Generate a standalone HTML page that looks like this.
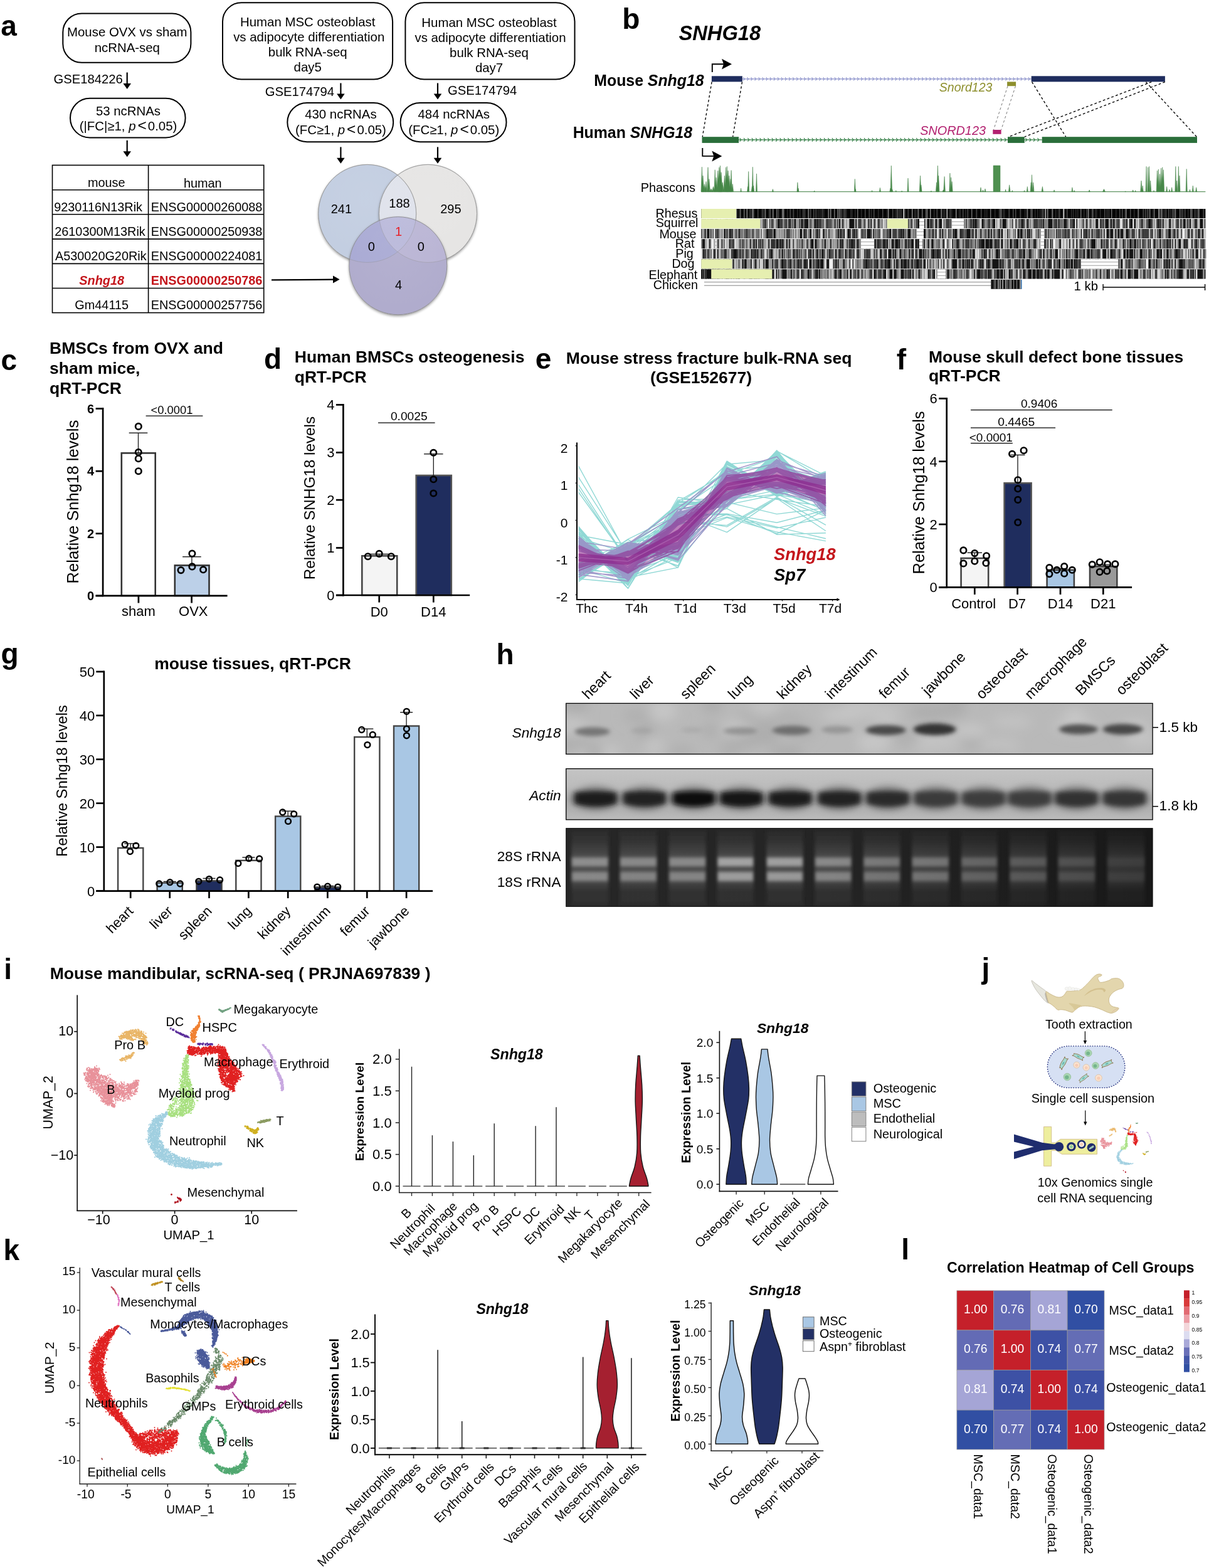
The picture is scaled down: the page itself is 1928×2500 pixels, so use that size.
<!DOCTYPE html>
<html lang="en"><head><meta charset="utf-8"><title>Figure</title>
<style>
html,body{margin:0;padding:0;background:#fff;}
body{width:1928px;height:2500px;overflow:hidden;}
svg{display:block;font-family:"Liberation Sans",sans-serif;fill:#000;}
svg text{white-space:pre;}
</style></head><body>
<svg width="1928" height="2500" viewBox="0 0 1928 2500">
<rect width="1928" height="2500" fill="#fff"/>
<g id="pa" font-size="19.7">
<text x="1.2" y="57.4" font-size="46" font-weight="bold">a</text>
<rect x="100.3" y="21.4" width="204.1" height="78.4" fill="#fff" stroke="#000" stroke-width="2.0" rx="30"/>
<text x="202.8" y="58.4" font-size="20.4" text-anchor="middle">Mouse OVX vs sham</text>
<text x="202.8" y="82.6" font-size="20.4" text-anchor="middle">ncRNA-seq</text>
<text x="85.5" y="133.4" font-size="20.25">GSE184226</text>
<line x1="202.7" y1="115.5" x2="202.7" y2="134" stroke="#000" stroke-width="2.2"/>
<path d="M196.4 133L209 133L202.7 142Z" fill="#000"/>
<rect x="112" y="156.8" width="183.6" height="62.7" fill="#fff" stroke="#000" stroke-width="2.0" rx="31.3"/>
<text x="204.5" y="183.9" font-size="20.4" text-anchor="middle">53 ncRNAs</text>
<text x="204.5" y="207.5" text-anchor="middle" font-size="20.4">(|FC|≥1, <tspan font-style="italic">p</tspan><tspan dx="3" font-size="24.5">&lt;</tspan><tspan dx="2">0.05)</tspan></text>
<line x1="202.7" y1="223.8" x2="202.7" y2="242.3" stroke="#000" stroke-width="2.2"/>
<path d="M196.4 241.3L209 241.3L202.7 250.3Z" fill="#000"/>
<rect x="83.5" y="263.4" width="337.2" height="235.2" fill="#fff" stroke="#000" stroke-width="1.6"/>
<line x1="236.6" y1="263.4" x2="236.6" y2="498.6" stroke="#000" stroke-width="1.6"/>
<line x1="83.5" y1="302.7" x2="420.7" y2="302.7" stroke="#000" stroke-width="1.6"/>
<line x1="83.5" y1="341.8" x2="420.7" y2="341.8" stroke="#000" stroke-width="1.6"/>
<line x1="83.5" y1="381.1" x2="420.7" y2="381.1" stroke="#000" stroke-width="1.6"/>
<line x1="83.5" y1="420.4" x2="420.7" y2="420.4" stroke="#000" stroke-width="1.6"/>
<line x1="83.5" y1="459.5" x2="420.7" y2="459.5" stroke="#000" stroke-width="1.6"/>
<text x="169.8" y="297.8" font-size="19.85" text-anchor="middle">mouse</text>
<text x="323.3" y="298.6" font-size="19.85" text-anchor="middle">human</text>
<text x="156.6" y="336.8" font-size="19.85" text-anchor="middle">9230116N13Rik</text>
<text x="329.6" y="336.8" font-size="19.85" text-anchor="middle">ENSG00000260088</text>
<text x="159.5" y="375.9" font-size="19.85" text-anchor="middle">2610300M13Rik</text>
<text x="329.6" y="375.9" font-size="19.85" text-anchor="middle">ENSG00000250938</text>
<text x="160.8" y="415" font-size="19.85" text-anchor="middle">A530020G20Rik</text>
<text x="329.6" y="415" font-size="19.85" text-anchor="middle">ENSG00000224081</text>
<text x="162.2" y="453.7" font-size="19.85" text-anchor="middle" font-weight="bold" font-style="italic" fill="#c4161c">Snhg18</text>
<text x="329.6" y="453.7" font-size="19.85" text-anchor="middle" font-weight="bold" fill="#c4161c">ENSG00000250786</text>
<text x="162.2" y="492.5" font-size="19.85" text-anchor="middle">Gm44115</text>
<text x="329.6" y="492.5" font-size="19.85" text-anchor="middle">ENSG00000257756</text>
<rect x="355" y="4.3" width="271.1" height="122.2" fill="#fff" stroke="#000" stroke-width="2.0" rx="30"/>
<rect x="646.4" y="4.3" width="270.1" height="122.2" fill="#fff" stroke="#000" stroke-width="2.0" rx="30"/>
<text x="490.7" y="42" font-size="20.4" text-anchor="middle">Human MSC osteoblast</text>
<text x="492.7" y="65.9" font-size="20.4" text-anchor="middle">vs adipocyte differentiation</text>
<text x="490.7" y="90.1" font-size="20.4" text-anchor="middle">bulk RNA-seq</text>
<text x="490.7" y="114" font-size="20.4" text-anchor="middle">day5</text>
<text x="780" y="43.3" font-size="20.4" text-anchor="middle">Human MSC osteoblast</text>
<text x="782" y="67.2" font-size="20.4" text-anchor="middle">vs adipocyte differentiation</text>
<text x="780" y="91.4" font-size="20.4" text-anchor="middle">bulk RNA-seq</text>
<text x="780" y="115.3" font-size="20.4" text-anchor="middle">day7</text>
<text x="422.7" y="153.2" font-size="20.25">GSE174794</text>
<text x="714" y="151.4" font-size="20.25">GSE174794</text>
<line x1="543.4" y1="132.5" x2="543.4" y2="150.5" stroke="#000" stroke-width="2.2"/>
<path d="M537.1 149.5L549.7 149.5L543.4 158.5Z" fill="#000"/>
<line x1="698" y1="132.5" x2="698" y2="150.5" stroke="#000" stroke-width="2.2"/>
<path d="M691.7 149.5L704.3 149.5L698 158.5Z" fill="#000"/>
<rect x="458.3" y="163.9" width="168.9" height="62.3" fill="#fff" stroke="#000" stroke-width="2.0" rx="31.2"/>
<rect x="638.6" y="163.9" width="168.9" height="62.3" fill="#fff" stroke="#000" stroke-width="2.0" rx="31.2"/>
<text x="543.4" y="188.8" font-size="20.4" text-anchor="middle">430 ncRNAs</text>
<text x="543.4" y="213.8" text-anchor="middle" font-size="20.4">(FC≥1, <tspan font-style="italic">p</tspan><tspan dx="3" font-size="24.5">&lt;</tspan><tspan dx="2">0.05)</tspan></text>
<text x="723.7" y="188.8" font-size="20.4" text-anchor="middle">484 ncRNAs</text>
<text x="723.7" y="213.8" text-anchor="middle" font-size="20.4">(FC≥1, <tspan font-style="italic">p</tspan><tspan dx="3" font-size="24.5">&lt;</tspan><tspan dx="2">0.05)</tspan></text>
<line x1="543.4" y1="234.4" x2="543.4" y2="252.8" stroke="#000" stroke-width="2.2"/>
<path d="M537.1 251.8L549.7 251.8L543.4 260.8Z" fill="#000"/>
<line x1="698" y1="234.4" x2="698" y2="252.8" stroke="#000" stroke-width="2.2"/>
<path d="M691.7 251.8L704.3 251.8L698 260.8Z" fill="#000"/>
<defs><filter id="vsh" x="-20%" y="-20%" width="140%" height="140%"><feGaussianBlur in="SourceAlpha" stdDeviation="2.2"/><feOffset dx="0" dy="1.5"/><feComponentTransfer><feFuncA type="linear" slope="0.45"/></feComponentTransfer><feMerge><feMergeNode/><feMergeNode in="SourceGraphic"/></feMerge></filter></defs>
<defs><clipPath id="vA"><circle cx="585.7" cy="340.4" r="78"/></clipPath><clipPath id="vB"><circle cx="682.5" cy="340.4" r="78"/></clipPath><radialGradient id="vg" cx="0.5" cy="0.35" r="0.75"><stop offset="0" stop-color="#fff" stop-opacity="0.06"/><stop offset="0.8" stop-color="#fff" stop-opacity="0"/><stop offset="1" stop-color="#000" stop-opacity="0.05"/></radialGradient></defs>
<g filter="url(#vsh)"><circle cx="585.7" cy="340.4" r="78" fill="#c3cee1"/>
</g><g filter="url(#vsh)"><circle cx="682.5" cy="340.4" r="78" fill="#e6e5e4"/>
</g><g clip-path="url(#vA)"><circle cx="682.5" cy="340.4" r="78" fill="#dfe2eb"/>
</g><circle cx="585.7" cy="340.4" r="78" fill="none" stroke="#8f8f8f" stroke-width="1" stroke-opacity="0.8"/>
<circle cx="682.5" cy="340.4" r="78" fill="none" stroke="#8f8f8f" stroke-width="1" stroke-opacity="0.8"/>
<g filter="url(#vsh)"><circle cx="634.8" cy="423.7" r="78" fill="#b0accd"/>
</g><g clip-path="url(#vA)"><circle cx="634.8" cy="423.7" r="78" fill="#a9aad4"/>
</g><g clip-path="url(#vB)"><circle cx="634.8" cy="423.7" r="78" fill="#b9b4d4"/>
</g><g clip-path="url(#vA)"><g clip-path="url(#vB)"><circle cx="634.8" cy="423.7" r="78" fill="#b9b8da"/>
</g></g><circle cx="585.7" cy="340.4" r="78" fill="url(#vg)"/>
<circle cx="682.5" cy="340.4" r="78" fill="url(#vg)"/>
<circle cx="634.8" cy="423.7" r="78" fill="url(#vg)"/>
<circle cx="585.7" cy="340.4" r="78" fill="none" stroke="#8f8f8f" stroke-width="0.9" stroke-opacity="0.45"/>
<circle cx="682.5" cy="340.4" r="78" fill="none" stroke="#8f8f8f" stroke-width="0.9" stroke-opacity="0.45"/>
<circle cx="634.8" cy="423.7" r="78" fill="none" stroke="#8a8a8a" stroke-width="1" stroke-opacity="0.85"/>

<text x="544.4" y="339.7" font-size="20" text-anchor="middle">241</text>
<text x="637" y="330.5" font-size="20" text-anchor="middle">188</text>
<text x="718.9" y="339.7" font-size="20" text-anchor="middle">295</text>
<text x="635.5" y="376.2" font-size="20" text-anchor="middle" fill="#e8222a">1</text>
<text x="592.3" y="399.6" font-size="20" text-anchor="middle">0</text>
<text x="671.3" y="399.6" font-size="20" text-anchor="middle">0</text>
<text x="635.5" y="461.4" font-size="20" text-anchor="middle">4</text>
<line x1="433" y1="446.4" x2="532" y2="445.6" stroke="#000" stroke-width="2.2"/>
<path d="M531 439.6L541.6 445.6L531 451.6Z" fill="#000"/>
</g>
<g id="pb">
<text x="992.2" y="46" font-size="46" font-weight="bold">b</text>
<text x="1082.5" y="64.4" font-size="32.66" font-weight="bold" font-style="italic">SNHG18</text>
<line x1="1183.8" y1="125.9" x2="1644.7" y2="125.9" stroke="#8f95cc" stroke-width="1.25"/>
<path d="M1185.3 123.4l2.1 2.5l-2.1 2.5M1191.4 123.4l2.1 2.5l-2.1 2.5M1197.5 123.4l2.1 2.5l-2.1 2.5M1203.5 123.4l2.1 2.5l-2.1 2.5M1209.6 123.4l2.1 2.5l-2.1 2.5M1215.6 123.4l2.1 2.5l-2.1 2.5M1221.7 123.4l2.1 2.5l-2.1 2.5M1227.8 123.4l2.1 2.5l-2.1 2.5M1233.8 123.4l2.1 2.5l-2.1 2.5M1239.9 123.4l2.1 2.5l-2.1 2.5M1245.9 123.4l2.1 2.5l-2.1 2.5M1252 123.4l2.1 2.5l-2.1 2.5M1258.1 123.4l2.1 2.5l-2.1 2.5M1264.1 123.4l2.1 2.5l-2.1 2.5M1270.2 123.4l2.1 2.5l-2.1 2.5M1276.2 123.4l2.1 2.5l-2.1 2.5M1282.3 123.4l2.1 2.5l-2.1 2.5M1288.4 123.4l2.1 2.5l-2.1 2.5M1294.4 123.4l2.1 2.5l-2.1 2.5M1300.5 123.4l2.1 2.5l-2.1 2.5M1306.5 123.4l2.1 2.5l-2.1 2.5M1312.6 123.4l2.1 2.5l-2.1 2.5M1318.7 123.4l2.1 2.5l-2.1 2.5M1324.7 123.4l2.1 2.5l-2.1 2.5M1330.8 123.4l2.1 2.5l-2.1 2.5M1336.8 123.4l2.1 2.5l-2.1 2.5M1342.9 123.4l2.1 2.5l-2.1 2.5M1349 123.4l2.1 2.5l-2.1 2.5M1355 123.4l2.1 2.5l-2.1 2.5M1361.1 123.4l2.1 2.5l-2.1 2.5M1367.1 123.4l2.1 2.5l-2.1 2.5M1373.2 123.4l2.1 2.5l-2.1 2.5M1379.3 123.4l2.1 2.5l-2.1 2.5M1385.3 123.4l2.1 2.5l-2.1 2.5M1391.4 123.4l2.1 2.5l-2.1 2.5M1397.4 123.4l2.1 2.5l-2.1 2.5M1403.5 123.4l2.1 2.5l-2.1 2.5M1409.6 123.4l2.1 2.5l-2.1 2.5M1415.6 123.4l2.1 2.5l-2.1 2.5M1421.7 123.4l2.1 2.5l-2.1 2.5M1427.7 123.4l2.1 2.5l-2.1 2.5M1433.8 123.4l2.1 2.5l-2.1 2.5M1439.9 123.4l2.1 2.5l-2.1 2.5M1445.9 123.4l2.1 2.5l-2.1 2.5M1452 123.4l2.1 2.5l-2.1 2.5M1458 123.4l2.1 2.5l-2.1 2.5M1464.1 123.4l2.1 2.5l-2.1 2.5M1470.2 123.4l2.1 2.5l-2.1 2.5M1476.2 123.4l2.1 2.5l-2.1 2.5M1482.3 123.4l2.1 2.5l-2.1 2.5M1488.3 123.4l2.1 2.5l-2.1 2.5M1494.4 123.4l2.1 2.5l-2.1 2.5M1500.5 123.4l2.1 2.5l-2.1 2.5M1506.5 123.4l2.1 2.5l-2.1 2.5M1512.6 123.4l2.1 2.5l-2.1 2.5M1518.6 123.4l2.1 2.5l-2.1 2.5M1524.7 123.4l2.1 2.5l-2.1 2.5M1530.8 123.4l2.1 2.5l-2.1 2.5M1536.8 123.4l2.1 2.5l-2.1 2.5M1542.9 123.4l2.1 2.5l-2.1 2.5M1548.9 123.4l2.1 2.5l-2.1 2.5M1555 123.4l2.1 2.5l-2.1 2.5M1561.1 123.4l2.1 2.5l-2.1 2.5M1567.1 123.4l2.1 2.5l-2.1 2.5M1573.2 123.4l2.1 2.5l-2.1 2.5M1579.2 123.4l2.1 2.5l-2.1 2.5M1585.3 123.4l2.1 2.5l-2.1 2.5M1591.4 123.4l2.1 2.5l-2.1 2.5M1597.4 123.4l2.1 2.5l-2.1 2.5M1603.5 123.4l2.1 2.5l-2.1 2.5M1609.5 123.4l2.1 2.5l-2.1 2.5M1615.6 123.4l2.1 2.5l-2.1 2.5M1621.7 123.4l2.1 2.5l-2.1 2.5M1627.7 123.4l2.1 2.5l-2.1 2.5M1633.8 123.4l2.1 2.5l-2.1 2.5M1639.8 123.4l2.1 2.5l-2.1 2.5" fill="none" stroke="#8f95cc" stroke-width="1.125"/>
<rect x="1134.9" y="121.3" width="48.9" height="9.1" fill="#1f2d5e"/>
<rect x="1644.7" y="121.3" width="213.2" height="9.1" fill="#1f2d5e"/>
<path d="M1135.8 115L1135.8 102.2L1155 102.2" fill="none" stroke="#000" stroke-width="1.9"/>
<path d="M1151 93.8L1167 102.2L1151 110.6L1154 102.2Z" fill="#000"/>
<text x="1122.6" y="137.2" text-anchor="end" font-size="24.85" font-weight="bold">Mouse <tspan font-style="italic">Snhg18</tspan></text>
<text x="1104.2" y="219.7" text-anchor="end" font-size="24.85" font-weight="bold">Human <tspan font-style="italic">SNHG18</tspan></text>
<line x1="1178.1" y1="222.9" x2="1607" y2="222.9" stroke="#2d7a40" stroke-width="1.2"/>
<path d="M1179.6 220.1l2.3 2.8l-2.3 2.8M1186 220.1l2.3 2.8l-2.3 2.8M1192.4 220.1l2.3 2.8l-2.3 2.8M1198.8 220.1l2.3 2.8l-2.3 2.8M1205.2 220.1l2.3 2.8l-2.3 2.8M1211.6 220.1l2.3 2.8l-2.3 2.8M1218 220.1l2.3 2.8l-2.3 2.8M1224.4 220.1l2.3 2.8l-2.3 2.8M1230.8 220.1l2.3 2.8l-2.3 2.8M1237.2 220.1l2.3 2.8l-2.3 2.8M1243.6 220.1l2.3 2.8l-2.3 2.8M1250 220.1l2.3 2.8l-2.3 2.8M1256.4 220.1l2.3 2.8l-2.3 2.8M1262.8 220.1l2.3 2.8l-2.3 2.8M1269.2 220.1l2.3 2.8l-2.3 2.8M1275.6 220.1l2.3 2.8l-2.3 2.8M1282 220.1l2.3 2.8l-2.3 2.8M1288.4 220.1l2.3 2.8l-2.3 2.8M1294.8 220.1l2.3 2.8l-2.3 2.8M1301.2 220.1l2.3 2.8l-2.3 2.8M1307.6 220.1l2.3 2.8l-2.3 2.8M1314 220.1l2.3 2.8l-2.3 2.8M1320.4 220.1l2.3 2.8l-2.3 2.8M1326.8 220.1l2.3 2.8l-2.3 2.8M1333.2 220.1l2.3 2.8l-2.3 2.8M1339.6 220.1l2.3 2.8l-2.3 2.8M1346 220.1l2.3 2.8l-2.3 2.8M1352.4 220.1l2.3 2.8l-2.3 2.8M1358.8 220.1l2.3 2.8l-2.3 2.8M1365.2 220.1l2.3 2.8l-2.3 2.8M1371.6 220.1l2.3 2.8l-2.3 2.8M1378 220.1l2.3 2.8l-2.3 2.8M1384.4 220.1l2.3 2.8l-2.3 2.8M1390.8 220.1l2.3 2.8l-2.3 2.8M1397.2 220.1l2.3 2.8l-2.3 2.8M1403.6 220.1l2.3 2.8l-2.3 2.8M1410 220.1l2.3 2.8l-2.3 2.8M1416.4 220.1l2.3 2.8l-2.3 2.8M1422.8 220.1l2.3 2.8l-2.3 2.8M1429.2 220.1l2.3 2.8l-2.3 2.8M1435.6 220.1l2.3 2.8l-2.3 2.8M1442 220.1l2.3 2.8l-2.3 2.8M1448.4 220.1l2.3 2.8l-2.3 2.8M1454.8 220.1l2.3 2.8l-2.3 2.8M1461.2 220.1l2.3 2.8l-2.3 2.8M1467.6 220.1l2.3 2.8l-2.3 2.8M1474 220.1l2.3 2.8l-2.3 2.8M1480.4 220.1l2.3 2.8l-2.3 2.8M1486.8 220.1l2.3 2.8l-2.3 2.8M1493.2 220.1l2.3 2.8l-2.3 2.8M1499.6 220.1l2.3 2.8l-2.3 2.8M1506 220.1l2.3 2.8l-2.3 2.8M1512.4 220.1l2.3 2.8l-2.3 2.8M1518.8 220.1l2.3 2.8l-2.3 2.8M1525.2 220.1l2.3 2.8l-2.3 2.8M1531.6 220.1l2.3 2.8l-2.3 2.8M1538 220.1l2.3 2.8l-2.3 2.8M1544.4 220.1l2.3 2.8l-2.3 2.8M1550.8 220.1l2.3 2.8l-2.3 2.8M1557.2 220.1l2.3 2.8l-2.3 2.8M1563.6 220.1l2.3 2.8l-2.3 2.8M1570 220.1l2.3 2.8l-2.3 2.8M1576.4 220.1l2.3 2.8l-2.3 2.8M1582.8 220.1l2.3 2.8l-2.3 2.8M1589.2 220.1l2.3 2.8l-2.3 2.8M1595.6 220.1l2.3 2.8l-2.3 2.8M1602 220.1l2.3 2.8l-2.3 2.8" fill="none" stroke="#2d7a40" stroke-width="1.08"/>
<line x1="1633.8" y1="222.9" x2="1661.7" y2="222.9" stroke="#2d7a40" stroke-width="1.2"/>
<path d="M1635.3 220.1l2.3 2.8l-2.3 2.8M1641.7 220.1l2.3 2.8l-2.3 2.8M1648.1 220.1l2.3 2.8l-2.3 2.8M1654.5 220.1l2.3 2.8l-2.3 2.8" fill="none" stroke="#2d7a40" stroke-width="1.08"/>
<rect x="1119.5" y="218.2" width="58.6" height="9.7" fill="#2a6e3a"/>
<rect x="1607" y="218.2" width="26.8" height="9.7" fill="#2a6e3a"/>
<rect x="1661.7" y="218.2" width="247.3" height="9.7" fill="#2a6e3a"/>
<path d="M1120.3 236L1120.3 248.9L1139 248.9" fill="none" stroke="#000" stroke-width="1.9"/>
<path d="M1135.3 240.4L1151.3 248.9L1135.3 257.4L1138.3 248.9Z" fill="#000"/>
<rect x="1606.1" y="130.4" width="14" height="6.8" fill="#8d8f2d"/>
<text x="1497.8" y="146.4" font-size="19.51" font-style="italic" fill="#8d8f2d">Snord123</text>
<rect x="1583.3" y="207" width="13.3" height="6.8" fill="#b2206f"/>
<text x="1467.2" y="215.3" font-size="19.85" font-style="italic" fill="#b2206f">SNORD123</text>
<line x1="1135.1" y1="130.6" x2="1120.2" y2="218.2" stroke="#000" stroke-width="1.35" stroke-dasharray="3.8 3.4"/>
<line x1="1183.5" y1="130.6" x2="1168.6" y2="218.2" stroke="#000" stroke-width="1.35" stroke-dasharray="3.8 3.4"/>
<line x1="1607" y1="137.2" x2="1584.5" y2="207" stroke="#777" stroke-width="1" stroke-dasharray="3.8 3.4"/>
<line x1="1619.5" y1="137.2" x2="1596.6" y2="207" stroke="#777" stroke-width="1" stroke-dasharray="3.8 3.4"/>
<line x1="1645.6" y1="130.6" x2="1699.7" y2="218.2" stroke="#000" stroke-width="1.35" stroke-dasharray="3.8 3.4"/>
<line x1="1836.3" y1="130.6" x2="1608.2" y2="218.2" stroke="#000" stroke-width="1.35" stroke-dasharray="3.8 3.4"/>
<line x1="1857.9" y1="130.6" x2="1633.8" y2="218.2" stroke="#000" stroke-width="1.35" stroke-dasharray="3.8 3.4"/>
<line x1="1827.4" y1="130.6" x2="1908.4" y2="218.2" stroke="#000" stroke-width="1.35" stroke-dasharray="3.8 3.4"/>
<path d="M1118 305.7L1119.4 266.2L1120.7 305.7ZM1119.4 305.7L1121 280.1L1122.6 305.7ZM1121.2 305.7L1123.4 293.4L1125.5 305.7ZM1124.4 305.7L1126 289.4L1127.6 305.7ZM1127.6 305.7L1129 266.7L1130.3 305.7ZM1129.3 305.7L1130.9 285.4L1132.5 305.7ZM1131.9 305.7L1134.1 300.9L1136.2 305.7ZM1135.4 305.7L1137.5 297.5L1139.7 305.7ZM1138.9 305.7L1140.2 270.7L1141.5 305.7ZM1140.5 305.7L1142.1 282.8L1143.7 305.7ZM1142.9 305.7L1144.8 272.1L1146.6 305.7ZM1144.8 305.7L1146.9 266.7L1149 305.7ZM1146.6 305.7L1148.5 264.1L1150.4 305.7ZM1148 305.7L1150.1 274.7L1152.2 305.7ZM1150.1 305.7L1152.2 290.8L1154.4 305.7ZM1153.8 305.7L1155.4 280.1L1157 305.7ZM1156 305.7L1157.6 266.7L1159.2 305.7ZM1157.8 305.7L1159.4 265.4L1161.1 305.7ZM1159.2 305.7L1161.1 272.1L1162.9 305.7ZM1161.3 305.7L1162.9 280.1L1164.5 305.7ZM1163.7 305.7L1165.1 285.4L1166.4 305.7ZM1164.8 305.7L1166.1 271.5L1167.5 305.7ZM1166.9 305.7L1168.3 293.4L1169.6 305.7ZM1180.8 305.7L1181.6 300.1L1182.4 305.7ZM1192.6 305.7L1193.7 273.4L1194.7 305.7ZM1191.5 305.7L1192.6 297.5L1193.7 305.7ZM1199.3 305.7L1200.3 266.2L1201.4 305.7ZM1198.2 305.7L1199.3 297.5L1200.3 305.7ZM1200.6 305.7L1201.7 296.1L1202.7 305.7ZM1205.4 305.7L1206.5 276.9L1207.5 305.7ZM1231.3 305.7L1232.4 301.5L1233.5 305.7ZM1270.9 305.7L1271.9 290.8L1273 305.7ZM1271.9 305.7L1273 300.1L1274.1 305.7ZM1297.6 305.7L1298.7 304.1L1299.7 305.7ZM1362.3 305.7L1363.3 285.4L1364.4 305.7ZM1363.6 305.7L1364.4 301.5L1365.2 305.7ZM1389.8 305.7L1390.6 303.6L1391.4 305.7ZM1402.4 305.7L1403.4 299.3L1404.5 305.7ZM1420 305.7L1421.3 264.1L1422.7 305.7ZM1418.7 305.7L1420 300.1L1421.3 305.7ZM1421.3 305.7L1422.7 301.5L1424 305.7ZM1428 305.7L1428.8 303.6L1429.6 305.7ZM1437.4 305.7L1438.2 304.1L1439 305.7ZM1447 305.7L1448 284.1L1449.1 305.7ZM1466.2 305.7L1467.6 280.1L1468.9 305.7ZM1467.6 305.7L1468.9 294.8L1470.2 305.7ZM1484.1 305.7L1484.9 304.1L1485.7 305.7ZM1492.4 305.7L1493.5 290.8L1494.6 305.7ZM1494 305.7L1495.4 264.1L1496.7 305.7ZM1495.4 305.7L1496.7 280.1L1498 305.7ZM1504.7 305.7L1506.1 281.4L1507.4 305.7ZM1502.9 305.7L1504.2 302.8L1505.5 305.7ZM1513.8 305.7L1514.9 276.1L1515.9 305.7ZM1515.7 305.7L1516.7 282.8L1517.8 305.7ZM1517 305.7L1518.1 289.4L1519.2 305.7ZM1563 305.7L1564 298.8L1565.1 305.7ZM1566.5 305.7L1567.5 302.8L1568.6 305.7ZM1569.9 305.7L1571 300.9L1572.1 305.7ZM1602.8 305.7L1603.6 302L1604.4 305.7ZM1608.4 305.7L1609.7 294.8L1611.1 305.7ZM1613.5 305.7L1614.3 303.6L1615.1 305.7ZM1632.7 305.7L1633.5 303.6L1634.3 305.7ZM1637.3 305.7L1638.3 297.5L1639.4 305.7ZM1643.1 305.7L1644.2 290.8L1645.3 305.7ZM1644.5 305.7L1645.5 278.7L1646.6 305.7ZM1646.4 305.7L1647.7 290.8L1649 305.7ZM1661 305.7L1662.4 297.5L1663.7 305.7ZM1680 305.7L1681.1 302.8L1682.2 305.7ZM1708.9 305.7L1709.9 298.8L1711 305.7ZM1712.1 305.7L1713.2 303.6L1714.2 305.7ZM1735.9 305.7L1737.2 302.8L1738.5 305.7ZM1758.3 305.7L1760.5 301.5L1762.6 305.7ZM1793.9 305.7L1794.7 304.7L1795.5 305.7ZM1805.6 305.7L1806.7 302.8L1807.8 305.7ZM1809.9 305.7L1810.7 303.6L1811.5 305.7ZM1818.7 305.7L1820 288.1L1821.4 305.7ZM1821.1 305.7L1822.2 296.1L1823.3 305.7ZM1827 305.7L1828.1 265.4L1829.1 305.7ZM1829.9 305.7L1830.7 266.7L1831.5 305.7ZM1831.5 305.7L1832.6 265.4L1833.7 305.7ZM1833.7 305.7L1834.7 288.1L1835.8 305.7ZM1839.3 305.7L1840.1 303.6L1840.9 305.7ZM1844.1 305.7L1845.4 272.1L1846.8 305.7ZM1846 305.7L1847.3 269.9L1848.6 305.7ZM1848.1 305.7L1849.4 277.4L1850.8 305.7ZM1850.2 305.7L1851.6 268.1L1852.9 305.7ZM1852.1 305.7L1853.7 266.7L1855.3 305.7ZM1854 305.7L1855.3 270.7L1856.7 305.7ZM1859.6 305.7L1860.7 297.5L1861.7 305.7ZM1863.9 305.7L1864.9 302L1866 305.7ZM1867.6 305.7L1868.7 298.8L1869.7 305.7ZM1873.8 305.7L1874.8 265.4L1875.9 305.7ZM1875.6 305.7L1876.7 288.1L1877.8 305.7ZM1878.3 305.7L1879.4 265.4L1880.4 305.7ZM1879.9 305.7L1881 280.1L1882 305.7ZM1891.1 305.7L1892.2 269.4L1893.3 305.7ZM1896.7 305.7L1897.5 302L1898.3 305.7ZM1901.3 305.7L1902.3 296.1L1903.4 305.7ZM1906.6 305.7L1907.7 298.8L1908.8 305.7ZM1584.1 305.7V264H1595V305.7Z" fill="#4f9050" stroke="#3a7d3e" stroke-width="0.5"/>
<line x1="1118.3" y1="305.7" x2="1922.4" y2="305.7" stroke="#3a7d3e" stroke-width="1"/>
<text x="1109" y="306.3" font-size="19.9" text-anchor="end">Phascons</text>
<rect x="1118.3" y="333" width="804.1" height="15" fill="#060606"/>
<rect x="1118.3" y="349.1" width="804.1" height="15" fill="#6c6c6c"/>
<rect x="1118.3" y="365.1" width="804.1" height="15" fill="#6c6c6c"/>
<rect x="1118.3" y="381.2" width="804.1" height="15" fill="#6c6c6c"/>
<rect x="1118.3" y="397.2" width="804.1" height="15" fill="#6c6c6c"/>
<rect x="1118.3" y="413.3" width="804.1" height="15" fill="#6c6c6c"/>
<rect x="1118.3" y="429.4" width="804.1" height="15" fill="#6c6c6c"/>
<path d="M1120.3 349.1h2v15h-2zM1123.3 349.1h2v15h-2zM1128.3 349.1h1v15h-1zM1133.3 349.1h2v15h-2zM1135.3 349.1h2v15h-2zM1141.3 349.1h2v15h-2zM1149.3 349.1h1v15h-1zM1157.3 349.1h1v15h-1zM1158.3 349.1h2v15h-2zM1160.3 349.1h1v15h-1zM1162.3 349.1h1v15h-1zM1167.3 349.1h1v15h-1zM1168.3 349.1h1v15h-1zM1180.3 349.1h1v15h-1zM1181.3 349.1h2v15h-2zM1185.3 349.1h2v15h-2zM1188.3 349.1h2v15h-2zM1191.3 349.1h1v15h-1zM1192.3 349.1h1v15h-1zM1196.3 349.1h1v15h-1zM1201.3 349.1h1v15h-1zM1207.3 349.1h2v15h-2zM1211.3 349.1h1v15h-1zM1216.3 349.1h1v15h-1zM1219.3 349.1h1v15h-1zM1221.3 349.1h1v15h-1zM1223.3 349.1h1v15h-1zM1227.3 349.1h1v15h-1zM1230.3 349.1h1v15h-1zM1231.3 349.1h1v15h-1zM1233.3 349.1h1v15h-1zM1237.3 349.1h1v15h-1zM1240.3 349.1h2v15h-2zM1242.3 349.1h1v15h-1zM1257.3 349.1h2v15h-2zM1266.3 349.1h1v15h-1zM1267.3 349.1h2v15h-2zM1277.3 349.1h1v15h-1zM1278.3 349.1h2v15h-2zM1283.3 349.1h2v15h-2zM1285.3 349.1h1v15h-1zM1286.3 349.1h1v15h-1zM1287.3 349.1h2v15h-2zM1290.3 349.1h1v15h-1zM1292.3 349.1h1v15h-1zM1298.3 349.1h1v15h-1zM1299.3 349.1h1v15h-1zM1300.3 349.1h1v15h-1zM1302.3 349.1h1v15h-1zM1303.3 349.1h1v15h-1zM1309.3 349.1h1v15h-1zM1318.3 349.1h1v15h-1zM1335.3 349.1h1v15h-1zM1338.3 349.1h2v15h-2zM1343.3 349.1h1v15h-1zM1354.3 349.1h2v15h-2zM1356.3 349.1h1v15h-1zM1357.3 349.1h1v15h-1zM1358.3 349.1h1v15h-1zM1359.3 349.1h1v15h-1zM1360.3 349.1h2v15h-2zM1364.3 349.1h2v15h-2zM1376.3 349.1h1v15h-1zM1378.3 349.1h2v15h-2zM1384.3 349.1h2v15h-2zM1388.3 349.1h2v15h-2zM1402.3 349.1h1v15h-1zM1420.3 349.1h2v15h-2zM1424.3 349.1h1v15h-1zM1425.3 349.1h1v15h-1zM1426.3 349.1h1v15h-1zM1428.3 349.1h1v15h-1zM1429.3 349.1h2v15h-2zM1431.3 349.1h1v15h-1zM1432.3 349.1h1v15h-1zM1439.3 349.1h1v15h-1zM1448.3 349.1h1v15h-1zM1453.3 349.1h1v15h-1zM1454.3 349.1h1v15h-1zM1457.3 349.1h1v15h-1zM1463.3 349.1h1v15h-1zM1464.3 349.1h2v15h-2zM1473.3 349.1h2v15h-2zM1478.3 349.1h1v15h-1zM1479.3 349.1h1v15h-1zM1480.3 349.1h1v15h-1zM1481.3 349.1h1v15h-1zM1483.3 349.1h2v15h-2zM1491.3 349.1h2v15h-2zM1493.3 349.1h1v15h-1zM1497.3 349.1h1v15h-1zM1498.3 349.1h2v15h-2zM1500.3 349.1h1v15h-1zM1501.3 349.1h1v15h-1zM1512.3 349.1h1v15h-1zM1515.3 349.1h1v15h-1zM1522.3 349.1h1v15h-1zM1528.3 349.1h2v15h-2zM1532.3 349.1h1v15h-1zM1545.3 349.1h1v15h-1zM1547.3 349.1h2v15h-2zM1551.3 349.1h2v15h-2zM1554.3 349.1h1v15h-1zM1555.3 349.1h2v15h-2zM1560.3 349.1h1v15h-1zM1565.3 349.1h1v15h-1zM1566.3 349.1h2v15h-2zM1576.3 349.1h1v15h-1zM1583.3 349.1h2v15h-2zM1585.3 349.1h2v15h-2zM1589.3 349.1h1v15h-1zM1598.3 349.1h1v15h-1zM1599.3 349.1h2v15h-2zM1601.3 349.1h2v15h-2zM1603.3 349.1h1v15h-1zM1610.3 349.1h1v15h-1zM1614.3 349.1h1v15h-1zM1619.3 349.1h2v15h-2zM1628.3 349.1h2v15h-2zM1630.3 349.1h1v15h-1zM1638.3 349.1h2v15h-2zM1648.3 349.1h1v15h-1zM1650.3 349.1h1v15h-1zM1654.3 349.1h1v15h-1zM1656.3 349.1h1v15h-1zM1663.3 349.1h2v15h-2zM1666.3 349.1h1v15h-1zM1671.3 349.1h2v15h-2zM1673.3 349.1h1v15h-1zM1674.3 349.1h1v15h-1zM1675.3 349.1h2v15h-2zM1677.3 349.1h1v15h-1zM1685.3 349.1h1v15h-1zM1687.3 349.1h2v15h-2zM1696.3 349.1h1v15h-1zM1697.3 349.1h1v15h-1zM1698.3 349.1h2v15h-2zM1701.3 349.1h1v15h-1zM1711.3 349.1h1v15h-1zM1712.3 349.1h1v15h-1zM1713.3 349.1h1v15h-1zM1716.3 349.1h1v15h-1zM1717.3 349.1h1v15h-1zM1725.3 349.1h1v15h-1zM1731.3 349.1h2v15h-2zM1734.3 349.1h1v15h-1zM1747.3 349.1h2v15h-2zM1749.3 349.1h1v15h-1zM1750.3 349.1h1v15h-1zM1754.3 349.1h2v15h-2zM1762.3 349.1h1v15h-1zM1763.3 349.1h1v15h-1zM1764.3 349.1h1v15h-1zM1765.3 349.1h1v15h-1zM1766.3 349.1h2v15h-2zM1771.3 349.1h2v15h-2zM1775.3 349.1h2v15h-2zM1783.3 349.1h1v15h-1zM1791.3 349.1h1v15h-1zM1796.3 349.1h2v15h-2zM1802.3 349.1h2v15h-2zM1804.3 349.1h2v15h-2zM1808.3 349.1h2v15h-2zM1810.3 349.1h1v15h-1zM1822.3 349.1h1v15h-1zM1824.3 349.1h1v15h-1zM1831.3 349.1h1v15h-1zM1832.3 349.1h1v15h-1zM1833.3 349.1h1v15h-1zM1834.3 349.1h1v15h-1zM1844.3 349.1h1v15h-1zM1846.3 349.1h1v15h-1zM1847.3 349.1h1v15h-1zM1855.3 349.1h1v15h-1zM1864.3 349.1h2v15h-2zM1866.3 349.1h1v15h-1zM1882.3 349.1h2v15h-2zM1887.3 349.1h2v15h-2zM1889.3 349.1h1v15h-1zM1897.3 349.1h2v15h-2zM1906.3 349.1h2v15h-2zM1913.3 349.1h1v15h-1zM1914.3 349.1h2v15h-2zM1916.3 349.1h1v15h-1zM1917.3 349.1h1v15h-1zM1118.3 365.1h1v15h-1zM1123.3 365.1h1v15h-1zM1125.3 365.1h1v15h-1zM1127.3 365.1h2v15h-2zM1129.3 365.1h2v15h-2zM1137.3 365.1h1v15h-1zM1141.3 365.1h1v15h-1zM1144.3 365.1h1v15h-1zM1145.3 365.1h1v15h-1zM1147.3 365.1h1v15h-1zM1154.3 365.1h2v15h-2zM1156.3 365.1h1v15h-1zM1158.3 365.1h2v15h-2zM1163.3 365.1h2v15h-2zM1173.3 365.1h1v15h-1zM1179.3 365.1h1v15h-1zM1183.3 365.1h1v15h-1zM1209.3 365.1h1v15h-1zM1222.3 365.1h2v15h-2zM1224.3 365.1h1v15h-1zM1226.3 365.1h1v15h-1zM1229.3 365.1h1v15h-1zM1231.3 365.1h1v15h-1zM1233.3 365.1h2v15h-2zM1235.3 365.1h2v15h-2zM1238.3 365.1h1v15h-1zM1242.3 365.1h1v15h-1zM1248.3 365.1h1v15h-1zM1255.3 365.1h1v15h-1zM1262.3 365.1h1v15h-1zM1272.3 365.1h1v15h-1zM1275.3 365.1h1v15h-1zM1276.3 365.1h1v15h-1zM1277.3 365.1h1v15h-1zM1278.3 365.1h1v15h-1zM1281.3 365.1h2v15h-2zM1289.3 365.1h1v15h-1zM1291.3 365.1h1v15h-1zM1292.3 365.1h2v15h-2zM1296.3 365.1h1v15h-1zM1302.3 365.1h2v15h-2zM1312.3 365.1h2v15h-2zM1314.3 365.1h1v15h-1zM1336.3 365.1h1v15h-1zM1337.3 365.1h1v15h-1zM1339.3 365.1h1v15h-1zM1340.3 365.1h1v15h-1zM1345.3 365.1h1v15h-1zM1346.3 365.1h1v15h-1zM1351.3 365.1h1v15h-1zM1352.3 365.1h1v15h-1zM1353.3 365.1h1v15h-1zM1354.3 365.1h1v15h-1zM1356.3 365.1h1v15h-1zM1359.3 365.1h2v15h-2zM1362.3 365.1h2v15h-2zM1365.3 365.1h2v15h-2zM1376.3 365.1h1v15h-1zM1382.3 365.1h2v15h-2zM1384.3 365.1h2v15h-2zM1386.3 365.1h2v15h-2zM1389.3 365.1h1v15h-1zM1392.3 365.1h2v15h-2zM1396.3 365.1h1v15h-1zM1415.3 365.1h1v15h-1zM1418.3 365.1h1v15h-1zM1419.3 365.1h1v15h-1zM1420.3 365.1h1v15h-1zM1423.3 365.1h1v15h-1zM1436.3 365.1h2v15h-2zM1440.3 365.1h2v15h-2zM1447.3 365.1h1v15h-1zM1448.3 365.1h2v15h-2zM1450.3 365.1h2v15h-2zM1459.3 365.1h1v15h-1zM1470.3 365.1h1v15h-1zM1471.3 365.1h2v15h-2zM1473.3 365.1h1v15h-1zM1474.3 365.1h2v15h-2zM1487.3 365.1h1v15h-1zM1488.3 365.1h1v15h-1zM1492.3 365.1h1v15h-1zM1498.3 365.1h2v15h-2zM1502.3 365.1h2v15h-2zM1512.3 365.1h2v15h-2zM1519.3 365.1h2v15h-2zM1522.3 365.1h2v15h-2zM1524.3 365.1h1v15h-1zM1525.3 365.1h1v15h-1zM1531.3 365.1h2v15h-2zM1538.3 365.1h1v15h-1zM1541.3 365.1h2v15h-2zM1543.3 365.1h2v15h-2zM1545.3 365.1h1v15h-1zM1546.3 365.1h1v15h-1zM1552.3 365.1h1v15h-1zM1555.3 365.1h2v15h-2zM1563.3 365.1h2v15h-2zM1572.3 365.1h1v15h-1zM1575.3 365.1h1v15h-1zM1576.3 365.1h1v15h-1zM1580.3 365.1h2v15h-2zM1584.3 365.1h2v15h-2zM1590.3 365.1h1v15h-1zM1593.3 365.1h2v15h-2zM1596.3 365.1h2v15h-2zM1598.3 365.1h1v15h-1zM1606.3 365.1h2v15h-2zM1610.3 365.1h1v15h-1zM1616.3 365.1h1v15h-1zM1622.3 365.1h1v15h-1zM1623.3 365.1h2v15h-2zM1627.3 365.1h2v15h-2zM1629.3 365.1h1v15h-1zM1634.3 365.1h1v15h-1zM1638.3 365.1h2v15h-2zM1641.3 365.1h2v15h-2zM1659.3 365.1h1v15h-1zM1684.3 365.1h2v15h-2zM1687.3 365.1h1v15h-1zM1694.3 365.1h1v15h-1zM1699.3 365.1h1v15h-1zM1723.3 365.1h2v15h-2zM1729.3 365.1h1v15h-1zM1731.3 365.1h2v15h-2zM1737.3 365.1h1v15h-1zM1740.3 365.1h1v15h-1zM1745.3 365.1h1v15h-1zM1747.3 365.1h1v15h-1zM1751.3 365.1h1v15h-1zM1753.3 365.1h1v15h-1zM1755.3 365.1h1v15h-1zM1764.3 365.1h2v15h-2zM1766.3 365.1h2v15h-2zM1770.3 365.1h1v15h-1zM1771.3 365.1h1v15h-1zM1772.3 365.1h1v15h-1zM1773.3 365.1h2v15h-2zM1778.3 365.1h2v15h-2zM1782.3 365.1h2v15h-2zM1784.3 365.1h1v15h-1zM1787.3 365.1h1v15h-1zM1788.3 365.1h2v15h-2zM1790.3 365.1h1v15h-1zM1795.3 365.1h1v15h-1zM1796.3 365.1h2v15h-2zM1798.3 365.1h1v15h-1zM1800.3 365.1h1v15h-1zM1807.3 365.1h1v15h-1zM1812.3 365.1h1v15h-1zM1815.3 365.1h1v15h-1zM1817.3 365.1h1v15h-1zM1823.3 365.1h1v15h-1zM1834.3 365.1h1v15h-1zM1841.3 365.1h1v15h-1zM1845.3 365.1h1v15h-1zM1848.3 365.1h2v15h-2zM1850.3 365.1h1v15h-1zM1853.3 365.1h1v15h-1zM1863.3 365.1h1v15h-1zM1864.3 365.1h2v15h-2zM1866.3 365.1h1v15h-1zM1871.3 365.1h1v15h-1zM1872.3 365.1h1v15h-1zM1877.3 365.1h2v15h-2zM1895.3 365.1h2v15h-2zM1901.3 365.1h1v15h-1zM1910.3 365.1h1v15h-1zM1911.3 365.1h1v15h-1zM1913.3 365.1h1v15h-1zM1917.3 365.1h1v15h-1zM1918.3 365.1h1v15h-1zM1120.3 381.2h2v15h-2zM1122.3 381.2h2v15h-2zM1130.3 381.2h1v15h-1zM1145.3 381.2h1v15h-1zM1163.3 381.2h2v15h-2zM1166.3 381.2h1v15h-1zM1179.3 381.2h1v15h-1zM1183.3 381.2h1v15h-1zM1190.3 381.2h1v15h-1zM1203.3 381.2h1v15h-1zM1205.3 381.2h2v15h-2zM1209.3 381.2h2v15h-2zM1212.3 381.2h2v15h-2zM1215.3 381.2h2v15h-2zM1225.3 381.2h2v15h-2zM1230.3 381.2h2v15h-2zM1233.3 381.2h2v15h-2zM1238.3 381.2h1v15h-1zM1239.3 381.2h2v15h-2zM1243.3 381.2h2v15h-2zM1247.3 381.2h2v15h-2zM1254.3 381.2h2v15h-2zM1259.3 381.2h1v15h-1zM1278.3 381.2h1v15h-1zM1293.3 381.2h2v15h-2zM1295.3 381.2h2v15h-2zM1299.3 381.2h1v15h-1zM1300.3 381.2h2v15h-2zM1304.3 381.2h1v15h-1zM1311.3 381.2h1v15h-1zM1315.3 381.2h1v15h-1zM1316.3 381.2h1v15h-1zM1325.3 381.2h1v15h-1zM1334.3 381.2h1v15h-1zM1339.3 381.2h2v15h-2zM1343.3 381.2h2v15h-2zM1351.3 381.2h1v15h-1zM1354.3 381.2h1v15h-1zM1357.3 381.2h1v15h-1zM1358.3 381.2h2v15h-2zM1361.3 381.2h2v15h-2zM1366.3 381.2h1v15h-1zM1367.3 381.2h1v15h-1zM1372.3 381.2h2v15h-2zM1374.3 381.2h1v15h-1zM1381.3 381.2h1v15h-1zM1382.3 381.2h1v15h-1zM1385.3 381.2h2v15h-2zM1387.3 381.2h1v15h-1zM1392.3 381.2h2v15h-2zM1395.3 381.2h2v15h-2zM1399.3 381.2h1v15h-1zM1400.3 381.2h1v15h-1zM1403.3 381.2h1v15h-1zM1408.3 381.2h2v15h-2zM1410.3 381.2h1v15h-1zM1412.3 381.2h1v15h-1zM1414.3 381.2h2v15h-2zM1422.3 381.2h1v15h-1zM1423.3 381.2h2v15h-2zM1427.3 381.2h1v15h-1zM1428.3 381.2h2v15h-2zM1430.3 381.2h1v15h-1zM1431.3 381.2h1v15h-1zM1433.3 381.2h1v15h-1zM1434.3 381.2h1v15h-1zM1439.3 381.2h1v15h-1zM1444.3 381.2h2v15h-2zM1449.3 381.2h1v15h-1zM1453.3 381.2h1v15h-1zM1454.3 381.2h1v15h-1zM1455.3 381.2h1v15h-1zM1456.3 381.2h1v15h-1zM1459.3 381.2h2v15h-2zM1461.3 381.2h1v15h-1zM1463.3 381.2h1v15h-1zM1464.3 381.2h1v15h-1zM1473.3 381.2h1v15h-1zM1474.3 381.2h1v15h-1zM1480.3 381.2h2v15h-2zM1485.3 381.2h2v15h-2zM1487.3 381.2h1v15h-1zM1504.3 381.2h2v15h-2zM1518.3 381.2h2v15h-2zM1526.3 381.2h2v15h-2zM1528.3 381.2h1v15h-1zM1540.3 381.2h1v15h-1zM1542.3 381.2h1v15h-1zM1545.3 381.2h1v15h-1zM1559.3 381.2h1v15h-1zM1561.3 381.2h2v15h-2zM1564.3 381.2h2v15h-2zM1566.3 381.2h1v15h-1zM1567.3 381.2h1v15h-1zM1568.3 381.2h2v15h-2zM1571.3 381.2h1v15h-1zM1572.3 381.2h2v15h-2zM1574.3 381.2h2v15h-2zM1576.3 381.2h1v15h-1zM1578.3 381.2h2v15h-2zM1580.3 381.2h2v15h-2zM1587.3 381.2h2v15h-2zM1591.3 381.2h1v15h-1zM1593.3 381.2h1v15h-1zM1596.3 381.2h1v15h-1zM1597.3 381.2h1v15h-1zM1598.3 381.2h1v15h-1zM1602.3 381.2h1v15h-1zM1610.3 381.2h1v15h-1zM1611.3 381.2h2v15h-2zM1620.3 381.2h1v15h-1zM1621.3 381.2h1v15h-1zM1622.3 381.2h2v15h-2zM1627.3 381.2h1v15h-1zM1631.3 381.2h1v15h-1zM1644.3 381.2h1v15h-1zM1649.3 381.2h1v15h-1zM1650.3 381.2h2v15h-2zM1653.3 381.2h1v15h-1zM1667.3 381.2h1v15h-1zM1674.3 381.2h2v15h-2zM1690.3 381.2h1v15h-1zM1691.3 381.2h1v15h-1zM1701.3 381.2h1v15h-1zM1716.3 381.2h2v15h-2zM1735.3 381.2h1v15h-1zM1740.3 381.2h1v15h-1zM1741.3 381.2h2v15h-2zM1743.3 381.2h1v15h-1zM1744.3 381.2h1v15h-1zM1745.3 381.2h2v15h-2zM1748.3 381.2h1v15h-1zM1755.3 381.2h1v15h-1zM1756.3 381.2h1v15h-1zM1761.3 381.2h1v15h-1zM1773.3 381.2h1v15h-1zM1778.3 381.2h2v15h-2zM1790.3 381.2h2v15h-2zM1801.3 381.2h2v15h-2zM1803.3 381.2h1v15h-1zM1808.3 381.2h1v15h-1zM1809.3 381.2h2v15h-2zM1814.3 381.2h1v15h-1zM1823.3 381.2h1v15h-1zM1825.3 381.2h1v15h-1zM1830.3 381.2h2v15h-2zM1833.3 381.2h2v15h-2zM1839.3 381.2h2v15h-2zM1849.3 381.2h2v15h-2zM1857.3 381.2h1v15h-1zM1861.3 381.2h2v15h-2zM1865.3 381.2h2v15h-2zM1873.3 381.2h1v15h-1zM1874.3 381.2h1v15h-1zM1879.3 381.2h2v15h-2zM1881.3 381.2h2v15h-2zM1888.3 381.2h2v15h-2zM1892.3 381.2h2v15h-2zM1901.3 381.2h1v15h-1zM1907.3 381.2h2v15h-2zM1914.3 381.2h1v15h-1zM1120.3 397.2h1v15h-1zM1121.3 397.2h1v15h-1zM1123.3 397.2h1v15h-1zM1125.3 397.2h1v15h-1zM1127.3 397.2h1v15h-1zM1130.3 397.2h1v15h-1zM1139.3 397.2h2v15h-2zM1143.3 397.2h1v15h-1zM1145.3 397.2h1v15h-1zM1155.3 397.2h1v15h-1zM1156.3 397.2h1v15h-1zM1169.3 397.2h1v15h-1zM1170.3 397.2h1v15h-1zM1171.3 397.2h2v15h-2zM1173.3 397.2h2v15h-2zM1176.3 397.2h1v15h-1zM1185.3 397.2h1v15h-1zM1189.3 397.2h1v15h-1zM1197.3 397.2h2v15h-2zM1203.3 397.2h1v15h-1zM1204.3 397.2h1v15h-1zM1207.3 397.2h1v15h-1zM1208.3 397.2h1v15h-1zM1210.3 397.2h1v15h-1zM1214.3 397.2h1v15h-1zM1217.3 397.2h1v15h-1zM1223.3 397.2h1v15h-1zM1227.3 397.2h1v15h-1zM1229.3 397.2h1v15h-1zM1230.3 397.2h2v15h-2zM1243.3 397.2h1v15h-1zM1247.3 397.2h2v15h-2zM1264.3 397.2h2v15h-2zM1275.3 397.2h1v15h-1zM1282.3 397.2h1v15h-1zM1284.3 397.2h1v15h-1zM1289.3 397.2h1v15h-1zM1291.3 397.2h2v15h-2zM1296.3 397.2h2v15h-2zM1303.3 397.2h1v15h-1zM1304.3 397.2h1v15h-1zM1310.3 397.2h1v15h-1zM1311.3 397.2h2v15h-2zM1321.3 397.2h2v15h-2zM1328.3 397.2h1v15h-1zM1332.3 397.2h2v15h-2zM1337.3 397.2h2v15h-2zM1347.3 397.2h2v15h-2zM1354.3 397.2h2v15h-2zM1367.3 397.2h2v15h-2zM1378.3 397.2h2v15h-2zM1381.3 397.2h2v15h-2zM1385.3 397.2h1v15h-1zM1403.3 397.2h2v15h-2zM1405.3 397.2h1v15h-1zM1412.3 397.2h2v15h-2zM1416.3 397.2h1v15h-1zM1417.3 397.2h1v15h-1zM1418.3 397.2h2v15h-2zM1420.3 397.2h1v15h-1zM1423.3 397.2h2v15h-2zM1427.3 397.2h2v15h-2zM1434.3 397.2h2v15h-2zM1436.3 397.2h1v15h-1zM1438.3 397.2h1v15h-1zM1442.3 397.2h1v15h-1zM1449.3 397.2h2v15h-2zM1455.3 397.2h2v15h-2zM1459.3 397.2h1v15h-1zM1465.3 397.2h2v15h-2zM1467.3 397.2h2v15h-2zM1469.3 397.2h1v15h-1zM1472.3 397.2h2v15h-2zM1486.3 397.2h1v15h-1zM1487.3 397.2h2v15h-2zM1489.3 397.2h1v15h-1zM1492.3 397.2h1v15h-1zM1494.3 397.2h1v15h-1zM1495.3 397.2h2v15h-2zM1498.3 397.2h2v15h-2zM1507.3 397.2h1v15h-1zM1509.3 397.2h1v15h-1zM1512.3 397.2h2v15h-2zM1521.3 397.2h2v15h-2zM1525.3 397.2h1v15h-1zM1527.3 397.2h2v15h-2zM1529.3 397.2h1v15h-1zM1530.3 397.2h2v15h-2zM1535.3 397.2h1v15h-1zM1547.3 397.2h1v15h-1zM1551.3 397.2h1v15h-1zM1552.3 397.2h2v15h-2zM1565.3 397.2h1v15h-1zM1569.3 397.2h2v15h-2zM1582.3 397.2h1v15h-1zM1588.3 397.2h2v15h-2zM1590.3 397.2h2v15h-2zM1593.3 397.2h1v15h-1zM1597.3 397.2h1v15h-1zM1599.3 397.2h1v15h-1zM1602.3 397.2h1v15h-1zM1608.3 397.2h1v15h-1zM1625.3 397.2h2v15h-2zM1629.3 397.2h1v15h-1zM1631.3 397.2h2v15h-2zM1633.3 397.2h1v15h-1zM1637.3 397.2h1v15h-1zM1641.3 397.2h2v15h-2zM1644.3 397.2h1v15h-1zM1647.3 397.2h1v15h-1zM1659.3 397.2h2v15h-2zM1663.3 397.2h2v15h-2zM1675.3 397.2h2v15h-2zM1682.3 397.2h1v15h-1zM1683.3 397.2h2v15h-2zM1685.3 397.2h2v15h-2zM1700.3 397.2h2v15h-2zM1710.3 397.2h1v15h-1zM1715.3 397.2h2v15h-2zM1717.3 397.2h2v15h-2zM1727.3 397.2h2v15h-2zM1729.3 397.2h1v15h-1zM1733.3 397.2h1v15h-1zM1734.3 397.2h1v15h-1zM1735.3 397.2h1v15h-1zM1736.3 397.2h2v15h-2zM1739.3 397.2h1v15h-1zM1740.3 397.2h1v15h-1zM1744.3 397.2h1v15h-1zM1752.3 397.2h1v15h-1zM1758.3 397.2h1v15h-1zM1759.3 397.2h2v15h-2zM1761.3 397.2h1v15h-1zM1762.3 397.2h2v15h-2zM1770.3 397.2h2v15h-2zM1772.3 397.2h2v15h-2zM1781.3 397.2h1v15h-1zM1784.3 397.2h1v15h-1zM1791.3 397.2h1v15h-1zM1792.3 397.2h1v15h-1zM1793.3 397.2h1v15h-1zM1794.3 397.2h1v15h-1zM1796.3 397.2h1v15h-1zM1797.3 397.2h2v15h-2zM1801.3 397.2h2v15h-2zM1803.3 397.2h2v15h-2zM1805.3 397.2h1v15h-1zM1806.3 397.2h1v15h-1zM1808.3 397.2h1v15h-1zM1809.3 397.2h1v15h-1zM1817.3 397.2h2v15h-2zM1819.3 397.2h2v15h-2zM1821.3 397.2h1v15h-1zM1831.3 397.2h1v15h-1zM1839.3 397.2h1v15h-1zM1844.3 397.2h2v15h-2zM1846.3 397.2h2v15h-2zM1850.3 397.2h2v15h-2zM1852.3 397.2h1v15h-1zM1860.3 397.2h2v15h-2zM1862.3 397.2h1v15h-1zM1865.3 397.2h1v15h-1zM1874.3 397.2h1v15h-1zM1875.3 397.2h1v15h-1zM1876.3 397.2h2v15h-2zM1880.3 397.2h1v15h-1zM1891.3 397.2h1v15h-1zM1898.3 397.2h1v15h-1zM1907.3 397.2h2v15h-2zM1909.3 397.2h1v15h-1zM1914.3 397.2h1v15h-1zM1920.3 397.2h1v15h-1zM1119.3 413.3h2v15h-2zM1123.3 413.3h1v15h-1zM1124.3 413.3h2v15h-2zM1130.3 413.3h1v15h-1zM1131.3 413.3h2v15h-2zM1135.3 413.3h2v15h-2zM1137.3 413.3h1v15h-1zM1138.3 413.3h1v15h-1zM1140.3 413.3h2v15h-2zM1144.3 413.3h1v15h-1zM1145.3 413.3h1v15h-1zM1146.3 413.3h1v15h-1zM1147.3 413.3h1v15h-1zM1153.3 413.3h2v15h-2zM1159.3 413.3h1v15h-1zM1163.3 413.3h2v15h-2zM1183.3 413.3h2v15h-2zM1187.3 413.3h2v15h-2zM1189.3 413.3h1v15h-1zM1198.3 413.3h1v15h-1zM1204.3 413.3h2v15h-2zM1217.3 413.3h2v15h-2zM1220.3 413.3h2v15h-2zM1222.3 413.3h2v15h-2zM1224.3 413.3h1v15h-1zM1231.3 413.3h2v15h-2zM1246.3 413.3h2v15h-2zM1248.3 413.3h1v15h-1zM1252.3 413.3h1v15h-1zM1256.3 413.3h1v15h-1zM1260.3 413.3h2v15h-2zM1270.3 413.3h1v15h-1zM1272.3 413.3h1v15h-1zM1273.3 413.3h1v15h-1zM1282.3 413.3h2v15h-2zM1284.3 413.3h1v15h-1zM1286.3 413.3h2v15h-2zM1290.3 413.3h1v15h-1zM1291.3 413.3h2v15h-2zM1293.3 413.3h1v15h-1zM1303.3 413.3h1v15h-1zM1304.3 413.3h2v15h-2zM1308.3 413.3h2v15h-2zM1310.3 413.3h2v15h-2zM1312.3 413.3h1v15h-1zM1318.3 413.3h2v15h-2zM1320.3 413.3h2v15h-2zM1332.3 413.3h2v15h-2zM1344.3 413.3h1v15h-1zM1345.3 413.3h1v15h-1zM1360.3 413.3h1v15h-1zM1380.3 413.3h1v15h-1zM1381.3 413.3h2v15h-2zM1385.3 413.3h1v15h-1zM1398.3 413.3h2v15h-2zM1404.3 413.3h1v15h-1zM1406.3 413.3h1v15h-1zM1411.3 413.3h2v15h-2zM1415.3 413.3h2v15h-2zM1417.3 413.3h2v15h-2zM1419.3 413.3h1v15h-1zM1425.3 413.3h1v15h-1zM1426.3 413.3h1v15h-1zM1429.3 413.3h1v15h-1zM1430.3 413.3h1v15h-1zM1436.3 413.3h1v15h-1zM1437.3 413.3h2v15h-2zM1441.3 413.3h1v15h-1zM1442.3 413.3h2v15h-2zM1444.3 413.3h1v15h-1zM1448.3 413.3h2v15h-2zM1454.3 413.3h2v15h-2zM1457.3 413.3h1v15h-1zM1461.3 413.3h2v15h-2zM1463.3 413.3h2v15h-2zM1468.3 413.3h2v15h-2zM1473.3 413.3h1v15h-1zM1474.3 413.3h2v15h-2zM1492.3 413.3h1v15h-1zM1500.3 413.3h1v15h-1zM1504.3 413.3h2v15h-2zM1510.3 413.3h1v15h-1zM1518.3 413.3h2v15h-2zM1520.3 413.3h2v15h-2zM1522.3 413.3h1v15h-1zM1523.3 413.3h1v15h-1zM1524.3 413.3h2v15h-2zM1530.3 413.3h1v15h-1zM1534.3 413.3h1v15h-1zM1535.3 413.3h2v15h-2zM1542.3 413.3h2v15h-2zM1545.3 413.3h2v15h-2zM1548.3 413.3h1v15h-1zM1549.3 413.3h1v15h-1zM1550.3 413.3h1v15h-1zM1556.3 413.3h1v15h-1zM1562.3 413.3h2v15h-2zM1565.3 413.3h2v15h-2zM1572.3 413.3h1v15h-1zM1575.3 413.3h1v15h-1zM1576.3 413.3h2v15h-2zM1582.3 413.3h2v15h-2zM1584.3 413.3h2v15h-2zM1586.3 413.3h1v15h-1zM1587.3 413.3h1v15h-1zM1588.3 413.3h2v15h-2zM1590.3 413.3h2v15h-2zM1594.3 413.3h2v15h-2zM1611.3 413.3h1v15h-1zM1621.3 413.3h1v15h-1zM1625.3 413.3h1v15h-1zM1626.3 413.3h1v15h-1zM1629.3 413.3h1v15h-1zM1631.3 413.3h2v15h-2zM1637.3 413.3h1v15h-1zM1638.3 413.3h1v15h-1zM1639.3 413.3h2v15h-2zM1641.3 413.3h1v15h-1zM1645.3 413.3h1v15h-1zM1648.3 413.3h1v15h-1zM1652.3 413.3h2v15h-2zM1654.3 413.3h1v15h-1zM1657.3 413.3h2v15h-2zM1664.3 413.3h1v15h-1zM1668.3 413.3h1v15h-1zM1672.3 413.3h1v15h-1zM1673.3 413.3h1v15h-1zM1675.3 413.3h2v15h-2zM1680.3 413.3h1v15h-1zM1685.3 413.3h1v15h-1zM1688.3 413.3h1v15h-1zM1689.3 413.3h1v15h-1zM1690.3 413.3h1v15h-1zM1693.3 413.3h1v15h-1zM1696.3 413.3h1v15h-1zM1697.3 413.3h1v15h-1zM1699.3 413.3h1v15h-1zM1700.3 413.3h1v15h-1zM1701.3 413.3h2v15h-2zM1704.3 413.3h2v15h-2zM1707.3 413.3h2v15h-2zM1709.3 413.3h1v15h-1zM1710.3 413.3h1v15h-1zM1712.3 413.3h2v15h-2zM1714.3 413.3h1v15h-1zM1716.3 413.3h2v15h-2zM1720.3 413.3h1v15h-1zM1724.3 413.3h2v15h-2zM1728.3 413.3h1v15h-1zM1731.3 413.3h1v15h-1zM1732.3 413.3h2v15h-2zM1736.3 413.3h1v15h-1zM1737.3 413.3h1v15h-1zM1738.3 413.3h1v15h-1zM1742.3 413.3h1v15h-1zM1746.3 413.3h1v15h-1zM1747.3 413.3h1v15h-1zM1748.3 413.3h2v15h-2zM1750.3 413.3h2v15h-2zM1752.3 413.3h1v15h-1zM1754.3 413.3h2v15h-2zM1761.3 413.3h1v15h-1zM1762.3 413.3h2v15h-2zM1767.3 413.3h1v15h-1zM1768.3 413.3h2v15h-2zM1777.3 413.3h1v15h-1zM1781.3 413.3h1v15h-1zM1782.3 413.3h1v15h-1zM1787.3 413.3h1v15h-1zM1788.3 413.3h2v15h-2zM1795.3 413.3h1v15h-1zM1831.3 413.3h2v15h-2zM1833.3 413.3h2v15h-2zM1839.3 413.3h2v15h-2zM1843.3 413.3h2v15h-2zM1855.3 413.3h2v15h-2zM1860.3 413.3h2v15h-2zM1864.3 413.3h2v15h-2zM1869.3 413.3h1v15h-1zM1873.3 413.3h2v15h-2zM1880.3 413.3h2v15h-2zM1882.3 413.3h2v15h-2zM1884.3 413.3h2v15h-2zM1887.3 413.3h1v15h-1zM1896.3 413.3h1v15h-1zM1898.3 413.3h1v15h-1zM1902.3 413.3h1v15h-1zM1908.3 413.3h1v15h-1zM1911.3 413.3h1v15h-1zM1914.3 413.3h2v15h-2zM1917.3 413.3h2v15h-2zM1118.3 429.4h2v15h-2zM1124.3 429.4h2v15h-2zM1126.3 429.4h1v15h-1zM1129.3 429.4h2v15h-2zM1143.3 429.4h2v15h-2zM1151.3 429.4h1v15h-1zM1157.3 429.4h1v15h-1zM1158.3 429.4h2v15h-2zM1165.3 429.4h1v15h-1zM1173.3 429.4h2v15h-2zM1176.3 429.4h2v15h-2zM1178.3 429.4h2v15h-2zM1186.3 429.4h1v15h-1zM1197.3 429.4h2v15h-2zM1205.3 429.4h1v15h-1zM1207.3 429.4h1v15h-1zM1209.3 429.4h1v15h-1zM1220.3 429.4h2v15h-2zM1222.3 429.4h2v15h-2zM1224.3 429.4h2v15h-2zM1227.3 429.4h2v15h-2zM1231.3 429.4h2v15h-2zM1233.3 429.4h1v15h-1zM1237.3 429.4h1v15h-1zM1238.3 429.4h1v15h-1zM1241.3 429.4h1v15h-1zM1247.3 429.4h2v15h-2zM1249.3 429.4h1v15h-1zM1250.3 429.4h2v15h-2zM1252.3 429.4h2v15h-2zM1261.3 429.4h2v15h-2zM1265.3 429.4h1v15h-1zM1269.3 429.4h1v15h-1zM1271.3 429.4h2v15h-2zM1277.3 429.4h2v15h-2zM1283.3 429.4h1v15h-1zM1288.3 429.4h2v15h-2zM1290.3 429.4h1v15h-1zM1292.3 429.4h2v15h-2zM1296.3 429.4h1v15h-1zM1299.3 429.4h1v15h-1zM1301.3 429.4h2v15h-2zM1303.3 429.4h1v15h-1zM1306.3 429.4h2v15h-2zM1310.3 429.4h1v15h-1zM1320.3 429.4h1v15h-1zM1331.3 429.4h2v15h-2zM1339.3 429.4h1v15h-1zM1340.3 429.4h1v15h-1zM1341.3 429.4h1v15h-1zM1344.3 429.4h1v15h-1zM1350.3 429.4h2v15h-2zM1355.3 429.4h2v15h-2zM1357.3 429.4h1v15h-1zM1361.3 429.4h1v15h-1zM1364.3 429.4h1v15h-1zM1367.3 429.4h2v15h-2zM1393.3 429.4h1v15h-1zM1394.3 429.4h2v15h-2zM1400.3 429.4h1v15h-1zM1405.3 429.4h1v15h-1zM1409.3 429.4h2v15h-2zM1411.3 429.4h2v15h-2zM1418.3 429.4h2v15h-2zM1420.3 429.4h1v15h-1zM1421.3 429.4h2v15h-2zM1425.3 429.4h2v15h-2zM1427.3 429.4h1v15h-1zM1428.3 429.4h1v15h-1zM1436.3 429.4h1v15h-1zM1437.3 429.4h2v15h-2zM1439.3 429.4h1v15h-1zM1440.3 429.4h1v15h-1zM1444.3 429.4h1v15h-1zM1451.3 429.4h1v15h-1zM1452.3 429.4h1v15h-1zM1455.3 429.4h2v15h-2zM1461.3 429.4h1v15h-1zM1465.3 429.4h2v15h-2zM1473.3 429.4h1v15h-1zM1479.3 429.4h2v15h-2zM1483.3 429.4h1v15h-1zM1488.3 429.4h2v15h-2zM1490.3 429.4h1v15h-1zM1495.3 429.4h1v15h-1zM1496.3 429.4h1v15h-1zM1498.3 429.4h2v15h-2zM1500.3 429.4h2v15h-2zM1503.3 429.4h1v15h-1zM1504.3 429.4h1v15h-1zM1506.3 429.4h1v15h-1zM1507.3 429.4h1v15h-1zM1510.3 429.4h2v15h-2zM1512.3 429.4h1v15h-1zM1516.3 429.4h1v15h-1zM1520.3 429.4h2v15h-2zM1524.3 429.4h1v15h-1zM1538.3 429.4h1v15h-1zM1541.3 429.4h1v15h-1zM1553.3 429.4h2v15h-2zM1558.3 429.4h1v15h-1zM1559.3 429.4h2v15h-2zM1561.3 429.4h2v15h-2zM1575.3 429.4h1v15h-1zM1576.3 429.4h1v15h-1zM1577.3 429.4h1v15h-1zM1579.3 429.4h2v15h-2zM1586.3 429.4h1v15h-1zM1589.3 429.4h1v15h-1zM1590.3 429.4h2v15h-2zM1592.3 429.4h1v15h-1zM1595.3 429.4h2v15h-2zM1597.3 429.4h2v15h-2zM1601.3 429.4h2v15h-2zM1605.3 429.4h1v15h-1zM1608.3 429.4h2v15h-2zM1610.3 429.4h1v15h-1zM1613.3 429.4h1v15h-1zM1620.3 429.4h1v15h-1zM1627.3 429.4h1v15h-1zM1631.3 429.4h1v15h-1zM1632.3 429.4h2v15h-2zM1639.3 429.4h2v15h-2zM1641.3 429.4h2v15h-2zM1643.3 429.4h2v15h-2zM1646.3 429.4h2v15h-2zM1648.3 429.4h1v15h-1zM1649.3 429.4h2v15h-2zM1653.3 429.4h2v15h-2zM1655.3 429.4h2v15h-2zM1659.3 429.4h2v15h-2zM1666.3 429.4h1v15h-1zM1667.3 429.4h1v15h-1zM1670.3 429.4h1v15h-1zM1671.3 429.4h2v15h-2zM1677.3 429.4h1v15h-1zM1678.3 429.4h1v15h-1zM1681.3 429.4h2v15h-2zM1683.3 429.4h1v15h-1zM1684.3 429.4h1v15h-1zM1685.3 429.4h2v15h-2zM1687.3 429.4h2v15h-2zM1689.3 429.4h1v15h-1zM1693.3 429.4h1v15h-1zM1694.3 429.4h1v15h-1zM1700.3 429.4h1v15h-1zM1706.3 429.4h1v15h-1zM1754.3 429.4h2v15h-2zM1760.3 429.4h1v15h-1zM1765.3 429.4h2v15h-2zM1769.3 429.4h1v15h-1zM1778.3 429.4h2v15h-2zM1782.3 429.4h2v15h-2zM1787.3 429.4h1v15h-1zM1788.3 429.4h2v15h-2zM1795.3 429.4h1v15h-1zM1798.3 429.4h2v15h-2zM1800.3 429.4h2v15h-2zM1802.3 429.4h1v15h-1zM1805.3 429.4h1v15h-1zM1808.3 429.4h2v15h-2zM1810.3 429.4h2v15h-2zM1812.3 429.4h2v15h-2zM1814.3 429.4h1v15h-1zM1833.3 429.4h2v15h-2zM1844.3 429.4h1v15h-1zM1853.3 429.4h1v15h-1zM1857.3 429.4h2v15h-2zM1861.3 429.4h2v15h-2zM1868.3 429.4h1v15h-1zM1873.3 429.4h1v15h-1zM1876.3 429.4h1v15h-1zM1879.3 429.4h2v15h-2zM1881.3 429.4h1v15h-1zM1882.3 429.4h2v15h-2zM1884.3 429.4h1v15h-1zM1893.3 429.4h2v15h-2zM1895.3 429.4h1v15h-1zM1899.3 429.4h1v15h-1zM1902.3 429.4h2v15h-2zM1909.3 429.4h2v15h-2zM1911.3 429.4h1v15h-1zM1912.3 429.4h1v15h-1zM1913.3 429.4h2v15h-2zM1915.3 429.4h2v15h-2zM1920.3 429.4h2v15h-2z" fill="#141414"/>
<path d="M1133.3 333h1v15h-1zM1137.3 333h2v15h-2zM1147.3 333h1v15h-1zM1152.3 333h1v15h-1zM1165.3 333h1v15h-1zM1178.3 333h1v15h-1zM1195.3 333h2v15h-2zM1214.3 333h1v15h-1zM1240.3 333h2v15h-2zM1255.3 333h1v15h-1zM1259.3 333h2v15h-2zM1264.3 333h2v15h-2zM1271.3 333h1v15h-1zM1275.3 333h1v15h-1zM1282.3 333h2v15h-2zM1300.3 333h2v15h-2zM1304.3 333h1v15h-1zM1307.3 333h1v15h-1zM1310.3 333h2v15h-2zM1313.3 333h1v15h-1zM1341.3 333h2v15h-2zM1349.3 333h1v15h-1zM1356.3 333h1v15h-1zM1358.3 333h1v15h-1zM1363.3 333h1v15h-1zM1373.3 333h1v15h-1zM1385.3 333h2v15h-2zM1389.3 333h1v15h-1zM1400.3 333h1v15h-1zM1414.3 333h1v15h-1zM1427.3 333h1v15h-1zM1443.3 333h1v15h-1zM1447.3 333h2v15h-2zM1458.3 333h1v15h-1zM1460.3 333h1v15h-1zM1489.3 333h1v15h-1zM1493.3 333h2v15h-2zM1504.3 333h1v15h-1zM1506.3 333h1v15h-1zM1514.3 333h2v15h-2zM1517.3 333h1v15h-1zM1529.3 333h1v15h-1zM1531.3 333h1v15h-1zM1539.3 333h1v15h-1zM1542.3 333h2v15h-2zM1556.3 333h2v15h-2zM1570.3 333h1v15h-1zM1573.3 333h1v15h-1zM1586.3 333h1v15h-1zM1599.3 333h1v15h-1zM1601.3 333h1v15h-1zM1608.3 333h2v15h-2zM1626.3 333h2v15h-2zM1634.3 333h1v15h-1zM1650.3 333h1v15h-1zM1654.3 333h1v15h-1zM1658.3 333h1v15h-1zM1683.3 333h1v15h-1zM1687.3 333h1v15h-1zM1708.3 333h1v15h-1zM1711.3 333h1v15h-1zM1715.3 333h1v15h-1zM1718.3 333h1v15h-1zM1728.3 333h1v15h-1zM1732.3 333h2v15h-2zM1740.3 333h1v15h-1zM1746.3 333h1v15h-1zM1748.3 333h1v15h-1zM1754.3 333h1v15h-1zM1764.3 333h1v15h-1zM1766.3 333h1v15h-1zM1768.3 333h1v15h-1zM1779.3 333h1v15h-1zM1793.3 333h1v15h-1zM1808.3 333h1v15h-1zM1822.3 333h2v15h-2zM1831.3 333h1v15h-1zM1838.3 333h1v15h-1zM1856.3 333h1v15h-1zM1858.3 333h2v15h-2zM1866.3 333h1v15h-1zM1886.3 333h1v15h-1zM1894.3 333h1v15h-1zM1908.3 333h2v15h-2zM1918.3 333h2v15h-2zM1148.3 349.1h1v15h-1zM1155.3 349.1h1v15h-1zM1174.3 349.1h1v15h-1zM1178.3 349.1h2v15h-2zM1183.3 349.1h2v15h-2zM1187.3 349.1h1v15h-1zM1190.3 349.1h1v15h-1zM1198.3 349.1h1v15h-1zM1202.3 349.1h1v15h-1zM1204.3 349.1h1v15h-1zM1205.3 349.1h2v15h-2zM1209.3 349.1h2v15h-2zM1220.3 349.1h1v15h-1zM1243.3 349.1h2v15h-2zM1245.3 349.1h1v15h-1zM1246.3 349.1h2v15h-2zM1250.3 349.1h1v15h-1zM1252.3 349.1h1v15h-1zM1253.3 349.1h1v15h-1zM1254.3 349.1h1v15h-1zM1259.3 349.1h2v15h-2zM1261.3 349.1h1v15h-1zM1263.3 349.1h2v15h-2zM1274.3 349.1h1v15h-1zM1275.3 349.1h1v15h-1zM1282.3 349.1h1v15h-1zM1304.3 349.1h2v15h-2zM1306.3 349.1h1v15h-1zM1307.3 349.1h2v15h-2zM1311.3 349.1h1v15h-1zM1317.3 349.1h1v15h-1zM1319.3 349.1h2v15h-2zM1322.3 349.1h1v15h-1zM1324.3 349.1h1v15h-1zM1330.3 349.1h1v15h-1zM1331.3 349.1h2v15h-2zM1334.3 349.1h1v15h-1zM1337.3 349.1h1v15h-1zM1368.3 349.1h2v15h-2zM1370.3 349.1h2v15h-2zM1372.3 349.1h1v15h-1zM1393.3 349.1h1v15h-1zM1394.3 349.1h2v15h-2zM1399.3 349.1h1v15h-1zM1400.3 349.1h2v15h-2zM1404.3 349.1h1v15h-1zM1413.3 349.1h1v15h-1zM1422.3 349.1h2v15h-2zM1427.3 349.1h1v15h-1zM1440.3 349.1h1v15h-1zM1451.3 349.1h1v15h-1zM1460.3 349.1h2v15h-2zM1466.3 349.1h1v15h-1zM1471.3 349.1h2v15h-2zM1485.3 349.1h2v15h-2zM1508.3 349.1h2v15h-2zM1510.3 349.1h2v15h-2zM1530.3 349.1h1v15h-1zM1533.3 349.1h1v15h-1zM1534.3 349.1h2v15h-2zM1536.3 349.1h2v15h-2zM1540.3 349.1h2v15h-2zM1553.3 349.1h1v15h-1zM1557.3 349.1h2v15h-2zM1568.3 349.1h1v15h-1zM1577.3 349.1h2v15h-2zM1581.3 349.1h1v15h-1zM1595.3 349.1h2v15h-2zM1604.3 349.1h1v15h-1zM1623.3 349.1h1v15h-1zM1625.3 349.1h1v15h-1zM1626.3 349.1h1v15h-1zM1631.3 349.1h2v15h-2zM1633.3 349.1h1v15h-1zM1649.3 349.1h1v15h-1zM1651.3 349.1h1v15h-1zM1652.3 349.1h2v15h-2zM1659.3 349.1h2v15h-2zM1668.3 349.1h1v15h-1zM1681.3 349.1h2v15h-2zM1683.3 349.1h2v15h-2zM1700.3 349.1h1v15h-1zM1706.3 349.1h2v15h-2zM1709.3 349.1h2v15h-2zM1727.3 349.1h2v15h-2zM1737.3 349.1h1v15h-1zM1758.3 349.1h2v15h-2zM1774.3 349.1h1v15h-1zM1780.3 349.1h2v15h-2zM1792.3 349.1h1v15h-1zM1800.3 349.1h2v15h-2zM1816.3 349.1h1v15h-1zM1819.3 349.1h2v15h-2zM1821.3 349.1h1v15h-1zM1829.3 349.1h1v15h-1zM1835.3 349.1h2v15h-2zM1837.3 349.1h1v15h-1zM1840.3 349.1h1v15h-1zM1845.3 349.1h1v15h-1zM1848.3 349.1h2v15h-2zM1850.3 349.1h2v15h-2zM1853.3 349.1h2v15h-2zM1869.3 349.1h1v15h-1zM1871.3 349.1h1v15h-1zM1876.3 349.1h2v15h-2zM1878.3 349.1h2v15h-2zM1893.3 349.1h2v15h-2zM1904.3 349.1h2v15h-2zM1908.3 349.1h1v15h-1zM1920.3 349.1h2v15h-2zM1124.3 365.1h1v15h-1zM1132.3 365.1h1v15h-1zM1165.3 365.1h2v15h-2zM1167.3 365.1h2v15h-2zM1177.3 365.1h2v15h-2zM1180.3 365.1h1v15h-1zM1189.3 365.1h2v15h-2zM1191.3 365.1h1v15h-1zM1200.3 365.1h2v15h-2zM1206.3 365.1h2v15h-2zM1214.3 365.1h1v15h-1zM1225.3 365.1h1v15h-1zM1227.3 365.1h2v15h-2zM1245.3 365.1h1v15h-1zM1250.3 365.1h1v15h-1zM1251.3 365.1h1v15h-1zM1253.3 365.1h1v15h-1zM1256.3 365.1h2v15h-2zM1258.3 365.1h1v15h-1zM1269.3 365.1h1v15h-1zM1283.3 365.1h1v15h-1zM1284.3 365.1h2v15h-2zM1300.3 365.1h1v15h-1zM1306.3 365.1h2v15h-2zM1316.3 365.1h2v15h-2zM1322.3 365.1h1v15h-1zM1341.3 365.1h2v15h-2zM1373.3 365.1h1v15h-1zM1374.3 365.1h1v15h-1zM1378.3 365.1h2v15h-2zM1399.3 365.1h1v15h-1zM1402.3 365.1h1v15h-1zM1408.3 365.1h1v15h-1zM1424.3 365.1h2v15h-2zM1426.3 365.1h2v15h-2zM1428.3 365.1h2v15h-2zM1432.3 365.1h2v15h-2zM1434.3 365.1h2v15h-2zM1438.3 365.1h2v15h-2zM1444.3 365.1h1v15h-1zM1456.3 365.1h1v15h-1zM1461.3 365.1h1v15h-1zM1468.3 365.1h2v15h-2zM1480.3 365.1h1v15h-1zM1482.3 365.1h1v15h-1zM1507.3 365.1h1v15h-1zM1515.3 365.1h2v15h-2zM1530.3 365.1h1v15h-1zM1533.3 365.1h2v15h-2zM1535.3 365.1h2v15h-2zM1549.3 365.1h2v15h-2zM1551.3 365.1h1v15h-1zM1588.3 365.1h1v15h-1zM1591.3 365.1h2v15h-2zM1619.3 365.1h1v15h-1zM1635.3 365.1h1v15h-1zM1637.3 365.1h1v15h-1zM1644.3 365.1h2v15h-2zM1651.3 365.1h1v15h-1zM1655.3 365.1h2v15h-2zM1666.3 365.1h1v15h-1zM1667.3 365.1h2v15h-2zM1671.3 365.1h2v15h-2zM1688.3 365.1h1v15h-1zM1691.3 365.1h1v15h-1zM1697.3 365.1h2v15h-2zM1702.3 365.1h1v15h-1zM1703.3 365.1h2v15h-2zM1705.3 365.1h1v15h-1zM1709.3 365.1h1v15h-1zM1710.3 365.1h1v15h-1zM1711.3 365.1h1v15h-1zM1713.3 365.1h1v15h-1zM1716.3 365.1h2v15h-2zM1720.3 365.1h1v15h-1zM1727.3 365.1h2v15h-2zM1741.3 365.1h2v15h-2zM1749.3 365.1h2v15h-2zM1752.3 365.1h1v15h-1zM1756.3 365.1h1v15h-1zM1760.3 365.1h2v15h-2zM1786.3 365.1h1v15h-1zM1804.3 365.1h2v15h-2zM1806.3 365.1h1v15h-1zM1809.3 365.1h1v15h-1zM1816.3 365.1h1v15h-1zM1821.3 365.1h2v15h-2zM1824.3 365.1h2v15h-2zM1826.3 365.1h2v15h-2zM1828.3 365.1h2v15h-2zM1830.3 365.1h2v15h-2zM1836.3 365.1h2v15h-2zM1859.3 365.1h1v15h-1zM1869.3 365.1h1v15h-1zM1883.3 365.1h2v15h-2zM1893.3 365.1h1v15h-1zM1899.3 365.1h2v15h-2zM1906.3 365.1h2v15h-2zM1912.3 365.1h1v15h-1zM1131.3 381.2h2v15h-2zM1140.3 381.2h2v15h-2zM1150.3 381.2h1v15h-1zM1168.3 381.2h2v15h-2zM1170.3 381.2h1v15h-1zM1180.3 381.2h1v15h-1zM1186.3 381.2h1v15h-1zM1195.3 381.2h2v15h-2zM1197.3 381.2h1v15h-1zM1200.3 381.2h2v15h-2zM1202.3 381.2h1v15h-1zM1229.3 381.2h1v15h-1zM1237.3 381.2h1v15h-1zM1245.3 381.2h2v15h-2zM1253.3 381.2h1v15h-1zM1257.3 381.2h2v15h-2zM1264.3 381.2h2v15h-2zM1271.3 381.2h1v15h-1zM1279.3 381.2h1v15h-1zM1287.3 381.2h2v15h-2zM1314.3 381.2h1v15h-1zM1323.3 381.2h2v15h-2zM1328.3 381.2h1v15h-1zM1331.3 381.2h1v15h-1zM1341.3 381.2h2v15h-2zM1353.3 381.2h1v15h-1zM1355.3 381.2h2v15h-2zM1360.3 381.2h1v15h-1zM1368.3 381.2h2v15h-2zM1375.3 381.2h2v15h-2zM1388.3 381.2h2v15h-2zM1390.3 381.2h1v15h-1zM1391.3 381.2h1v15h-1zM1394.3 381.2h1v15h-1zM1398.3 381.2h1v15h-1zM1401.3 381.2h2v15h-2zM1411.3 381.2h1v15h-1zM1418.3 381.2h1v15h-1zM1421.3 381.2h1v15h-1zM1437.3 381.2h1v15h-1zM1442.3 381.2h2v15h-2zM1447.3 381.2h2v15h-2zM1452.3 381.2h1v15h-1zM1462.3 381.2h1v15h-1zM1465.3 381.2h2v15h-2zM1496.3 381.2h1v15h-1zM1510.3 381.2h1v15h-1zM1524.3 381.2h2v15h-2zM1530.3 381.2h1v15h-1zM1535.3 381.2h1v15h-1zM1536.3 381.2h1v15h-1zM1539.3 381.2h1v15h-1zM1541.3 381.2h1v15h-1zM1543.3 381.2h2v15h-2zM1547.3 381.2h1v15h-1zM1548.3 381.2h1v15h-1zM1551.3 381.2h1v15h-1zM1554.3 381.2h2v15h-2zM1563.3 381.2h1v15h-1zM1585.3 381.2h2v15h-2zM1590.3 381.2h1v15h-1zM1592.3 381.2h1v15h-1zM1606.3 381.2h2v15h-2zM1616.3 381.2h2v15h-2zM1618.3 381.2h2v15h-2zM1625.3 381.2h1v15h-1zM1632.3 381.2h2v15h-2zM1640.3 381.2h2v15h-2zM1648.3 381.2h1v15h-1zM1663.3 381.2h1v15h-1zM1664.3 381.2h1v15h-1zM1665.3 381.2h2v15h-2zM1670.3 381.2h2v15h-2zM1677.3 381.2h1v15h-1zM1678.3 381.2h1v15h-1zM1688.3 381.2h1v15h-1zM1689.3 381.2h1v15h-1zM1705.3 381.2h2v15h-2zM1711.3 381.2h2v15h-2zM1721.3 381.2h2v15h-2zM1723.3 381.2h2v15h-2zM1725.3 381.2h1v15h-1zM1730.3 381.2h1v15h-1zM1734.3 381.2h1v15h-1zM1763.3 381.2h1v15h-1zM1764.3 381.2h1v15h-1zM1765.3 381.2h1v15h-1zM1766.3 381.2h2v15h-2zM1770.3 381.2h1v15h-1zM1794.3 381.2h1v15h-1zM1797.3 381.2h1v15h-1zM1806.3 381.2h1v15h-1zM1811.3 381.2h1v15h-1zM1817.3 381.2h2v15h-2zM1821.3 381.2h2v15h-2zM1826.3 381.2h1v15h-1zM1828.3 381.2h1v15h-1zM1841.3 381.2h2v15h-2zM1854.3 381.2h1v15h-1zM1859.3 381.2h2v15h-2zM1869.3 381.2h2v15h-2zM1890.3 381.2h2v15h-2zM1899.3 381.2h1v15h-1zM1905.3 381.2h2v15h-2zM1916.3 381.2h2v15h-2zM1918.3 381.2h2v15h-2zM1122.3 397.2h1v15h-1zM1129.3 397.2h1v15h-1zM1137.3 397.2h2v15h-2zM1149.3 397.2h1v15h-1zM1157.3 397.2h2v15h-2zM1162.3 397.2h1v15h-1zM1166.3 397.2h2v15h-2zM1168.3 397.2h1v15h-1zM1178.3 397.2h1v15h-1zM1179.3 397.2h2v15h-2zM1181.3 397.2h1v15h-1zM1183.3 397.2h2v15h-2zM1190.3 397.2h2v15h-2zM1199.3 397.2h2v15h-2zM1201.3 397.2h2v15h-2zM1205.3 397.2h1v15h-1zM1212.3 397.2h2v15h-2zM1215.3 397.2h1v15h-1zM1226.3 397.2h1v15h-1zM1228.3 397.2h1v15h-1zM1246.3 397.2h1v15h-1zM1250.3 397.2h2v15h-2zM1256.3 397.2h2v15h-2zM1266.3 397.2h2v15h-2zM1269.3 397.2h2v15h-2zM1271.3 397.2h2v15h-2zM1274.3 397.2h1v15h-1zM1277.3 397.2h2v15h-2zM1280.3 397.2h1v15h-1zM1285.3 397.2h1v15h-1zM1288.3 397.2h1v15h-1zM1301.3 397.2h2v15h-2zM1306.3 397.2h1v15h-1zM1307.3 397.2h1v15h-1zM1315.3 397.2h1v15h-1zM1318.3 397.2h2v15h-2zM1323.3 397.2h1v15h-1zM1324.3 397.2h2v15h-2zM1339.3 397.2h2v15h-2zM1341.3 397.2h1v15h-1zM1343.3 397.2h2v15h-2zM1349.3 397.2h1v15h-1zM1356.3 397.2h2v15h-2zM1360.3 397.2h2v15h-2zM1383.3 397.2h1v15h-1zM1384.3 397.2h1v15h-1zM1386.3 397.2h2v15h-2zM1393.3 397.2h2v15h-2zM1397.3 397.2h2v15h-2zM1409.3 397.2h2v15h-2zM1444.3 397.2h1v15h-1zM1453.3 397.2h2v15h-2zM1460.3 397.2h1v15h-1zM1461.3 397.2h1v15h-1zM1462.3 397.2h1v15h-1zM1475.3 397.2h2v15h-2zM1479.3 397.2h1v15h-1zM1484.3 397.2h1v15h-1zM1485.3 397.2h1v15h-1zM1491.3 397.2h1v15h-1zM1503.3 397.2h2v15h-2zM1508.3 397.2h1v15h-1zM1540.3 397.2h2v15h-2zM1546.3 397.2h1v15h-1zM1554.3 397.2h1v15h-1zM1571.3 397.2h1v15h-1zM1572.3 397.2h2v15h-2zM1577.3 397.2h2v15h-2zM1605.3 397.2h2v15h-2zM1607.3 397.2h1v15h-1zM1613.3 397.2h2v15h-2zM1615.3 397.2h2v15h-2zM1623.3 397.2h1v15h-1zM1627.3 397.2h1v15h-1zM1634.3 397.2h1v15h-1zM1643.3 397.2h1v15h-1zM1657.3 397.2h1v15h-1zM1665.3 397.2h1v15h-1zM1669.3 397.2h2v15h-2zM1694.3 397.2h1v15h-1zM1697.3 397.2h1v15h-1zM1705.3 397.2h1v15h-1zM1713.3 397.2h2v15h-2zM1721.3 397.2h2v15h-2zM1725.3 397.2h1v15h-1zM1741.3 397.2h2v15h-2zM1746.3 397.2h1v15h-1zM1749.3 397.2h1v15h-1zM1750.3 397.2h2v15h-2zM1766.3 397.2h2v15h-2zM1774.3 397.2h2v15h-2zM1776.3 397.2h2v15h-2zM1778.3 397.2h1v15h-1zM1783.3 397.2h1v15h-1zM1785.3 397.2h1v15h-1zM1823.3 397.2h2v15h-2zM1832.3 397.2h2v15h-2zM1848.3 397.2h1v15h-1zM1849.3 397.2h1v15h-1zM1856.3 397.2h1v15h-1zM1863.3 397.2h1v15h-1zM1868.3 397.2h1v15h-1zM1873.3 397.2h1v15h-1zM1878.3 397.2h2v15h-2zM1884.3 397.2h1v15h-1zM1901.3 397.2h1v15h-1zM1902.3 397.2h2v15h-2zM1906.3 397.2h1v15h-1zM1918.3 397.2h1v15h-1zM1922.3 397.2h1v15h-1zM1128.3 413.3h2v15h-2zM1161.3 413.3h1v15h-1zM1162.3 413.3h1v15h-1zM1168.3 413.3h1v15h-1zM1169.3 413.3h2v15h-2zM1173.3 413.3h1v15h-1zM1196.3 413.3h1v15h-1zM1197.3 413.3h1v15h-1zM1203.3 413.3h1v15h-1zM1225.3 413.3h1v15h-1zM1236.3 413.3h2v15h-2zM1238.3 413.3h1v15h-1zM1239.3 413.3h2v15h-2zM1249.3 413.3h2v15h-2zM1251.3 413.3h1v15h-1zM1258.3 413.3h2v15h-2zM1266.3 413.3h2v15h-2zM1275.3 413.3h2v15h-2zM1277.3 413.3h2v15h-2zM1285.3 413.3h1v15h-1zM1296.3 413.3h1v15h-1zM1297.3 413.3h2v15h-2zM1300.3 413.3h1v15h-1zM1301.3 413.3h2v15h-2zM1306.3 413.3h1v15h-1zM1328.3 413.3h2v15h-2zM1336.3 413.3h2v15h-2zM1346.3 413.3h1v15h-1zM1355.3 413.3h1v15h-1zM1359.3 413.3h1v15h-1zM1372.3 413.3h1v15h-1zM1376.3 413.3h2v15h-2zM1378.3 413.3h2v15h-2zM1383.3 413.3h2v15h-2zM1387.3 413.3h1v15h-1zM1389.3 413.3h2v15h-2zM1393.3 413.3h1v15h-1zM1394.3 413.3h2v15h-2zM1396.3 413.3h1v15h-1zM1397.3 413.3h1v15h-1zM1405.3 413.3h1v15h-1zM1413.3 413.3h2v15h-2zM1421.3 413.3h1v15h-1zM1431.3 413.3h1v15h-1zM1432.3 413.3h1v15h-1zM1439.3 413.3h2v15h-2zM1445.3 413.3h2v15h-2zM1452.3 413.3h2v15h-2zM1459.3 413.3h2v15h-2zM1465.3 413.3h2v15h-2zM1478.3 413.3h2v15h-2zM1482.3 413.3h2v15h-2zM1495.3 413.3h2v15h-2zM1539.3 413.3h2v15h-2zM1567.3 413.3h2v15h-2zM1573.3 413.3h2v15h-2zM1597.3 413.3h2v15h-2zM1599.3 413.3h2v15h-2zM1607.3 413.3h1v15h-1zM1608.3 413.3h1v15h-1zM1609.3 413.3h2v15h-2zM1617.3 413.3h1v15h-1zM1618.3 413.3h2v15h-2zM1620.3 413.3h1v15h-1zM1622.3 413.3h1v15h-1zM1623.3 413.3h1v15h-1zM1630.3 413.3h1v15h-1zM1670.3 413.3h1v15h-1zM1671.3 413.3h1v15h-1zM1674.3 413.3h1v15h-1zM1681.3 413.3h2v15h-2zM1715.3 413.3h1v15h-1zM1721.3 413.3h2v15h-2zM1723.3 413.3h1v15h-1zM1726.3 413.3h1v15h-1zM1743.3 413.3h1v15h-1zM1745.3 413.3h1v15h-1zM1779.3 413.3h2v15h-2zM1783.3 413.3h1v15h-1zM1784.3 413.3h1v15h-1zM1799.3 413.3h2v15h-2zM1801.3 413.3h1v15h-1zM1802.3 413.3h1v15h-1zM1804.3 413.3h2v15h-2zM1813.3 413.3h1v15h-1zM1815.3 413.3h2v15h-2zM1817.3 413.3h2v15h-2zM1826.3 413.3h1v15h-1zM1837.3 413.3h1v15h-1zM1858.3 413.3h2v15h-2zM1863.3 413.3h1v15h-1zM1879.3 413.3h1v15h-1zM1886.3 413.3h1v15h-1zM1888.3 413.3h2v15h-2zM1895.3 413.3h1v15h-1zM1912.3 413.3h2v15h-2zM1919.3 413.3h1v15h-1zM1920.3 413.3h1v15h-1zM1122.3 429.4h1v15h-1zM1132.3 429.4h2v15h-2zM1134.3 429.4h2v15h-2zM1136.3 429.4h2v15h-2zM1139.3 429.4h2v15h-2zM1145.3 429.4h2v15h-2zM1155.3 429.4h1v15h-1zM1160.3 429.4h1v15h-1zM1161.3 429.4h2v15h-2zM1166.3 429.4h1v15h-1zM1169.3 429.4h2v15h-2zM1194.3 429.4h2v15h-2zM1196.3 429.4h1v15h-1zM1202.3 429.4h1v15h-1zM1203.3 429.4h1v15h-1zM1210.3 429.4h1v15h-1zM1229.3 429.4h2v15h-2zM1279.3 429.4h1v15h-1zM1280.3 429.4h2v15h-2zM1300.3 429.4h1v15h-1zM1316.3 429.4h1v15h-1zM1333.3 429.4h2v15h-2zM1336.3 429.4h1v15h-1zM1337.3 429.4h2v15h-2zM1346.3 429.4h2v15h-2zM1373.3 429.4h2v15h-2zM1386.3 429.4h1v15h-1zM1387.3 429.4h1v15h-1zM1388.3 429.4h1v15h-1zM1389.3 429.4h2v15h-2zM1396.3 429.4h2v15h-2zM1401.3 429.4h1v15h-1zM1402.3 429.4h1v15h-1zM1403.3 429.4h2v15h-2zM1407.3 429.4h2v15h-2zM1443.3 429.4h1v15h-1zM1447.3 429.4h2v15h-2zM1449.3 429.4h2v15h-2zM1468.3 429.4h1v15h-1zM1481.3 429.4h2v15h-2zM1486.3 429.4h2v15h-2zM1502.3 429.4h1v15h-1zM1522.3 429.4h2v15h-2zM1532.3 429.4h1v15h-1zM1540.3 429.4h1v15h-1zM1542.3 429.4h2v15h-2zM1557.3 429.4h1v15h-1zM1564.3 429.4h1v15h-1zM1565.3 429.4h2v15h-2zM1570.3 429.4h2v15h-2zM1572.3 429.4h2v15h-2zM1578.3 429.4h1v15h-1zM1585.3 429.4h1v15h-1zM1593.3 429.4h1v15h-1zM1611.3 429.4h2v15h-2zM1614.3 429.4h1v15h-1zM1621.3 429.4h1v15h-1zM1622.3 429.4h1v15h-1zM1625.3 429.4h1v15h-1zM1634.3 429.4h2v15h-2zM1637.3 429.4h1v15h-1zM1657.3 429.4h2v15h-2zM1661.3 429.4h1v15h-1zM1662.3 429.4h1v15h-1zM1704.3 429.4h1v15h-1zM1707.3 429.4h2v15h-2zM1710.3 429.4h2v15h-2zM1714.3 429.4h1v15h-1zM1719.3 429.4h2v15h-2zM1721.3 429.4h1v15h-1zM1722.3 429.4h2v15h-2zM1725.3 429.4h2v15h-2zM1731.3 429.4h1v15h-1zM1737.3 429.4h1v15h-1zM1748.3 429.4h1v15h-1zM1749.3 429.4h1v15h-1zM1764.3 429.4h1v15h-1zM1767.3 429.4h2v15h-2zM1794.3 429.4h1v15h-1zM1822.3 429.4h2v15h-2zM1824.3 429.4h2v15h-2zM1826.3 429.4h1v15h-1zM1842.3 429.4h2v15h-2zM1851.3 429.4h1v15h-1zM1877.3 429.4h2v15h-2zM1885.3 429.4h2v15h-2zM1892.3 429.4h1v15h-1zM1897.3 429.4h1v15h-1zM1898.3 429.4h1v15h-1zM1900.3 429.4h2v15h-2zM1905.3 429.4h2v15h-2zM1917.3 429.4h2v15h-2z" fill="#3e3e3e"/>
<path d="M1120.3 333h1v15h-1zM1122.3 333h1v15h-1zM1135.3 333h1v15h-1zM1145.3 333h1v15h-1zM1154.3 333h1v15h-1zM1158.3 333h1v15h-1zM1190.3 333h2v15h-2zM1208.3 333h1v15h-1zM1216.3 333h1v15h-1zM1219.3 333h2v15h-2zM1226.3 333h1v15h-1zM1228.3 333h1v15h-1zM1280.3 333h1v15h-1zM1288.3 333h2v15h-2zM1292.3 333h1v15h-1zM1297.3 333h1v15h-1zM1320.3 333h2v15h-2zM1335.3 333h2v15h-2zM1338.3 333h2v15h-2zM1345.3 333h1v15h-1zM1347.3 333h1v15h-1zM1379.3 333h1v15h-1zM1393.3 333h1v15h-1zM1407.3 333h1v15h-1zM1423.3 333h1v15h-1zM1433.3 333h1v15h-1zM1436.3 333h1v15h-1zM1463.3 333h2v15h-2zM1500.3 333h2v15h-2zM1535.3 333h1v15h-1zM1564.3 333h1v15h-1zM1593.3 333h1v15h-1zM1595.3 333h2v15h-2zM1615.3 333h1v15h-1zM1619.3 333h1v15h-1zM1637.3 333h2v15h-2zM1643.3 333h1v15h-1zM1661.3 333h1v15h-1zM1663.3 333h1v15h-1zM1677.3 333h2v15h-2zM1689.3 333h1v15h-1zM1701.3 333h1v15h-1zM1761.3 333h1v15h-1zM1785.3 333h1v15h-1zM1789.3 333h1v15h-1zM1802.3 333h1v15h-1zM1814.3 333h2v15h-2zM1826.3 333h1v15h-1zM1829.3 333h1v15h-1zM1853.3 333h1v15h-1zM1863.3 333h1v15h-1zM1869.3 333h1v15h-1zM1871.3 333h1v15h-1zM1873.3 333h2v15h-2zM1884.3 333h1v15h-1zM1889.3 333h1v15h-1zM1905.3 333h1v15h-1z" fill="#6c6c6c"/>
<path d="M1126.3 333h1v15h-1zM1172.3 333h1v15h-1zM1174.3 333h1v15h-1zM1180.3 333h1v15h-1zM1186.3 333h1v15h-1zM1201.3 333h1v15h-1zM1238.3 333h1v15h-1zM1330.3 333h1v15h-1zM1367.3 333h1v15h-1zM1430.3 333h1v15h-1zM1470.3 333h1v15h-1zM1476.3 333h1v15h-1zM1478.3 333h1v15h-1zM1509.3 333h2v15h-2zM1549.3 333h1v15h-1zM1579.3 333h1v15h-1zM1645.3 333h1v15h-1zM1666.3 333h2v15h-2zM1723.3 333h1v15h-1zM1742.3 333h1v15h-1zM1772.3 333h1v15h-1zM1833.3 333h1v15h-1zM1840.3 333h1v15h-1zM1847.3 333h2v15h-2zM1881.3 333h1v15h-1zM1898.3 333h1v15h-1zM1900.3 333h1v15h-1zM1137.3 349.1h1v15h-1zM1153.3 349.1h1v15h-1zM1164.3 349.1h1v15h-1zM1165.3 349.1h2v15h-2zM1172.3 349.1h2v15h-2zM1193.3 349.1h1v15h-1zM1194.3 349.1h1v15h-1zM1195.3 349.1h1v15h-1zM1199.3 349.1h2v15h-2zM1213.3 349.1h1v15h-1zM1226.3 349.1h1v15h-1zM1228.3 349.1h1v15h-1zM1229.3 349.1h1v15h-1zM1232.3 349.1h1v15h-1zM1238.3 349.1h1v15h-1zM1248.3 349.1h2v15h-2zM1255.3 349.1h1v15h-1zM1256.3 349.1h1v15h-1zM1269.3 349.1h2v15h-2zM1271.3 349.1h1v15h-1zM1272.3 349.1h2v15h-2zM1276.3 349.1h1v15h-1zM1291.3 349.1h1v15h-1zM1294.3 349.1h2v15h-2zM1296.3 349.1h2v15h-2zM1310.3 349.1h1v15h-1zM1316.3 349.1h1v15h-1zM1327.3 349.1h2v15h-2zM1329.3 349.1h1v15h-1zM1362.3 349.1h2v15h-2zM1386.3 349.1h2v15h-2zM1405.3 349.1h2v15h-2zM1410.3 349.1h1v15h-1zM1415.3 349.1h1v15h-1zM1433.3 349.1h1v15h-1zM1437.3 349.1h2v15h-2zM1444.3 349.1h2v15h-2zM1449.3 349.1h2v15h-2zM1452.3 349.1h1v15h-1zM1458.3 349.1h2v15h-2zM1475.3 349.1h1v15h-1zM1482.3 349.1h1v15h-1zM1494.3 349.1h2v15h-2zM1496.3 349.1h1v15h-1zM1506.3 349.1h2v15h-2zM1516.3 349.1h1v15h-1zM1523.3 349.1h2v15h-2zM1526.3 349.1h2v15h-2zM1531.3 349.1h1v15h-1zM1538.3 349.1h2v15h-2zM1543.3 349.1h1v15h-1zM1544.3 349.1h1v15h-1zM1546.3 349.1h1v15h-1zM1559.3 349.1h1v15h-1zM1562.3 349.1h1v15h-1zM1571.3 349.1h2v15h-2zM1579.3 349.1h2v15h-2zM1594.3 349.1h1v15h-1zM1605.3 349.1h2v15h-2zM1624.3 349.1h1v15h-1zM1627.3 349.1h1v15h-1zM1640.3 349.1h2v15h-2zM1642.3 349.1h1v15h-1zM1646.3 349.1h2v15h-2zM1655.3 349.1h1v15h-1zM1669.3 349.1h1v15h-1zM1670.3 349.1h1v15h-1zM1678.3 349.1h1v15h-1zM1695.3 349.1h1v15h-1zM1702.3 349.1h1v15h-1zM1720.3 349.1h1v15h-1zM1723.3 349.1h1v15h-1zM1726.3 349.1h1v15h-1zM1733.3 349.1h1v15h-1zM1740.3 349.1h1v15h-1zM1743.3 349.1h1v15h-1zM1744.3 349.1h1v15h-1zM1746.3 349.1h1v15h-1zM1773.3 349.1h1v15h-1zM1778.3 349.1h2v15h-2zM1789.3 349.1h2v15h-2zM1817.3 349.1h1v15h-1zM1858.3 349.1h2v15h-2zM1863.3 349.1h1v15h-1zM1884.3 349.1h2v15h-2zM1895.3 349.1h1v15h-1zM1909.3 349.1h1v15h-1zM1918.3 349.1h1v15h-1zM1119.3 365.1h2v15h-2zM1121.3 365.1h2v15h-2zM1135.3 365.1h2v15h-2zM1151.3 365.1h2v15h-2zM1160.3 365.1h2v15h-2zM1172.3 365.1h1v15h-1zM1175.3 365.1h2v15h-2zM1203.3 365.1h2v15h-2zM1212.3 365.1h2v15h-2zM1218.3 365.1h2v15h-2zM1267.3 365.1h2v15h-2zM1290.3 365.1h1v15h-1zM1297.3 365.1h2v15h-2zM1299.3 365.1h1v15h-1zM1323.3 365.1h1v15h-1zM1324.3 365.1h2v15h-2zM1326.3 365.1h2v15h-2zM1338.3 365.1h1v15h-1zM1358.3 365.1h1v15h-1zM1364.3 365.1h1v15h-1zM1367.3 365.1h1v15h-1zM1372.3 365.1h1v15h-1zM1377.3 365.1h1v15h-1zM1394.3 365.1h2v15h-2zM1397.3 365.1h2v15h-2zM1411.3 365.1h1v15h-1zM1430.3 365.1h2v15h-2zM1442.3 365.1h1v15h-1zM1446.3 365.1h1v15h-1zM1452.3 365.1h2v15h-2zM1454.3 365.1h2v15h-2zM1457.3 365.1h2v15h-2zM1460.3 365.1h1v15h-1zM1465.3 365.1h2v15h-2zM1476.3 365.1h2v15h-2zM1478.3 365.1h2v15h-2zM1484.3 365.1h1v15h-1zM1497.3 365.1h1v15h-1zM1500.3 365.1h2v15h-2zM1504.3 365.1h1v15h-1zM1505.3 365.1h2v15h-2zM1508.3 365.1h1v15h-1zM1526.3 365.1h1v15h-1zM1537.3 365.1h1v15h-1zM1548.3 365.1h1v15h-1zM1554.3 365.1h1v15h-1zM1560.3 365.1h1v15h-1zM1561.3 365.1h2v15h-2zM1565.3 365.1h2v15h-2zM1567.3 365.1h2v15h-2zM1574.3 365.1h1v15h-1zM1579.3 365.1h1v15h-1zM1586.3 365.1h2v15h-2zM1609.3 365.1h1v15h-1zM1631.3 365.1h1v15h-1zM1652.3 365.1h1v15h-1zM1654.3 365.1h1v15h-1zM1657.3 365.1h2v15h-2zM1664.3 365.1h2v15h-2zM1669.3 365.1h2v15h-2zM1673.3 365.1h2v15h-2zM1679.3 365.1h2v15h-2zM1692.3 365.1h1v15h-1zM1693.3 365.1h1v15h-1zM1712.3 365.1h1v15h-1zM1714.3 365.1h2v15h-2zM1743.3 365.1h2v15h-2zM1757.3 365.1h1v15h-1zM1759.3 365.1h1v15h-1zM1769.3 365.1h1v15h-1zM1777.3 365.1h1v15h-1zM1780.3 365.1h2v15h-2zM1785.3 365.1h1v15h-1zM1791.3 365.1h2v15h-2zM1801.3 365.1h1v15h-1zM1818.3 365.1h1v15h-1zM1819.3 365.1h1v15h-1zM1842.3 365.1h1v15h-1zM1854.3 365.1h1v15h-1zM1858.3 365.1h1v15h-1zM1867.3 365.1h1v15h-1zM1870.3 365.1h1v15h-1zM1875.3 365.1h2v15h-2zM1889.3 365.1h2v15h-2zM1908.3 365.1h2v15h-2zM1915.3 365.1h1v15h-1zM1125.3 381.2h1v15h-1zM1133.3 381.2h1v15h-1zM1138.3 381.2h1v15h-1zM1146.3 381.2h1v15h-1zM1149.3 381.2h1v15h-1zM1158.3 381.2h1v15h-1zM1165.3 381.2h1v15h-1zM1177.3 381.2h1v15h-1zM1181.3 381.2h2v15h-2zM1188.3 381.2h1v15h-1zM1189.3 381.2h1v15h-1zM1191.3 381.2h2v15h-2zM1204.3 381.2h1v15h-1zM1211.3 381.2h1v15h-1zM1217.3 381.2h2v15h-2zM1219.3 381.2h2v15h-2zM1224.3 381.2h1v15h-1zM1250.3 381.2h2v15h-2zM1269.3 381.2h2v15h-2zM1272.3 381.2h2v15h-2zM1276.3 381.2h2v15h-2zM1297.3 381.2h1v15h-1zM1303.3 381.2h1v15h-1zM1309.3 381.2h2v15h-2zM1312.3 381.2h2v15h-2zM1318.3 381.2h1v15h-1zM1319.3 381.2h2v15h-2zM1337.3 381.2h2v15h-2zM1347.3 381.2h1v15h-1zM1363.3 381.2h2v15h-2zM1365.3 381.2h1v15h-1zM1370.3 381.2h2v15h-2zM1379.3 381.2h2v15h-2zM1383.3 381.2h2v15h-2zM1397.3 381.2h1v15h-1zM1426.3 381.2h1v15h-1zM1435.3 381.2h1v15h-1zM1436.3 381.2h1v15h-1zM1446.3 381.2h1v15h-1zM1472.3 381.2h1v15h-1zM1477.3 381.2h1v15h-1zM1483.3 381.2h2v15h-2zM1489.3 381.2h2v15h-2zM1491.3 381.2h2v15h-2zM1495.3 381.2h1v15h-1zM1514.3 381.2h1v15h-1zM1523.3 381.2h1v15h-1zM1529.3 381.2h1v15h-1zM1533.3 381.2h2v15h-2zM1537.3 381.2h2v15h-2zM1550.3 381.2h1v15h-1zM1552.3 381.2h1v15h-1zM1556.3 381.2h1v15h-1zM1557.3 381.2h2v15h-2zM1560.3 381.2h1v15h-1zM1583.3 381.2h2v15h-2zM1599.3 381.2h1v15h-1zM1604.3 381.2h2v15h-2zM1626.3 381.2h1v15h-1zM1630.3 381.2h1v15h-1zM1656.3 381.2h1v15h-1zM1658.3 381.2h1v15h-1zM1668.3 381.2h2v15h-2zM1676.3 381.2h1v15h-1zM1683.3 381.2h2v15h-2zM1696.3 381.2h1v15h-1zM1709.3 381.2h2v15h-2zM1728.3 381.2h2v15h-2zM1736.3 381.2h2v15h-2zM1751.3 381.2h1v15h-1zM1752.3 381.2h1v15h-1zM1775.3 381.2h1v15h-1zM1776.3 381.2h1v15h-1zM1784.3 381.2h1v15h-1zM1785.3 381.2h1v15h-1zM1786.3 381.2h2v15h-2zM1800.3 381.2h1v15h-1zM1807.3 381.2h1v15h-1zM1812.3 381.2h1v15h-1zM1815.3 381.2h2v15h-2zM1824.3 381.2h1v15h-1zM1846.3 381.2h2v15h-2zM1851.3 381.2h2v15h-2zM1853.3 381.2h1v15h-1zM1858.3 381.2h1v15h-1zM1868.3 381.2h1v15h-1zM1877.3 381.2h2v15h-2zM1909.3 381.2h1v15h-1zM1921.3 381.2h1v15h-1zM1131.3 397.2h2v15h-2zM1147.3 397.2h1v15h-1zM1159.3 397.2h1v15h-1zM1160.3 397.2h1v15h-1zM1161.3 397.2h1v15h-1zM1177.3 397.2h1v15h-1zM1182.3 397.2h1v15h-1zM1187.3 397.2h2v15h-2zM1209.3 397.2h1v15h-1zM1216.3 397.2h1v15h-1zM1218.3 397.2h1v15h-1zM1224.3 397.2h1v15h-1zM1232.3 397.2h2v15h-2zM1237.3 397.2h2v15h-2zM1244.3 397.2h1v15h-1zM1245.3 397.2h1v15h-1zM1255.3 397.2h1v15h-1zM1261.3 397.2h1v15h-1zM1263.3 397.2h1v15h-1zM1268.3 397.2h1v15h-1zM1273.3 397.2h1v15h-1zM1283.3 397.2h1v15h-1zM1295.3 397.2h1v15h-1zM1309.3 397.2h1v15h-1zM1334.3 397.2h1v15h-1zM1335.3 397.2h2v15h-2zM1342.3 397.2h1v15h-1zM1352.3 397.2h1v15h-1zM1371.3 397.2h1v15h-1zM1372.3 397.2h1v15h-1zM1380.3 397.2h1v15h-1zM1395.3 397.2h2v15h-2zM1402.3 397.2h1v15h-1zM1429.3 397.2h2v15h-2zM1431.3 397.2h1v15h-1zM1437.3 397.2h1v15h-1zM1443.3 397.2h1v15h-1zM1445.3 397.2h2v15h-2zM1447.3 397.2h2v15h-2zM1451.3 397.2h2v15h-2zM1474.3 397.2h1v15h-1zM1477.3 397.2h2v15h-2zM1515.3 397.2h1v15h-1zM1523.3 397.2h2v15h-2zM1526.3 397.2h1v15h-1zM1533.3 397.2h1v15h-1zM1544.3 397.2h2v15h-2zM1561.3 397.2h2v15h-2zM1564.3 397.2h1v15h-1zM1579.3 397.2h1v15h-1zM1585.3 397.2h2v15h-2zM1600.3 397.2h2v15h-2zM1611.3 397.2h2v15h-2zM1617.3 397.2h1v15h-1zM1621.3 397.2h2v15h-2zM1624.3 397.2h1v15h-1zM1630.3 397.2h1v15h-1zM1645.3 397.2h2v15h-2zM1649.3 397.2h2v15h-2zM1651.3 397.2h1v15h-1zM1654.3 397.2h2v15h-2zM1671.3 397.2h1v15h-1zM1672.3 397.2h2v15h-2zM1677.3 397.2h2v15h-2zM1695.3 397.2h2v15h-2zM1699.3 397.2h1v15h-1zM1706.3 397.2h2v15h-2zM1712.3 397.2h1v15h-1zM1719.3 397.2h2v15h-2zM1726.3 397.2h1v15h-1zM1731.3 397.2h2v15h-2zM1743.3 397.2h1v15h-1zM1745.3 397.2h1v15h-1zM1757.3 397.2h1v15h-1zM1779.3 397.2h1v15h-1zM1810.3 397.2h1v15h-1zM1814.3 397.2h2v15h-2zM1825.3 397.2h1v15h-1zM1840.3 397.2h1v15h-1zM1841.3 397.2h1v15h-1zM1857.3 397.2h1v15h-1zM1858.3 397.2h2v15h-2zM1867.3 397.2h1v15h-1zM1871.3 397.2h1v15h-1zM1883.3 397.2h1v15h-1zM1886.3 397.2h1v15h-1zM1889.3 397.2h1v15h-1zM1899.3 397.2h2v15h-2zM1915.3 397.2h1v15h-1zM1921.3 397.2h1v15h-1zM1118.3 413.3h1v15h-1zM1121.3 413.3h2v15h-2zM1142.3 413.3h1v15h-1zM1143.3 413.3h1v15h-1zM1148.3 413.3h2v15h-2zM1152.3 413.3h1v15h-1zM1167.3 413.3h1v15h-1zM1176.3 413.3h1v15h-1zM1191.3 413.3h2v15h-2zM1193.3 413.3h1v15h-1zM1202.3 413.3h1v15h-1zM1206.3 413.3h1v15h-1zM1207.3 413.3h1v15h-1zM1227.3 413.3h2v15h-2zM1229.3 413.3h2v15h-2zM1243.3 413.3h1v15h-1zM1262.3 413.3h2v15h-2zM1268.3 413.3h2v15h-2zM1294.3 413.3h2v15h-2zM1299.3 413.3h1v15h-1zM1313.3 413.3h2v15h-2zM1317.3 413.3h1v15h-1zM1342.3 413.3h2v15h-2zM1348.3 413.3h2v15h-2zM1363.3 413.3h2v15h-2zM1365.3 413.3h1v15h-1zM1369.3 413.3h1v15h-1zM1374.3 413.3h1v15h-1zM1391.3 413.3h2v15h-2zM1402.3 413.3h2v15h-2zM1420.3 413.3h1v15h-1zM1433.3 413.3h1v15h-1zM1450.3 413.3h2v15h-2zM1484.3 413.3h2v15h-2zM1486.3 413.3h2v15h-2zM1501.3 413.3h1v15h-1zM1512.3 413.3h2v15h-2zM1516.3 413.3h1v15h-1zM1517.3 413.3h1v15h-1zM1555.3 413.3h1v15h-1zM1580.3 413.3h2v15h-2zM1601.3 413.3h2v15h-2zM1606.3 413.3h1v15h-1zM1613.3 413.3h2v15h-2zM1627.3 413.3h1v15h-1zM1633.3 413.3h2v15h-2zM1635.3 413.3h1v15h-1zM1644.3 413.3h1v15h-1zM1646.3 413.3h1v15h-1zM1649.3 413.3h1v15h-1zM1655.3 413.3h1v15h-1zM1669.3 413.3h1v15h-1zM1683.3 413.3h2v15h-2zM1694.3 413.3h2v15h-2zM1706.3 413.3h1v15h-1zM1727.3 413.3h1v15h-1zM1739.3 413.3h1v15h-1zM1760.3 413.3h1v15h-1zM1764.3 413.3h1v15h-1zM1773.3 413.3h2v15h-2zM1778.3 413.3h1v15h-1zM1785.3 413.3h2v15h-2zM1793.3 413.3h2v15h-2zM1806.3 413.3h1v15h-1zM1809.3 413.3h2v15h-2zM1811.3 413.3h2v15h-2zM1814.3 413.3h1v15h-1zM1824.3 413.3h1v15h-1zM1835.3 413.3h2v15h-2zM1841.3 413.3h2v15h-2zM1847.3 413.3h1v15h-1zM1849.3 413.3h2v15h-2zM1877.3 413.3h2v15h-2zM1890.3 413.3h2v15h-2zM1893.3 413.3h2v15h-2zM1897.3 413.3h1v15h-1zM1903.3 413.3h1v15h-1zM1904.3 413.3h2v15h-2zM1922.3 413.3h1v15h-1zM1127.3 429.4h1v15h-1zM1138.3 429.4h1v15h-1zM1141.3 429.4h2v15h-2zM1147.3 429.4h2v15h-2zM1187.3 429.4h2v15h-2zM1199.3 429.4h2v15h-2zM1204.3 429.4h1v15h-1zM1217.3 429.4h1v15h-1zM1218.3 429.4h2v15h-2zM1234.3 429.4h1v15h-1zM1239.3 429.4h2v15h-2zM1258.3 429.4h1v15h-1zM1263.3 429.4h2v15h-2zM1270.3 429.4h1v15h-1zM1285.3 429.4h1v15h-1zM1291.3 429.4h1v15h-1zM1308.3 429.4h2v15h-2zM1311.3 429.4h1v15h-1zM1317.3 429.4h1v15h-1zM1318.3 429.4h1v15h-1zM1323.3 429.4h1v15h-1zM1324.3 429.4h2v15h-2zM1348.3 429.4h2v15h-2zM1352.3 429.4h1v15h-1zM1359.3 429.4h2v15h-2zM1365.3 429.4h2v15h-2zM1380.3 429.4h2v15h-2zM1384.3 429.4h2v15h-2zM1398.3 429.4h1v15h-1zM1399.3 429.4h1v15h-1zM1416.3 429.4h2v15h-2zM1431.3 429.4h2v15h-2zM1433.3 429.4h1v15h-1zM1459.3 429.4h2v15h-2zM1467.3 429.4h1v15h-1zM1469.3 429.4h2v15h-2zM1476.3 429.4h1v15h-1zM1484.3 429.4h2v15h-2zM1508.3 429.4h2v15h-2zM1517.3 429.4h1v15h-1zM1518.3 429.4h2v15h-2zM1527.3 429.4h1v15h-1zM1531.3 429.4h1v15h-1zM1534.3 429.4h2v15h-2zM1536.3 429.4h2v15h-2zM1550.3 429.4h1v15h-1zM1551.3 429.4h2v15h-2zM1556.3 429.4h1v15h-1zM1574.3 429.4h1v15h-1zM1581.3 429.4h1v15h-1zM1582.3 429.4h1v15h-1zM1617.3 429.4h1v15h-1zM1618.3 429.4h1v15h-1zM1619.3 429.4h1v15h-1zM1626.3 429.4h1v15h-1zM1638.3 429.4h1v15h-1zM1674.3 429.4h1v15h-1zM1705.3 429.4h1v15h-1zM1709.3 429.4h1v15h-1zM1716.3 429.4h1v15h-1zM1724.3 429.4h1v15h-1zM1729.3 429.4h2v15h-2zM1732.3 429.4h1v15h-1zM1735.3 429.4h1v15h-1zM1736.3 429.4h1v15h-1zM1742.3 429.4h1v15h-1zM1751.3 429.4h2v15h-2zM1753.3 429.4h1v15h-1zM1758.3 429.4h2v15h-2zM1761.3 429.4h1v15h-1zM1762.3 429.4h2v15h-2zM1774.3 429.4h2v15h-2zM1784.3 429.4h1v15h-1zM1790.3 429.4h2v15h-2zM1793.3 429.4h1v15h-1zM1806.3 429.4h2v15h-2zM1820.3 429.4h1v15h-1zM1832.3 429.4h1v15h-1zM1838.3 429.4h1v15h-1zM1849.3 429.4h1v15h-1zM1854.3 429.4h2v15h-2zM1869.3 429.4h2v15h-2zM1874.3 429.4h2v15h-2zM1888.3 429.4h1v15h-1z" fill="#9c9c9c"/>
<path d="M1199.3 333h1v15h-1zM1232.3 333h1v15h-1zM1247.3 333h1v15h-1zM1249.3 333h1v15h-1zM1324.3 333h1v15h-1zM1416.3 333h1v15h-1zM1440.3 333h2v15h-2zM1454.3 333h1v15h-1zM1483.3 333h1v15h-1zM1524.3 333h1v15h-1zM1670.3 333h1v15h-1zM1695.3 333h2v15h-2zM1735.3 333h1v15h-1zM1795.3 333h1v15h-1zM1851.3 333h1v15h-1zM1911.3 333h1v15h-1zM1122.3 349.1h1v15h-1zM1125.3 349.1h2v15h-2zM1127.3 349.1h1v15h-1zM1144.3 349.1h1v15h-1zM1147.3 349.1h1v15h-1zM1154.3 349.1h1v15h-1zM1161.3 349.1h1v15h-1zM1169.3 349.1h2v15h-2zM1177.3 349.1h1v15h-1zM1203.3 349.1h1v15h-1zM1212.3 349.1h1v15h-1zM1214.3 349.1h2v15h-2zM1222.3 349.1h1v15h-1zM1234.3 349.1h2v15h-2zM1262.3 349.1h1v15h-1zM1265.3 349.1h1v15h-1zM1314.3 349.1h2v15h-2zM1336.3 349.1h1v15h-1zM1340.3 349.1h2v15h-2zM1346.3 349.1h2v15h-2zM1350.3 349.1h2v15h-2zM1352.3 349.1h2v15h-2zM1366.3 349.1h2v15h-2zM1374.3 349.1h1v15h-1zM1375.3 349.1h1v15h-1zM1377.3 349.1h1v15h-1zM1390.3 349.1h1v15h-1zM1391.3 349.1h2v15h-2zM1396.3 349.1h2v15h-2zM1411.3 349.1h2v15h-2zM1414.3 349.1h1v15h-1zM1441.3 349.1h1v15h-1zM1467.3 349.1h2v15h-2zM1476.3 349.1h2v15h-2zM1489.3 349.1h2v15h-2zM1520.3 349.1h2v15h-2zM1542.3 349.1h1v15h-1zM1561.3 349.1h1v15h-1zM1592.3 349.1h2v15h-2zM1607.3 349.1h1v15h-1zM1611.3 349.1h2v15h-2zM1615.3 349.1h2v15h-2zM1621.3 349.1h2v15h-2zM1634.3 349.1h2v15h-2zM1644.3 349.1h2v15h-2zM1665.3 349.1h1v15h-1zM1667.3 349.1h1v15h-1zM1686.3 349.1h1v15h-1zM1704.3 349.1h2v15h-2zM1721.3 349.1h2v15h-2zM1741.3 349.1h2v15h-2zM1751.3 349.1h2v15h-2zM1753.3 349.1h1v15h-1zM1761.3 349.1h1v15h-1zM1811.3 349.1h2v15h-2zM1825.3 349.1h1v15h-1zM1826.3 349.1h1v15h-1zM1838.3 349.1h2v15h-2zM1842.3 349.1h1v15h-1zM1843.3 349.1h1v15h-1zM1852.3 349.1h1v15h-1zM1856.3 349.1h2v15h-2zM1860.3 349.1h1v15h-1zM1861.3 349.1h2v15h-2zM1867.3 349.1h2v15h-2zM1880.3 349.1h1v15h-1zM1881.3 349.1h1v15h-1zM1891.3 349.1h1v15h-1zM1899.3 349.1h1v15h-1zM1900.3 349.1h2v15h-2zM1903.3 349.1h1v15h-1zM1910.3 349.1h2v15h-2zM1912.3 349.1h1v15h-1zM1922.3 349.1h1v15h-1zM1131.3 365.1h1v15h-1zM1148.3 365.1h2v15h-2zM1157.3 365.1h1v15h-1zM1169.3 365.1h2v15h-2zM1181.3 365.1h1v15h-1zM1197.3 365.1h1v15h-1zM1202.3 365.1h1v15h-1zM1205.3 365.1h1v15h-1zM1208.3 365.1h1v15h-1zM1232.3 365.1h1v15h-1zM1243.3 365.1h2v15h-2zM1246.3 365.1h2v15h-2zM1261.3 365.1h1v15h-1zM1273.3 365.1h2v15h-2zM1279.3 365.1h2v15h-2zM1287.3 365.1h2v15h-2zM1310.3 365.1h1v15h-1zM1311.3 365.1h1v15h-1zM1318.3 365.1h2v15h-2zM1328.3 365.1h1v15h-1zM1329.3 365.1h2v15h-2zM1331.3 365.1h1v15h-1zM1349.3 365.1h2v15h-2zM1368.3 365.1h1v15h-1zM1390.3 365.1h2v15h-2zM1406.3 365.1h2v15h-2zM1421.3 365.1h2v15h-2zM1445.3 365.1h1v15h-1zM1467.3 365.1h1v15h-1zM1489.3 365.1h1v15h-1zM1496.3 365.1h1v15h-1zM1509.3 365.1h2v15h-2zM1511.3 365.1h1v15h-1zM1514.3 365.1h1v15h-1zM1517.3 365.1h2v15h-2zM1527.3 365.1h1v15h-1zM1528.3 365.1h2v15h-2zM1558.3 365.1h2v15h-2zM1573.3 365.1h1v15h-1zM1582.3 365.1h2v15h-2zM1599.3 365.1h1v15h-1zM1604.3 365.1h2v15h-2zM1615.3 365.1h1v15h-1zM1617.3 365.1h1v15h-1zM1633.3 365.1h1v15h-1zM1643.3 365.1h1v15h-1zM1648.3 365.1h1v15h-1zM1663.3 365.1h1v15h-1zM1677.3 365.1h1v15h-1zM1682.3 365.1h2v15h-2zM1686.3 365.1h1v15h-1zM1706.3 365.1h2v15h-2zM1718.3 365.1h2v15h-2zM1738.3 365.1h2v15h-2zM1746.3 365.1h1v15h-1zM1754.3 365.1h1v15h-1zM1758.3 365.1h1v15h-1zM1775.3 365.1h2v15h-2zM1793.3 365.1h2v15h-2zM1803.3 365.1h1v15h-1zM1810.3 365.1h2v15h-2zM1832.3 365.1h2v15h-2zM1843.3 365.1h2v15h-2zM1852.3 365.1h1v15h-1zM1855.3 365.1h2v15h-2zM1868.3 365.1h1v15h-1zM1879.3 365.1h2v15h-2zM1881.3 365.1h2v15h-2zM1891.3 365.1h1v15h-1zM1892.3 365.1h1v15h-1zM1897.3 365.1h2v15h-2zM1902.3 365.1h2v15h-2zM1904.3 365.1h2v15h-2zM1914.3 365.1h1v15h-1zM1919.3 365.1h1v15h-1zM1920.3 365.1h2v15h-2zM1922.3 365.1h1v15h-1zM1124.3 381.2h1v15h-1zM1126.3 381.2h2v15h-2zM1139.3 381.2h1v15h-1zM1153.3 381.2h1v15h-1zM1159.3 381.2h2v15h-2zM1161.3 381.2h1v15h-1zM1173.3 381.2h2v15h-2zM1175.3 381.2h2v15h-2zM1178.3 381.2h1v15h-1zM1187.3 381.2h1v15h-1zM1193.3 381.2h2v15h-2zM1198.3 381.2h2v15h-2zM1207.3 381.2h2v15h-2zM1214.3 381.2h1v15h-1zM1221.3 381.2h2v15h-2zM1223.3 381.2h1v15h-1zM1227.3 381.2h2v15h-2zM1260.3 381.2h2v15h-2zM1262.3 381.2h2v15h-2zM1266.3 381.2h2v15h-2zM1281.3 381.2h1v15h-1zM1283.3 381.2h1v15h-1zM1289.3 381.2h2v15h-2zM1305.3 381.2h1v15h-1zM1307.3 381.2h2v15h-2zM1317.3 381.2h1v15h-1zM1321.3 381.2h2v15h-2zM1326.3 381.2h2v15h-2zM1329.3 381.2h1v15h-1zM1330.3 381.2h1v15h-1zM1332.3 381.2h2v15h-2zM1345.3 381.2h2v15h-2zM1352.3 381.2h1v15h-1zM1377.3 381.2h2v15h-2zM1416.3 381.2h2v15h-2zM1419.3 381.2h2v15h-2zM1438.3 381.2h1v15h-1zM1440.3 381.2h2v15h-2zM1467.3 381.2h1v15h-1zM1475.3 381.2h1v15h-1zM1476.3 381.2h1v15h-1zM1499.3 381.2h2v15h-2zM1501.3 381.2h1v15h-1zM1509.3 381.2h1v15h-1zM1520.3 381.2h1v15h-1zM1531.3 381.2h2v15h-2zM1546.3 381.2h1v15h-1zM1553.3 381.2h1v15h-1zM1570.3 381.2h1v15h-1zM1594.3 381.2h2v15h-2zM1603.3 381.2h1v15h-1zM1608.3 381.2h2v15h-2zM1615.3 381.2h1v15h-1zM1636.3 381.2h1v15h-1zM1637.3 381.2h1v15h-1zM1638.3 381.2h1v15h-1zM1652.3 381.2h1v15h-1zM1657.3 381.2h1v15h-1zM1660.3 381.2h2v15h-2zM1694.3 381.2h2v15h-2zM1699.3 381.2h2v15h-2zM1715.3 381.2h1v15h-1zM1718.3 381.2h2v15h-2zM1731.3 381.2h2v15h-2zM1733.3 381.2h1v15h-1zM1749.3 381.2h1v15h-1zM1753.3 381.2h2v15h-2zM1762.3 381.2h1v15h-1zM1788.3 381.2h2v15h-2zM1795.3 381.2h1v15h-1zM1796.3 381.2h1v15h-1zM1819.3 381.2h2v15h-2zM1832.3 381.2h1v15h-1zM1837.3 381.2h2v15h-2zM1843.3 381.2h1v15h-1zM1848.3 381.2h1v15h-1zM1867.3 381.2h1v15h-1zM1875.3 381.2h2v15h-2zM1883.3 381.2h2v15h-2zM1894.3 381.2h2v15h-2zM1902.3 381.2h2v15h-2zM1913.3 381.2h1v15h-1zM1186.3 397.2h1v15h-1zM1195.3 397.2h2v15h-2zM1221.3 397.2h2v15h-2zM1225.3 397.2h1v15h-1zM1234.3 397.2h1v15h-1zM1236.3 397.2h1v15h-1zM1239.3 397.2h2v15h-2zM1249.3 397.2h1v15h-1zM1276.3 397.2h1v15h-1zM1281.3 397.2h1v15h-1zM1298.3 397.2h2v15h-2zM1320.3 397.2h1v15h-1zM1329.3 397.2h2v15h-2zM1345.3 397.2h1v15h-1zM1375.3 397.2h2v15h-2zM1377.3 397.2h1v15h-1zM1388.3 397.2h2v15h-2zM1391.3 397.2h2v15h-2zM1399.3 397.2h2v15h-2zM1406.3 397.2h1v15h-1zM1408.3 397.2h1v15h-1zM1422.3 397.2h1v15h-1zM1432.3 397.2h2v15h-2zM1439.3 397.2h1v15h-1zM1463.3 397.2h2v15h-2zM1482.3 397.2h2v15h-2zM1500.3 397.2h2v15h-2zM1502.3 397.2h1v15h-1zM1505.3 397.2h2v15h-2zM1510.3 397.2h1v15h-1zM1514.3 397.2h1v15h-1zM1517.3 397.2h1v15h-1zM1557.3 397.2h1v15h-1zM1558.3 397.2h1v15h-1zM1563.3 397.2h1v15h-1zM1580.3 397.2h2v15h-2zM1583.3 397.2h2v15h-2zM1598.3 397.2h1v15h-1zM1620.3 397.2h1v15h-1zM1635.3 397.2h2v15h-2zM1638.3 397.2h1v15h-1zM1661.3 397.2h2v15h-2zM1668.3 397.2h1v15h-1zM1681.3 397.2h1v15h-1zM1691.3 397.2h2v15h-2zM1693.3 397.2h1v15h-1zM1698.3 397.2h1v15h-1zM1702.3 397.2h1v15h-1zM1708.3 397.2h2v15h-2zM1711.3 397.2h1v15h-1zM1730.3 397.2h1v15h-1zM1738.3 397.2h1v15h-1zM1764.3 397.2h2v15h-2zM1768.3 397.2h2v15h-2zM1782.3 397.2h1v15h-1zM1787.3 397.2h2v15h-2zM1795.3 397.2h1v15h-1zM1807.3 397.2h1v15h-1zM1811.3 397.2h1v15h-1zM1822.3 397.2h1v15h-1zM1829.3 397.2h2v15h-2zM1842.3 397.2h2v15h-2zM1869.3 397.2h2v15h-2zM1896.3 397.2h2v15h-2zM1904.3 397.2h2v15h-2zM1913.3 397.2h1v15h-1zM1126.3 413.3h2v15h-2zM1139.3 413.3h1v15h-1zM1174.3 413.3h2v15h-2zM1180.3 413.3h1v15h-1zM1181.3 413.3h2v15h-2zM1195.3 413.3h1v15h-1zM1209.3 413.3h1v15h-1zM1214.3 413.3h2v15h-2zM1216.3 413.3h1v15h-1zM1226.3 413.3h1v15h-1zM1233.3 413.3h1v15h-1zM1241.3 413.3h2v15h-2zM1255.3 413.3h1v15h-1zM1338.3 413.3h2v15h-2zM1341.3 413.3h1v15h-1zM1371.3 413.3h1v15h-1zM1375.3 413.3h1v15h-1zM1401.3 413.3h1v15h-1zM1422.3 413.3h2v15h-2zM1424.3 413.3h1v15h-1zM1427.3 413.3h1v15h-1zM1435.3 413.3h1v15h-1zM1456.3 413.3h1v15h-1zM1480.3 413.3h2v15h-2zM1493.3 413.3h1v15h-1zM1494.3 413.3h1v15h-1zM1497.3 413.3h1v15h-1zM1502.3 413.3h2v15h-2zM1508.3 413.3h1v15h-1zM1526.3 413.3h2v15h-2zM1533.3 413.3h1v15h-1zM1547.3 413.3h1v15h-1zM1553.3 413.3h2v15h-2zM1569.3 413.3h1v15h-1zM1604.3 413.3h2v15h-2zM1615.3 413.3h2v15h-2zM1628.3 413.3h1v15h-1zM1643.3 413.3h1v15h-1zM1647.3 413.3h1v15h-1zM1659.3 413.3h2v15h-2zM1666.3 413.3h1v15h-1zM1679.3 413.3h1v15h-1zM1691.3 413.3h2v15h-2zM1698.3 413.3h1v15h-1zM1711.3 413.3h1v15h-1zM1741.3 413.3h1v15h-1zM1753.3 413.3h1v15h-1zM1756.3 413.3h2v15h-2zM1758.3 413.3h2v15h-2zM1765.3 413.3h2v15h-2zM1770.3 413.3h1v15h-1zM1771.3 413.3h2v15h-2zM1775.3 413.3h2v15h-2zM1790.3 413.3h1v15h-1zM1803.3 413.3h1v15h-1zM1807.3 413.3h2v15h-2zM1838.3 413.3h1v15h-1zM1851.3 413.3h1v15h-1zM1866.3 413.3h1v15h-1zM1870.3 413.3h2v15h-2zM1872.3 413.3h1v15h-1zM1875.3 413.3h2v15h-2zM1909.3 413.3h1v15h-1zM1916.3 413.3h1v15h-1zM1921.3 413.3h1v15h-1zM1120.3 429.4h2v15h-2zM1152.3 429.4h2v15h-2zM1171.3 429.4h2v15h-2zM1192.3 429.4h2v15h-2zM1201.3 429.4h1v15h-1zM1211.3 429.4h2v15h-2zM1213.3 429.4h1v15h-1zM1215.3 429.4h2v15h-2zM1255.3 429.4h1v15h-1zM1282.3 429.4h1v15h-1zM1284.3 429.4h1v15h-1zM1297.3 429.4h1v15h-1zM1312.3 429.4h1v15h-1zM1315.3 429.4h1v15h-1zM1321.3 429.4h2v15h-2zM1326.3 429.4h1v15h-1zM1327.3 429.4h2v15h-2zM1335.3 429.4h1v15h-1zM1342.3 429.4h2v15h-2zM1345.3 429.4h1v15h-1zM1353.3 429.4h2v15h-2zM1371.3 429.4h2v15h-2zM1406.3 429.4h1v15h-1zM1423.3 429.4h2v15h-2zM1434.3 429.4h2v15h-2zM1453.3 429.4h1v15h-1zM1457.3 429.4h1v15h-1zM1497.3 429.4h1v15h-1zM1515.3 429.4h1v15h-1zM1528.3 429.4h1v15h-1zM1548.3 429.4h2v15h-2zM1583.3 429.4h2v15h-2zM1600.3 429.4h1v15h-1zM1615.3 429.4h2v15h-2zM1629.3 429.4h2v15h-2zM1636.3 429.4h1v15h-1zM1645.3 429.4h1v15h-1zM1663.3 429.4h2v15h-2zM1675.3 429.4h2v15h-2zM1690.3 429.4h1v15h-1zM1691.3 429.4h2v15h-2zM1699.3 429.4h1v15h-1zM1701.3 429.4h2v15h-2zM1703.3 429.4h1v15h-1zM1712.3 429.4h2v15h-2zM1715.3 429.4h1v15h-1zM1727.3 429.4h2v15h-2zM1741.3 429.4h1v15h-1zM1745.3 429.4h1v15h-1zM1756.3 429.4h2v15h-2zM1776.3 429.4h2v15h-2zM1816.3 429.4h2v15h-2zM1836.3 429.4h2v15h-2zM1845.3 429.4h2v15h-2zM1852.3 429.4h1v15h-1zM1865.3 429.4h2v15h-2zM1890.3 429.4h2v15h-2zM1904.3 429.4h1v15h-1z" fill="#c6c6c6"/>
<path d="M1118.3 349.1h1v15h-1zM1145.3 349.1h2v15h-2zM1150.3 349.1h2v15h-2zM1224.3 349.1h2v15h-2zM1236.3 349.1h1v15h-1zM1289.3 349.1h1v15h-1zM1333.3 349.1h1v15h-1zM1348.3 349.1h1v15h-1zM1380.3 349.1h2v15h-2zM1383.3 349.1h1v15h-1zM1398.3 349.1h1v15h-1zM1403.3 349.1h1v15h-1zM1408.3 349.1h2v15h-2zM1417.3 349.1h1v15h-1zM1418.3 349.1h2v15h-2zM1434.3 349.1h1v15h-1zM1442.3 349.1h1v15h-1zM1455.3 349.1h2v15h-2zM1469.3 349.1h2v15h-2zM1502.3 349.1h2v15h-2zM1518.3 349.1h2v15h-2zM1525.3 349.1h1v15h-1zM1563.3 349.1h2v15h-2zM1587.3 349.1h2v15h-2zM1590.3 349.1h2v15h-2zM1597.3 349.1h1v15h-1zM1608.3 349.1h2v15h-2zM1617.3 349.1h2v15h-2zM1714.3 349.1h2v15h-2zM1718.3 349.1h2v15h-2zM1724.3 349.1h1v15h-1zM1729.3 349.1h2v15h-2zM1735.3 349.1h2v15h-2zM1745.3 349.1h1v15h-1zM1768.3 349.1h1v15h-1zM1786.3 349.1h2v15h-2zM1788.3 349.1h1v15h-1zM1798.3 349.1h2v15h-2zM1806.3 349.1h2v15h-2zM1814.3 349.1h2v15h-2zM1823.3 349.1h1v15h-1zM1841.3 349.1h1v15h-1zM1870.3 349.1h1v15h-1zM1872.3 349.1h2v15h-2zM1919.3 349.1h1v15h-1zM1126.3 365.1h1v15h-1zM1138.3 365.1h2v15h-2zM1146.3 365.1h1v15h-1zM1153.3 365.1h1v15h-1zM1184.3 365.1h1v15h-1zM1211.3 365.1h1v15h-1zM1215.3 365.1h2v15h-2zM1237.3 365.1h1v15h-1zM1239.3 365.1h1v15h-1zM1241.3 365.1h1v15h-1zM1249.3 365.1h1v15h-1zM1252.3 365.1h1v15h-1zM1263.3 365.1h1v15h-1zM1266.3 365.1h1v15h-1zM1270.3 365.1h2v15h-2zM1294.3 365.1h2v15h-2zM1308.3 365.1h2v15h-2zM1315.3 365.1h1v15h-1zM1347.3 365.1h2v15h-2zM1357.3 365.1h1v15h-1zM1369.3 365.1h1v15h-1zM1370.3 365.1h2v15h-2zM1381.3 365.1h1v15h-1zM1404.3 365.1h2v15h-2zM1494.3 365.1h2v15h-2zM1553.3 365.1h1v15h-1zM1589.3 365.1h1v15h-1zM1595.3 365.1h1v15h-1zM1600.3 365.1h2v15h-2zM1603.3 365.1h1v15h-1zM1608.3 365.1h1v15h-1zM1611.3 365.1h2v15h-2zM1614.3 365.1h1v15h-1zM1620.3 365.1h2v15h-2zM1636.3 365.1h1v15h-1zM1646.3 365.1h2v15h-2zM1649.3 365.1h2v15h-2zM1662.3 365.1h1v15h-1zM1708.3 365.1h1v15h-1zM1721.3 365.1h2v15h-2zM1725.3 365.1h2v15h-2zM1762.3 365.1h2v15h-2zM1813.3 365.1h2v15h-2zM1839.3 365.1h2v15h-2zM1857.3 365.1h1v15h-1zM1885.3 365.1h2v15h-2zM1887.3 365.1h2v15h-2zM1128.3 381.2h2v15h-2zM1134.3 381.2h2v15h-2zM1136.3 381.2h2v15h-2zM1142.3 381.2h1v15h-1zM1147.3 381.2h2v15h-2zM1156.3 381.2h2v15h-2zM1171.3 381.2h1v15h-1zM1172.3 381.2h1v15h-1zM1252.3 381.2h1v15h-1zM1256.3 381.2h1v15h-1zM1268.3 381.2h1v15h-1zM1284.3 381.2h1v15h-1zM1298.3 381.2h1v15h-1zM1348.3 381.2h1v15h-1zM1457.3 381.2h2v15h-2zM1468.3 381.2h1v15h-1zM1482.3 381.2h1v15h-1zM1506.3 381.2h2v15h-2zM1508.3 381.2h1v15h-1zM1513.3 381.2h1v15h-1zM1515.3 381.2h1v15h-1zM1516.3 381.2h1v15h-1zM1517.3 381.2h1v15h-1zM1600.3 381.2h1v15h-1zM1601.3 381.2h1v15h-1zM1624.3 381.2h1v15h-1zM1628.3 381.2h1v15h-1zM1629.3 381.2h1v15h-1zM1643.3 381.2h1v15h-1zM1645.3 381.2h1v15h-1zM1654.3 381.2h2v15h-2zM1659.3 381.2h1v15h-1zM1662.3 381.2h1v15h-1zM1672.3 381.2h2v15h-2zM1679.3 381.2h2v15h-2zM1681.3 381.2h1v15h-1zM1682.3 381.2h1v15h-1zM1685.3 381.2h1v15h-1zM1687.3 381.2h1v15h-1zM1692.3 381.2h2v15h-2zM1697.3 381.2h2v15h-2zM1702.3 381.2h2v15h-2zM1707.3 381.2h2v15h-2zM1713.3 381.2h2v15h-2zM1720.3 381.2h1v15h-1zM1747.3 381.2h1v15h-1zM1750.3 381.2h1v15h-1zM1768.3 381.2h2v15h-2zM1774.3 381.2h1v15h-1zM1782.3 381.2h2v15h-2zM1827.3 381.2h1v15h-1zM1829.3 381.2h1v15h-1zM1835.3 381.2h2v15h-2zM1871.3 381.2h2v15h-2zM1885.3 381.2h1v15h-1zM1896.3 381.2h1v15h-1zM1897.3 381.2h2v15h-2zM1912.3 381.2h1v15h-1zM1118.3 397.2h2v15h-2zM1126.3 397.2h1v15h-1zM1135.3 397.2h2v15h-2zM1141.3 397.2h2v15h-2zM1146.3 397.2h1v15h-1zM1148.3 397.2h1v15h-1zM1163.3 397.2h2v15h-2zM1211.3 397.2h1v15h-1zM1219.3 397.2h2v15h-2zM1235.3 397.2h1v15h-1zM1252.3 397.2h1v15h-1zM1262.3 397.2h1v15h-1zM1279.3 397.2h1v15h-1zM1286.3 397.2h2v15h-2zM1305.3 397.2h1v15h-1zM1316.3 397.2h2v15h-2zM1346.3 397.2h1v15h-1zM1363.3 397.2h2v15h-2zM1373.3 397.2h2v15h-2zM1390.3 397.2h1v15h-1zM1401.3 397.2h1v15h-1zM1414.3 397.2h2v15h-2zM1457.3 397.2h2v15h-2zM1555.3 397.2h2v15h-2zM1559.3 397.2h2v15h-2zM1574.3 397.2h2v15h-2zM1595.3 397.2h2v15h-2zM1648.3 397.2h1v15h-1zM1652.3 397.2h2v15h-2zM1666.3 397.2h1v15h-1zM1687.3 397.2h2v15h-2zM1755.3 397.2h2v15h-2zM1780.3 397.2h1v15h-1zM1789.3 397.2h2v15h-2zM1816.3 397.2h1v15h-1zM1837.3 397.2h2v15h-2zM1853.3 397.2h2v15h-2zM1864.3 397.2h1v15h-1zM1887.3 397.2h2v15h-2zM1890.3 397.2h1v15h-1zM1892.3 397.2h2v15h-2zM1911.3 397.2h2v15h-2zM1916.3 397.2h2v15h-2zM1160.3 413.3h1v15h-1zM1165.3 413.3h2v15h-2zM1171.3 413.3h2v15h-2zM1199.3 413.3h2v15h-2zM1208.3 413.3h1v15h-1zM1212.3 413.3h2v15h-2zM1219.3 413.3h1v15h-1zM1279.3 413.3h1v15h-1zM1288.3 413.3h2v15h-2zM1315.3 413.3h2v15h-2zM1322.3 413.3h2v15h-2zM1324.3 413.3h2v15h-2zM1326.3 413.3h2v15h-2zM1351.3 413.3h2v15h-2zM1356.3 413.3h1v15h-1zM1357.3 413.3h2v15h-2zM1361.3 413.3h2v15h-2zM1373.3 413.3h1v15h-1zM1470.3 413.3h1v15h-1zM1476.3 413.3h2v15h-2zM1490.3 413.3h1v15h-1zM1491.3 413.3h1v15h-1zM1498.3 413.3h2v15h-2zM1506.3 413.3h2v15h-2zM1509.3 413.3h1v15h-1zM1514.3 413.3h2v15h-2zM1557.3 413.3h2v15h-2zM1570.3 413.3h2v15h-2zM1612.3 413.3h1v15h-1zM1667.3 413.3h1v15h-1zM1677.3 413.3h2v15h-2zM1744.3 413.3h1v15h-1zM1791.3 413.3h2v15h-2zM1827.3 413.3h2v15h-2zM1829.3 413.3h2v15h-2zM1853.3 413.3h2v15h-2zM1906.3 413.3h2v15h-2zM1910.3 413.3h1v15h-1zM1123.3 429.4h1v15h-1zM1128.3 429.4h1v15h-1zM1131.3 429.4h1v15h-1zM1154.3 429.4h1v15h-1zM1180.3 429.4h2v15h-2zM1208.3 429.4h1v15h-1zM1235.3 429.4h2v15h-2zM1243.3 429.4h1v15h-1zM1268.3 429.4h1v15h-1zM1275.3 429.4h2v15h-2zM1294.3 429.4h2v15h-2zM1358.3 429.4h1v15h-1zM1377.3 429.4h1v15h-1zM1382.3 429.4h1v15h-1zM1391.3 429.4h2v15h-2zM1413.3 429.4h2v15h-2zM1458.3 429.4h1v15h-1zM1462.3 429.4h1v15h-1zM1471.3 429.4h1v15h-1zM1472.3 429.4h1v15h-1zM1474.3 429.4h2v15h-2zM1477.3 429.4h2v15h-2zM1491.3 429.4h2v15h-2zM1539.3 429.4h1v15h-1zM1546.3 429.4h2v15h-2zM1555.3 429.4h1v15h-1zM1603.3 429.4h2v15h-2zM1606.3 429.4h1v15h-1zM1607.3 429.4h1v15h-1zM1623.3 429.4h2v15h-2zM1696.3 429.4h2v15h-2zM1698.3 429.4h1v15h-1zM1717.3 429.4h2v15h-2zM1739.3 429.4h2v15h-2zM1750.3 429.4h1v15h-1zM1770.3 429.4h2v15h-2zM1796.3 429.4h2v15h-2zM1815.3 429.4h1v15h-1zM1821.3 429.4h1v15h-1zM1827.3 429.4h1v15h-1zM1835.3 429.4h1v15h-1zM1839.3 429.4h2v15h-2zM1847.3 429.4h2v15h-2zM1850.3 429.4h1v15h-1zM1856.3 429.4h1v15h-1zM1887.3 429.4h1v15h-1zM1889.3 429.4h1v15h-1zM1896.3 429.4h1v15h-1zM1907.3 429.4h2v15h-2zM1919.3 429.4h1v15h-1z" fill="#f0f0f0"/>
<rect x="1118.3" y="333" width="55.8" height="15" fill="#e6efb0"/>
<rect x="1118.3" y="349.1" width="94.1" height="15" fill="#e6efb0"/>
<rect x="1414.9" y="349.1" width="33.1" height="15" fill="#e6efb0"/>
<rect x="1118.3" y="413.3" width="49.2" height="15" fill="#e6efb0"/>
<rect x="1134.1" y="429.4" width="97.2" height="15" fill="#e6efb0"/>
<rect x="1118.3" y="429.4" width="15.8" height="15" fill="#111"/>
<rect x="1120.5" y="429.4" width="1" height="15" fill="#777"/>
<rect x="1123.2" y="429.4" width="1.2" height="15" fill="#999"/>
<rect x="1126" y="429.4" width="0.8" height="15" fill="#555"/>
<rect x="1466" y="349.1" width="8" height="15" fill="#fff"/>
<line x1="1466" y1="353.6" x2="1474" y2="353.6" stroke="#888" stroke-width="0.8"/>
<line x1="1466" y1="359.1" x2="1474" y2="359.1" stroke="#888" stroke-width="0.8"/>
<rect x="1461.7" y="365.1" width="11.3" height="15" fill="#fff"/>
<line x1="1461.7" y1="369.6" x2="1473" y2="369.6" stroke="#888" stroke-width="0.8"/>
<line x1="1461.7" y1="375.1" x2="1473" y2="375.1" stroke="#888" stroke-width="0.8"/>
<rect x="1466" y="381.2" width="5" height="15" fill="#fff"/>
<line x1="1466" y1="385.7" x2="1471" y2="385.7" stroke="#888" stroke-width="0.8"/>
<line x1="1466" y1="391.2" x2="1471" y2="391.2" stroke="#888" stroke-width="0.8"/>
<rect x="1372.7" y="381.2" width="21.3" height="15" fill="#fff"/>
<line x1="1372.7" y1="385.7" x2="1394" y2="385.7" stroke="#888" stroke-width="0.8"/>
<line x1="1372.7" y1="391.2" x2="1394" y2="391.2" stroke="#888" stroke-width="0.8"/>
<rect x="1518" y="349.1" width="19.3" height="15" fill="#fff"/>
<line x1="1518" y1="353.6" x2="1537.3" y2="353.6" stroke="#888" stroke-width="0.8"/>
<line x1="1518" y1="359.1" x2="1537.3" y2="359.1" stroke="#888" stroke-width="0.8"/>
<rect x="1659.7" y="365.1" width="5.3" height="15" fill="#fff"/>
<line x1="1659.7" y1="369.6" x2="1665" y2="369.6" stroke="#888" stroke-width="0.8"/>
<line x1="1659.7" y1="375.1" x2="1665" y2="375.1" stroke="#888" stroke-width="0.8"/>
<rect x="1659.7" y="381.2" width="5.3" height="15" fill="#fff"/>
<line x1="1659.7" y1="385.7" x2="1665" y2="385.7" stroke="#888" stroke-width="0.8"/>
<line x1="1659.7" y1="391.2" x2="1665" y2="391.2" stroke="#888" stroke-width="0.8"/>
<rect x="1723.8" y="413.3" width="59.6" height="15" fill="#fff"/>
<line x1="1723.8" y1="417.8" x2="1783.4" y2="417.8" stroke="#888" stroke-width="0.8"/>
<line x1="1723.8" y1="423.3" x2="1783.4" y2="423.3" stroke="#888" stroke-width="0.8"/>
<rect x="1494.6" y="429.4" width="13.4" height="15" fill="#fff"/>
<line x1="1494.6" y1="433.9" x2="1508" y2="433.9" stroke="#888" stroke-width="0.8"/>
<line x1="1494.6" y1="439.4" x2="1508" y2="439.4" stroke="#888" stroke-width="0.8"/>
<rect x="1140.5" y="381.2" width="2" height="15" fill="#fff"/>
<line x1="1140.5" y1="385.7" x2="1142.5" y2="385.7" stroke="#888" stroke-width="0.8"/>
<line x1="1140.5" y1="391.2" x2="1142.5" y2="391.2" stroke="#888" stroke-width="0.8"/>
<line x1="1123" y1="449.8" x2="1580.3" y2="449.8" stroke="#777" stroke-width="0.9"/>
<line x1="1123" y1="455.2" x2="1580.3" y2="455.2" stroke="#777" stroke-width="0.9"/>
<rect x="1580.3" y="445.8" width="48.7" height="15" fill="#161616"/>
<path d="M1585 445.8h1v15h-1zM1587 445.8h1v15h-1zM1591 445.8h2v15h-2zM1594 445.8h2v15h-2zM1598 445.8h2v15h-2zM1603 445.8h2v15h-2zM1606 445.8h1v15h-1zM1609 445.8h1v15h-1zM1611 445.8h2v15h-2zM1616 445.8h1v15h-1zM1621 445.8h1v15h-1zM1626 445.8h2v15h-2z" fill="#8c8c8c"/>
<rect x="1628.3" y="445.8" width="1.3" height="15" fill="#4a90d8"/>
<text x="1112.3" y="346.7" font-size="19.7" text-anchor="end">Rhesus</text>
<text x="1113.5" y="361.9" font-size="19.7" text-anchor="end">Squirrel</text>
<text x="1110.5" y="379.8" font-size="19.7" text-anchor="end">Mouse</text>
<text x="1107.5" y="395.3" font-size="19.7" text-anchor="end">Rat</text>
<text x="1105.8" y="410.8" font-size="19.7" text-anchor="end">Pig</text>
<text x="1107.5" y="426.6" font-size="19.7" text-anchor="end">Dog</text>
<text x="1112.3" y="444.7" font-size="19.7" text-anchor="end">Elephant</text>
<text x="1112.9" y="460.8" font-size="19.7" text-anchor="end">Chicken</text>
<text x="1712.6" y="463.3" font-size="20.32">1 kb</text>
<line x1="1759.1" y1="458" x2="1921.6" y2="458" stroke="#000" stroke-width="1.4"/>
<line x1="1759.1" y1="453" x2="1759.1" y2="463" stroke="#000" stroke-width="1.4"/>
<line x1="1921.6" y1="453" x2="1921.6" y2="463" stroke="#000" stroke-width="1.4"/>
</g>
<g id="pc">
<text x="1.5" y="589.8" font-size="46" font-weight="bold">c</text>
<text x="79" y="564.2" font-size="26.5" font-weight="bold">BMSCs from OVX and</text>
<text x="79" y="596.2" font-size="26.5" font-weight="bold">sham mice,</text>
<text x="79" y="628.3" font-size="26.5" font-weight="bold">qRT-PCR</text>
<rect x="193.8" y="722.4" width="53.9" height="227.5" fill="#fff" stroke="#333" stroke-width="2.6"/>
<rect x="278.8" y="901.4" width="54.7" height="48.5" fill="#bcd0e8" stroke="#333" stroke-width="2.6"/>
<line x1="164.1" y1="650.1" x2="164.1" y2="951.2" stroke="#000" stroke-width="2.7"/>
<line x1="152.6" y1="949.9" x2="362.6" y2="949.9" stroke="#000" stroke-width="2.7"/>
<line x1="152.6" y1="651.5" x2="164.1" y2="651.5" stroke="#000" stroke-width="2.7"/>
<text x="150.1" y="658.7" font-size="20" text-anchor="end" font-weight="bold">6</text>
<line x1="152.6" y1="751.2" x2="164.1" y2="751.2" stroke="#000" stroke-width="2.7"/>
<text x="150.1" y="758.4" font-size="20" text-anchor="end" font-weight="bold">4</text>
<line x1="152.6" y1="850.7" x2="164.1" y2="850.7" stroke="#000" stroke-width="2.7"/>
<text x="150.1" y="857.9" font-size="20" text-anchor="end" font-weight="bold">2</text>
<line x1="152.6" y1="949.9" x2="164.1" y2="949.9" stroke="#000" stroke-width="2.7"/>
<text x="150.1" y="957.1" font-size="20" text-anchor="end" font-weight="bold">0</text>
<line x1="220.9" y1="949.9" x2="220.9" y2="961.4" stroke="#000" stroke-width="2.7"/>
<line x1="305.6" y1="949.9" x2="305.6" y2="961.4" stroke="#000" stroke-width="2.7"/>
<line x1="220.5" y1="690.3" x2="220.5" y2="722.4" stroke="#1a1a1a" stroke-width="1.3"/>
<line x1="205.7" y1="690.3" x2="235.3" y2="690.3" stroke="#1a1a1a" stroke-width="1.4000000000000001"/>
<line x1="305.9" y1="887.7" x2="305.9" y2="901.4" stroke="#1a1a1a" stroke-width="1.3"/>
<line x1="291.1" y1="887.7" x2="320.7" y2="887.7" stroke="#1a1a1a" stroke-width="1.4000000000000001"/>
<g fill="none" stroke="#000" stroke-width="2.7"><circle cx="220.8" cy="679.9" r="4.7"/><circle cx="220.8" cy="721" r="4.7"/><circle cx="220.8" cy="731.2" r="4.7"/><circle cx="220.8" cy="751.2" r="4.7"/></g>
<g fill="none" stroke="#000" stroke-width="2.7"><circle cx="306.4" cy="882.6" r="4.7"/><circle cx="306.4" cy="903.4" r="4.7"/><circle cx="288.5" cy="909.1" r="4.7"/><circle cx="324.1" cy="908.3" r="4.7"/></g>
<text x="240.5" y="660" font-size="18.37">&lt;0.0001</text>
<line x1="232.6" y1="663.2" x2="323.4" y2="663.2" stroke="#000" stroke-width="1.3"/>
<text font-size="25.64" text-anchor="middle" transform="translate(125.4 800.1) rotate(-90)">Relative Snhg18 levels</text>
<text x="220.9" y="982.4" font-size="22" text-anchor="middle">sham</text>
<text x="308.3" y="982.4" font-size="22" text-anchor="middle">OVX</text>
<text x="421" y="588.4" font-size="46" font-weight="bold">d</text>
<text x="469.8" y="578.4" font-size="26.5" font-weight="bold">Human BMSCs osteogenesis</text>
<text x="469.8" y="609.8" font-size="26.5" font-weight="bold">qRT-PCR</text>
<rect x="577.3" y="886.3" width="55.9" height="62.7" fill="#f4f4f4" stroke="#444" stroke-width="2.6"/>
<rect x="663.7" y="758" width="56.1" height="191" fill="#1f2d5e" stroke="#555" stroke-width="2.6"/>
<line x1="547.4" y1="644" x2="547.4" y2="950.4" stroke="#000" stroke-width="2.7"/>
<line x1="535.9" y1="949" x2="749.2" y2="949" stroke="#000" stroke-width="2.7"/>
<line x1="535.9" y1="645.4" x2="547.4" y2="645.4" stroke="#000" stroke-width="2.7"/>
<text x="533.4" y="653.3" font-size="22" text-anchor="end">4</text>
<line x1="535.9" y1="721.5" x2="547.4" y2="721.5" stroke="#000" stroke-width="2.7"/>
<text x="533.4" y="729.4" font-size="22" text-anchor="end">3</text>
<line x1="535.9" y1="797.1" x2="547.4" y2="797.1" stroke="#000" stroke-width="2.7"/>
<text x="533.4" y="805" font-size="22" text-anchor="end">2</text>
<line x1="535.9" y1="873.5" x2="547.4" y2="873.5" stroke="#000" stroke-width="2.7"/>
<text x="533.4" y="881.4" font-size="22" text-anchor="end">1</text>
<line x1="535.9" y1="949" x2="547.4" y2="949" stroke="#000" stroke-width="2.7"/>
<text x="533.4" y="956.9" font-size="22" text-anchor="end">0</text>
<line x1="604.7" y1="949" x2="604.7" y2="960.5" stroke="#000" stroke-width="2.7"/>
<line x1="691.3" y1="949" x2="691.3" y2="960.5" stroke="#000" stroke-width="2.7"/>
<line x1="604.7" y1="883.5" x2="604.7" y2="886.3" stroke="#1a1a1a" stroke-width="1.3"/>
<line x1="587.7" y1="883.5" x2="621.7" y2="883.5" stroke="#1a1a1a" stroke-width="1.4000000000000001"/>
<line x1="691.3" y1="723.8" x2="691.3" y2="758" stroke="#1a1a1a" stroke-width="1.3"/>
<line x1="676.1" y1="723.8" x2="706.5" y2="723.8" stroke="#1a1a1a" stroke-width="1.4000000000000001"/>
<g fill="none" stroke="#000" stroke-width="2.7"><circle cx="586.7" cy="887.2" r="4.7"/><circle cx="604.7" cy="882.9" r="4.7"/><circle cx="623.8" cy="887.2" r="4.7"/></g>
<g fill="none" stroke="#000" stroke-width="2.7"><circle cx="691.3" cy="721.8" r="4.7"/><circle cx="691.3" cy="764.3" r="4.7"/><circle cx="691.3" cy="786.5" r="4.7"/></g>
<text x="622.9" y="670.2" font-size="19.19">0.0025</text>
<line x1="603" y1="674.2" x2="693.6" y2="674.2" stroke="#000" stroke-width="1.3"/>
<text font-size="24.27" text-anchor="middle" transform="translate(501.8 794.1) rotate(-90)">Relative SNHG18 levels</text>
<text x="604.7" y="983.2" font-size="22" text-anchor="middle">D0</text>
<text x="691.3" y="983.2" font-size="22" text-anchor="middle">D14</text>
<text x="1429.7" y="589" font-size="46" font-weight="bold">f</text>
<text x="1480.9" y="578" font-size="26.5" font-weight="bold">Mouse skull defect bone tissues</text>
<text x="1480.9" y="608.4" font-size="26.5" font-weight="bold">qRT-PCR</text>
<rect x="1532.6" y="890" width="43.6" height="46.4" fill="#f4f4f4" stroke="#444" stroke-width="2.6"/>
<rect x="1601.6" y="770.2" width="43" height="166.2" fill="#1f2d5e" stroke="#555" stroke-width="2.6"/>
<rect x="1669.6" y="908.8" width="43.3" height="27.6" fill="#a9c7e4" stroke="#444" stroke-width="2.6"/>
<rect x="1738" y="903.1" width="43.3" height="33.3" fill="#999" stroke="#444" stroke-width="2.6"/>
<line x1="1509.7" y1="634" x2="1509.7" y2="937.8" stroke="#000" stroke-width="2.7"/>
<line x1="1497.2" y1="936.4" x2="1805.1" y2="936.4" stroke="#000" stroke-width="2.7"/>
<line x1="1497.2" y1="635.4" x2="1509.7" y2="635.4" stroke="#000" stroke-width="2.7"/>
<text x="1494.7" y="643.3" font-size="22" text-anchor="end">6</text>
<line x1="1497.2" y1="735.7" x2="1509.7" y2="735.7" stroke="#000" stroke-width="2.7"/>
<text x="1494.7" y="743.6" font-size="22" text-anchor="end">4</text>
<line x1="1497.2" y1="836" x2="1509.7" y2="836" stroke="#000" stroke-width="2.7"/>
<text x="1494.7" y="843.9" font-size="22" text-anchor="end">2</text>
<line x1="1497.2" y1="936.4" x2="1509.7" y2="936.4" stroke="#000" stroke-width="2.7"/>
<text x="1494.7" y="944.3" font-size="22" text-anchor="end">0</text>
<line x1="1554.3" y1="936.4" x2="1554.3" y2="947.9" stroke="#000" stroke-width="2.7"/>
<line x1="1622.6" y1="936.4" x2="1622.6" y2="947.9" stroke="#000" stroke-width="2.7"/>
<line x1="1691" y1="936.4" x2="1691" y2="947.9" stroke="#000" stroke-width="2.7"/>
<line x1="1759.3" y1="936.4" x2="1759.3" y2="947.9" stroke="#000" stroke-width="2.7"/>
<line x1="1554.3" y1="881.2" x2="1554.3" y2="890" stroke="#1a1a1a" stroke-width="1.3"/>
<line x1="1542.6" y1="881.2" x2="1566" y2="881.2" stroke="#1a1a1a" stroke-width="1.4000000000000001"/>
<line x1="1623" y1="725.4" x2="1623" y2="770.2" stroke="#1a1a1a" stroke-width="1.3"/>
<line x1="1611.5" y1="725.4" x2="1634.5" y2="725.4" stroke="#1a1a1a" stroke-width="1.4000000000000001"/>
<line x1="1691" y1="906.5" x2="1691" y2="908.8" stroke="#1a1a1a" stroke-width="1.3"/>
<line x1="1679.5" y1="906.5" x2="1702.5" y2="906.5" stroke="#1a1a1a" stroke-width="1.4000000000000001"/>
<line x1="1759.3" y1="900.5" x2="1759.3" y2="903.1" stroke="#1a1a1a" stroke-width="1.3"/>
<line x1="1747.8" y1="900.5" x2="1770.8" y2="900.5" stroke="#1a1a1a" stroke-width="1.4000000000000001"/>
<g fill="none" stroke="#000" stroke-width="2.7"><circle cx="1536.4" cy="877.4" r="4.7"/><circle cx="1554.3" cy="882.1" r="4.7"/><circle cx="1573.1" cy="886.2" r="4.7"/><circle cx="1536.4" cy="898.4" r="4.7"/><circle cx="1554.3" cy="894.7" r="4.7"/><circle cx="1572.4" cy="897.8" r="4.7"/></g>
<g fill="none" stroke="#000" stroke-width="2.7"><circle cx="1614.1" cy="723.8" r="4.7"/><circle cx="1632.6" cy="718.2" r="4.7"/><circle cx="1623.2" cy="765.2" r="4.7"/><circle cx="1623.2" cy="779.3" r="4.7"/><circle cx="1623.2" cy="796.9" r="4.7"/><circle cx="1623.2" cy="832.9" r="4.7"/></g>
<g fill="none" stroke="#000" stroke-width="2.7"><circle cx="1673.4" cy="905" r="4.7"/><circle cx="1685.3" cy="908.8" r="4.7"/><circle cx="1697.2" cy="903.1" r="4.7"/><circle cx="1709.8" cy="908.8" r="4.7"/><circle cx="1673.4" cy="915.1" r="4.7"/><circle cx="1697.2" cy="914.4" r="4.7"/></g>
<g fill="none" stroke="#000" stroke-width="2.7"><circle cx="1741.8" cy="900" r="4.7"/><circle cx="1753.7" cy="896.2" r="4.7"/><circle cx="1766.2" cy="899.4" r="4.7"/><circle cx="1778.4" cy="899.4" r="4.7"/><circle cx="1753.7" cy="911.9" r="4.7"/><circle cx="1765.3" cy="910.4" r="4.7"/></g>
<text x="1627.9" y="650.1" font-size="19.09">0.9406</text>
<line x1="1548" y1="653.6" x2="1773.7" y2="653.6" stroke="#000" stroke-width="1.3"/>
<text x="1591.3" y="679" font-size="19.26">0.4465</text>
<line x1="1548" y1="682.1" x2="1683.1" y2="682.1" stroke="#000" stroke-width="1.3"/>
<text x="1545.8" y="704" font-size="18.94">&lt;0.0001</text>
<line x1="1548" y1="706.6" x2="1614.8" y2="706.6" stroke="#000" stroke-width="1.3"/>
<text font-size="25.59" text-anchor="middle" transform="translate(1473.7 785.5) rotate(-90)">Relative Snhg18 levels</text>
<text x="1552.7" y="969.9" font-size="22" text-anchor="middle">Control</text>
<text x="1622" y="969.9" font-size="22" text-anchor="middle">D7</text>
<text x="1691" y="969.9" font-size="22" text-anchor="middle">D14</text>
<text x="1759.3" y="969.9" font-size="22" text-anchor="middle">D21</text>
</g>
<g id="pe">
<text x="853.8" y="588.2" font-size="46" font-weight="bold">e</text>
<text x="1130.6" y="579.9" font-size="26.5" text-anchor="middle" font-weight="bold">Mouse stress fracture bulk-RNA seq</text>
<text x="1118" y="611.4" font-size="26.5" text-anchor="middle" font-weight="bold">(GSE152677)</text>
<g fill="none" stroke-linejoin="round">
<path d="M922.7 743.4L1001.5 887L1081.2 835.2L1159.2 762.3L1238.8 772.2L1316.9 790.5M922.7 761.2L1001.5 883.8L1081.2 855.2L1159.2 784.4L1238.8 762.4L1316.9 775.3M922.7 773.1L1001.5 895.5L1081.2 848.9L1159.2 806.9L1238.8 751.8L1316.9 780.6M922.7 779.1L1001.5 896.8L1081.2 812.6L1159.2 760.2L1238.8 761L1316.9 784.7M922.7 785L1001.5 894L1081.2 864.3L1159.2 783.5L1238.8 796.3L1316.9 807.5M922.7 917.3L1001.5 871.3L1081.2 880.6L1159.2 756.8L1238.8 728.6L1316.9 810.7M922.7 911.4L1001.5 874.4L1081.2 804.3L1159.2 805.3L1238.8 719.9L1316.9 801.8M922.7 909.3L1001.5 864.1L1081.2 895.5L1159.2 736.9L1238.8 782.9L1316.9 813.7M922.7 907.8L1001.5 914.7L1081.2 823.2L1159.2 791.5L1238.8 737.1L1316.9 799.7M922.7 863.8L1001.5 929L1081.2 823.5L1159.2 791.9L1238.8 729L1316.9 799.9M922.7 903.8L1001.5 880.2L1081.2 870.9L1159.2 793.5L1238.8 737.8L1316.9 802M922.7 858.2L1001.5 931.8L1081.2 816.6L1159.2 805.5L1238.8 724.2L1316.9 818M922.7 844.3L1001.5 920.6L1081.2 904.9L1159.2 737.2L1238.8 790.6L1316.9 761.2M922.7 927.4L1001.5 868.2L1081.2 896.9L1159.2 797.9L1238.8 719.3L1316.9 758.7M922.7 900.9L1001.5 879.9L1081.2 872.6L1159.2 751.6L1238.8 776L1316.9 772.1M922.7 917.5L1001.5 871.2L1081.2 803L1159.2 751.2L1238.8 779.9L1316.9 814.6M922.7 840.4L1001.5 931.4L1081.2 799.2L1159.2 803.2L1238.8 721L1316.9 818.1M922.7 851.5L1001.5 925.4L1081.2 825.8L1159.2 805L1238.8 727.8L1316.9 813.5M922.7 850.4L1001.5 925.6L1081.2 885L1159.2 754.9L1238.8 779.4L1316.9 758.8M922.7 850.6L1001.5 932.8L1081.2 799L1159.2 810.2L1238.8 732L1316.9 809.7M922.7 842.3L1001.5 921.9L1081.2 796.9L1159.2 795.1L1238.8 718.9L1316.9 765.7M922.7 859L1001.5 938.3L1081.2 812.2L1159.2 804.4L1238.8 719.6L1316.9 810M922.7 909.1L1001.5 879.9L1081.2 882L1159.2 751.3L1238.8 773.9L1316.9 768.5M922.7 924.8L1001.5 876.3L1081.2 894.3L1159.2 752.7L1238.8 789.2L1316.9 755.8M922.7 865.7L1001.5 928.3L1081.2 805.1L1159.2 804.3L1238.8 726.4L1316.9 803.7M922.7 839.7L1001.5 929.7L1081.2 793L1159.2 804.4L1238.8 718L1316.9 815M922.7 908.8L1001.5 875.8L1081.2 871.6L1159.2 762.1L1238.8 779.1L1316.9 770.6M922.7 903.3L1001.5 875.7L1081.2 880.7L1159.2 798.4L1238.8 781.6L1316.9 766.9M922.7 918.1L1001.5 874.3L1081.2 882.4L1159.2 748.4L1238.8 783L1316.9 762.7M922.7 916.9L1001.5 876.4L1081.2 892.1L1159.2 754.1L1238.8 786.5L1316.9 761.8M922.7 904.5L1001.5 918.5L1081.2 829.6L1159.2 796L1238.8 741.9L1316.9 768.2M922.7 848.7L1001.5 916.7L1081.2 827.7L1159.2 799.6L1238.8 735.7L1316.9 801.3M922.7 910.8L1001.5 876.4L1081.2 886.3L1159.2 745.2L1238.8 787.9L1316.9 820.9M922.7 919.2L1001.5 865.4L1081.2 879.7L1159.2 735.2L1238.8 785.6L1316.9 757.8M922.7 917.1L1001.5 868.6L1081.2 890L1159.2 741.2L1238.8 778.2L1316.9 766.3M922.7 910.5L1001.5 864.4L1081.2 882.2L1159.2 743.6L1238.8 779.4L1316.9 754.8M922.7 905.6L1001.5 876.9L1081.2 878.4L1159.2 758.9L1238.8 777.8L1316.9 768.6M922.7 904.4L1001.5 880.2L1081.2 869.7L1159.2 753.9L1238.8 777.6L1316.9 794.3M922.7 872.1L1001.5 913.2L1081.2 832.8L1159.2 791.9L1238.8 771.9L1316.9 770M922.7 864.5L1001.5 920.7L1081.2 889.8L1159.2 747.6L1238.8 780.5L1316.9 763.1M922.7 855.4L1001.5 933.8L1081.2 799.9L1159.2 807.9L1238.8 723.3L1316.9 819.1M922.7 868.3L1001.5 913.8L1081.2 884.2L1159.2 749.1L1238.8 742.7L1316.9 799.8M922.7 915L1001.5 873.4L1081.2 891.1L1159.2 740.9L1238.8 775.7L1316.9 757.5M922.7 857.3L1001.5 923.9L1081.2 878.2L1159.2 753L1238.8 778.4L1316.9 759.6M922.7 918.5L1001.5 870.6L1081.2 877L1159.2 753.2L1238.8 777.5L1316.9 759.6M922.7 910.1L1001.5 876.5L1081.2 883.3L1159.2 754.4L1238.8 781.2L1316.9 769.7M922.7 914.7L1001.5 870.1L1081.2 819.5L1159.2 799.2L1238.8 735.5L1316.9 804.4M922.7 857.3L1001.5 882.3L1081.2 885.8L1159.2 747.1L1238.8 779L1316.9 802.1M922.7 901.3L1001.5 882.5L1081.2 880.5L1159.2 758.2L1238.8 775.4L1316.9 766.7M922.7 923.1L1001.5 874.5L1081.2 902L1159.2 743.9L1238.8 789.4L1316.9 755.4M922.7 858.2L1001.5 937.8L1081.2 799.7L1159.2 753.6L1238.8 782.5L1316.9 765.6M922.7 872.3L1001.5 914.7L1081.2 830.1L1159.2 787.7L1238.8 738.9L1316.9 794.9M922.7 915.1L1001.5 871.3L1081.2 888.1L1159.2 756.2L1238.8 783.6L1316.9 766.3M922.7 908.3L1001.5 870.2L1081.2 828.4L1159.2 795.5L1238.8 738.6L1316.9 799.6M922.7 919.8L1001.5 868.1L1081.2 888.7L1159.2 747.9L1238.8 782.9L1316.9 760.4M922.7 844.9L1001.5 931.7L1081.2 807.6L1159.2 795.2L1238.8 723.9L1316.9 804.6M922.7 861.3L1001.5 930.7L1081.2 801.5L1159.2 799.7L1238.8 725.1L1316.9 805.2M922.7 853.3L1001.5 868.2L1081.2 894.5L1159.2 738.5L1238.8 778.3L1316.9 753.3M922.7 905.7L1001.5 878.8L1081.2 818L1159.2 747.3L1238.8 780.4L1316.9 760.7M922.7 852.7L1001.5 937.8L1081.2 810.4L1159.2 804.3L1238.8 719.4L1316.9 819.4M922.7 839.5L1001.5 938.3L1081.2 803.7L1159.2 805.6L1238.8 728.5L1316.9 806.7M922.7 916.6L1001.5 872.4L1081.2 889.3L1159.2 750.5L1238.8 780.3L1316.9 751.7M922.7 922.7L1001.5 930L1081.2 812.3L1159.2 800.3L1238.8 723.2L1316.9 815.7M922.7 867.1L1001.5 919.9L1081.2 824.2L1159.2 791.9L1238.8 734.3L1316.9 800M922.7 906.9L1001.5 930.2L1081.2 820.2L1159.2 796.7L1238.8 725.1L1316.9 803.1M922.7 924.9L1001.5 873L1081.2 902.3L1159.2 735.9L1238.8 791.8L1316.9 763.9M922.7 865.6L1001.5 916.7L1081.2 806.4L1159.2 791.8L1238.8 731.2L1316.9 815M922.7 862L1001.5 914.3L1081.2 870.5L1159.2 754.8L1238.8 774.1L1316.9 799.2M922.7 858.6L1001.5 913L1081.2 873.7L1159.2 752.8L1238.8 777.4L1316.9 800.2M922.7 843L1001.5 926L1081.2 804.7L1159.2 797.1L1238.8 787.6L1316.9 754.6M922.7 911L1001.5 860.4L1081.2 905.2L1159.2 740.2L1238.8 733.1L1316.9 806.6M922.7 843.9L1001.5 927L1081.2 818.5L1159.2 796L1238.8 719.9L1316.9 813.8M922.7 863.5L1001.5 917.5L1081.2 817L1159.2 739.4L1238.8 781.6L1316.9 758.2M922.7 847.4L1001.5 926.2L1081.2 821.8L1159.2 793.1L1238.8 733.4L1316.9 802.3M922.7 862.1L1001.5 925.5L1081.2 804.5L1159.2 793.8L1238.8 722.5L1316.9 807.8M922.7 900.7L1001.5 884.6L1081.2 831.2L1159.2 800.6L1238.8 819.6L1316.9 809.9M922.7 888.8L1001.5 883L1081.2 820.2L1159.2 820.8L1238.8 840.3L1316.9 858.7M922.7 909.8L1001.5 871.7L1081.2 832L1159.2 837.6L1238.8 792.6L1316.9 837.2M922.7 902L1001.5 885.2L1081.2 818.9L1159.2 848.6L1238.8 794.2L1316.9 823.2M922.7 898.6L1001.5 872.2L1081.2 852.6L1159.2 804.9L1238.8 788.5L1316.9 802M922.7 897.1L1001.5 885.2L1081.2 826L1159.2 839.9L1238.8 794.7L1316.9 846.5M922.7 898.1L1001.5 864.2L1081.2 856.3L1159.2 825.3L1238.8 848.3L1316.9 862.6M922.7 912.1L1001.5 859.6L1081.2 820.5L1159.2 819.1L1238.8 833.2L1316.9 813.3M922.7 892.3L1001.5 877.5L1081.2 837L1159.2 810.9L1238.8 852.2L1316.9 849.7M922.7 901.9L1001.5 884.6L1081.2 846.8L1159.2 824.1L1238.8 841.9L1316.9 825M922.7 909.1L1001.5 872L1081.2 849.3L1159.2 820L1238.8 850.8L1316.9 813.3" fill="none" stroke="#84d4d0" stroke-width="1.4" stroke-opacity="0.9"/>
<path d="M922.7 906.5L1001.5 878.9L1081.2 879.9L1159.2 761L1238.8 779.5L1316.9 763.7M922.7 869.9L1001.5 925L1081.2 821L1159.2 793.5L1238.8 741.1L1316.9 808.4M922.7 863L1001.5 916.3L1081.2 871.2L1159.2 757.6L1238.8 772.9L1316.9 765.1M922.7 910.5L1001.5 870.2L1081.2 879.9L1159.2 759.8L1238.8 777.9L1316.9 764.4M922.7 861.3L1001.5 918.5L1081.2 825.5L1159.2 790.5L1238.8 744L1316.9 798.7M922.7 865.3L1001.5 919.3L1081.2 872.1L1159.2 757.7L1238.8 785.7L1316.9 763.4M922.7 907.4L1001.5 884.2L1081.2 875.2L1159.2 766.9L1238.8 775.1L1316.9 769.5M922.7 907.4L1001.5 883.9L1081.2 868.6L1159.2 759.3L1238.8 770.4L1316.9 766.4M922.7 873.7L1001.5 908.1L1081.2 832.7L1159.2 795.6L1238.8 746.1L1316.9 803.4M922.7 905.4L1001.5 868.9L1081.2 873.5L1159.2 762.8L1238.8 777.1L1316.9 765.2M922.7 901.9L1001.5 883.1L1081.2 864.6L1159.2 767.2L1238.8 772.9L1316.9 799.4M922.7 906.4L1001.5 865L1081.2 892.1L1159.2 757.8L1238.8 784.2L1316.9 758.9M922.7 908.1L1001.5 873.2L1081.2 882.8L1159.2 755.4L1238.8 778.1L1316.9 766.9M922.7 859.1L1001.5 917.5L1081.2 820.4L1159.2 793.3L1238.8 735.1L1316.9 815.7M922.7 906.7L1001.5 874.8L1081.2 875.8L1159.2 765.7L1238.8 748.2L1316.9 802.7M922.7 903.3L1001.5 871.5L1081.2 881.5L1159.2 754L1238.8 779.8L1316.9 766.5M922.7 905.1L1001.5 877.6L1081.2 834.8L1159.2 788.8L1238.8 751.2L1316.9 802M922.7 902.6L1001.5 885L1081.2 874.4L1159.2 764.1L1238.8 772.3L1316.9 793.6M922.7 901L1001.5 879.4L1081.2 835.1L1159.2 799L1238.8 748.1L1316.9 802.3M922.7 912L1001.5 866.9L1081.2 873.8L1159.2 750.1L1238.8 777.9L1316.9 806.8M922.7 904L1001.5 883L1081.2 870.3L1159.2 763.2L1238.8 774.7L1316.9 772.4M922.7 875.2L1001.5 918L1081.2 828.5L1159.2 795.8L1238.8 741.6L1316.9 797.6M922.7 907.3L1001.5 877.9L1081.2 874.7L1159.2 789.8L1238.8 750.9L1316.9 797M922.7 906.3L1001.5 881.9L1081.2 867.7L1159.2 762.1L1238.8 776.3L1316.9 768.2M922.7 862.2L1001.5 912.5L1081.2 819L1159.2 798.3L1238.8 743.3L1316.9 805.3M922.7 906.3L1001.5 880.8L1081.2 830.6L1159.2 793.1L1238.8 775.5L1316.9 771.6M922.7 920.1L1001.5 867.5L1081.2 820.7L1159.2 795.4L1238.8 739L1316.9 807.3M922.7 908.6L1001.5 872.5L1081.2 882.8L1159.2 747.5L1238.8 781.2L1316.9 757.1M922.7 872.7L1001.5 914.5L1081.2 877.2L1159.2 799.7L1238.8 740L1316.9 803.4M922.7 900.1L1001.5 883.8L1081.2 872.1L1159.2 765.4L1238.8 774.4L1316.9 799.1M922.7 913.4L1001.5 873.5L1081.2 876L1159.2 750.3L1238.8 784.8L1316.9 802.3M922.7 872.6L1001.5 907.4L1081.2 834.9L1159.2 790.8L1238.8 775.1L1316.9 770.9M922.7 858.5L1001.5 923.6L1081.2 816.8L1159.2 797.8L1238.8 774.4L1316.9 766.4M922.7 858.2L1001.5 911.4L1081.2 824.1L1159.2 797.5L1238.8 736.2L1316.9 803M922.7 908.3L1001.5 875L1081.2 880.1L1159.2 756.5L1238.8 778.5L1316.9 766.3M922.7 906.8L1001.5 884.7L1081.2 870.4L1159.2 763.9L1238.8 771.1L1316.9 771.6M922.7 868L1001.5 912.7L1081.2 817.8L1159.2 806.2L1238.8 742.9L1316.9 812.4M922.7 875.6L1001.5 878.6L1081.2 877.1L1159.2 760.4L1238.8 774.9L1316.9 765.8M922.7 903.6L1001.5 885.8L1081.2 870.8L1159.2 767.3L1238.8 768.5L1316.9 771.6M922.7 875.1L1001.5 909.2L1081.2 832.7L1159.2 787L1238.8 746.6L1316.9 795.3M922.7 911.1L1001.5 871.8L1081.2 873.8L1159.2 755.3L1238.8 776.8L1316.9 768.1M922.7 872.4L1001.5 907.6L1081.2 866.1L1159.2 763.9L1238.8 749.2L1316.9 806.1M922.7 912.9L1001.5 917.8L1081.2 817L1159.2 806.2L1238.8 739.9L1316.9 808M922.7 913.5L1001.5 865.3L1081.2 874L1159.2 758.7L1238.8 738L1316.9 808.5M922.7 878L1001.5 903.1L1081.2 832.9L1159.2 791.7L1238.8 746.4L1316.9 799.3M922.7 913.4L1001.5 871.5L1081.2 885L1159.2 796.7L1238.8 732.7L1316.9 807M922.7 867L1001.5 909.5L1081.2 823.3L1159.2 794.3L1238.8 746.8L1316.9 803.3M922.7 899.6L1001.5 881.6L1081.2 864.9L1159.2 763.6L1238.8 773.5L1316.9 772.4M922.7 908.2L1001.5 872.8L1081.2 878.9L1159.2 762L1238.8 771.9L1316.9 766.9M922.7 857.7L1001.5 911L1081.2 816.8L1159.2 794.6L1238.8 739.6L1316.9 814.6M922.7 867.1L1001.5 918.1L1081.2 828.1L1159.2 795.7L1238.8 745.6L1316.9 805.6M922.7 907.6L1001.5 881.3L1081.2 829.9L1159.2 794.8L1238.8 740.3L1316.9 804.4M922.7 870.3L1001.5 911.2L1081.2 865.3L1159.2 762L1238.8 769.1L1316.9 794.8M922.7 871L1001.5 905.7L1081.2 835.9L1159.2 793.9L1238.8 750.1L1316.9 793.1M922.7 864.1L1001.5 922.2L1081.2 816.5L1159.2 807.7L1238.8 743.7L1316.9 801.8M922.7 921.1L1001.5 873.5L1081.2 884.7L1159.2 806.4L1238.8 736.7L1316.9 759.8M922.7 858.6L1001.5 921.5L1081.2 831L1159.2 799.1L1238.8 740.8L1316.9 814.1M922.7 906.5L1001.5 879.1L1081.2 875.6L1159.2 753.9L1238.8 773.7L1316.9 803.4M922.7 858L1001.5 911.9L1081.2 823.3L1159.2 798.4L1238.8 743.3L1316.9 762.2M922.7 871.2L1001.5 914L1081.2 827.3L1159.2 792.4L1238.8 747L1316.9 801.5M922.7 868.1L1001.5 916.8L1081.2 829.2L1159.2 791.4L1238.8 747.1L1316.9 808.2M922.7 872.6L1001.5 916.7L1081.2 835.7L1159.2 794.5L1238.8 740.4L1316.9 772.2M922.7 855.1L1001.5 923.2L1081.2 828.3L1159.2 804.1L1238.8 733.1L1316.9 765M922.7 912.7L1001.5 866.6L1081.2 893.5L1159.2 803.3L1238.8 733L1316.9 822.2M922.7 912L1001.5 880.9L1081.2 868.2L1159.2 756.6L1238.8 780.9L1316.9 761.7M922.7 870.4L1001.5 910.2L1081.2 813.1L1159.2 793L1238.8 738L1316.9 801.9M922.7 905.2L1001.5 877.7L1081.2 867.2L1159.2 763.3L1238.8 772.3L1316.9 772.6M922.7 904.6L1001.5 879.5L1081.2 882L1159.2 762.1L1238.8 774.2L1316.9 760.4M922.7 900.8L1001.5 873.2L1081.2 877.3L1159.2 759.6L1238.8 748.1L1316.9 809.6M922.7 904L1001.5 876.9L1081.2 872.8L1159.2 763.3L1238.8 776.1L1316.9 763.1M922.7 904.1L1001.5 880.1L1081.2 873L1159.2 761.6L1238.8 775.1L1316.9 807.4M922.7 902.2L1001.5 877.3L1081.2 872.7L1159.2 790.4L1238.8 746.6L1316.9 801.7M922.7 863.5L1001.5 876L1081.2 872.3L1159.2 761.4L1238.8 776.8L1316.9 769.3M922.7 871.2L1001.5 911.9L1081.2 833.3L1159.2 795.6L1238.8 748.6L1316.9 770.2M922.7 906.6L1001.5 882.9L1081.2 872.4L1159.2 762.8L1238.8 745.5L1316.9 770.2M922.7 915.9L1001.5 926.7L1081.2 817.7L1159.2 750.1L1238.8 783.9L1316.9 756.2M922.7 899.4L1001.5 883.7L1081.2 872.5L1159.2 763.3L1238.8 775L1316.9 766.5M922.7 865L1001.5 910.6L1081.2 815.6L1159.2 805.7L1238.8 741.2L1316.9 812.8M922.7 901L1001.5 876.7L1081.2 866.8L1159.2 763.1L1238.8 775.3L1316.9 770.4M922.7 908.8L1001.5 922.3L1081.2 824.9L1159.2 803.8L1238.8 737.3L1316.9 813.6M922.7 913.6L1001.5 873.6L1081.2 871.8L1159.2 758.2L1238.8 772.1L1316.9 768M922.7 908.3L1001.5 871L1081.2 874L1159.2 762.6L1238.8 772.1L1316.9 763.8M922.7 911.9L1001.5 869.3L1081.2 882.4L1159.2 755L1238.8 778.7L1316.9 754.3M922.7 871.1L1001.5 912.3L1081.2 831.9L1159.2 795.8L1238.8 749.3L1316.9 800.9M922.7 875.3L1001.5 912.1L1081.2 837.2L1159.2 788.7L1238.8 769L1316.9 767.5M922.7 907.4L1001.5 865.1L1081.2 882.4L1159.2 753.8L1238.8 786.4L1316.9 765.5M922.7 910.2L1001.5 876.3L1081.2 877.1L1159.2 762.8L1238.8 773.7L1316.9 763.5M922.7 907.4L1001.5 867.1L1081.2 810L1159.2 752.3L1238.8 728.1L1316.9 818.9M922.7 916.6L1001.5 871.2L1081.2 890.7L1159.2 746.1L1238.8 782.3L1316.9 759.1M922.7 906.3L1001.5 879.4L1081.2 874.8L1159.2 763.4L1238.8 777.7L1316.9 765.6" fill="none" stroke="#9a8dc6" stroke-width="1.7" stroke-opacity="0.85"/>
<path d="M922.7 882.4L1001.5 888.9L1081.2 844.3L1159.2 769.7L1238.8 756.3L1316.9 775.3L1316.9 788.8L1238.8 766.2L1159.2 782.5L1081.2 862.1L1001.5 900.7L922.7 895.3Z" fill="#8f3393" fill-opacity="0.8"/>
<path d="M922.7 901.4L1001.5 883.6L1081.2 834.2L1159.2 787.6L1238.8 745.4L1316.9 803.1M922.7 877.6L1001.5 913.9L1081.2 867.5L1159.2 758.2L1238.8 751.8L1316.9 802.6M922.7 888.9L1001.5 894.8L1081.2 853.3L1159.2 776.1L1238.8 761.2L1316.9 782M922.7 881L1001.5 905.3L1081.2 844.7L1159.2 784.5L1238.8 751.5L1316.9 773.5M922.7 878.4L1001.5 901.1L1081.2 844.5L1159.2 787.6L1238.8 755.2L1316.9 790.5M922.7 894L1001.5 889.9L1081.2 859.7L1159.2 785.1L1238.8 755.1L1316.9 789.1M922.7 894.3L1001.5 888.3L1081.2 862.7L1159.2 782.4L1238.8 757.3L1316.9 787.7M922.7 891.5L1001.5 892.7L1081.2 850.7L1159.2 778.4L1238.8 763.1L1316.9 780.1M922.7 881.8L1001.5 899.2L1081.2 843.3L1159.2 782.9L1238.8 765.7L1316.9 777.4M922.7 875.9L1001.5 903.4L1081.2 842L1159.2 791L1238.8 750L1316.9 772.1M922.7 894.7L1001.5 890.6L1081.2 860.7L1159.2 772.7L1238.8 766.6L1316.9 788.8M922.7 881.1L1001.5 887.3L1081.2 867.8L1159.2 784.7L1238.8 752.7L1316.9 776.6M922.7 888.6L1001.5 894.6L1081.2 853.5L1159.2 775.8L1238.8 761.4L1316.9 781.8M922.7 881.3L1001.5 903.5L1081.2 843.4L1159.2 785.1L1238.8 755.1L1316.9 792.8M922.7 902.5L1001.5 881.9L1081.2 870.4L1159.2 761.1L1238.8 747.7L1316.9 766.1M922.7 876.2L1001.5 905.5L1081.2 838.5L1159.2 767.2L1238.8 767.9L1316.9 791.2M922.7 888.1L1001.5 895.6L1081.2 852.5L1159.2 775.3L1238.8 760.6L1316.9 781.5M922.7 886.6L1001.5 897.2L1081.2 849.8L1159.2 778.5L1238.8 758.8L1316.9 780.2M922.7 872.7L1001.5 910.1L1081.2 839.4L1159.2 785.3L1238.8 750.6L1316.9 799M922.7 871.8L1001.5 911L1081.2 878.6L1159.2 764.1L1238.8 745.8L1316.9 806.2M922.7 902.7L1001.5 884.5L1081.2 871.2L1159.2 786.6L1238.8 747.1L1316.9 798.8M922.7 889.1L1001.5 894.5L1081.2 853.8L1159.2 775.7L1238.8 761.5L1316.9 782.5M922.7 895.9L1001.5 890.6L1081.2 860.6L1159.2 770.3L1238.8 765.1L1316.9 777.2M922.7 890.7L1001.5 893.1L1081.2 854.9L1159.2 774.8L1238.8 762.5L1316.9 780.2M922.7 877.5L1001.5 902.6L1081.2 844.3L1159.2 787.5L1238.8 768.1L1316.9 772.9M922.7 879.6L1001.5 888.5L1081.2 837.3L1159.2 783.8L1238.8 751L1316.9 796.8M922.7 874.8L1001.5 906.5L1081.2 841.6L1159.2 792.7L1238.8 753.3L1316.9 772.5M922.7 869.6L1001.5 911L1081.2 831.6L1159.2 794L1238.8 752L1316.9 796.1M922.7 882.7L1001.5 902.1L1081.2 846.6L1159.2 783.9L1238.8 753.9L1316.9 790.6M922.7 884.7L1001.5 899.6L1081.2 847.4L1159.2 780.3L1238.8 756.2L1316.9 787.4M922.7 885.6L1001.5 897L1081.2 848.7L1159.2 772.6L1238.8 764.1L1316.9 778.7M922.7 878.3L1001.5 906.2L1081.2 833.8L1159.2 790.4L1238.8 750L1316.9 794.6M922.7 880.2L1001.5 902.7L1081.2 844.8L1159.2 787.7L1238.8 750.5L1316.9 792.6M922.7 877.1L1001.5 903.3L1081.2 839.6L1159.2 787.4L1238.8 754.1L1316.9 793.9M922.7 901.3L1001.5 882L1081.2 879.6L1159.2 760.9L1238.8 774.7L1316.9 803M922.7 879.4L1001.5 904.6L1081.2 867.8L1159.2 766.1L1238.8 770.8L1316.9 773.2M922.7 889.9L1001.5 893.5L1081.2 854.7L1159.2 775.1L1238.8 762L1316.9 780.8M922.7 903.1L1001.5 882.3L1081.2 864.3L1159.2 763.4L1238.8 752.1L1316.9 773.9M922.7 898.4L1001.5 884.2L1081.2 865.3L1159.2 763.7L1238.8 771.6L1316.9 798.7M922.7 875.4L1001.5 902.6L1081.2 843.6L1159.2 785.2L1238.8 752.7L1316.9 797.3M922.7 897.3L1001.5 886.6L1081.2 865.3L1159.2 771.2L1238.8 768.5L1316.9 773.9M922.7 890L1001.5 892.9L1081.2 855.7L1159.2 777.2L1238.8 762.7L1316.9 783.6M922.7 899.1L1001.5 886L1081.2 866.2L1159.2 767.6L1238.8 769.3L1316.9 793.9M922.7 892.2L1001.5 890.9L1081.2 858.1L1159.2 771.5L1238.8 765.3L1316.9 778.1M922.7 876.5L1001.5 907.1L1081.2 830.9L1159.2 792.8L1238.8 750.9L1316.9 799.6M922.7 897.7L1001.5 883.4L1081.2 867.6L1159.2 765.5L1238.8 769.2L1316.9 770.6M922.7 889.9L1001.5 893.7L1081.2 854.6L1159.2 775L1238.8 762L1316.9 781.3M922.7 904L1001.5 883.5L1081.2 874L1159.2 764L1238.8 747.9L1316.9 768.4M922.7 898L1001.5 884.6L1081.2 867.8L1159.2 769.4L1238.8 771.5L1316.9 774.9M922.7 881.6L1001.5 898.6L1081.2 847.5L1159.2 782.5L1238.8 757.8L1316.9 776.1M922.7 903.2L1001.5 880.2L1081.2 874.8L1159.2 761.4L1238.8 770.8L1316.9 792.4M922.7 901.4L1001.5 880.7L1081.2 872.8L1159.2 762.1L1238.8 747.8L1316.9 795.6M922.7 889.7L1001.5 894L1081.2 854.8L1159.2 775L1238.8 762.1L1316.9 781.1M922.7 896.1L1001.5 889.7L1081.2 845.6L1159.2 783.2L1238.8 753.4L1316.9 790.6M922.7 897.2L1001.5 887.1L1081.2 861.4L1159.2 770.8L1238.8 766L1316.9 791.6M922.7 876.8L1001.5 905.9L1081.2 868.7L1159.2 784.1L1238.8 767.1L1316.9 773.6M922.7 897.9L1001.5 880.9L1081.2 868.8L1159.2 767.8L1238.8 770.6L1316.9 796.2M922.7 891.7L1001.5 892.9L1081.2 856.7L1159.2 773.7L1238.8 758.6L1316.9 779.8M922.7 897.2L1001.5 889.4L1081.2 862.9L1159.2 784.5L1238.8 753.3L1316.9 775.2M922.7 884.8L1001.5 900.1L1081.2 845.7L1159.2 772.2L1238.8 765.8L1316.9 789.4M922.7 875.8L1001.5 912.5L1081.2 834.5L1159.2 795.3L1238.8 747.2L1316.9 795M922.7 882.8L1001.5 903.4L1081.2 842.5L1159.2 786.9L1238.8 755.1L1316.9 794.1M922.7 892.8L1001.5 891.7L1081.2 857.6L1159.2 772.6L1238.8 758.7L1316.9 778.6M922.7 881L1001.5 888.2L1081.2 864.8L1159.2 783.7L1238.8 753.6L1316.9 791.6M922.7 894.9L1001.5 889.6L1081.2 845.6L1159.2 780.3L1238.8 757.7L1316.9 777.7M922.7 896.1L1001.5 887.5L1081.2 863.5L1159.2 770L1238.8 767.5L1316.9 774.2M922.7 877.8L1001.5 909.3L1081.2 873.7L1159.2 765.4L1238.8 770.6L1316.9 764.9M922.7 895.7L1001.5 889.6L1081.2 859.6L1159.2 782.5L1238.8 756L1316.9 789M922.7 889L1001.5 894.6L1081.2 853.5L1159.2 776.2L1238.8 761.1L1316.9 782.3M922.7 887.5L1001.5 895.8L1081.2 851.5L1159.2 777.5L1238.8 760.5L1316.9 780.8M922.7 909.7L1001.5 880L1081.2 837L1159.2 760.5L1238.8 773.4L1316.9 765.7M922.7 903.4L1001.5 884.9L1081.2 874.5L1159.2 792.6L1238.8 748.7L1316.9 794.2M922.7 893.1L1001.5 891.1L1081.2 845.6L1159.2 783.2L1238.8 757.3L1316.9 776.8M922.7 881.7L1001.5 904L1081.2 843.6L1159.2 769L1238.8 756.1L1316.9 794.5M922.7 900.1L1001.5 882.7L1081.2 867.6L1159.2 789.8L1238.8 748.5L1316.9 795.3M922.7 870.2L1001.5 904.4L1081.2 838.6L1159.2 789.8L1238.8 748.6L1316.9 772.9M922.7 906.2L1001.5 878.5L1081.2 874.8L1159.2 760.7L1238.8 778.8L1316.9 766.3M922.7 870.8L1001.5 906.7L1081.2 833.7L1159.2 793.2L1238.8 772L1316.9 772.7M922.7 885L1001.5 901.1L1081.2 847.3L1159.2 772.6L1238.8 766.7L1316.9 787.2M922.7 884.1L1001.5 898.3L1081.2 849.2L1159.2 779.3L1238.8 759L1316.9 787.3M922.7 883.3L1001.5 900.4L1081.2 842.7L1159.2 784.2L1238.8 754.8L1316.9 791.3M922.7 874.2L1001.5 913.8L1081.2 838.2L1159.2 787.8L1238.8 750.8L1316.9 768.6M922.7 893.2L1001.5 891L1081.2 847.3L1159.2 772.8L1238.8 764.3L1316.9 776.5M922.7 887.7L1001.5 893.7L1081.2 854.9L1159.2 774.8L1238.8 762.3L1316.9 780.8M922.7 879.9L1001.5 904L1081.2 841.5L1159.2 791.9L1238.8 748.1L1316.9 798M922.7 893.8L1001.5 888.6L1081.2 862.6L1159.2 769.6L1238.8 768.9L1316.9 775.1M922.7 897.6L1001.5 886.8L1081.2 863L1159.2 768.4L1238.8 767.5L1316.9 776.9M922.7 894.8L1001.5 889L1081.2 864.4L1159.2 769.4L1238.8 767.6L1316.9 775.3M922.7 870.5L1001.5 910.3L1081.2 827.5L1159.2 796.5L1238.8 749.6L1316.9 795.7M922.7 894.2L1001.5 889L1081.2 860.2L1159.2 780.6L1238.8 767.2L1316.9 775.8M922.7 891.9L1001.5 892.7L1081.2 856.1L1159.2 774L1238.8 757.4L1316.9 784.8M922.7 875.8L1001.5 902.1L1081.2 843.3L1159.2 783.6L1238.8 752.8L1316.9 795.2M922.7 890.2L1001.5 893.9L1081.2 855.5L1159.2 774.9L1238.8 759.7L1316.9 783.6M922.7 878L1001.5 902.9L1081.2 867.4L1159.2 766.1L1238.8 769.9L1316.9 798M922.7 877.3L1001.5 904.6L1081.2 867.3L1159.2 784.1L1238.8 752.2L1316.9 789.8M922.7 896.4L1001.5 899.9L1081.2 843.8L1159.2 782.7L1238.8 754.7L1316.9 792.7M922.7 899.8L1001.5 884.4L1081.2 870L1159.2 769.1L1238.8 771.2L1316.9 769.4M922.7 896.4L1001.5 904.7L1081.2 842.8L1159.2 787.8L1238.8 770.2L1316.9 773.6M922.7 884.5L1001.5 899L1081.2 849.9L1159.2 780.4L1238.8 765.2L1316.9 779.7M922.7 885.6L1001.5 898.4L1081.2 847.1L1159.2 772.3L1238.8 763.9L1316.9 778.3M922.7 886.9L1001.5 892.5L1081.2 856L1159.2 774.5L1238.8 763.1L1316.9 779.9M922.7 885.3L1001.5 898.7L1081.2 845.4L1159.2 772.3L1238.8 766.3L1316.9 778.2M922.7 895.2L1001.5 887.9L1081.2 845L1159.2 784.8L1238.8 754.3L1316.9 792.1M922.7 892.1L1001.5 893L1081.2 857.2L1159.2 773.4L1238.8 763.7L1316.9 780.5M922.7 889.4L1001.5 894.2L1081.2 854.4L1159.2 775.4L1238.8 761.9L1316.9 781.3M922.7 900.5L1001.5 884.3L1081.2 865.2L1159.2 762.5L1238.8 769.3L1316.9 767.7M922.7 891.8L1001.5 892.6L1081.2 849.8L1159.2 778.7L1238.8 762.9L1316.9 784M922.7 896.6L1001.5 889.5L1081.2 846.2L1159.2 780.2L1238.8 755L1316.9 790.1M922.7 904.3L1001.5 886.3L1081.2 872.5L1159.2 762.6L1238.8 775.2L1316.9 769.7M922.7 876.6L1001.5 902.6L1081.2 840.5L1159.2 763.1L1238.8 772.5L1316.9 774.4M922.7 884.7L1001.5 901.1L1081.2 846.9L1159.2 782.1L1238.8 755.3L1316.9 790.7M922.7 878.3L1001.5 908.6L1081.2 836.3L1159.2 791.5L1238.8 769.6L1316.9 772.8M922.7 904.1L1001.5 881.8L1081.2 837.2L1159.2 789.4L1238.8 774.7L1316.9 772.7M922.7 884.3L1001.5 899.8L1081.2 846.4L1159.2 781.7L1238.8 754.1L1316.9 791.5M922.7 875.3L1001.5 911.8L1081.2 834.5L1159.2 788.3L1238.8 747.2L1316.9 795.3M922.7 874.6L1001.5 906.1L1081.2 841.4L1159.2 795.1L1238.8 751.4L1316.9 801.3M922.7 895.9L1001.5 889.6L1081.2 860.9L1159.2 770.5L1238.8 757.2L1316.9 791.5M922.7 888L1001.5 893.8L1081.2 854.9L1159.2 775.3L1238.8 761.9L1316.9 783.2M922.7 881.7L1001.5 900.4L1081.2 861.4L1159.2 770.6L1238.8 767L1316.9 777.5M922.7 874.9L1001.5 903.7L1081.2 871.8L1159.2 763.1L1238.8 767.9L1316.9 769.2M922.7 892L1001.5 898.2L1081.2 848.9L1159.2 772.8L1238.8 764.1L1316.9 779.7M922.7 888L1001.5 895.5L1081.2 852.3L1159.2 777.2L1238.8 762L1316.9 781.1M922.7 898.3L1001.5 884.7L1081.2 868L1159.2 789.1L1238.8 754.1L1316.9 768.9M922.7 875.3L1001.5 905.6L1081.2 829.8L1159.2 785.9L1238.8 770L1316.9 768.2M922.7 879.8L1001.5 889.6L1081.2 846.1L1159.2 785.3L1238.8 754.8L1316.9 789.6M922.7 897L1001.5 884.5L1081.2 863.5L1159.2 765.4L1238.8 768.9L1316.9 773.1M922.7 878.4L1001.5 901.9L1081.2 840.5L1159.2 786L1238.8 755.4L1316.9 788.6M922.7 898.3L1001.5 884L1081.2 864.5L1159.2 770.2L1238.8 768.9L1316.9 771.4M922.7 897.8L1001.5 886.6L1081.2 844.5L1159.2 768.1L1238.8 751.1L1316.9 795.9M922.7 906.3L1001.5 879.1L1081.2 870.6L1159.2 788.4L1238.8 774.4L1316.9 793.5M922.7 889.7L1001.5 893.9L1081.2 854L1159.2 776.6L1238.8 760.4L1316.9 781.6M922.7 884.4L1001.5 899.3L1081.2 847.8L1159.2 780.9L1238.8 756.7L1316.9 788.1M922.7 885.9L1001.5 891.8L1081.2 849.2L1159.2 779L1238.8 759.5L1316.9 779.3M922.7 884.7L1001.5 900L1081.2 845.8L1159.2 781.9L1238.8 757L1316.9 786.9M922.7 884.3L1001.5 899.2L1081.2 849.8L1159.2 780L1238.8 757.5L1316.9 787.2M922.7 900.6L1001.5 886.6L1081.2 839.9L1159.2 790.7L1238.8 750.8L1316.9 794.9M922.7 906L1001.5 879L1081.2 866.5L1159.2 765L1238.8 775.1L1316.9 765.2M922.7 882.9L1001.5 902.3L1081.2 845L1159.2 767.2L1238.8 766.7L1316.9 776.4M922.7 882.9L1001.5 901.5L1081.2 863.2L1159.2 770.6L1238.8 766.8L1316.9 778.1M922.7 895L1001.5 891L1081.2 861.9L1159.2 770.4L1238.8 765.2L1316.9 778.1M922.7 898.2L1001.5 889.9L1081.2 861.2L1159.2 785.1L1238.8 767.9L1316.9 790.5M922.7 887L1001.5 893.1L1081.2 855L1159.2 774.8L1238.8 760.1L1316.9 784.2M922.7 902.3L1001.5 888.8L1081.2 865.2L1159.2 789.6L1238.8 753.2L1316.9 794.7M922.7 895.8L1001.5 888.9L1081.2 862.7L1159.2 770L1238.8 767.8L1316.9 773.4M922.7 900.4L1001.5 886.5L1081.2 870.1L1159.2 764L1238.8 770.4L1316.9 769.9M922.7 881.8L1001.5 901.3L1081.2 842.5L1159.2 780.9L1238.8 757.3L1316.9 774.9M922.7 869.6L1001.5 906L1081.2 827.2L1159.2 794.2L1238.8 747.3L1316.9 802.5M922.7 901.4L1001.5 887.6L1081.2 865.2L1159.2 788.7L1238.8 754.3L1316.9 795.9M922.7 886.1L1001.5 897.3L1081.2 848.8L1159.2 773.8L1238.8 763.9L1316.9 779.7M922.7 904.9L1001.5 883.3L1081.2 830.8L1159.2 766L1238.8 746.2L1316.9 769.7" fill="none" stroke="#8d2c90" stroke-width="1.7" stroke-opacity="0.6"/>
<path d="M922.7 888.9L1001.5 894.8L1081.2 853.2L1159.2 776.1L1238.8 761.2L1316.9 782" fill="none" stroke="#a85fae" stroke-width="1.3"/>
</g>
<line x1="920" y1="705.6" x2="920" y2="956.9" stroke="#000" stroke-width="2"/>
<line x1="919" y1="955.9" x2="1336" y2="955.9" stroke="#000" stroke-width="2"/>
<path d="M1334.5 953.4L1339.5 955.9L1334.5 958.4Z" fill="#000"/>
<line x1="917.5" y1="710.8" x2="920" y2="710.8" stroke="#000" stroke-width="1.1"/>
<text x="905.5" y="722" font-size="21" text-anchor="end">2</text>
<line x1="917.5" y1="770.1" x2="920" y2="770.1" stroke="#000" stroke-width="1.1"/>
<text x="905.5" y="781.4" font-size="21" text-anchor="end">1</text>
<line x1="917.5" y1="829.5" x2="920" y2="829.5" stroke="#000" stroke-width="1.1"/>
<text x="905.5" y="840.7" font-size="21" text-anchor="end">0</text>
<line x1="917.5" y1="888.9" x2="920" y2="888.9" stroke="#000" stroke-width="1.1"/>
<text x="905.5" y="900.1" font-size="21" text-anchor="end">-1</text>
<line x1="917.5" y1="948.2" x2="920" y2="948.2" stroke="#000" stroke-width="1.1"/>
<text x="905.5" y="959.4" font-size="21" text-anchor="end">-2</text>
<line x1="932" y1="955.9" x2="932" y2="958.4" stroke="#000" stroke-width="1.1"/>
<text x="918.2" y="977.3" font-size="21">Thc</text>
<line x1="1010.9" y1="955.9" x2="1010.9" y2="958.4" stroke="#000" stroke-width="1.1"/>
<text x="997" y="977.3" font-size="21">T4h</text>
<line x1="1089.7" y1="955.9" x2="1089.7" y2="958.4" stroke="#000" stroke-width="1.1"/>
<text x="1075.1" y="977.3" font-size="21">T1d</text>
<line x1="1168.6" y1="955.9" x2="1168.6" y2="958.4" stroke="#000" stroke-width="1.1"/>
<text x="1153.8" y="977.3" font-size="21">T3d</text>
<line x1="1247.4" y1="955.9" x2="1247.4" y2="958.4" stroke="#000" stroke-width="1.1"/>
<text x="1232.5" y="977.3" font-size="21">T5d</text>
<line x1="1327.6" y1="955.9" x2="1327.6" y2="958.4" stroke="#000" stroke-width="1.1"/>
<text x="1306" y="977.3" font-size="21">T7d</text>
<text x="1234" y="892.5" font-size="27.3" font-weight="bold" font-style="italic" fill="#c4161c">Snhg18</text>
<text x="1234" y="925.7" font-size="27.3" font-weight="bold" font-style="italic">Sp7</text>
</g>
<g id="pg">
<text x="1.5" y="1058.1" font-size="46" font-weight="bold">g</text>
<text x="403" y="1067.2" font-size="26.5" text-anchor="middle" font-weight="bold">mouse tissues, qRT-PCR</text>
<rect x="188.1" y="1352" width="40.2" height="68.6" fill="#fff" stroke="#444" stroke-width="2.4"/>
<rect x="250.6" y="1407.6" width="40.2" height="13" fill="#a9c7e4" stroke="#444" stroke-width="2.4"/>
<rect x="313.4" y="1404.4" width="40.2" height="16.2" fill="#1f2d5e" stroke="#444" stroke-width="2.4"/>
<rect x="376.3" y="1371.9" width="40.2" height="48.7" fill="#fff" stroke="#444" stroke-width="2.4"/>
<rect x="439.1" y="1301.5" width="40.2" height="119.1" fill="#a9c7e4" stroke="#444" stroke-width="2.4"/>
<rect x="502.3" y="1414.5" width="40.2" height="6.1" fill="#1f2d5e" stroke="#444" stroke-width="2.4"/>
<rect x="565.2" y="1175.1" width="40.2" height="245.5" fill="#fff" stroke="#444" stroke-width="2.4"/>
<rect x="628" y="1157.5" width="40.2" height="263.1" fill="#a9c7e4" stroke="#444" stroke-width="2.4"/>
<line x1="165.8" y1="1069.6" x2="165.8" y2="1421.9" stroke="#000" stroke-width="2.7"/>
<line x1="153.3" y1="1420.6" x2="690.1" y2="1420.6" stroke="#000" stroke-width="2.7"/>
<line x1="153.3" y1="1070.9" x2="165.8" y2="1070.9" stroke="#000" stroke-width="2.7"/>
<text x="151.3" y="1078.8" font-size="22" text-anchor="end">50</text>
<line x1="153.3" y1="1140.8" x2="165.8" y2="1140.8" stroke="#000" stroke-width="2.7"/>
<text x="151.3" y="1148.7" font-size="22" text-anchor="end">40</text>
<line x1="153.3" y1="1210.7" x2="165.8" y2="1210.7" stroke="#000" stroke-width="2.7"/>
<text x="151.3" y="1218.6" font-size="22" text-anchor="end">30</text>
<line x1="153.3" y1="1280.7" x2="165.8" y2="1280.7" stroke="#000" stroke-width="2.7"/>
<text x="151.3" y="1288.6" font-size="22" text-anchor="end">20</text>
<line x1="153.3" y1="1350.6" x2="165.8" y2="1350.6" stroke="#000" stroke-width="2.7"/>
<text x="151.3" y="1358.5" font-size="22" text-anchor="end">10</text>
<line x1="153.3" y1="1420.6" x2="165.8" y2="1420.6" stroke="#000" stroke-width="2.7"/>
<text x="151.3" y="1428.5" font-size="22" text-anchor="end">0</text>
<line x1="208.2" y1="1420.6" x2="208.2" y2="1432.1" stroke="#000" stroke-width="2.7"/>
<line x1="270.7" y1="1420.6" x2="270.7" y2="1432.1" stroke="#000" stroke-width="2.7"/>
<line x1="333.5" y1="1420.6" x2="333.5" y2="1432.1" stroke="#000" stroke-width="2.7"/>
<line x1="396.4" y1="1420.6" x2="396.4" y2="1432.1" stroke="#000" stroke-width="2.7"/>
<line x1="459.2" y1="1420.6" x2="459.2" y2="1432.1" stroke="#000" stroke-width="2.7"/>
<line x1="522.4" y1="1420.6" x2="522.4" y2="1432.1" stroke="#000" stroke-width="2.7"/>
<line x1="585.3" y1="1420.6" x2="585.3" y2="1432.1" stroke="#000" stroke-width="2.7"/>
<line x1="648.1" y1="1420.6" x2="648.1" y2="1432.1" stroke="#000" stroke-width="2.7"/>
<line x1="208.2" y1="1345" x2="208.2" y2="1352" stroke="#1a1a1a" stroke-width="1.3"/>
<line x1="198.2" y1="1345" x2="218.2" y2="1345" stroke="#1a1a1a" stroke-width="1.4000000000000001"/>
<line x1="270.7" y1="1405.5" x2="270.7" y2="1407.6" stroke="#1a1a1a" stroke-width="1.3"/>
<line x1="260.7" y1="1405.5" x2="280.7" y2="1405.5" stroke="#1a1a1a" stroke-width="1.4000000000000001"/>
<line x1="333.5" y1="1400.5" x2="333.5" y2="1404.4" stroke="#1a1a1a" stroke-width="1.3"/>
<line x1="323.5" y1="1400.5" x2="343.5" y2="1400.5" stroke="#1a1a1a" stroke-width="1.4000000000000001"/>
<line x1="396.4" y1="1367" x2="396.4" y2="1371.9" stroke="#1a1a1a" stroke-width="1.3"/>
<line x1="386.4" y1="1367" x2="406.4" y2="1367" stroke="#1a1a1a" stroke-width="1.4000000000000001"/>
<line x1="459.2" y1="1293.2" x2="459.2" y2="1301.5" stroke="#1a1a1a" stroke-width="1.3"/>
<line x1="449.2" y1="1293.2" x2="469.2" y2="1293.2" stroke="#1a1a1a" stroke-width="1.4000000000000001"/>
<line x1="522.4" y1="1412.5" x2="522.4" y2="1414.5" stroke="#1a1a1a" stroke-width="1.3"/>
<line x1="512.4" y1="1412.5" x2="532.4" y2="1412.5" stroke="#1a1a1a" stroke-width="1.4000000000000001"/>
<line x1="585.3" y1="1162.1" x2="585.3" y2="1175.1" stroke="#1a1a1a" stroke-width="1.3"/>
<line x1="575.3" y1="1162.1" x2="595.3" y2="1162.1" stroke="#1a1a1a" stroke-width="1.4000000000000001"/>
<line x1="648.1" y1="1135.7" x2="648.1" y2="1157.5" stroke="#1a1a1a" stroke-width="1.3"/>
<line x1="638.1" y1="1135.7" x2="658.1" y2="1135.7" stroke="#1a1a1a" stroke-width="1.4000000000000001"/>
<g fill="none" stroke="#000" stroke-width="2.5"><circle cx="199.2" cy="1346.5" r="4.4"/><circle cx="216.8" cy="1348.3" r="4.4"/><circle cx="207.5" cy="1357.6" r="4.4"/></g>
<g fill="none" stroke="#000" stroke-width="2.5"><circle cx="253.8" cy="1409" r="4.4"/><circle cx="271" cy="1406.7" r="4.4"/><circle cx="287.2" cy="1409" r="4.4"/></g>
<g fill="none" stroke="#000" stroke-width="2.5"><circle cx="316.8" cy="1405.3" r="4.4"/><circle cx="333.5" cy="1401.6" r="4.4"/><circle cx="350.6" cy="1403" r="4.4"/></g>
<g fill="none" stroke="#000" stroke-width="2.5"><circle cx="379.8" cy="1376.6" r="4.4"/><circle cx="396.9" cy="1368.7" r="4.4"/><circle cx="413.6" cy="1369.2" r="4.4"/></g>
<g fill="none" stroke="#000" stroke-width="2.5"><circle cx="450.7" cy="1295" r="4.4"/><circle cx="468.7" cy="1297.8" r="4.4"/><circle cx="459.5" cy="1309.4" r="4.4"/></g>
<g fill="none" stroke="#000" stroke-width="2.5"><circle cx="505.8" cy="1414.1" r="4.4"/><circle cx="522.5" cy="1413.2" r="4.4"/><circle cx="538.7" cy="1414.1" r="4.4"/></g>
<g fill="none" stroke="#000" stroke-width="2.5"><circle cx="576.7" cy="1163.5" r="4.4"/><circle cx="594.3" cy="1171.4" r="4.4"/><circle cx="585.9" cy="1187.6" r="4.4"/></g>
<g fill="none" stroke="#000" stroke-width="2.5"><circle cx="648.4" cy="1134.3" r="4.4"/><circle cx="648.4" cy="1162.1" r="4.4"/><circle cx="648.4" cy="1172.8" r="4.4"/></g>
<text font-size="23.77" text-anchor="middle" transform="translate(106.5 1245) rotate(-90)">Relative Snhg18 levels</text>
<text font-size="22" text-anchor="end" transform="translate(213.9 1453.9) rotate(-45)">heart</text>
<text font-size="22" text-anchor="end" transform="translate(276.4 1453.9) rotate(-45)">liver</text>
<text font-size="22" text-anchor="end" transform="translate(339.2 1453.9) rotate(-45)">spleen</text>
<text font-size="22" text-anchor="end" transform="translate(402.1 1453.9) rotate(-45)">lung</text>
<text font-size="22" text-anchor="end" transform="translate(464.9 1453.9) rotate(-45)">kidney</text>
<text font-size="22" text-anchor="end" transform="translate(528.1 1453.9) rotate(-45)">intestinum</text>
<text font-size="22" text-anchor="end" transform="translate(591 1453.9) rotate(-45)">femur</text>
<text font-size="22" text-anchor="end" transform="translate(653.8 1453.9) rotate(-45)">jawbone</text>
</g>
<g id="ph">
<text x="791.5" y="1058.8" font-size="46" font-weight="bold">h</text>
<text font-size="23.2" transform="translate(938 1116) rotate(-45)">heart</text>
<text font-size="23.2" transform="translate(1014.3 1116) rotate(-45)">liver</text>
<text font-size="23.2" transform="translate(1094 1116) rotate(-45)">spleen</text>
<text font-size="23.2" transform="translate(1170.5 1116) rotate(-45)">lung</text>
<text font-size="23.2" transform="translate(1248.5 1116) rotate(-45)">kidney</text>
<text font-size="23.2" transform="translate(1325.5 1116) rotate(-45)">intestinum</text>
<text font-size="23.2" transform="translate(1410.9 1115) rotate(-45)">femur</text>
<text font-size="23.2" transform="translate(1480 1110) rotate(-45)">jawbone</text>
<text font-size="23.2" transform="translate(1566 1116) rotate(-45)">osteoclast</text>
<text font-size="23.2" transform="translate(1643.5 1116) rotate(-45)">macrophage</text>
<text font-size="23.2" transform="translate(1724.5 1110) rotate(-45)">BMSCs</text>
<text font-size="23.2" transform="translate(1789 1109.5) rotate(-45)">osteoblast</text>
<defs><filter id="b3" x="-30%" y="-100%" width="160%" height="300%"><feGaussianBlur stdDeviation="3.6 3.2"/></filter><filter id="b4" x="-30%" y="-100%" width="160%" height="300%"><feGaussianBlur stdDeviation="6 6"/></filter><filter id="b2" x="-30%" y="-100%" width="160%" height="300%"><feGaussianBlur stdDeviation="2.6 2.8"/></filter><filter id="b5" x="-30%" y="-100%" width="160%" height="300%"><feGaussianBlur stdDeviation="4 3.6"/></filter><filter id="b8" x="-30%" y="-30%" width="160%" height="160%"><feGaussianBlur stdDeviation="9"/></filter><clipPath id="c1"><rect x="902.7" y="1121.4" width="935.4" height="81"/></clipPath><clipPath id="c2"><rect x="902.7" y="1225.6" width="935.4" height="81.3"/></clipPath><clipPath id="c3"><rect x="902.7" y="1320.6" width="935.4" height="124.8"/></clipPath><linearGradient id="g2" x1="0" y1="0" x2="0" y2="1"><stop offset="0" stop-color="#c4c4c4"/><stop offset="0.35" stop-color="#bcbcbc"/><stop offset="0.6" stop-color="#aaa"/><stop offset="0.85" stop-color="#b4b4b4"/><stop offset="1" stop-color="#bcbcbc"/></linearGradient><linearGradient id="g3" x1="0" y1="0" x2="0" y2="1"><stop offset="0" stop-color="#2a2a2a"/><stop offset="0.15" stop-color="#333"/><stop offset="0.36" stop-color="#4c4c4c"/><stop offset="0.7" stop-color="#444"/><stop offset="0.8" stop-color="#333"/><stop offset="1" stop-color="#2e2e2e"/></linearGradient><linearGradient id="gv" x1="0" y1="0" x2="1" y2="0"><stop offset="0" stop-color="#000" stop-opacity="0"/><stop offset="0.45" stop-color="#000" stop-opacity="0.05"/><stop offset="1" stop-color="#000" stop-opacity="0.38"/></linearGradient></defs>
<rect x="902.7" y="1121.4" width="935.4" height="81" fill="#b9b9b9"/>
<g clip-path="url(#c1)"><g filter="url(#b8)"><ellipse cx="1485.4" cy="1181.1" rx="32.5" ry="15.8" fill="#c6c6c6"/><ellipse cx="1135.7" cy="1125.2" rx="16.5" ry="12.7" fill="#adadad"/><ellipse cx="1133.3" cy="1165" rx="14.3" ry="10.2" fill="#adadad"/><ellipse cx="1164.1" cy="1195.2" rx="17.5" ry="16" fill="#b0b0b0"/><ellipse cx="1032.5" cy="1171" rx="16.9" ry="17.7" fill="#adadad"/><ellipse cx="907.7" cy="1183.7" rx="33.2" ry="10.9" fill="#adadad"/><ellipse cx="1802.1" cy="1164.7" rx="18" ry="17.7" fill="#adadad"/><ellipse cx="1086.9" cy="1199.2" rx="20.6" ry="11.6" fill="#b0b0b0"/><ellipse cx="1057.9" cy="1132.8" rx="21.3" ry="16.2" fill="#c6c6c6"/><ellipse cx="1451" cy="1169.3" rx="15.5" ry="11.6" fill="#c2c2c2"/><ellipse cx="1189" cy="1177.4" rx="24.6" ry="15" fill="#adadad"/><ellipse cx="956" cy="1200" rx="34.9" ry="11.6" fill="#c6c6c6"/><ellipse cx="1280.9" cy="1165.5" rx="22.1" ry="13.8" fill="#b0b0b0"/><ellipse cx="911.2" cy="1124.8" rx="27.7" ry="17.5" fill="#adadad"/><ellipse cx="1014" cy="1140.9" rx="21.6" ry="11.5" fill="#b0b0b0"/><ellipse cx="1393.5" cy="1183.8" rx="27" ry="15.8" fill="#c6c6c6"/><ellipse cx="1246.3" cy="1145" rx="34.8" ry="8.9" fill="#b0b0b0"/><ellipse cx="1221.4" cy="1170.5" rx="21.5" ry="17.2" fill="#adadad"/><ellipse cx="1412.6" cy="1146.3" rx="20.7" ry="16" fill="#c2c2c2"/><ellipse cx="1489" cy="1179.4" rx="35.9" ry="9.6" fill="#c2c2c2"/><ellipse cx="948.1" cy="1200.9" rx="14.7" ry="15.4" fill="#b0b0b0"/><ellipse cx="1224.3" cy="1141.3" rx="17.2" ry="17.8" fill="#b0b0b0"/><ellipse cx="1499.8" cy="1185.9" rx="32.4" ry="9.3" fill="#c2c2c2"/><ellipse cx="1587.1" cy="1197.9" rx="16.3" ry="12.3" fill="#b0b0b0"/><ellipse cx="1042.3" cy="1189.4" rx="17.1" ry="17.2" fill="#c2c2c2"/><ellipse cx="1483" cy="1134.7" rx="35.1" ry="14.9" fill="#b0b0b0"/><ellipse cx="1199.9" cy="1143.2" rx="22.9" ry="9.5" fill="#b0b0b0"/><ellipse cx="1255.3" cy="1201.1" rx="27.8" ry="13" fill="#adadad"/><ellipse cx="1219.3" cy="1128.2" rx="25.3" ry="13.5" fill="#c2c2c2"/><ellipse cx="1373" cy="1126.1" rx="29.3" ry="14.6" fill="#c2c2c2"/><ellipse cx="1613.3" cy="1150.4" rx="32.4" ry="10.6" fill="#c2c2c2"/><ellipse cx="1820.3" cy="1179" rx="28.3" ry="13.8" fill="#c2c2c2"/><ellipse cx="913.5" cy="1165.3" rx="21.2" ry="10.7" fill="#c2c2c2"/><ellipse cx="1172.9" cy="1161.5" rx="21.7" ry="14.4" fill="#c2c2c2"/><ellipse cx="1592.9" cy="1188.1" rx="34.3" ry="9.7" fill="#c2c2c2"/><ellipse cx="1713.7" cy="1157.4" rx="35" ry="13.2" fill="#c2c2c2"/><ellipse cx="1397.8" cy="1134.5" rx="34.6" ry="12.8" fill="#c2c2c2"/><ellipse cx="1549.5" cy="1179.3" rx="17.8" ry="15.8" fill="#b0b0b0"/><ellipse cx="1446" cy="1174.9" rx="20.7" ry="13.5" fill="#b0b0b0"/><ellipse cx="1713.8" cy="1142.9" rx="18.3" ry="13.9" fill="#c6c6c6"/><ellipse cx="1486.5" cy="1135.6" rx="27.9" ry="8.4" fill="#adadad"/><ellipse cx="1343.8" cy="1139.3" rx="33.6" ry="9.1" fill="#c6c6c6"/><ellipse cx="1808.1" cy="1160.1" rx="23.1" ry="11.5" fill="#c6c6c6"/><ellipse cx="1522.4" cy="1126.8" rx="19.2" ry="17" fill="#adadad"/><ellipse cx="903.3" cy="1153.8" rx="32.8" ry="16.7" fill="#c2c2c2"/><ellipse cx="1547.1" cy="1165.3" rx="26.1" ry="11" fill="#c6c6c6"/></g><g filter="url(#b3)"><ellipse cx="944.5" cy="1166.5" rx="28" ry="7" fill="#6e6e6e" fill-opacity="0.9"/><ellipse cx="1023" cy="1165" rx="17" ry="5" fill="#999" fill-opacity="0.5"/><ellipse cx="1103" cy="1164" rx="17" ry="5" fill="#9a9a9a" fill-opacity="0.4"/><ellipse cx="1180.7" cy="1165.5" rx="27" ry="6" fill="#858585" fill-opacity="0.75"/><ellipse cx="1262.5" cy="1164.5" rx="31" ry="7.5" fill="#666" fill-opacity="0.9"/><ellipse cx="1335" cy="1163.5" rx="25" ry="6" fill="#888" fill-opacity="0.7"/><ellipse cx="1412.5" cy="1164.2" rx="32" ry="8" fill="#444" fill-opacity="0.95"/><ellipse cx="1490.6" cy="1162.8" rx="34" ry="9.5" fill="#343434" fill-opacity="1"/><ellipse cx="1720" cy="1162.8" rx="31" ry="8" fill="#4e4e4e" fill-opacity="0.95"/><ellipse cx="1790.7" cy="1162.8" rx="32" ry="8.5" fill="#424242" fill-opacity="0.95"/></g></g>
<rect x="902.7" y="1121.4" width="935.4" height="81" fill="none" stroke="#000" stroke-width="1.3"/>
<rect x="902.7" y="1225.6" width="935.4" height="81.3" fill="url(#g2)"/>
<g clip-path="url(#c2)"><g filter="url(#b4)"><ellipse cx="949.7" cy="1273" rx="38" ry="19" fill="#666" fill-opacity="0.75"/><ellipse cx="1027.8" cy="1273" rx="38" ry="19" fill="#666" fill-opacity="0.75"/><ellipse cx="1106.5" cy="1273" rx="38" ry="19" fill="#666" fill-opacity="0.75"/><ellipse cx="1182.2" cy="1273" rx="38" ry="19" fill="#666" fill-opacity="0.75"/><ellipse cx="1260.1" cy="1273" rx="38" ry="19" fill="#666" fill-opacity="0.75"/><ellipse cx="1338.8" cy="1273" rx="38" ry="19" fill="#666" fill-opacity="0.75"/><ellipse cx="1415.8" cy="1273" rx="38" ry="19" fill="#666" fill-opacity="0.75"/><ellipse cx="1492.3" cy="1273" rx="38" ry="19" fill="#666" fill-opacity="0.75"/><ellipse cx="1568.7" cy="1273" rx="38" ry="19" fill="#666" fill-opacity="0.75"/><ellipse cx="1642" cy="1273" rx="38" ry="19" fill="#666" fill-opacity="0.75"/><ellipse cx="1716.8" cy="1273" rx="38" ry="19" fill="#666" fill-opacity="0.75"/><ellipse cx="1793.3" cy="1273" rx="38" ry="19" fill="#666" fill-opacity="0.75"/></g><g filter="url(#b5)"><path d="M916.2 1264q33.5 -5 67 0v17q-33.5 10 -67 0z" fill="#1c1c1c"/><path d="M994.3 1264q33.5 -5 67 0v17q-33.5 10 -67 0z" fill="#222"/><path d="M1073 1264q33.5 -5 67 0v17q-33.5 10 -67 0z" fill="#111"/><path d="M1148.7 1264q33.5 -5 67 0v17q-33.5 10 -67 0z" fill="#141414"/><path d="M1226.6 1264q33.5 -5 67 0v17q-33.5 10 -67 0z" fill="#1e1e1e"/><path d="M1305.3 1264q33.5 -5 67 0v17q-33.5 10 -67 0z" fill="#222"/><path d="M1382.3 1264q33.5 -5 67 0v17q-33.5 10 -67 0z" fill="#2c2c2c"/><path d="M1458.8 1264q33.5 -5 67 0v17q-33.5 10 -67 0z" fill="#3a3a3a"/><path d="M1535.2 1264q33.5 -5 67 0v17q-33.5 10 -67 0z" fill="#3c3c3c"/><path d="M1608.5 1264q33.5 -5 67 0v17q-33.5 10 -67 0z" fill="#3c3c3c"/><path d="M1683.3 1264q33.5 -5 67 0v17q-33.5 10 -67 0z" fill="#303030"/><path d="M1759.8 1264q33.5 -5 67 0v17q-33.5 10 -67 0z" fill="#343434"/></g></g>
<rect x="902.7" y="1225.6" width="935.4" height="81.3" fill="none" stroke="#000" stroke-width="1.3"/>
<rect x="902.7" y="1320.6" width="935.4" height="124.8" fill="#262626"/>
<g clip-path="url(#c3)"><g filter="url(#b2)"><rect x="911.2" y="1322" width="59.1" height="123" fill="url(#g3)"/><rect x="988.4" y="1322" width="59.1" height="123" fill="url(#g3)"/><rect x="1066.6" y="1322" width="59" height="123" fill="url(#g3)"/><rect x="1143.8" y="1322" width="58.1" height="123" fill="url(#g3)"/><rect x="1222.2" y="1322" width="58.5" height="123" fill="url(#g3)"/><rect x="1299.4" y="1322" width="58.5" height="123" fill="url(#g3)"/><rect x="1377" y="1322" width="58.4" height="123" fill="url(#g3)"/><rect x="1454.2" y="1322" width="59.1" height="123" fill="url(#g3)"/><rect x="1532.9" y="1322" width="57.6" height="123" fill="url(#g3)"/><rect x="1610.2" y="1322" width="59" height="123" fill="url(#g3)"/><rect x="1687.4" y="1322" width="59" height="123" fill="url(#g3)"/><rect x="1766.1" y="1322" width="59.1" height="123" fill="url(#g3)"/></g><g filter="url(#b2)"><rect x="912.2" y="1364" width="57.1" height="44" fill="#5a5a5a" fill-opacity="0.3"/><rect x="912.2" y="1367.5" width="57.1" height="13.6" fill="#8e8e8e"/><rect x="912.2" y="1390.3" width="57.1" height="14.2" fill="#8e8e8e" fill-opacity="0.92"/><rect x="989.4" y="1364" width="57.1" height="44" fill="#5a5a5a" fill-opacity="0.3"/><rect x="989.4" y="1367.5" width="57.1" height="13.6" fill="#8a8a8a"/><rect x="989.4" y="1390.3" width="57.1" height="14.2" fill="#8a8a8a" fill-opacity="0.92"/><rect x="1067.6" y="1364" width="57" height="44" fill="#5a5a5a" fill-opacity="0.3"/><rect x="1067.6" y="1367.5" width="57" height="13.6" fill="#8c8c8c"/><rect x="1067.6" y="1390.3" width="57" height="14.2" fill="#8c8c8c" fill-opacity="0.92"/><rect x="1144.8" y="1364" width="56.1" height="44" fill="#5a5a5a" fill-opacity="0.3"/><rect x="1144.8" y="1367.5" width="56.1" height="13.6" fill="#a8a8a8"/><rect x="1144.8" y="1390.3" width="56.1" height="14.2" fill="#a8a8a8" fill-opacity="0.92"/><rect x="1223.2" y="1364" width="56.5" height="44" fill="#5a5a5a" fill-opacity="0.3"/><rect x="1223.2" y="1367.5" width="56.5" height="13.6" fill="#a6a6a6"/><rect x="1223.2" y="1390.3" width="56.5" height="14.2" fill="#a6a6a6" fill-opacity="0.92"/><rect x="1300.4" y="1364" width="56.5" height="44" fill="#5a5a5a" fill-opacity="0.3"/><rect x="1300.4" y="1367.5" width="56.5" height="13.6" fill="#909090"/><rect x="1300.4" y="1390.3" width="56.5" height="14.2" fill="#909090" fill-opacity="0.92"/><rect x="1378" y="1364" width="56.4" height="44" fill="#5a5a5a" fill-opacity="0.3"/><rect x="1378" y="1367.5" width="56.4" height="13.6" fill="#868686"/><rect x="1378" y="1390.3" width="56.4" height="14.2" fill="#868686" fill-opacity="0.92"/><rect x="1455.2" y="1364" width="57.1" height="44" fill="#5a5a5a" fill-opacity="0.3"/><rect x="1455.2" y="1367.5" width="57.1" height="13.6" fill="#8a8a8a"/><rect x="1455.2" y="1390.3" width="57.1" height="14.2" fill="#8a8a8a" fill-opacity="0.92"/><rect x="1533.9" y="1364" width="55.6" height="44" fill="#5a5a5a" fill-opacity="0.3"/><rect x="1533.9" y="1367.5" width="55.6" height="13.6" fill="#7e7e7e"/><rect x="1533.9" y="1390.3" width="55.6" height="14.2" fill="#7e7e7e" fill-opacity="0.92"/><rect x="1611.2" y="1364" width="57" height="44" fill="#5a5a5a" fill-opacity="0.3"/><rect x="1611.2" y="1367.5" width="57" height="13.6" fill="#787878"/><rect x="1611.2" y="1390.3" width="57" height="14.2" fill="#787878" fill-opacity="0.92"/><rect x="1688.4" y="1364" width="57" height="44" fill="#5a5a5a" fill-opacity="0.3"/><rect x="1688.4" y="1367.5" width="57" height="13.6" fill="#727272"/><rect x="1688.4" y="1390.3" width="57" height="14.2" fill="#727272" fill-opacity="0.92"/><rect x="1767.1" y="1364" width="57.1" height="44" fill="#5a5a5a" fill-opacity="0.3"/><rect x="1767.1" y="1367.5" width="57.1" height="13.6" fill="#606060"/><rect x="1767.1" y="1390.3" width="57.1" height="14.2" fill="#606060" fill-opacity="0.92"/></g><rect x="902.7" y="1320.6" width="935.4" height="124.8" fill="url(#gv)"/></g>
<rect x="902.7" y="1320.6" width="935.4" height="124.8" fill="none" stroke="#111" stroke-width="1"/>
<text x="894.5" y="1175.9" font-size="22.6" text-anchor="end" font-style="italic">Snhg18</text>
<text x="894.5" y="1276.1" font-size="22.6" text-anchor="end" font-style="italic">Actin</text>
<text x="894.5" y="1372.9" font-size="22.6" text-anchor="end">28S rRNA</text>
<text x="894.5" y="1413.8" font-size="22.6" text-anchor="end">18S rRNA</text>
<line x1="1838.1" y1="1159.8" x2="1847" y2="1159.8" stroke="#000" stroke-width="1.5"/>
<text x="1848.6" y="1166.9" font-size="22.6">1.5 kb</text>
<line x1="1838.1" y1="1285.7" x2="1847" y2="1285.7" stroke="#000" stroke-width="1.5"/>
<text x="1848.6" y="1292.2" font-size="22.6">1.8 kb</text>
</g>
<g id="pi">
<text x="6.2" y="1560.6" font-size="46" font-weight="bold">i</text>
<text x="79.8" y="1560.6" font-size="26.5" font-weight="bold">Mouse mandibular, scRNA-seq ( PRJNA697839 )</text>
<path d="M138.5 1703.5h0m1-.5h0m2-1h0m1.5 1.5h0m.5 0h0m7 0h0m.5-2h0m0-.5h0m0 1h0m1 1h0m0 .5h0m.5 0h0m.5 0h0m0-.5h0m1-3.5h0m1 4h0m.5 0h0m2.5 0h0m0-.5h0m-20 2.5h0m1-.5h0m0 2h0m2-1h0m0 2h0m1 .5h0m.5-1h0m0-.5h0m0-2h0m.5 4.5h0m0-4h0m.5 .5h0m0 2.5h0m.5 .5h0m0-3h0m0 1.5h0m0-.5h0m1 2h0m.5-4h0m0 1.5h0m0 2h0m.5-4.5h0m0 3h0m.5-.5h0m.5 2.5h0m0-3h0m0 3.5h0m.5-3.5h0m0 2h0m0 1h0m0-.5h0m.5-2h0m0 .5h0m0-2h0m0-.5h0m.5 0h0m0 2h0m.5-1.5h0m.5 1h0m.5-1h0m0 .5h0m0 .5h0m.5 1h0m0 1.5h0m0-3.5h0m0-.5h0m.5 1h0m0 1.5h0m0-.5h0m.5 .5h0m0 1.5h0m0-.5h0m0-4h0m.5 4h0m.5-4h0m0 4.5h0m0-3h0m0 1.5h0m.5 .5h0m0-2.5h0m0 1h0m.5-1.5h0m0 3h0m0-.5h0m0 1h0m.5-4h0m0 5.5h0m0-3.5h0m0 2.5h0m.5-4h0m.5 1.5h0m0-.5h0m0 1.5h0m0 2.5h0m.5-5h0m0 2h0m1 3h0m0-3h0m0 1h0m.5 1h0m0-2.5h0m.5 1.5h0m.5-3.5h0m1 1h0m-25.5 6h0m.5 2.5h0m1 1h0m0-3.5h0m0 1.5h0m1 1.5h0m.5-4h0m0 1h0m0-.5h0m2 5h0m0-2.5h0m.5-2.5h0m0 1h0m.5 1h0m0-.5h0m0 1h0m.5-3h0m.5 1.5h0m0 1.5h0m0 1.5h0m0 .5h0m1-2.5h0m0 2.5h0m.5-1h0m0-3h0m0-.5h0m0 1h0m.5-1h0m0 4.5h0m.5 .5h0m0-5h0m0 1h0m1-.5h0m.5 2.5h0m0 1h0m0 .5h0m.5-2.5h0m0 2h0m0-4h0m.5 3.5h0m0-3h0m0 3.5h0m.5 .5h0m0-5h0m0 1h0m0 4.5h0m0-3.5h0m0 .5h0m0 1h0m.5-3h0m0 2.5h0m.5 1h0m0 1h0m.5-3.5h0m0 1.5h0m0 1.5h0m0-3.5h0m.5 4.5h0m0-3h0m0-.5h0m0-2h0m.5 1h0m0 4.5h0m0-5h0m0 1h0m0 1h0m0 1h0m0-.5h0m0 1.5h0m.5-3h0m0 4h0m0-5.5h0m0 1h0m.5 3.5h0m0 1h0m.5-3.5h0m0 2h0m.5-2h0m0 2h0m0 1.5h0m.5-4h0m0 2h0m0-3h0m.5 3h0m0-.5h0m0-2h0m0 .5h0m.5 2h0m0 .5h0m1-1.5h0m0-1.5h0m.5-1h0m0 1h0m0 2h0m.5-.5h0m.5 1.5h0m0-3.5h0m0 3h0m.5 2h0m0-1h0m.5-2.5h0m.5 3.5h0m0-4h0m0 1h0m.5 1h0m0 .5h0m.5 1.5h0m.5-3h0m0 3h0m0-.5h0m.5-2h0m1.5 2h0m1.5-.5h0m0 1h0m.5-2h0m1 1.5h0m2.5 .5h0m.5 0h0m.5 0h0m1.5 0h0m4.5-1h0m3.5-1.5h0m-40 8h0m.5-2h0m.5 0h0m0 .5h0m.5-3h0m0 1h0m0 2h0m.5-.5h0m.5 1.5h0m0 .5h0m0-4.5h0m0 1h0m.5 3.5h0m0-2h0m.5 1.5h0m.5-1h0m.5 2h0m0-3.5h0m0 1.5h0m.5-3h0m0 .5h0m.5 3.5h0m0-4.5h0m.5 .5h0m0 4h0m.5-2.5h0m0-2h0m.5 1h0m0-.5h0m0 2.5h0m0-3h0m.5 2.5h0m0 3h0m0-3.5h0m.5 0h0m.5 3.5h0m0-3.5h0m.5 .5h0m0 2h0m0-.5h0m0-4h0m0 1h0m0-.5h0m.5-.5h0m0 .5h0m.5 3.5h0m.5 1.5h0m0-4h0m.5 .5h0m0-.5h0m0 1h0m0 2h0m.5-.5h0m0-4h0m0 2.5h0m0 1h0m.5-3h0m0 3.5h0m.5-2h0m0 1h0m0-3h0m.5 1h0m0 .5h0m.5-.5h0m0 1.5h0m0 1h0m0-.5h0m0 1h0m0 1.5h0m.5-5.5h0m0 1.5h0m1 0h0m0 4h0m0-.5h0m0-4h0m0 1h0m.5 .5h0m0 1.5h0m0 1.5h0m0-5h0m.5 2h0m0 2h0m0-4.5h0m0 1.5h0m.5 1.5h0m0 .5h0m0 1h0m.5-1.5h0m0 1h0m0-4h0m0 5.5h0m0-3.5h0m.5 1.5h0m.5-1.5h0m0-.5h0m.5 4h0m0-4h0m.5 4h0m.5-.5h0m.5-.5h0m1-2.5h0m0 2.5h0m.5-2h0m0 1.5h0m.5-3h0m0 1h0m0-2h0m.5 5h0m0-2h0m0-.5h0m1 0h0m0 1h0m.5 1.5h0m0-5h0m0 1.5h0m.5 1.5h0m0-2.5h0m.5 1.5h0m2 3.5h0m.5-5h0m0 2h0m.5-1h0m.5-1.5h0m.5 1.5h0m.5 1.5h0m0 .5h0m.5 0h0m1.5-3h0m.5 1.5h0m.5 2.5h0m0 .5h0m0-4h0m1 2h0m0 1h0m0 1h0m0-4.5h0m0 1.5h0m.5 3.5h0m.5-5h0m0 1.5h0m.5 2h0m.5-.5h0m1 .5h0m1-2h0m.5-.5h0m1.5 2.5h0m.5 0h0m1-.5h0m.5 1.5h0m-40.5 2h0m1.5 0h0m.5 4.5h0m0-5.5h0m0 2h0m.5 0h0m.5 .5h0m.5-1h0m.5 0h0m0 1h0m0 .5h0m0-3h0m.5 0h0m0 2.5h0m1 2.5h0m0 .5h0m.5-4.5h0m0 .5h0m.5-.5h0m.5 1h0m0-.5h0m0 3h0m.5-.5h0m0-3.5h0m.5 1h0m0 1h0m0 3h0m0-.5h0m0-3h0m.5 0h0m0 3.5h0m0-5.5h0m.5 3.5h0m0-1h0m.5-2.5h0m0 .5h0m0 2.5h0m.5 2h0m0-1.5h0m.5-2.5h0m0 2h0m.5-2.5h0m0 2.5h0m.5-2h0m0 1h0m0-.5h0m0 3h0m.5-4.5h0m0 .5h0m.5-.5h0m0 1.5h0m0 2h0m.5 2h0m0-4.5h0m0-.5h0m.5 4h0m0-3.5h0m0-.5h0m.5 2.5h0m.5-2.5h0m0-.5h0m0 1h0m0 3.5h0m.5-3.5h0m0-.5h0m1 4.5h0m.5-3.5h0m0 3h0m0-4h0m1 1.5h0m0 1h0m.5 1h0m0-4h0m0 1h0m0 1h0m0 1h0m.5 0h0m.5 .5h0m0-3h0m0 1.5h0m.5-1.5h0m0 2h0m.5-.5h0m.5 2h0m0-4h0m.5 2.5h0m0 1h0m0 1h0m.5-1.5h0m.5-1.5h0m.5-1h0m0 3h0m.5-2h0m0 3.5h0m0-5h0m0 1h0m0 1h0m.5 2.5h0m.5-3h0m0 1.5h0m0-.5h0m0 2.5h0m1-1h0m.5 .5h0m0-4.5h0m.5 5.5h0m0-2.5h0m.5-3h0m0 2h0m.5-1h0m.5 3h0m0-.5h0m0 1h0m0-3.5h0m.5-1h0m0 1h0m0 3h0m.5 1h0m0-5h0m.5 4.5h0m.5-4.5h0m0 2.5h0m.5 2.5h0m.5-3h0m0 1h0m0-.5h0m0 2h0m0 .5h0m.5-1h0m0-.5h0m1-.5h0m0-.5h0m1 1.5h0m.5-3h0m1 4.5h0m1-1.5h0m.5-3h0m0 4.5h0m.5-4h0m.5 2h0m.5-2h0m0 1.5h0m.5 .5h0m.5 .5h0m0-3.5h0m0-.5h0m0 1h0m1 3.5h0m0-3.5h0m.5 2.5h0m.5-3.5h0m1 3.5h0m0 1.5h0m0-.5h0m0-4h0m.5 4h0m0-4h0m0-.5h0m.5 3.5h0m0 2h0m0-5.5h0m0 3h0m.5 2.5h0m1-1.5h0m0 1.5h0m0-4.5h0m1.5 .5h0m.5 2h0m1 .5h0m1-1h0m0-.5h0m0 3h0m5.5 0h0m3-2.5h0m1 1.5h0m0 1h0m4-2h0m13.5 1.5h0m.5 0h0m0-.5h0m.5 0h0m.5 0h0m0 .5h0m.5-1h0m0 .5h0m0 1h0m0-4h0m.5 2h0m0 1.5h0m.5 .5h0m.5-1h0m1-4h0m0 2.5h0m0 1h0m.5 0h0m0 1.5h0m0-4h0m.5 4h0m.5-3.5h0m0 3h0m0-.5h0m0-4h0m.5 2h0m0 1.5h0m0 1h0m0-4.5h0m.5 3h0m0 1.5h0m0 .5h0m.5-1h0m.5-4h0m.5 3h0m0 1.5h0m0-4.5h0m1 0h0m.5 1h0m-81.5 8.5h0m1 1h0m0-3h0m.5-1.5h0m.5 3.5h0m1 .5h0m.5-4.5h0m.5 2.5h0m.5 0h0m.5 0h0m.5 2h0m0-3.5h0m0-.5h0m.5-.5h0m0 3h0m.5 1.5h0m0-4h0m0 4.5h0m.5-2.5h0m0-1.5h0m.5 4.5h0m1.5-4h0m1 1.5h0m.5-2h0m0 3.5h0m0-.5h0m.5 1.5h0m1-4.5h0m.5 2h0m0-2h0m0 1h0m.5 3h0m0-5h0m1 .5h0m0 1h0m.5 4h0m.5-5h0m.5 3h0m0 1h0m0-4h0m0-.5h0m.5 .5h0m0 1.5h0m0 2.5h0m.5 .5h0m0-1.5h0m.5-2h0m0 1.5h0m.5 2h0m1-4h0m0 4h0m0-5h0m.5 4.5h0m.5-1h0m1 .5h0m0 .5h0m.5 1h0m0-5.5h0m0 1h0m0-.5h0m.5 4.5h0m.5-2.5h0m.5 1.5h0m0-4h0m.5 5.5h0m0-.5h0m.5-3.5h0m0-.5h0m0 1h0m.5 1h0m0 2h0m.5-4h0m0 2.5h0m.5 1.5h0m0-1h0m.5 .5h0m.5 .5h0m.5-1.5h0m0 .5h0m0 1h0m.5-2h0m0-.5h0m.5 3h0m0-5h0m0-.5h0m0 2h0m.5 1.5h0m0 1h0m0-4.5h0m1 1h0m.5 2h0m0-.5h0m0 3h0m0-5h0m.5 3h0m0 1h0m0-4h0m0-.5h0m0 1h0m0 1h0m0-.5h0m.5 3.5h0m.5-.5h0m0 1h0m0-.5h0m.5-3h0m.5 1h0m0-2.5h0m0-.5h0m0 1h0m1 0h0m0 1h0m0 1.5h0m.5 0h0m0-3.5h0m0 2.5h0m.5-2h0m0 4.5h0m0-.5h0m.5-1.5h0m.5-2.5h0m0-.5h0m.5 5.5h0m.5-3.5h0m0 2.5h0m0 .5h0m.5-3h0m0 1h0m0 .5h0m.5 1h0m.5-2h0m1 0h0m0 1.5h0m0-2.5h0m.5 2h0m0 1.5h0m0-.5h0m0-4h0m0 1h0m0 .5h0m.5-2h0m.5 3h0m.5 1h0m0 .5h0m0-4.5h0m.5 4.5h0m0-2h0m.5 2.5h0m0 .5h0m0-4.5h0m.5 4h0m1.5-2h0m.5-1h0m0 2.5h0m.5-3.5h0m0 3.5h0m.5-2h0m.5-.5h0m0 1h0m.5 2.5h0m.5-2.5h0m0 2h0m.5-4.5h0m0 .5h0m2.5 3.5h0m0-1.5h0m.5 2h0m0-3.5h0m0 .5h0m.5 2.5h0m0-2.5h0m.5 1.5h0m.5-.5h0m0 .5h0m0 1h0m0 1h0m.5-2.5h0m.5-1h0m0 1h0m0 2.5h0m.5-2h0m0 2h0m.5-4h0m0 2.5h0m.5-.5h0m0 1.5h0m.5-5h0m.5 5h0m.5-1h0m0 1h0m0-5h0m.5 .5h0m0 2h0m.5-2h0m0 4.5h0m.5-4h0m.5 4h0m.5 0h0m0 .5h0m.5-1.5h0m0 .5h0m0-4h0m.5 2.5h0m2 1.5h0m.5-2h0m0 1h0m.5-.5h0m.5 0h0m.5-3h0m.5 1.5h0m.5 1.5h0m0-2.5h0m.5 1h0m0 1h0m0 1h0m0 1.5h0m.5-2h0m0 1h0m0-3.5h0m0 .5h0m.5 2.5h0m0-.5h0m0 2.5h0m1-.5h0m.5-2h0m0 1h0m0 1.5h0m.5-5h0m0 1h0m.5 0h0m0 2h0m.5 .5h0m0-.5h0m0 2h0m.5-5h0m.5 2h0m0 2.5h0m0-5h0m1 4h0m.5-.5h0m0-2h0m0-.5h0m0 1.5h0m.5 1h0m0-1h0m1-2.5h0m0 4.5h0m0 1h0m.5-5.5h0m.5 2h0m0 1h0m0-1.5h0m.5 4h0m.5-2h0m.5-3.5h0m0 1h0m0 1.5h0m0 3h0m.5-4.5h0m0 1h0m0 1.5h0m0 .5h0m.5 1.5h0m0-3.5h0m.5 3h0m.5-3h0m0 2.5h0m.5-2.5h0m0 1h0m0-2.5h0m.5 0h0m.5 1h0m0 1h0m0 .5h0m0 1h0m1-2.5h0m.5-1.5h0m0 1h0m.5 1h0m-76.5 8.5h0m0-3.5h0m1.5 .5h0m.5-1.5h0m1 .5h0m1-.5h0m0 1.5h0m.5 2.5h0m0-2.5h0m1.5 0h0m0 1.5h0m.5-2h0m0 2h0m0 .5h0m.5-.5h0m0-.5h0m.5-2h0m0-.5h0m.5 0h0m0 2h0m.5 .5h0m0 1h0m.5-3h0m.5 1.5h0m0-.5h0m1 3.5h0m.5-1h0m0 .5h0m0-3h0m0 .5h0m0 1h0m.5-1h0m.5-1.5h0m.5 5h0m0-.5h0m0-3h0m0-.5h0m0 2.5h0m.5-4h0m0 2.5h0m.5 1.5h0m.5-3.5h0m0-.5h0m0 2h0m.5-.5h0m0 2h0m0 1h0m.5-4h0m.5 3.5h0m0-.5h0m0 1h0m0 1h0m.5-2.5h0m0 .5h0m0 1h0m.5-3.5h0m0 2.5h0m1-2.5h0m.5 1.5h0m0 2.5h0m.5-2.5h0m0-2h0m.5 5h0m0-4h0m.5 2.5h0m0-2.5h0m0 .5h0m1-.5h0m0 1.5h0m0 1h0m.5 .5h0m0 1h0m0-4h0m0 1.5h0m.5 1.5h0m0-3.5h0m.5 3.5h0m0 1h0m0-4.5h0m.5 1h0m0 .5h0m0 1.5h0m0 1h0m.5-3h0m0 2.5h0m.5 .5h0m0-1h0m.5-2h0m0 .5h0m0 1.5h0m0-.5h0m0 2h0m.5-3h0m.5 2h0m.5-3.5h0m0 1h0m0 1.5h0m1-.5h0m0 2.5h0m0-.5h0m0-5h0m.5 2.5h0m0 1.5h0m0-.5h0m0 1h0m.5 0h0m0-.5h0m.5-1h0m0 1h0m0 1.5h0m.5 0h0m0-.5h0m0-2h0m0-.5h0m.5-2h0m0 .5h0m0 2h0m0-.5h0m.5 2.5h0m1-4.5h0m.5 2h0m0 3h0m1-3h0m0-2h0m.5 5h0m.5-5.5h0m0 2.5h0m.5-1h0m.5 0h0m0 3h0m.5-4.5h0m.5 5.5h0m0-4h0m1.5 .5h0m0-.5h0m.5 3.5h0m0 .5h0m.5-5.5h0m0 1.5h0m0 1.5h0m.5 2.5h0m0-2.5h0m.5-1.5h0m0 1h0m1-2.5h0m0 3.5h0m.5 2h0m0-2.5h0m.5-1.5h0m0 2.5h0m0 .5h0m.5-4h0m0-.5h0m0 4.5h0m.5-4h0m.5 2.5h0m.5-.5h0m0 1h0m.5-.5h0m0 .5h0m0 1.5h0m0-4h0m0 1h0m1-1.5h0m0-.5h0m0 2h0m.5 2h0m0 1h0m.5-3.5h0m.5 3h0m0-3h0m0 .5h0m.5 0h0m0 1h0m.5 2h0m0-.5h0m0-2.5h0m0 2h0m.5 1h0m0-.5h0m0 1h0m1-1h0m.5-1h0m.5-2.5h0m0 3h0m.5-3.5h0m.5 4h0m0-3h0m0-.5h0m.5 1.5h0m0-1h0m.5 3h0m.5 .5h0m0-5h0m.5 1h0m0 4h0m.5-4.5h0m.5 4.5h0m0-5h0m.5 1.5h0m.5 3.5h0m0-5h0m0 3h0m.5-1h0m.5 3h0m.5-3h0m.5-.5h0m0 3.5h0m.5-4h0m.5 0h0m.5 .5h0m0 3h0m.5-1.5h0m0-1.5h0m.5 2h0m.5-3h0m0 1h0m0 1h0m0 1h0m0 1.5h0m0-4h0m.5-1h0m.5 2h0m0 3.5h0m0-4.5h0m.5 3.5h0m0-4h0m.5 3h0m0-.5h0m0 2.5h0m.5-5h0m.5 3.5h0m0-.5h0m0-3h0m.5 4h0m0-2.5h0m.5-2h0m1 1.5h0m0 1h0m0 .5h0m0 1h0m0 1h0m.5 .5h0m0-2h0m0 1.5h0m.5-3.5h0m0-.5h0m0 1h0m.5-1.5h0m0 1.5h0m.5 .5h0m.5-2.5h0m0 2.5h0m.5-2h0m.5-.5h0m0 5.5h0m1-5.5h0m0 .5h0m0 1h0m1-1.5h0m0 1.5h0m1.5-1.5h0m0 4.5h0m.5 1h0m0-4h0m.5 2h0m1 1h0m0-1.5h0m.5 0h0m.5 2.5h0m0-2.5h0m.5-1h0m1-1.5h0m-70.5 7h0m.5-1h0m3-.5h0m.5 1.5h0m0-.5h0m.5 2.5h0m1 1h0m.5-.5h0m.5-2h0m0 .5h0m.5-2.5h0m1.5 2h0m.5 3h0m0-4.5h0m.5 0h0m.5 5h0m0-2.5h0m0 1h0m.5 1h0m.5-5h0m0 3.5h0m.5-2h0m0 .5h0m0 1h0m.5-1h0m0 2h0m.5-3.5h0m0 4.5h0m.5-2h0m1 2.5h0m0-.5h0m0-3h0m0-.5h0m.5 1.5h0m0 1h0m0 .5h0m0 1h0m.5-4.5h0m0 1.5h0m0 2.5h0m.5 0h0m1-2.5h0m.5 1.5h0m0-.5h0m0 1.5h0m0 .5h0m0-5.5h0m0 1h0m0 1h0m.5 .5h0m.5-2.5h0m.5 4.5h0m0 1h0m0-4.5h0m0 1.5h0m1-2.5h0m.5 2h0m0 1h0m0-2.5h0m0 .5h0m.5 1h0m0 1h0m0 1.5h0m.5 1h0m.5-2.5h0m0 1h0m0 .5h0m0-3.5h0m.5 3.5h0m0-4.5h0m.5 .5h0m0 4.5h0m.5-1h0m0 1h0m0 .5h0m0-5.5h0m.5 4.5h0m0-3h0m0 1.5h0m.5 .5h0m0 1.5h0m0-.5h0m0 1h0m0-4.5h0m.5 2h0m0 2h0m0 .5h0m0-5.5h0m.5 3.5h0m0-2.5h0m.5 3h0m0 .5h0m.5-2.5h0m0 1.5h0m0 1h0m.5-3.5h0m0 2h0m0-.5h0m0 1.5h0m0-.5h0m0 1.5h0m0-.5h0m.5-4.5h0m0 3.5h0m0-3h0m.5 .5h0m.5 3.5h0m0-4.5h0m0 1h0m0 1.5h0m.5 1.5h0m0-4h0m.5 2h0m0 2.5h0m.5-1.5h0m0 1h0m0 .5h0m0-3h0m.5 2h0m0-3.5h0m.5 3h0m0-.5h0m1.5 2.5h0m.5-3h0m1-1.5h0m0 2h0m0 .5h0m.5 0h0m0 2h0m.5-5h0m.5 .5h0m0 1h0m0 2.5h0m.5-3h0m.5 3h0m.5 0h0m0-4h0m0 1.5h0m.5 4h0m0-5h0m.5 5h0m0-1.5h0m.5 0h0m0 1.5h0m.5-2h0m.5-3h0m0 .5h0m.5 0h0m0 1h0m0 2.5h0m0-3h0m.5 3.5h0m0-2h0m.5 1h0m0-4h0m0 2h0m.5 3h0m0 .5h0m.5-4h0m.5 3.5h0m0-5h0m0 3.5h0m.5-1h0m0 .5h0m.5 2.5h0m0-5.5h0m0 4h0m0 1h0m1-3.5h0m0 1h0m.5-2h0m0 2.5h0m.5-1h0m.5 2.5h0m.5-2.5h0m0 2h0m0-4h0m.5 3.5h0m0 2h0m0-5h0m.5 1h0m0 .5h0m0 2h0m0 1.5h0m.5-5.5h0m0 1.5h0m0-.5h0m.5 2h0m0-3h0m.5 4h0m0-3h0m.5 3.5h0m0-3h0m.5 2.5h0m0-.5h0m.5 1h0m0-1h0m1 2h0m0-1.5h0m.5-1.5h0m0-.5h0m0 2h0m.5-2h0m.5 3.5h0m.5-2.5h0m.5-1h0m.5-1h0m0 4.5h0m0-3.5h0m0 1.5h0m0-.5h0m.5-1h0m.5-1h0m0 1.5h0m0-.5h0m0-2h0m.5 1h0m1 2h0m0-2h0m0-.5h0m.5 2h0m1 3h0m0-2h0m.5-2.5h0m0-.5h0m0 1h0m0 .5h0m.5-1.5h0m0 3.5h0m1 .5h0m0-2h0m.5-1h0m.5 1h0m1 .5h0m.5-3h0m1 2.5h0m.5 1h0m.5-1h0m0 2h0m0 .5h0m.5-1.5h0m.5 1.5h0m0-5h0m1 1.5h0m1 3h0m0-4h0m.5 0h0m2 0h0m-61.5 7h0m.5-1h0m.5-.5h0m1 .5h0m1 2h0m0 1.5h0m.5 .5h0m.5-1h0m1 .5h0m0-3.5h0m.5 0h0m.5-.5h0m.5 5h0m.5-2.5h0m0-2h0m.5 2.5h0m0-.5h0m.5 1h0m0-1h0m.5-1.5h0m0 1.5h0m0-.5h0m.5 3h0m0-2.5h0m.5 2h0m0-3h0m0 2h0m0 1.5h0m.5-.5h0m0-4h0m0 .5h0m.5 1.5h0m.5 .5h0m0 1h0m0-.5h0m0 1.5h0m.5-.5h0m0 1h0m0-5h0m.5 .5h0m0-1h0m.5 5h0m0-.5h0m0-4.5h0m.5 2.5h0m0 .5h0m.5 1h0m.5-.5h0m0 1h0m0-2.5h0m.5-1h0m0 1h0m0 1h0m0 2h0m0 .5h0m.5 0h0m0-5h0m0 1h0m0-.5h0m0 2h0m.5 2h0m0-3.5h0m0-.5h0m.5 1h0m0 3.5h0m0-5h0m0-.5h0m.5 4h0m0 1.5h0m0-2.5h0m.5 1h0m0 1.5h0m.5-5.5h0m0 2.5h0m0 2.5h0m.5-4.5h0m0 2h0m0 1.5h0m.5-3.5h0m0-.5h0m0 2h0m0 1.5h0m.5 1h0m0-4.5h0m0 1h0m.5 .5h0m0 1.5h0m.5-2h0m0 1.5h0m0-2h0m.5 3h0m0-.5h0m0 2h0m.5-4h0m0 1h0m0 2h0m0-3.5h0m.5 1h0m0 3.5h0m0-5h0m.5 3h0m1 0h0m.5-2h0m.5-1h0m.5 2.5h0m1 0h0m.5-1.5h0m0 3h0m.5-.5h0m0-3.5h0m0 1h0m0 1h0m.5 0h0m.5 2.5h0m0-3h0m1-.5h0m.5 1.5h0m0 1.5h0m.5-3.5h0m.5 2h0m.5 1.5h0m0 1h0m.5 0h0m.5-1h0m.5-1.5h0m.5 2.5h0m0-2.5h0m.5-1.5h0m.5-1h0m2 4h0m.5-1h0m.5-1h0m0-2h0m.5 1h0m0-1h0m1.5 2.5h0m0-2.5h0m.5 2.5h0m.5-1h0m0 1h0m0 .5h0m.5 2.5h0m0-3.5h0m.5 2h0m0 1.5h0m0-4.5h0m.5 3.5h0m0-4.5h0m0 1h0m0 1h0m.5 0h0m.5 3h0m0-5h0m1.5 3.5h0m0-.5h0m1.5-.5h0m1.5 1h0m0-3h0m.5 0h0m.5 1.5h0m.5 3h0m0-5h0m.5 3h0m0 2h0m.5 .5h0m2-4h0m.5-1h0m1.5 1h0m.5-.5h0m-50 8h0m1-2.5h0m1 3.5h0m0-4h0m.5 2.5h0m.5 .5h0m.5 2h0m0-3.5h0m.5 .5h0m0 .5h0m.5 1.5h0m0 1.5h0m0-5h0m.5-.5h0m0 1h0m0 1h0m1 1.5h0m.5 1.5h0m.5-5h0m.5 4.5h0m0-4h0m0 2h0m0 .5h0m1.5 1h0m0-4h0m.5 2h0m0 2h0m0 1h0m.5 .5h0m0-.5h0m.5-1h0m.5-1h0m0-2.5h0m.5 3h0m0-3h0m0 .5h0m0 1.5h0m1.5 1.5h0m0 1h0m0-.5h0m0 1h0m0-5h0m0 .5h0m.5 1h0m0 1h0m0-2.5h0m.5 0h0m0 1h0m0 1h0m.5 2.5h0m0-4h0m.5-.5h0m0 4.5h0m0-5h0m.5 5.5h0m0-4h0m0 1h0m0-.5h0m0 2h0m.5 1h0m0-3.5h0m0-.5h0m0 1.5h0m0 1h0m.5-1.5h0m0 3h0m0-.5h0m.5 .5h0m.5-5h0m.5 2h0m0 1.5h0m1 .5h0m.5 0h0m.5 0h0m0-.5h0m2-3.5h0m1 1.5h0m.5 0h0m0 2h0m1-2.5h0m2 0h0m0 1.5h0m.5 0h0m.5 0h0m0-.5h0m2.5-1.5h0m.5 2h0m0-.5h0m.5-.5h0m.5-.5h0m.5 0h0m2.5 1.5h0m0 1h0m.5-1h0m1 1h0m.5-3h0m2 2.5h0m3-3h0m1.5 0h0m.5 .5h0m3 .5h0m-40 7.5h0m1-2h0m.5 1h0m.5-1h0m.5 .5h0m.5 0h0m0 1.5h0m.5-1h0m0-1.5h0m.5 4h0m0 .5h0m0-3h0m.5 .5h0m0 1h0m.5-3h0m0 1.5h0m.5 .5h0m.5 0h0m.5 2.5h0m0-3.5h0m.5 1.5h0m0 .5h0m0-2h0m0 .5h0m.5-.5h0m0 1.5h0m.5-1.5h0m1.5-.5h0m0 1h0m.5 2.5h0m.5 0h0m0 1h0m0 .5h0m0-5h0m0 4h0m.5-2h0m0 1.5h0m0 1.5h0m.5 0h0m0-4h0m0 3.5h0m.5-1h0m0-.5h0m0 1h0m0 1h0m.5-4h0m0 1h0m0-.5h0m0 2.5h0m0-.5h0m0 1h0m0-4h0m.5 3.5h0m.5-1h0m0 .5h0m.5-1h0m.5 0h0m0 2.5h0m.5-1.5h0m0 1h0m0 .5h0m.5-3h0m.5 2.5h0m1-4.5h0m-4.5 6h0m.5 .5h0m.5-.5h0m.5-.5h0m1 1.5h0m.5-1.5h0" stroke="#e8919a" stroke-width="2.1" stroke-linecap="round" fill="none"/>
<path d="M208 1642.5h0m2 0h0m.5 1h0m1-1h0m0 .5h0m.5-1h0m2 .5h0m1 1h0m.5 0h0m.5 0h0m0-2h0m.5 0h0m1.5 1h0m2-1.5h0m.5 2h0m.5 0h0m.5-1h0m-26.5 5.5h0m2 0h0m0 2h0m0-.5h0m.5-1.5h0m1-2h0m0 2h0m1-1.5h0m.5 0h0m.5-1h0m.5 2.5h0m0-.5h0m0-2.5h0m0 4.5h0m0-1h0m.5-3.5h0m0 2h0m.5-1.5h0m0 3.5h0m.5 .5h0m0-2.5h0m.5-.5h0m.5 1h0m0-2.5h0m0 4.5h0m.5-3h0m0-1h0m.5-.5h0m0 2h0m0 2h0m0-3h0m.5 0h0m.5 1h0m.5 1h0m0 2h0m0-5.5h0m.5 .5h0m0 4.5h0m0-2.5h0m0-2.5h0m.5 1.5h0m0-.5h0m.5 2h0m0-3h0m.5 4h0m0-2.5h0m0-.5h0m.5 3h0m.5-2.5h0m0 2.5h0m.5-3.5h0m0 2h0m.5-2h0m0 4.5h0m0-2.5h0m.5 1.5h0m0-4h0m.5 2.5h0m1-.5h0m.5-1.5h0m0 4.5h0m0-3h0m0 2h0m.5-3.5h0m1 4.5h0m0-3h0m0 3.5h0m1-5.5h0m0 1h0m.5 .5h0m1 3h0m0-3.5h0m0 2h0m.5-.5h0m.5 1h0m.5-3h0m0 4.5h0m0-1h0m.5-3.5h0m0 1h0m.5 2h0m.5-2h0m0 2h0m.5 1.5h0m.5-.5h0m0-.5h0m0-1h0m0-.5h0m.5-1.5h0m0 4h0m0-1h0m.5-2h0m0 3.5h0m.5-3h0m0 .5h0m0 2h0m.5 0h0m0-2.5h0m0-2.5h0m0 3.5h0m.5 1h0m.5-2.5h0m.5 2h0m.5 .5h0m0-2.5h0m.5 3h0m0-5h0m0 1.5h0m.5 3.5h0m.5-1h0m0-3h0m0 4.5h0m0-2.5h0m0-2.5h0m0 4h0m.5-1.5h0m0 1.5h0m1 0h0m.5 .5h0m1-.5h0m0-3h0m3.5 2h0m-43 5h0m1 1h0m.5 1h0m0-1.5h0m.5-.5h0m1-1h0m0 1h0m.5-1.5h0m0-.5h0m0 2h0m0 1h0m.5-2.5h0m0 2h0m0-2.5h0m.5 4h0m0-2.5h0m0 2h0m.5-3.5h0m0 3.5h0m0-2.5h0m.5 2h0m0 1.5h0m.5-1h0m0-1.5h0m.5-1.5h0m0 2.5h0m.5-1h0m.5 2.5h0m0-5h0m0 3.5h0m.5 .5h0m0-2.5h0m.5 .5h0m0-.5h0m0-.5h0m0-.5h0m0 4.5h0m0-2.5h0m.5-1h0m.5 2h0m0-1.5h0m.5 0h0m0 2h0m0-3h0m0-1h0m.5 2.5h0m.5 2h0m0-1h0m0-1h0m.5 1h0m.5 2h0m0-5h0m.5 1h0m0 1h0m.5 2h0m.5-3.5h0m0 1.5h0m0-.5h0m.5 0h0m0 3h0m0-2.5h0m.5 .5h0m0-1.5h0m0 2h0m.5-.5h0m0 2h0m.5-3.5h0m0-1.5h0m0 4.5h0m.5-1.5h0m0 .5h0m0-2.5h0m.5 .5h0m0 2h0m.5-1.5h0m.5-1.5h0m0 4h0m.5 1h0m0-2.5h0m0 2h0m0-.5h0m.5-2h0m.5 3h0m.5-1.5h0m0-1.5h0m.5 0h0m0 2h0m0-1h0m.5 .5h0m0-4h0m0 4.5h0m.5-3.5h0m.5 4.5h0m1-3.5h0m0-.5h0m.5-1h0m0 1h0m.5-1.5h0m1 1h0m.5 1.5h0m.5-2.5h0m0 1.5h0m.5 1h0m0-2.5h0m1 0h0m0 1.5h0m.5 3h0m0-3.5h0m.5 1.5h0m0-1.5h0m.5 0h0m0 .5h0m0 2.5h0m.5-2.5h0m.5-.5h0m.5 0h0m.5 3h0m0-3h0m.5-.5h0m0-.5h0m0 4.5h0m.5-1.5h0m0-2.5h0m.5 2h0m.5 .5h0m0-3h0m.5 1h0m0-1h0m.5 2h0m0 2h0m.5-2.5h0m0 2h0m0-2.5h0m0 1h0m.5 1h0m0-.5h0m.5 3h0m.5-3.5h0m0-1h0m0-.5h0m.5 1h0m0-.5h0m.5 1h0m1 3.5h0m0-3h0m.5 .5h0m.5-1h0m.5 3.5h0m0-4h0m0 2h0m.5-3h0m0-.5h0m.5 4h0m0 1.5h0m0-3h0m.5-2h0m0 4.5h0m0-2.5h0m0-1h0m.5 0h0m.5 3.5h0m0-4h0m.5 3.5h0m0-2.5h0m0 2h0m.5 0h0m.5 1h0m0-3h0m1 1.5h0m.5 1h0m-43 1.5h0m.5 0h0m0 1.5h0m1-1.5h0m1 0h0m.5 0h0m.5 1h0m7.5-1h0m2 1h0m.5-1h0m.5 0h0m.5 0h0m1 0h0m.5 1.5h0m1.5 .5h0m1-2h0m.5 .5h0m0 2h0m.5-2.5h0m.5 2h0m0 .5h0m.5-2h0m.5 1.5h0m.5 0h0m0 1h0m1-1.5h0m1.5-.5h0m1.5 .5h0m5.5-1.5h0m.5 .5h0m2 .5h0m.5-1h0m.5 1.5h0m0-1h0m0 2h0m0-.5h0m.5-2h0m.5 .5h0m0 .5h0m.5 .5h0m0-1.5h0m.5 1.5h0m.5-.5h0m0 2h0m1-.5h0m0-2.5h0m0 4.5h0m0-3h0m.5 2.5h0m0-.5h0m.5 0h0m.5-.5h0m0 1.5h0m0-2.5h0m.5 1.5h0m0-3h0m0 3.5h0m.5-.5h0m0-.5h0m.5 2h0m0-2.5h0m0-.5h0m0 2h0m1-2h0m.5 .5h0m1 2.5h0m0-.5h0m.5 1h0m-7.5 .5h0m2 2h0m.5-1.5h0m0 1.5h0m0-1h0m.5 2h0m0-3h0m1 2h0m0-.5h0m.5-.5h0m0-.5h0m1 1h0m.5-1.5h0m0 2h0m.5-2h0m0 4h0m.5-4h0m.5 1.5h0m0 1h0m.5-2h0m0 1.5h0m-24.5 15h0m1 0h0m.5-1h0m.5 .5h0m.5 .5h0m.5-.5h0m-14 7h0m.5-2h0m1 1.5h0m.5 0h0m.5-1.5h0m.5 1.5h0m1-.5h0m.5-.5h0m.5 0h0m0 1.5h0m.5-3.5h0m.5 3h0m0-2.5h0m.5 1.5h0m0 1.5h0m.5-2h0m0 1.5h0m.5-.5h0m0-1h0m0-.5h0m1 .5h0m0 1h0m.5 .5h0m0-2.5h0m0 2h0m0-2.5h0m0 3.5h0m.5-4.5h0m0 2h0m0-2.5h0m0 4.5h0m.5-3.5h0m.5 2.5h0m0-.5h0m1-1h0m.5-.5h0m0-1h0m-21 8.5h0m1 1h0m0-1h0m.5 1h0m0-.5h0m.5-1h0m0 2h0m.5 .5h0m.5-4h0m1 1h0m0 1.5h0m0-.5h0m.5-3h0m0 4.5h0m.5-.5h0m0-2.5h0m.5 0h0m1-.5h0m0-.5h0m.5 2h0m0 1h0m.5-2.5h0m.5-1h0m.5 3.5h0m1-1h0m0-3h0m.5 1h0m1-.5h0m0-.5h0m.5 3h0m.5-1.5h0m0-.5h0m.5 0h0m1.5-.5h0m0-.5h0m.5 1.5h0m0-1h0m1.5 0h0m0-.5h0m.5 0h0m1 1.5h0m-8 4.5h0" stroke="#e9b566" stroke-width="2.1" stroke-linecap="round" fill="none"/>
<path d="M271.5 1640.5h0m.5 0h0m.5-1.5h0m0 1h0m2.5 2h0m0-1h0m1 2h0m1-2h0m0 1h0m.5 .5h0m3 1h0m-.5 1h0m.5 0h0m.5 1.5h0m0-2h0m.5 .5h0m.5 2h0m.5-1h0m.5 .5h0m1 1h0m0-1.5h0m.5 2h0m0-1h0m.5 0h0m0 1h0m.5-.5h0m.5 0h0m0 1h0m0-.5h0m.5 .5h0m.5 1h0m0-2.5h0m.5 1h0m0 1h0m.5 1h0m0-2.5h0m.5 .5h0m0 2h0m1-1.5h0m0 1h0m.5-.5h0m0 1h0m.5 0h0m0-.5h0m1 .5h0m1-.5h0m0 .5h0m-3 .5h0m1 .5h0m.5 .5h0m1-.5h0m1.5 2h0m.5-1.5h0m0 .5h0m0-1.5h0m1 2.5h0m.5 .5h0m0-1.5h0m.5 0h0m0 2h0m.5-1.5h0m0-1.5h0m1 2.5h0m0-1.5h0m.5 0h0m0 1h0m.5 0h0m0 1h0m0-1.5h0m.5 0h0m0 1h0m0 1h0m.5-2h0m0 1h0m.5 .5h0m1 0h0m.5 1h0m13.5 10h0m1 .5h0m0-1.5h0m.5 1h0m0 .5h0m.5 .5h0m.5 0h0m.5-.5h0m0-1.5h0m0 2h0m.5 .5h0m.5-2h0m0 .5h0m.5-.5h0m0-.5h0m.5 .5h0m.5 .5h0m.5 0h0m.5 0h0m.5 0h0m.5 0h0m.5 0h0m0 1h0m.5-1.5h0m0 2h0m.5-1.5h0m0-1.5h0m.5 1h0m2.5 .5h0m.5 2h0m0-1.5h0m0 1h0m0-1.5h0m1 .5h0m0-.5h0m0 1h0m1-1.5h0m1 3h0m0-4h0m0 1h0m.5 0h0m.5 2h0m0-.5h0m.5 0h0m0 .5h0m.5-1h0m0 1h0m.5-1.5h0m1 .5h0m.5 .5h0m0-.5h0m.5-1h0m0 1h0m.5 .5h0m.5 .5h0m0-1.5h0m0 1h0m1-1.5h0m.5 1h0m.5 0h0m.5-1h0m0 2h0m.5-.5h0" stroke="#5a2d9a" stroke-width="2.1" stroke-linecap="round" fill="none"/>
<path d="M316 1620h0m.5 0h0m0 .5h0m.5 0h0m0 3h0m0-1.5h0m.5 1.5h0m0-3.5h0m.5 1.5h0m0 3.5h0m0-2.5h0m0-2.5h0m0 1h0m.5 4.5h0m0-1.5h0m.5-.5h0m-2.5 7.5h0m.5-1h0m.5 1.5h0m0-1.5h0m.5-.5h0m0 1h0m0-3h0m.5 1.5h0m0-1.5h0m0 2h0m.5-1h0m0-2.5h0m.5 4h0m0-1.5h0m.5 .5h0m-8 8.5h0m.5-1h0m.5 .5h0m0 .5h0m.5 0h0m0-.5h0m.5 0h0m.5-1h0m0 1h0m0-2.5h0m0 1h0m0 1h0m1-2.5h0m0 .5h0m.5 0h0m0 2h0m0 1h0m0-2.5h0m0 1h0m.5 1h0m0-2.5h0m0 1h0m0-1.5h0m.5 2h0m0-3.5h0m0 1h0m.5 .5h0m0 1h0m0-1.5h0m0-1.5h0m.5 4.5h0m0-3.5h0m0 1h0m0 2h0m0-3.5h0m0 1h0m.5 1.5h0m-12 8h0m1.5-.5h0m0 1h0m.5-3.5h0m0 1h0m.5 1h0m0 1.5h0m.5-3h0m.5 3h0m0-2.5h0m.5 1h0m0-2.5h0m0 1h0m0 2h0m.5-3h0m0 1h0m0 1.5h0m.5-3.5h0m0 .5h0m0 4.5h0m1-3h0m0 3h0m.5-.5h0m0-2.5h0m0-2.5h0m0 4h0m0-3.5h0m.5 2.5h0m0-1.5h0m0 1h0m0-1.5h0m.5-1h0m0 4.5h0m0-2h0m.5 2.5h0m0-2.5h0m0 1.5h0m.5-.5h0m0-2.5h0m0 2h0m0-2.5h0m.5 2.5h0m0-2.5h0m0 1h0m0-1.5h0m.5 .5h0m.5-.5h0m.5 0h0m-13 8h0m1 2h0m0-.5h0m0 1h0m.5-1.5h0m0 2h0m0-5h0m0 4.5h0m1-.5h0m0-3.5h0m0 5h0m.5 0h0m.5-5h0m0 1h0m0 3.5h0m.5-1.5h0m0 1h0m0 1h0m0-.5h0m0-3.5h0m.5 0h0m0 3h0m.5-3h0m0-1.5h0m0 3h0m.5-1.5h0m0 3h0m0-1.5h0m.5-1h0m.5 3h0m0-.5h0m0-2.5h0m.5 .5h0m.5 0h0m0 1h0m0-2.5h0m0 2h0m0 1h0m.5 1h0m0-2.5h0m1 .5h0m0-1.5h0m-9 4.5h0m.5 5h0m0-3.5h0m0-1.5h0m.5 4.5h0m0-3.5h0m0 4.5h0m0-1.5h0m.5-1.5h0m0-.5h0m.5 2.5h0m0-3.5h0m0 4.5h0m0-5h0m0 1h0m.5 3.5h0m0-5h0m0 2h0m.5 .5h0m.5 1h0m0 1.5h0m.5-5h0m0 1h0m0 1h0m0 2h0m0 1h0m0-1.5h0m.5-3h0m0 2h0m.5 1h0m0-1.5h0m0 2h0m.5-1.5h0m0-1.5h0m0 .5h0m.5 .5h0m0 1h0m0 1h0m0-2.5h0m0 3h0m0 1h0m.5-3h0m0-2.5h0m0 2h0m0 2h0m.5-2h0m0 3h0m0-2.5h0m.5 1h0m0-1.5h0m0 1h0m0-2.5h0m.5 3.5h0m0 .5h0m.5-1.5h0m1 0h0m-9 3h0m.5 2.5h0m.5-2.5h0m0 2h0m1 0h0m0 1h0m0 1h0m0-2.5h0m.5 3h0m0-3.5h0m0 1.5h0m.5 3h0m.5-1.5h0m0-2.5h0m0 4h0m.5-3h0m0 .5h0m.5-1h0m0 1h0m0 1h0m0-1.5h0m.5 2h0m0-3.5h0m0 4.5h0m0-1.5h0m0-2.5h0m0 2h0m.5-3h0m0 4.5h0m0-3.5h0m0 1h0m0-1.5h0m0 1h0m.5 1.5h0m0 2h0m0-.5h0m.5 0h0m0-1.5h0m1.5-2h0m-4 4.5h0" stroke="#f08030" stroke-width="2.1" stroke-linecap="round" fill="none"/>
<path d="M302 1667.5h0m32.5 0h0m13 0h0m1-2h0m2.5 2h0m-51 4h0m.5-2.5h0m0 2h0m0-.5h0m.5 1h0m0 2h0m.5-4.5h0m.5 3.5h0m0 1h0m.5-4h0m0 .5h0m0 1.5h0m0 2h0m.5-2.5h0m0 .5h0m0 2h0m.5 0h0m.5-1h0m0-3h0m.5-1h0m0 1h0m.5 .5h0m0 .5h0m0 2.5h0m1-.5h0m0-3.5h0m.5 0h0m0 2h0m0 1h0m0 1h0m.5 .5h0m.5 0h0m0-.5h0m.5-1h0m.5-2.5h0m0 2h0m0 .5h0m.5-3h0m0 1.5h0m0 1.5h0m0 1.5h0m.5-4h0m0 2h0m0-.5h0m0 1.5h0m.5 .5h0m0 .5h0m.5-3h0m.5 1h0m0 1h0m.5-2.5h0m.5 1.5h0m.5-.5h0m1 .5h0m.5 2h0m0-3h0m0 1h0m.5 .5h0m0 .5h0m1-2.5h0m.5 .5h0m0 .5h0m0 2h0m.5-4h0m0 .5h0m0 2h0m.5-.5h0m0 1h0m.5-1.5h0m0 .5h0m0 .5h0m0 1h0m.5 0h0m.5-1h0m2 1.5h0m1.5-.5h0m0-1h0m0-.5h0m.5 1.5h0m.5 0h0m0-.5h0m0 1h0m.5 .5h0m0-2.5h0m1 2.5h0m0-4h0m0 .5h0m.5 1.5h0m.5-1.5h0m.5 3.5h0m.5-2h0m0 .5h0m0 1h0m0 .5h0m1.5-1.5h0m0 1h0m0 .5h0m0-4h0m0 .5h0m.5 3.5h0m0-3.5h0m.5 1h0m0-.5h0m.5 2.5h0m0-3h0m.5 1h0m0 1h0m.5-.5h0m.5 0h0m.5-.5h0m0 1h0m.5-1h0m.5-1.5h0m0 3h0m.5-1h0m.5-2.5h0m.5 1h0m0 1.5h0m0 .5h0m0 1h0m0 .5h0m.5-.5h0m0-3h0m0 2h0m.5-3h0m.5 2.5h0m0 .5h0m0-3.5h0m.5 4.5h0m0-5h0m0 1.5h0m0-.5h0m0 2.5h0m.5-.5h0m0-3h0m.5 1h0m0 .5h0m.5 2.5h0m0-2h0m1 .5h0m0 .5h0m.5 2h0m.5 .5h0m0-3h0m0 1h0m.5-3h0m0 1.5h0m.5 1h0m0 1.5h0m.5-2.5h0m0 1.5h0m0 1h0m.5-3.5h0m1 4.5h0m0-5h0m0 3h0m0-.5h0m0 1.5h0m0-.5h0m.5-.5h0m0 .5h0m.5-.5h0m.5-1.5h0m0 1.5h0m.5 .5h0m0 1.5h0m1-4.5h0m0-.5h0m.5 5h0m.5-.5h0m0-.5h0m0 1h0m0-5h0m.5 2.5h0m0-.5h0m.5-1h0m0 1h0m.5 3h0m0-2h0m.5 1.5h0m.5-4h0m0 3h0m0 1h0m0-.5h0m.5 .5h0m0-3.5h0m0 2.5h0m0 1.5h0m.5-3.5h0m.5 3h0m.5-4.5h0m0 2.5h0m0-3h0m1 2h0m0 3.5h0m.5-1h0m.5 .5h0m.5-2h0m0-.5h0m0 1h0m0-2.5h0m.5 2.5h0m0 2h0m.5-5h0m0 2h0m.5 0h0m.5 0h0m.5 3h0m0-4h0m0 3h0m.5 1h0m0-1h0m0-.5h0m.5 1.5h0m.5 0h0m.5-4h0m.5 1h0m0-.5h0m0 2h0m1.5 1h0m-61.5 2.5h0m.5 2.5h0m0 1.5h0m.5-1h0m0-3.5h0m0 1h0m.5-.5h0m0 2.5h0m.5-2h0m0 2.5h0m.5-4h0m0 1.5h0m0 3h0m0-.5h0m.5 0h0m.5-3h0m0 .5h0m0-1.5h0m.5 5h0m0-4h0m0-.5h0m0 1.5h0m0-.5h0m0 1h0m0 1h0m0 1h0m0-5h0m0 4.5h0m.5-.5h0m0 .5h0m0 1h0m0-5.5h0m0 1.5h0m0-.5h0m.5 2.5h0m0-.5h0m0 1h0m0 1h0m0-4.5h0m.5 3.5h0m0-3.5h0m0 1.5h0m.5 0h0m0 1.5h0m0 2h0m0-4h0m0-.5h0m0 1.5h0m.5 2h0m0-4.5h0m0 1.5h0m0-.5h0m0 1h0m0 2h0m0-.5h0m.5 .5h0m0 1h0m0-4.5h0m0 2h0m0-.5h0m.5 1h0m0 2.5h0m0-5h0m.5 0h0m0-.5h0m0 1.5h0m0-.5h0m0 1.5h0m0-.5h0m0 1.5h0m.5 0h0m0-1.5h0m0 1h0m0 1h0m.5 1.5h0m0-4h0m0 1h0m.5-2.5h0m0 .5h0m0 1h0m0 2h0m0 .5h0m.5 1h0m0-.5h0m0-3.5h0m0 1.5h0m0 1h0m0-.5h0m.5-2h0m0 1h0m0 1.5h0m0 1h0m0-4h0m.5-.5h0m0 .5h0m0 1h0m0 1h0m0-.5h0m0 1.5h0m0-.5h0m.5-1h0m.5 0h0m0 1.5h0m0 2h0m.5-2h0m.5 1.5h0m.5-3.5h0m0 .5h0m.5 2h0m0-4h0m0 1h0m0 1.5h0m.5 1h0m.5 1h0m0-4.5h0m0 2h0m0 2h0m.5-.5h0m0-.5h0m0 1h0m0-4h0m.5 1.5h0m.5 3h0m0-3h0m0 2.5h0m.5-.5h0m.5-2h0m.5-1.5h0m.5 1.5h0m0 1h0m.5 3h0m0-.5h0m.5 .5h0m0-5h0m.5 4.5h0m0-.5h0m0-3.5h0m.5 3h0m0-3h0m.5 2h0m0-3h0m.5 2.5h0m0-1.5h0m.5 3h0m0 .5h0m0-3h0m.5 1.5h0m0 2h0m0-5h0m0 1.5h0m.5 1h0m0-.5h0m0 2.5h0m0 .5h0m0 .5h0m.5-2.5h0m0-.5h0m.5-1.5h0m0-.5h0m.5 4h0m.5-4.5h0m0 4.5h0m0-3.5h0m.5-.5h0m0 1.5h0m0 1.5h0m.5 1.5h0m0-4.5h0m0 2h0m0 2h0m.5-1.5h0m.5-2.5h0m0 1.5h0m0 1.5h0m0-3.5h0m0 5.5h0m.5-.5h0m.5-.5h0m.5-2h0m.5 2h0m0 .5h0m0-5h0m.5 1.5h0m0 1h0m.5 0h0m0 .5h0m.5-2h0m0-.5h0m0 1h0m0 1h0m.5-.5h0m0-2h0m0 1h0m0-.5h0m.5 4.5h0m0-5h0m0 2h0m.5-.5h0m0 1h0m.5-2h0m.5 .5h0m0-.5h0m0 4h0m.5-4h0m0 2h0m0-.5h0m.5-.5h0m.5 .5h0m1-1.5h0m0 3.5h0m0-3h0m.5 0h0m0 2h0m0-.5h0m.5 .5h0m0 1.5h0m0-.5h0m0-4h0m0 1h0m.5 .5h0m.5-1.5h0m0 4.5h0m0-2h0m.5 1h0m0 1.5h0m.5-2h0m0 1.5h0m0-.5h0m0-3.5h0m.5 3.5h0m0 1h0m.5-.5h0m0-4.5h0m0 1h0m.5 4.5h0m0-4.5h0m0 1h0m0 1.5h0m.5 2h0m.5-5h0m0 1h0m0 1.5h0m0 1.5h0m.5-3.5h0m0 .5h0m.5 0h0m.5 .5h0m.5-1.5h0m0 1.5h0m0 2.5h0m.5-2h0m0 1.5h0m.5-3.5h0m0 3h0m.5 0h0m0 1h0m.5-3h0m0 2.5h0m0 1.5h0m.5-5.5h0m.5 2h0m.5-.5h0m0 1h0m0 1h0m.5 .5h0m1-3h0m0 .5h0m0 .5h0m0 1.5h0m0 .5h0m.5-2.5h0m0 1.5h0m.5 1h0m0-3h0m0-.5h0m1 4.5h0m0-4h0m0 1h0m0 1.5h0m.5-1.5h0m.5-2h0m0 1h0m.5-.5h0m0 3h0m.5 2h0m0-3.5h0m0 2h0m0-4h0m.5 3.5h0m0 .5h0m0 1.5h0m0-.5h0m.5-.5h0m0-.5h0m0 1.5h0m0-4.5h0m.5 1h0m0 1h0m0 1.5h0m0-.5h0m0 1.5h0m.5-3.5h0m.5 2.5h0m0-3.5h0m0 .5h0m.5 .5h0m0 2h0m0 1.5h0m0-.5h0m0-5h0m.5 4.5h0m0-.5h0m0-4h0m0 1h0m0-.5h0m.5 2h0m0 1h0m0 1h0m0-4.5h0m.5 1h0m0 2.5h0m0-.5h0m0 1.5h0m.5 0h0m0 .5h0m0-5h0m1 4h0m0-2h0m0 1.5h0m0-.5h0m0 1.5h0m.5-1.5h0m0-2.5h0m.5 4.5h0m0-3h0m0-.5h0m1 0h0m0 2h0m0-2.5h0m.5 2.5h0m0 1.5h0m0-5h0m1 .5h0m0 1.5h0m0 3.5h0m0-.5h0m.5-3.5h0m0 2h0m.5 1h0m0-.5h0m.5 1.5h0m.5-.5h0m-61 2.5h0m.5-.5h0m1.5-1h0m0 1h0m.5 0h0m.5-1h0m0 1.5h0m.5-1.5h0m0 1h0m.5 .5h0m1-1h0m0 1h0m.5 1h0m1-1.5h0m0 .5h0m.5-1h0m0 1h0m.5-.5h0m.5 .5h0m1-1.5h0m1 3h0m0-3h0m1.5 2.5h0m2-2.5h0m1 1h0m2-.5h0m2-.5h0m0 1h0m.5-1h0m0 1h0m1 3h0m.5-2.5h0m0-.5h0m0-.5h0m.5-.5h0m.5 1.5h0m2-1h0m1 0h0m.5-.5h0m.5 0h0m4 0h0m.5 2h0m1-2h0m4 .5h0m12.5 3.5h0m0-2h0m.5-2h0m.5 5h0m0-2h0m1-3h0m.5 3h0m0 1h0m.5-3.5h0m0 2.5h0m0 2h0m.5 0h0m.5-2h0m0-3h0m0 5.5h0m0-5h0m0 1.5h0m0-.5h0m.5 3.5h0m0-4h0m.5 0h0m0 1h0m0 1.5h0m.5-1h0m0 2h0m0 1h0m0-.5h0m0-5h0m.5 1h0m.5 3.5h0m0-4.5h0m0 .5h0m.5 2h0m0 1.5h0m0 1h0m.5-5h0m0 .5h0m0 3h0m0 1h0m.5 0h0m0 .5h0m0-4h0m0-.5h0m0 1.5h0m0 1h0m.5 2.5h0m0-5.5h0m0 1h0m0 .5h0m.5-1h0m0 .5h0m0 .5h0m.5 3h0m0-4h0m.5 1h0m0 1.5h0m.5-3h0m.5 1h0m.5 .5h0m0 2h0m.5-2h0m0 3h0m0-.5h0m0 1.5h0m0-5h0m.5 4.5h0m0-4.5h0m0 1.5h0m.5 3h0m0-5h0m0 1h0m0-.5h0m.5 3h0m0-2.5h0m0 2h0m.5-1.5h0m0 1.5h0m0 1h0m0 1.5h0m0-.5h0m.5-3.5h0m0 1h0m0 1h0m0-3.5h0m0 1h0m.5 3.5h0m1 1h0m1-.5h0m-17 3h0m.5 3.5h0m0-5h0m0 2.5h0m.5 2.5h0m1-.5h0m.5-4h0m0-.5h0m.5-.5h0m0 3.5h0m0 1h0m0 1h0m.5-5h0m0 1h0m.5-1h0m0 1.5h0m.5-1.5h0m0 2h0m0 3h0m0-.5h0m.5-5h0m0 2h0m.5-.5h0m0 1.5h0m0-.5h0m0-2.5h0m.5 5.5h0m.5-2.5h0m0 2h0m0-4.5h0m0 2h0m.5-.5h0m0-.5h0m0 1h0m0 1.5h0m0-.5h0m0-3h0m.5 4.5h0m0-4.5h0m0 1h0m0 1h0m.5 1h0m0 1h0m0-.5h0m0-3h0m0 2h0m.5 .5h0m0 .5h0m0-3.5h0m0 2.5h0m.5-1.5h0m0 1.5h0m0 .5h0m.5 1h0m.5-2.5h0m0-.5h0m.5 4h0m0-5.5h0m0 1h0m0 1h0m0 1.5h0m.5-1.5h0m0 1h0m0 .5h0m0 1h0m0-.5h0m0-3.5h0m0-.5h0m.5 5h0m0-5h0m0 1h0m0 .5h0m0 4h0m.5 0h0m0-3.5h0m0 1h0m0-.5h0m0 1.5h0m.5-2h0m0 1h0m0-.5h0m0 2h0m0 .5h0m0-5h0m.5 1.5h0m0 3h0m0-4.5h0m.5 5h0m.5-3.5h0m0 1.5h0m0 1h0m0-.5h0m0 2h0m.5 0h0m0-.5h0m.5 .5h0m0-3.5h0m.5 1h0m0 1.5h0m0-3h0m.5 .5h0m0-.5h0m0 1.5h0m0-.5h0m.5 1.5h0m0-.5h0m0 1.5h0m0-4h0m0 1h0m0 1h0m.5 2h0m0-1h0m0 1.5h0m.5-1h0m.5 0h0m0 1h0m0-3.5h0m.5 3.5h0m1-.5h0m0 .5h0m1 0h0m0-.5h0m-22.5 5.5h0m1.5-1h0m.5-2.5h0m0 .5h0m2.5 4h0m.5-3.5h0m0 1h0m.5 0h0m.5-.5h0m0 2h0m0-.5h0m0 1.5h0m.5-5h0m0 2h0m0 1h0m0 .5h0m.5-3.5h0m0 1h0m.5 1h0m0 2h0m0-3.5h0m.5 .5h0m0 1h0m.5 2h0m0 1h0m0-.5h0m0-5h0m0 2h0m.5 1.5h0m0 2h0m0-5h0m1 3h0m0 2h0m0-5h0m0 .5h0m0 .5h0m.5-1h0m0-.5h0m0 1h0m.5 3h0m0-3.5h0m0 .5h0m.5-.5h0m0 1h0m0-.5h0m.5 4.5h0m0-4.5h0m.5-1h0m0 3h0m.5-3h0m0 2h0m0-.5h0m0 1h0m0 1.5h0m1 1h0m0-1.5h0m.5-2.5h0m0 3h0m.5-1h0m0 1h0m0-3.5h0m.5 3h0m0 1h0m.5 0h0m0-4h0m0 4.5h0m.5-5h0m0 4h0m0 1.5h0m1-4.5h0m0 2h0m0 1h0m0-3.5h0m.5 5h0m0-.5h0m0-5h0m0 1h0m0 1h0m.5 2h0m0-3h0m0 1h0m0-.5h0m.5 3.5h0m0-4h0m0 1.5h0m.5-2h0m.5 2.5h0m0 1.5h0m.5 1h0m0-2.5h0m.5 2.5h0m0-3h0m0 1.5h0m.5 .5h0m.5 1h0m0-.5h0m.5-2h0m0 1h0m0-3h0m1 4.5h0m0-4h0m.5 4h0m.5-4.5h0m0 2h0m0 .5h0m0 1.5h0m.5-2.5h0m0 1.5h0m.5 .5h0m.5 1h0m.5-3h0m.5 3h0m4 0h0m-29.5 2.5h0m.5-1h0m.5-.5h0m0 1h0m1 1.5h0m0-2.5h0m0 1h0m.5-1.5h0m0 1.5h0m0 1h0m.5 1h0m0 1h0m0-4h0m0 2.5h0m.5-1.5h0m0 1h0m.5 2.5h0m0-3h0m0 .5h0m.5 .5h0m.5-2h0m0 .5h0m0 2h0m.5 2h0m0-5.5h0m0 2h0m0 1h0m.5 0h0m0 .5h0m0-3h0m.5-.5h0m0 4h0m0 .5h0m.5-1.5h0m.5 0h0m0 1.5h0m.5-1h0m0 1h0m0 .5h0m0-4h0m0 1h0m.5 .5h0m0-2h0m0 1.5h0m.5 1.5h0m0 1h0m1-2h0m0-.5h0m.5 3h0m.5 0h0m0-5h0m.5 0h0m0 3h0m0 .5h0m0 1h0m.5 1h0m0-1.5h0m.5-.5h0m0-2h0m.5-.5h0m.5-1h0m0 2h0m0 1h0m0 1.5h0m0 1h0m0-5h0m.5 1.5h0m.5-.5h0m0 1h0m0 1.5h0m0-.5h0m.5-2h0m0 2h0m.5-.5h0m0 2h0m0-4h0m.5 0h0m0 2h0m0 2.5h0m.5-3h0m.5-2.5h0m0 1.5h0m.5 3.5h0m.5-5h0m.5 4.5h0m.5 .5h0m0-4h0m0 .5h0m.5 3h0m0-4h0m0 2.5h0m.5-2.5h0m.5 4h0m0-4h0m0-.5h0m0 4h0m0-.5h0m.5-2h0m0 1.5h0m0-.5h0m0 1.5h0m0-.5h0m0 1h0m0 .5h0m.5-3h0m.5 .5h0m.5 .5h0m0 1h0m0 1.5h0m0-5.5h0m.5 2.5h0m0 3h0m0-5h0m.5 3.5h0m0 .5h0m.5 .5h0m.5-.5h0m.5-2h0m0 1h0m0 2h0m.5-2.5h0m0 2h0m0 .5h0m0-5.5h0m0 1h0m.5 3.5h0m0-3.5h0m0 .5h0m.5 2.5h0m0 .5h0m0-4h0m.5 5h0m.5-3h0m0 1.5h0m.5-1.5h0m.5 2h0m0-3h0m2 4h0m3.5 0h0m-34 .5h0m.5 2.5h0m1 2h0m0-4.5h0m0 1h0m.5 2.5h0m0 1.5h0m0-4.5h0m0 .5h0m.5-1h0m0 2.5h0m.5 2.5h0m0-3.5h0m.5 2h0m.5 2h0m0-4.5h0m.5-1h0m0 1.5h0m0 2h0m.5 1.5h0m.5-4.5h0m.5 1h0m0 1h0m.5-2.5h0m0 3h0m0-.5h0m1-1h0m0 1.5h0m0 .5h0m0 2h0m.5-1h0m.5 .5h0m0-3.5h0m.5-.5h0m0 2h0m0 2h0m.5-1h0m1-1h0m1-1h0m1 3h0m0 .5h0m.5-.5h0m0-2.5h0m0 1h0m.5-1h0m0 1h0m.5-2h0m1-1.5h0m0 1h0m.5 2h0m0 1h0m0 1h0m0-5h0m.5 .5h0m0 4h0m.5-2h0m0 2.5h0m0-4h0m.5 1h0m0 2.5h0m0-3h0m.5 1.5h0m.5 .5h0m0 1h0m.5-2h0m0 3h0m.5-5.5h0m0 2.5h0m.5 2.5h0m0-4.5h0m0 .5h0m0 1h0m.5 0h0m0 2h0m.5-2.5h0m.5-.5h0m0 2h0m0 2.5h0m0-5h0m.5 0h0m0 1h0m0 2.5h0m.5 0h0m0 1h0m0-5h0m0 4.5h0m0-4h0m0 .5h0m0 1h0m0 1.5h0m.5-1.5h0m0 .5h0m0 2h0m0 1h0m.5-5.5h0m0 2h0m.5 2.5h0m.5-3.5h0m.5 4.5h0m0-4h0m0-1.5h0m.5 3.5h0m0-3.5h0m.5 4h0m0-.5h0m0 2h0m1-1h0m0-3.5h0m0 1.5h0m.5 1h0m.5 0h0m.5-.5h0m0-2h0m.5 2.5h0m0 1h0m0-4.5h0m0 4h0m.5 1.5h0m0-3.5h0m.5-.5h0m0 1h0m.5-.5h0m0 .5h0m0 1h0m.5 .5h0m1-1.5h0m0 .5h0m0 1h0m.5 1h0m.5 .5h0m0-5h0m0 3h0m0 1.5h0m.5-1h0m0 1h0m.5-2h0m1 1.5h0m.5 .5h0m2 0h0m-35.5 4h0m1 0h0m.5-1h0m.5 3h0m0-4.5h0m.5 4.5h0m0-5h0m0 3h0m.5-3h0m.5 .5h0m0 3.5h0m.5-4h0m0 4.5h0m0-2.5h0m.5-2h0m.5 0h0m.5 2h0m0 .5h0m0 1h0m0 1.5h0m.5-3.5h0m.5 1h0m0 2h0m.5-3.5h0m.5 3h0m0-.5h0m.5 1.5h0m0 .5h0m.5-.5h0m0-5h0m.5 4.5h0m.5-.5h0m0 1h0m0-.5h0m0-4h0m0-.5h0m0 2h0m.5 1.5h0m0 1h0m.5-.5h0m0 1h0m0-3.5h0m.5 3.5h0m.5-.5h0m1.5-4h0m.5 4.5h0m.5 .5h0m.5-1h0m.5-1h0m0 1h0m.5-.5h0m0 1h0m.5-2.5h0m0 1h0m0-.5h0m.5-.5h0m0 2.5h0m0-.5h0m0 1h0m.5-4h0m0-.5h0m0 1.5h0m0-.5h0m0 1h0m0 .5h0m.5 1.5h0m0-5h0m.5 5.5h0m0-4h0m.5 2h0m0-3h0m0-.5h0m.5 4h0m0 .5h0m0-4.5h0m0 2.5h0m0 .5h0m.5-2.5h0m0-.5h0m0 2.5h0m0 1.5h0m.5 .5h0m0-3h0m0 1h0m.5 1.5h0m0 1h0m0-.5h0m0-3h0m.5-1h0m0 2h0m0 1.5h0m.5-3.5h0m0 2h0m.5 1.5h0m0-.5h0m.5-3h0m0 3.5h0m0 1h0m0-.5h0m.5 0h0m0-3.5h0m.5 3h0m0-3.5h0m1 3.5h0m0-4h0m0 1.5h0m.5 1h0m0 .5h0m0 2.5h0m.5 0h0m0-4.5h0m0 1h0m.5 1.5h0m0-2h0m0-.5h0m.5 1.5h0m.5 3h0m.5-.5h0m0-5h0m.5 .5h0m0 .5h0m0 1h0m0 1h0m0-.5h0m0 1h0m.5 1.5h0m0-3.5h0m0-.5h0m0 1.5h0m0 1.5h0m.5-2.5h0m0 1.5h0m0 1h0m0 .5h0m.5 0h0m0-4h0m0 .5h0m.5 3.5h0m.5 .5h0m.5-2.5h0m0 1.5h0m1-1h0m.5-2.5h0m0 1.5h0m.5-1h0m.5 2h0m.5 1h0m0-3.5h0m.5 5h0m0-3.5h0m.5 2.5h0m0 .5h0m1-3h0m3 3h0m-37.5 3h0m0-1.5h0m.5 2h0m0-2h0m.5 3h0m0-3.5h0m.5 4.5h0m.5 .5h0m0-3.5h0m0 .5h0m0 .5h0m.5 3h0m0-4.5h0m.5 1h0m0 2h0m.5-.5h0m0 1.5h0m0-4.5h0m0 2.5h0m.5 0h0m.5-2h0m0 3h0m.5-3h0m0 2.5h0m.5 1.5h0m.5-5h0m0 4.5h0m0 1h0m1-5.5h0m.5 1h0m.5 3h0m0-2.5h0m.5 2.5h0m0 1h0m0-5h0m.5 5h0m.5-2h0m0 1.5h0m0-2h0m.5 3h0m1-4.5h0m0 1.5h0m0 1.5h0m0-.5h0m.5 2h0m0-3h0m.5 3h0m0-5h0m0 3.5h0m.5-1.5h0m0 2.5h0m0 .5h0m.5-1h0m0-1h0m.5 .5h0m0-.5h0m0 1.5h0m0 .5h0m.5-4.5h0m0 1.5h0m0 1.5h0m0 .5h0m0-4h0m.5 2.5h0m0 1h0m.5 1.5h0m.5-3.5h0m0 2h0m0 1h0m.5 0h0m0-.5h0m0-4h0m.5 3.5h0m0-3.5h0m0 2h0m.5 1.5h0m0-.5h0m0 1h0m0-2h0m.5-2.5h0m0 5.5h0m0-5h0m.5 1h0m0 2.5h0m0 1h0m.5 .5h0m0-5.5h0m0 2.5h0m0-.5h0m0 1h0m.5-3h0m0 2.5h0m0-.5h0m.5 3.5h0m0-4.5h0m0 3h0m0-4h0m.5 0h0m0 2.5h0m0 .5h0m.5-1.5h0m0 1h0m0 1.5h0m0-.5h0m0 2h0m.5-3.5h0m0 1h0m0 1h0m.5 1h0m0-5h0m0 1h0m0-.5h0m0 1h0m0 1h0m0-.5h0m0 1.5h0m0 .5h0m.5-2.5h0m0 2h0m0-3h0m.5 3h0m0-.5h0m0 1h0m0-4h0m0 4.5h0m.5-1.5h0m0 2h0m0-4.5h0m0 .5h0m0 1h0m.5 0h0m0 3.5h0m.5-2.5h0m0 .5h0m0 1.5h0m.5-.5h0m0-4.5h0m0 1h0m.5 1.5h0m0 .5h0m0 2.5h0m.5-2.5h0m0 2h0m.5-1h0m0 .5h0m0-3h0m0-.5h0m.5 4h0m.5-4.5h0m0 3.5h0m.5-1.5h0m0 .5h0m.5 .5h0m.5-3h0m0 2h0m.5-2.5h0m0 1.5h0m0 3.5h0m.5-1.5h0m1-1h0m.5-1h0m.5 3.5h0m.5 .5h0m.5-4.5h0m1-.5h0m1-.5h0m-32.5 7h0m0 3h0m1 0h0m.5-3.5h0m.5 1h0m0 1.5h0m0-.5h0m.5-1.5h0m.5 0h0m0 1.5h0m1-1h0m0 1h0m.5 0h0m0 .5h0m0 1h0m0 1.5h0m.5-3h0m0 .5h0m0 2h0m0-5h0m0 4.5h0m1-2.5h0m0 1h0m0 1h0m0 1.5h0m.5-2h0m.5-3.5h0m0 4.5h0m.5-2.5h0m0 3h0m0-.5h0m1-3h0m.5-1.5h0m0 2.5h0m0-.5h0m.5 1.5h0m0 2h0m0-2.5h0m.5 2h0m0-4.5h0m0 2h0m1 1.5h0m0-4h0m0 1h0m.5-1h0m0 1.5h0m.5-1h0m0 .5h0m0 3h0m0-.5h0m.5-.5h0m0 1h0m.5-4h0m0 5.5h0m1-3.5h0m0-1h0m0 1.5h0m.5 .5h0m0 1.5h0m0 1h0m.5-5.5h0m0 1h0m.5-.5h0m.5 4.5h0m0-.5h0m0-4.5h0m0 1.5h0m0-.5h0m0 2h0m.5-3h0m0 1.5h0m0-.5h0m0 2h0m.5 2h0m0-4h0m0-.5h0m.5 0h0m0 2h0m0 1h0m.5-3.5h0m0 1.5h0m0 1h0m0-.5h0m.5-2h0m0 2.5h0m0 2h0m.5-4.5h0m0 2h0m0 2.5h0m1.5 1h0m0-5h0m0 3h0m0 1.5h0m0-.5h0m1 1h0m0-4h0m0 2h0m0 1.5h0m1 0h0m0-4.5h0m0 1h0m.5 1h0m0 2h0m0-3h0m.5 .5h0m0-2h0m0 1.5h0m.5-1.5h0m0 1h0m0-.5h0m1 0h0m0 1.5h0m0 1h0m1-1h0m-24.5 4.5h0m2 1h0m.5-1h0m1 1.5h0m.5-.5h0m.5 1h0m0-1h0m.5-1h0m.5 2.5h0m.5-2h0m0 1.5h0m0 2h0m.5-1h0m.5 1h0m0-2h0m0-.5h0m1-2h0m0 2.5h0m0-.5h0m.5 3h0m0-2.5h0m.5-1h0m0 1h0m0 .5h0m.5 .5h0m.5 2h0m0-3h0m0 1h0m0-.5h0m0 1.5h0m1-2h0m0 2.5h0m.5-2h0m.5 2.5h0m0-4h0m0 .5h0m0 2h0m.5-1h0m0 2h0m.5-1.5h0m0 .5h0m.5-.5h0m0-.5h0m0 1h0m.5-.5h0m0-3h0m.5 4.5h0m0-4.5h0m.5 4.5h0m0-4.5h0m.5 3h0m0 .5h0m0-4h0m.5 4h0m0-2.5h0m.5 3h0m0-4h0m.5 1h0m0-.5h0m0 2h0m0 2h0m.5 0h0m0-5h0m.5 4h0m0-2.5h0m.5 3h0m0 1h0m0-2.5h0m.5 2h0m.5-4h0m0 4h0m2-3.5h0m-11 7.5h0m.5-3h0m.5 .5h0m.5 1h0m.5 2.5h0m.5-2h0m0 1.5h0m.5-1.5h0m0-1.5h0m0 1h0m1-1.5h0m.5 3h0m.5-1.5h0m0-.5h0m.5 0h0m.5 1h0m0 1h0m0-2.5h0m0 1h0m.5-1.5h0m0 4.5h0m0-3.5h0m0 1h0m0 2h0m0 1h0m.5-.5h0m0-3.5h0m0 4.5h0m0-4h0m.5-1.5h0m0 2h0m0 .5h0m.5 2.5h0m0-.5h0m0-3h0m.5 3h0m.5-2.5h0m0 2.5h0m.5 1h0m-4 1h0m2-.5h0" stroke="#e02020" stroke-width="2.1" stroke-linecap="round" fill="none"/>
<path d="M296 1683.5h0m.5-.5h0m.5 .5h0m0 1h0m.5 0h0m0-2.5h0m.5 3h0m1.5-2.5h0m0 2h0m0-2.5h0m0 2h0m.5 0h0m0-1h0m0 2h0m.5-2.5h0m-8 8h0m.5-3h0m1 3.5h0m.5-.5h0m.5-2.5h0m.5 1.5h0m0-2.5h0m0-.5h0m.5 2.5h0m0 1.5h0m0-1h0m.5-1h0m0-2.5h0m.5 4.5h0m0-4.5h0m.5 2.5h0m0-1h0m.5 .5h0m0 3.5h0m0-5h0m.5 2h0m.5-2h0m.5 2.5h0m.5 2.5h0m0-.5h0m0-5h0m.5 3.5h0m0 2h0m-9.5 4h0m.5 1.5h0m1 0h0m.5-1h0m.5-2h0m0 3.5h0m0-2.5h0m.5-2.5h0m0 1h0m0 2h0m.5 0h0m0-.5h0m0-3h0m0 2h0m.5 1.5h0m.5-.5h0m.5 1.5h0m0-3.5h0m0 4h0m.5-5h0m0 2h0m0 1.5h0m.5-.5h0m0 2h0m0-1.5h0m0-2.5h0m.5 1.5h0m1-2h0m.5 .5h0m.5 2.5h0m.5-1.5h0m0 1h0m-9.5 8h0m.5-.5h0m0-.5h0m.5-2.5h0m0-1.5h0m0 4.5h0m.5 .5h0m1.5-2h0m0-2h0m.5 2.5h0m0-.5h0m.5 2.5h0m.5-.5h0m0-2.5h0m.5-.5h0m.5 3h0m0-5h0m0 2h0m.5-.5h0m0-1h0m.5 3h0m0-3h0m0 4.5h0m.5 0h0m0-1h0m0-2.5h0m.5 2h0m0-3h0m0 4.5h0m0-.5h0m.5-4.5h0m0 2h0m0 2h0m0-3.5h0m.5 2h0m0 1.5h0m0 1.5h0m.5-1h0m1-3.5h0m.5 1h0m0 2.5h0m-10.5 1.5h0m.5 .5h0m0 4h0m.5-1h0m.5-3h0m.5 4h0m1-1h0m0-1h0m.5-2.5h0m0 3.5h0m0-2.5h0m.5 0h0m.5-.5h0m0 1.5h0m.5 2.5h0m.5-4h0m0 4h0m.5-1.5h0m.5-.5h0m0-2.5h0m0 4h0m0-3h0m.5 4.5h0m0-1h0m.5 0h0m0-1.5h0m0-2.5h0m.5 .5h0m.5 0h0m.5 3.5h0m.5-4h0m0 3.5h0m.5 .5h0m-13 4.5h0m1.5 2.5h0m.5 0h0m1.5-1.5h0m0-3h0m.5 0h0m.5 4h0m0-5h0m0 2h0m0-.5h0m0 4h0m0-2.5h0m.5-2.5h0m0 4.5h0m.5-3.5h0m0 1h0m0 2h0m1-4.5h0m0 2h0m.5 1.5h0m0-3h0m0 2h0m.5 2.5h0m0-3h0m.5-1h0m0 4.5h0m0-2.5h0m0-.5h0m.5-.5h0m0 1h0m.5 0h0m0-.5h0m0-2.5h0m0 4h0m0-.5h0m.5-1h0m.5 2h0m.5-3h0m.5 2.5h0m.5-2h0m0 1.5h0m0-.5h0m.5-2h0m0 2h0m.5 2.5h0m2-3h0m-15.5 7.5h0m2.5 1.5h0m1-4.5h0m.5-.5h0m0 3.5h0m.5-2.5h0m0 1.5h0m.5-1h0m0-.5h0m0-.5h0m1 .5h0m0-1.5h0m0 2h0m1 3h0m0-2.5h0m0-.5h0m.5 2.5h0m0-.5h0m.5 1.5h0m0-2.5h0m0-2h0m.5 3h0m0 .5h0m.5-1h0m0-2.5h0m.5-.5h0m0-.5h0m0 4.5h0m.5-2h0m.5-.5h0m0 3.5h0m.5-3h0m0-.5h0m.5 3.5h0m0-.5h0m0-2.5h0m.5-2h0m.5 1h0m.5 1h0m0 2h0m0-1.5h0m.5 0h0m0 2h0m.5-5h0m0 4.5h0m.5-.5h0m.5-3.5h0m1 5h0m.5-.5h0m-17 5.5h0m1.5-4h0m.5 2h0m0-1h0m1 1.5h0m1 .5h0m0 1.5h0m0-2.5h0m.5 .5h0m0 1.5h0m.5-3.5h0m.5 2.5h0m0-2.5h0m0-.5h0m0 1.5h0m1 2h0m.5 1h0m.5-.5h0m0-1h0m0-3h0m.5 3h0m.5-2h0m0-.5h0m0-1h0m0 4.5h0m.5-4.5h0m0 4h0m0-3h0m.5 4.5h0m0-3.5h0m.5 0h0m1 1.5h0m0-1.5h0m.5 2.5h0m0 1h0m.5-2.5h0m0 1.5h0m0-3.5h0m0 4.5h0m.5-1.5h0m0-.5h0m.5-1h0m0-2.5h0m0 .5h0m0 4.5h0m.5 0h0m.5-2h0m0 2h0m.5 .5h0m.5-2h0m0 1.5h0m.5-1h0m0-3.5h0m0-.5h0m.5 0h0m0 4.5h0m0-1h0m.5 1h0m.5 .5h0m0-3.5h0m0 1.5h0m.5-.5h0m0 3h0m.5-1.5h0m-16.5 4.5h0m1 1h0m0-2.5h0m0 2h0m0 2h0m.5-4h0m.5 4.5h0m0-3.5h0m.5 3.5h0m.5-5h0m0 4h0m0-1h0m0-2.5h0m.5 2h0m0 2h0m0-2.5h0m.5 0h0m0-2h0m.5 4h0m.5-.5h0m0 1.5h0m.5-4h0m.5 4h0m0-1h0m0-.5h0m.5 0h0m0 1.5h0m0-5h0m0 4h0m.5 0h0m0-1h0m.5 1h0m.5-.5h0m0-.5h0m.5 1h0m.5-3.5h0m0-1h0m0 4.5h0m.5-1.5h0m.5 0h0m0-2.5h0m0 1h0m.5 2h0m.5-3h0m0 4h0m.5-1h0m0-1.5h0m0-.5h0m.5 1.5h0m0 2h0m.5 0h0m0-5h0m0 2h0m.5-.5h0m.5 3.5h0m0-5h0m0 4h0m0-2.5h0m0-.5h0m0 4.5h0m.5-5.5h0m0 1.5h0m.5 1.5h0m0-2.5h0m0 4.5h0m.5-2.5h0m1 0h0m0-2.5h0m.5 4.5h0m0-3h0m0-.5h0m1.5 1.5h0m0-1.5h0m-20 7h0m1.5-.5h0m.5 2h0m0 2h0m0-.5h0m.5 .5h0m0-1h0m.5 .5h0m0-2h0m0-2.5h0m2 .5h0m.5 2.5h0m.5-3h0m0 1.5h0m.5 2h0m0-.5h0m0-1.5h0m.5 2h0m0-2.5h0m.5 1.5h0m.5 1h0m.5-2h0m0 3.5h0m1-1.5h0m0 1h0m.5-5h0m0 4h0m0-.5h0m1-2.5h0m1 2h0m0 2h0m0-1h0m1 .5h0m1.5 0h0m.5-1.5h0m.5 .5h0m0 2h0m0-5.5h0m0 4.5h0m0-3h0m.5 2.5h0m1-3.5h0m0 1.5h0m.5 .5h0m.5 0h0m0 2h0m0 .5h0m.5-2.5h0m1.5 3h0m0-2.5h0m0-2.5h0m0 2h0m.5-1.5h0m.5 2.5h0m.5-2.5h0m0 2h0m0 1.5h0m.5-2h0m0 3h0m.5-.5h0m-22 3h0m1-2h0m2 5h0m0-3h0m1 2h0m0-4h0m.5 1h0m1 3h0m0-2.5h0m0 3.5h0m.5-5h0m0 1h0m.5 .5h0m.5 2.5h0m0-2.5h0m0-.5h0m0 1.5h0m1 0h0m0 2h0m.5 0h0m0-2.5h0m0-.5h0m.5 4h0m0-2.5h0m.5 0h0m0-1h0m.5 3h0m0-.5h0m.5-3h0m.5-.5h0m.5 3h0m0-.5h0m0-3h0m.5 1h0m.5 3.5h0m0-5h0m0 4.5h0m0-3h0m0-.5h0m0 2h0m0-2.5h0m.5 2.5h0m0 2h0m0-3.5h0m.5 1.5h0m0-3h0m0 1.5h0m.5 3h0m0-1.5h0m.5 2.5h0m0-2.5h0m.5 .5h0m0 1h0m.5 0h0m.5-4h0m.5 1.5h0m0 3h0m.5-.5h0m.5-2.5h0m0 2h0m.5-4h0m.5 5.5h0m0-.5h0m0-3.5h0m.5 .5h0m.5 1.5h0m.5 2h0m0-2.5h0m0 2h0m0-.5h0m.5-1h0m0-3h0m.5 4.5h0m0-1.5h0m.5-1.5h0m.5 0h0m0 3.5h0m0-2.5h0m0-2.5h0m.5 4h0m0-2.5h0m.5 .5h0m.5 .5h0m0 2h0m0-2.5h0m.5-.5h0m2 2h0m-34.5 7h0m0-.5h0m2 1h0m.5 0h0m0-2.5h0m.5 2h0m.5-3.5h0m.5 0h0m1.5 4h0m2-2.5h0m0 1h0m2-2.5h0m.5-.5h0m1 2.5h0m.5-.5h0m0-2.5h0m0 3.5h0m0-2.5h0m.5 0h0m0 3h0m.5-3h0m.5 1.5h0m.5-2h0m0 1.5h0m1-1h0m0 3.5h0m0-2.5h0m.5 2h0m0 1h0m.5-2.5h0m0-2.5h0m0 1.5h0m.5-1.5h0m0-.5h0m.5 1h0m0-.5h0m.5 0h0m.5 3h0m0-3h0m.5-.5h0m0 4h0m1.5-3h0m.5 0h0m0 2h0m0-3h0m.5 4h0m1 0h0m.5-2.5h0m.5-1h0m0 2h0m.5 2.5h0m.5-3h0m0-1h0m.5 2h0m0-1h0m0 2h0m.5-1.5h0m0 2h0m0-4h0m1 3.5h0m.5 0h0m0 1.5h0m1-4.5h0m0 2h0m0-2.5h0m.5 3h0m.5 1h0m1-4h0m0 3h0m0 2h0m2-1.5h0m0-2.5h0m1.5 1.5h0m0-.5h0m1 2.5h0m-36 4h0m.5-1h0m1-2h0m.5 2h0m.5-1h0m1 3.5h0m1-2h0m.5 2h0m0-2.5h0m.5 .5h0m.5 2.5h0m.5-1h0m0-4h0m0 5.5h0m1.5-3.5h0m1.5 2h0m1.5-2h0m.5-.5h0m.5 .5h0m1-1.5h0m.5 3h0m0 2h0m.5-1.5h0m0-2.5h0m0-1h0m.5 2h0m0 1.5h0m0-3h0m0-.5h0m1-.5h0m0 1.5h0m0 2h0m0-2.5h0m.5 1.5h0m0 2h0m1.5-3.5h0m0-.5h0m0 4h0m.5-1h0m0-3.5h0m.5 1h0m0 4.5h0m.5 0h0m0-2.5h0m1-.5h0m0-.5h0m0 3.5h0m.5-1h0m0-3h0m.5 1h0m0-.5h0m0 2h0m0-2.5h0m.5 4h0m0-.5h0m0-5h0m0 1.5h0m.5 1.5h0m0 2h0m0-3h0m.5 2.5h0m0-.5h0m.5-3h0m0-1h0m0 2h0m.5 1h0m0 2h0m.5-3h0m0 1.5h0m.5 1.5h0m0-3.5h0m.5-1.5h0m0 1h0m.5 1.5h0m1-2h0m0 4.5h0m.5-2h0m.5 1h0m0-2.5h0m0 2h0m.5-1h0m0 1.5h0m1.5-2h0m0 1h0m1 .5h0m0-2.5h0m.5-.5h0m.5 4.5h0m0-.5h0m.5-2.5h0m0 1h0m.5-2.5h0m.5 3.5h0m0-2.5h0m0 1.5h0m1 1h0m5-1.5h0m1.5 .5h0m-45.5 8h0m0-.5h0m1.5 0h0m.5-2h0m0 2h0m.5 .5h0m1-1h0m.5 0h0m.5 0h0m.5 1.5h0m.5-3.5h0m0-.5h0m.5-.5h0m0 1h0m.5 0h0m1 1.5h0m0-.5h0m.5 0h0m.5-2h0m.5 1.5h0m0-2h0m2.5 .5h0m.5 2h0m2.5-.5h0m1.5-2h0m.5 4h0m1-3.5h0m1 2.5h0m.5 1.5h0m0-1.5h0m.5 0h0m0-.5h0m0 2h0m0-2.5h0m.5-1h0m0 2h0m.5-1.5h0m.5-1.5h0m0 4.5h0m.5-5h0m.5 .5h0m0 4.5h0m1-1.5h0m.5 0h0m0-2.5h0m0 4h0m1-4h0m0 4h0m.5-2.5h0m0 2h0m.5-1h0m0-3h0m.5 5h0m0-2.5h0m0 2h0m0-2.5h0m0-2.5h0m.5 5.5h0m0-1h0m.5 0h0m0-.5h0m0 1h0m.5 .5h0m0-2.5h0m1.5 0h0m0-1h0m0-1h0m.5 0h0m.5 3.5h0m2-3h0m0 4h0m0-3h0m.5 1.5h0m.5-.5h0m0-3.5h0m.5 2h0m0-.5h0m.5-1h0m0 4.5h0m0-1.5h0m.5-3.5h0m.5 0h0m0 .5h0m.5-.5h0m.5 4h0m0-2.5h0m0 2h0m0 2h0m0-3.5h0m.5 2.5h0m0-3h0m0 4h0m0-5h0m0 2h0m1-2h0m1.5 4h0m1-3.5h0m0-1h0m.5 3h0m-43.5 8.5h0m1.5-.5h0m.5-.5h0m0 1h0m.5-4h0m.5 2.5h0m1.5-4h0m0 1h0m1 1.5h0m0 2h0m.5-4.5h0m0 2h0m0-1.5h0m.5 2.5h0m0-1h0m0 2h0m.5-1.5h0m.5 1.5h0m1 1.5h0m.5-2h0m0-3h0m1-.5h0m.5 .5h0m2.5 3.5h0m1-3h0m0 4.5h0m.5-1.5h0m1.5 .5h0m1 0h0m0-2.5h0m1 3.5h0m0-.5h0m1-2h0m0-1h0m.5 3.5h0m0-5.5h0m.5 0h0m0 5.5h0m.5-2.5h0m0 1h0m.5-3.5h0m0 4.5h0m.5 0h0m0-.5h0m.5-1h0m0-2.5h0m0-1h0m0 4h0m.5-.5h0m0 2h0m0-5h0m.5 .5h0m.5-1h0m.5 1h0m0 2h0m.5 2.5h0m0-3h0m0 2h0m0-3h0m.5 .5h0m0-.5h0m0 4h0m.5-.5h0m0-.5h0m0-2.5h0m0-1h0m.5 1h0m0 2h0m0-2.5h0m.5 .5h0m1 1.5h0m.5-1h0m.5 1.5h0m.5-2h0m0 2h0m0-.5h0m0-2.5h0m0-.5h0m.5 2.5h0m.5-1h0m0 1.5h0m.5 .5h0m0 1.5h0m0-5.5h0m.5 2h0m0-.5h0m.5 1.5h0m.5-1h0m1 1.5h0m0-3h0m0 2h0m.5-2h0m1 4h0m0-2.5h0m0-.5h0m.5 1h0m.5 3h0m0-.5h0m.5-2h0m.5-3h0m.5 .5h0m0 4h0m.5-4h0m.5 2.5h0m0 1.5h0m1-2.5h0m0 3h0m.5 0h0m.5-3h0m.5 3h0m.5-3.5h0m.5 1h0m1-2h0m-42.5 8.5h0m1.5 2.5h0m.5-2h0m.5-.5h0m0 2h0m.5-.5h0m0-.5h0m0 1.5h0m0-3h0m.5 3h0m0-3.5h0m.5-2h0m0 5h0m2-4.5h0m0 4h0m.5-.5h0m0-2.5h0m0 1h0m.5-1h0m0 1.5h0m.5 2h0m0-1h0m.5 1h0m.5-1.5h0m.5 2h0m0-3h0m.5-1h0m0 4h0m.5-.5h0m.5 .5h0m.5-1.5h0m0-3h0m0 4.5h0m.5-1h0m1-1h0m0 2h0m.5-4.5h0m0 4.5h0m0-.5h0m.5-3.5h0m0 3.5h0m.5-2h0m0-2.5h0m0 .5h0m0 4.5h0m.5-2.5h0m0 2h0m0-2.5h0m0 1.5h0m.5-4h0m0 1h0m0 4.5h0m.5-1.5h0m1-1h0m.5-2h0m1.5 4h0m1 0h0m0-1h0m0-.5h0m0-2.5h0m.5 2.5h0m0-2h0m.5 .5h0m0 1h0m.5 2.5h0m0-5.5h0m0 4.5h0m0-3h0m.5-1.5h0m.5 3.5h0m.5 2h0m0-1h0m.5 0h0m0-3h0m0 2h0m0-2.5h0m.5-.5h0m0 4h0m0-2.5h0m0-1h0m.5-.5h0m0 4h0m.5 1h0m0-5h0m.5 2.5h0m.5-.5h0m0-2.5h0m.5 3.5h0m0-2.5h0m0 2h0m.5-3h0m.5 .5h0m0 4.5h0m1-3.5h0m.5-1.5h0m.5 1h0m0 4.5h0m.5-2.5h0m.5 1h0m0-2.5h0m0 1h0m.5 2.5h0m0-5h0m0 1.5h0m.5 2h0m.5 1h0m.5 0h0m1-3h0m.5-.5h0m0 2h0m.5 1.5h0m0-2.5h0m0-1.5h0m.5 2.5h0m0 1h0m1-2h0m0-.5h0m0 1h0m.5-1h0m1 3.5h0m1-5h0m0 4.5h0m0-3.5h0m-38.5 5.5h0m2 0h0m1 1.5h0m.5-1.5h0m0 2h0m0-.5h0m0-.5h0m1.5 0h0m.5 1.5h0m.5-2h0m0-1h0m0 4.5h0m0-2.5h0m.5 1.5h0m0-3.5h0m.5 3.5h0m.5-.5h0m0-1h0m0 1.5h0m.5 0h0m0-1h0m.5 .5h0m0-.5h0m0 1.5h0m.5-2.5h0m.5 0h0m0 1h0m.5-.5h0m0 2h0m0-2.5h0m0 2h0m.5 0h0m0-.5h0m0-2.5h0m.5 1h0m0 1.5h0m1-1.5h0m0-1h0m0 2h0m.5 1.5h0m.5-3h0m0-1h0m0 1.5h0m.5-1.5h0m1 .5h0m.5 .5h0m.5 4.5h0m0-5h0m1 .5h0m0 2h0m.5-.5h0m0-.5h0m1-1.5h0m1.5 0h0m.5 0h0m0-.5h0m.5 2h0m0 1.5h0m.5-2.5h0m0-1h0m0 2h0m1-.5h0m.5 0h0m.5 1h0m.5 1h0m.5-3h0m.5 1.5h0m0 1.5h0m1.5-2h0m0-1h0m.5 2h0m1.5-2h0" stroke="#a8e080" stroke-width="2.1" stroke-linecap="round" fill="none"/>
<path d="M258 1775.5h0m5.5 0h0m.5-1.5h0m0 .5h0m.5-1.5h0m.5 1h0m0-.5h0m.5-1h0m0 1h0m.5 0h0m0 1h0m.5-1h0m0 1.5h0m-18 4h0m.5 .5h0m2.5 .5h0m1-.5h0m0-1h0m1.5 1h0m1-1.5h0m0 1h0m0 1.5h0m.5-.5h0m0-.5h0m0 1.5h0m.5-3.5h0m.5 .5h0m.5 2h0m0 1h0m1-1h0m1-2h0m0 1h0m.5-1h0m0 1h0m0 2.5h0m0-5.5h0m.5 .5h0m0-.5h0m.5 3.5h0m0 1h0m0-1.5h0m0-.5h0m0 1.5h0m.5-.5h0m0 1h0m0 1h0m0-4.5h0m.5-.5h0m.5 3h0m0-.5h0m.5-.5h0m0 3h0m0-5h0m.5 0h0m0 3.5h0m0-.5h0m.5 1h0m.5-3h0m0 3h0m.5-1h0m.5-3h0m0-.5h0m0 1.5h0m0-.5h0m.5 0h0m.5-.5h0m.5 .5h0m.5-1h0m-24.5 11h0m1.5-.5h0m.5-.5h0m0-2h0m1 2.5h0m.5 1h0m0-3h0m.5-.5h0m0 2.5h0m.5 0h0m1-3h0m0-.5h0m0 1.5h0m0 2.5h0m.5-.5h0m0-4.5h0m.5 .5h0m0 1.5h0m0-2h0m.5 2h0m0 2h0m0 .5h0m.5-3.5h0m0 1h0m0 1h0m0 .5h0m.5-3h0m.5 3h0m0 1.5h0m0-4.5h0m.5 .5h0m.5 4.5h0m0-5.5h0m0 2h0m.5 1.5h0m0-3h0m0 1h0m0 .5h0m0 1h0m.5 2h0m0-4.5h0m0-.5h0m0 2.5h0m0 1.5h0m.5-.5h0m0-3h0m0 1h0m.5 2.5h0m0-3.5h0m0 1.5h0m.5-1.5h0m0 1h0m0 1.5h0m.5 1.5h0m0 1h0m0-2.5h0m0 .5h0m.5 2h0m0-3h0m0 .5h0m.5 1h0m0-.5h0m0 1h0m.5-1.5h0m0 .5h0m0-3h0m.5 3.5h0m.5-3h0m0 2.5h0m0 .5h0m0 1h0m0-5h0m.5 2h0m0 3.5h0m0-4h0m.5 3.5h0m0-5h0m.5 3.5h0m0 1h0m0-1.5h0m.5-.5h0m0 1h0m1 1h0m0-3h0m-23 10h0m2-1.5h0m2 1h0m.5 .5h0m.5-2.5h0m0 1.5h0m0-2.5h0m1 1.5h0m.5 2h0m0-5.5h0m.5 3h0m0-1.5h0m.5 3h0m0-4.5h0m0 3h0m.5 1h0m0-.5h0m0-3h0m.5 3.5h0m.5 0h0m.5-2h0m0 3h0m.5 .5h0m0-5.5h0m0 3h0m0 1h0m0-.5h0m.5-2h0m.5-1h0m0 1h0m.5-1h0m0 2h0m0-2.5h0m.5 2h0m0 1h0m.5-.5h0m0-.5h0m.5-2h0m0 1h0m0 2h0m0 2.5h0m.5-1h0m.5-3h0m0 2h0m0-.5h0m0 1.5h0m0-4h0m.5 3.5h0m0-4h0m0 1.5h0m0 1.5h0m.5-.5h0m.5 1h0m0 1.5h0m0-4.5h0m0 .5h0m0 1h0m.5 2.5h0m0 1h0m.5-2.5h0m0 1h0m0 1.5h0m0-3h0m1.5 3h0m0-2h0m0 1.5h0m.5-5h0m0 .5h0m0 4.5h0m.5 0h0m0 .5h0m0-5.5h0m.5 3h0m0 1h0m.5-.5h0m.5 .5h0m.5-1h0m0-3h0m.5 4.5h0m.5-4h0m-22.5 11h0m1-1h0m1-1.5h0m0 1h0m.5 1h0m0 .5h0m.5-5.5h0m0 1h0m0 2h0m0 1.5h0m.5-2h0m0 1.5h0m.5 1h0m0-4h0m0 2h0m1 0h0m1-.5h0m0 1.5h0m0-3.5h0m.5 2h0m0 2h0m0-3.5h0m.5 2h0m0 .5h0m.5 1h0m.5-.5h0m0-4h0m.5 4.5h0m.5-4h0m0-.5h0m0 1.5h0m0 2.5h0m0-.5h0m.5 1h0m0 1h0m.5-3.5h0m.5 2.5h0m0-1.5h0m.5 2h0m0-4.5h0m0 3h0m.5-3.5h0m0 1h0m0 1h0m0 1.5h0m0-3h0m.5 2.5h0m1.5 2.5h0m0-4.5h0m0 3.5h0m.5-3.5h0m0-.5h0m.5 1h0m0 .5h0m0-1h0m.5-.5h0m0 1h0m0-.5h0m.5 2h0m0 2h0m0 .5h0m0-4.5h0m.5 4.5h0m0-4h0m0 2h0m.5 .5h0m0 1.5h0m0-4.5h0m.5 3h0m0-4h0m.5 .5h0m.5 3h0m0 1h0m0 1h0m0-4h0m0 1.5h0m.5-3h0m.5 1.5h0m.5 0h0m0-1h0m.5 1h0m.5-1h0m1 5h0m-23 3.5h0m1 0h0m0 1h0m.5-3h0m1.5 1h0m0 1h0m0 1.5h0m.5 0h0m0-4h0m0 3.5h0m.5 0h0m0 1h0m0-.5h0m0 1h0m.5-3.5h0m.5 1h0m.5-.5h0m0-.5h0m.5-1.5h0m0 1.5h0m0 1.5h0m.5-3h0m.5 .5h0m.5 0h0m0-1h0m0 4.5h0m1-2.5h0m0 1.5h0m0-3.5h0m0 1.5h0m.5 1.5h0m0-3h0m0 .5h0m.5 4.5h0m0-.5h0m0-4h0m.5 1.5h0m0 1.5h0m0 1.5h0m0-3.5h0m.5 3.5h0m0-4.5h0m0 2.5h0m.5 2h0m.5-5h0m0 .5h0m0 3.5h0m.5 1.5h0m0-5h0m0 1h0m.5 3.5h0m0-5h0m0 2h0m0 1h0m.5-2.5h0m0 1h0m0 2.5h0m.5-3h0m0 .5h0m1 4h0m0-4h0m0 .5h0m0 3h0m.5-4h0m0 1.5h0m0 1.5h0m0 1h0m0-5h0m.5 2.5h0m0 1h0m0-.5h0m0 2h0m.5-4h0m0 1h0m.5 1h0m0-2.5h0m0 1h0m.5 1h0m0-.5h0m0-1.5h0m0 1h0m1 2.5h0m0 1h0m.5-.5h0m0 1h0m.5-4.5h0m0 2h0m.5 2h0m0-4h0m0 2.5h0m-18.5 2.5h0m0 2.5h0m.5 1h0m.5 0h0m1 0h0m0 1.5h0m0-4h0m0 4.5h0m.5-5h0m1 2h0m0 1h0m0 1.5h0m.5-1h0m0 1h0m.5-4h0m0 1h0m.5 3.5h0m0-3.5h0m0 1.5h0m0-3.5h0m1 1h0m.5 4.5h0m0-4h0m0 2h0m0-.5h0m.5-1h0m0-2h0m0 4.5h0m0 1h0m0-4.5h0m.5 1.5h0m0 1h0m0 .5h0m0 1h0m.5-4h0m0-1h0m.5 3.5h0m0-.5h0m0-3h0m.5 1.5h0m0 1h0m0-2.5h0m0 5.5h0m0-5h0m.5-.5h0m0 2h0m0 1h0m.5 0h0m0-3h0m0 1h0m0 2.5h0m.5-1.5h0m.5 1h0m.5 1h0m.5 .5h0m0-1.5h0m0 .5h0m0-3.5h0m.5 5h0m0-4h0m0 4.5h0m0-5h0m0 1h0m.5 1h0m.5 3h0m0-5h0m.5-.5h0m0 1.5h0m0 2h0m.5-2h0m0 1h0m.5-1.5h0m0 2h0m.5 1h0m0-4h0m0 1.5h0m.5 0h0m0 .5h0m0 2h0m.5 .5h0m0-4h0m.5 2h0m0 .5h0m0 2.5h0m.5-4h0m0 .5h0m0-1h0m.5 1.5h0m.5-.5h0m0-1h0m.5 3.5h0m-22.5 6h0m2.5 0h0m1-4h0m.5 2h0m0 1h0m.5 .5h0m0-.5h0m0-1.5h0m.5 1h0m.5-1h0m1 0h0m0-1h0m0 4.5h0m0-5h0m.5 4h0m.5 1h0m0-5h0m0 1.5h0m.5 1h0m0 1.5h0m0-3h0m.5-1h0m0 3h0m0-.5h0m.5 2h0m0-3h0m.5 1h0m.5 2h0m0 .5h0m0-3h0m.5 0h0m0 1h0m0 2h0m.5-3h0m0 .5h0m0 1h0m.5-3.5h0m0 1h0m0 2.5h0m0 .5h0m0-3.5h0m.5 2h0m0-3h0m0 .5h0m.5 1h0m0 1.5h0m0 1.5h0m0 .5h0m0-4h0m0 4.5h0m.5-1.5h0m0-2.5h0m.5 2h0m0-.5h0m0 2.5h0m0-4.5h0m0 1.5h0m.5 .5h0m0 1.5h0m0-4h0m0 1.5h0m.5 1.5h0m0 .5h0m0 1h0m0-5h0m0 1h0m0 .5h0m.5-.5h0m0 4.5h0m.5-.5h0m0-.5h0m.5 1h0m0-5.5h0m0 1h0m0 1.5h0m.5 .5h0m.5 2h0m.5-2.5h0m0 .5h0m.5 2.5h0m0-5h0m0 1h0m0 2h0m0 1h0m0-.5h0m.5-3h0m0 .5h0m0 2h0m0-.5h0m0 1.5h0m.5-.5h0m0-4h0m.5 .5h0m0 2h0m0 .5h0m.5 1h0m1.5-3.5h0m-19 7h0m.5 1h0m.5 0h0m0 2h0m0-4.5h0m.5 3.5h0m1-1.5h0m0 1.5h0m.5-2.5h0m.5 2h0m1-1h0m.5-2h0m0 5.5h0m0-5h0m0 2h0m.5 2.5h0m0-4h0m0-.5h0m0 1h0m.5 3h0m0-3.5h0m.5 4.5h0m0-5h0m1 4.5h0m0-5h0m0 1h0m0 1.5h0m0 .5h0m1 0h0m0 1.5h0m.5-3.5h0m.5 3h0m0 1h0m.5-4h0m0-.5h0m0 3h0m0-.5h0m0 1.5h0m.5-2.5h0m0 3h0m0-2.5h0m.5 1h0m0-2.5h0m.5 3.5h0m0-4.5h0m0 2h0m.5 1h0m0 2h0m0-3.5h0m.5 3h0m0 1h0m0-5h0m.5-.5h0m0 4.5h0m0-4h0m0 2.5h0m.5 0h0m0-2.5h0m0 1.5h0m.5-1h0m0 3h0m.5-3.5h0m.5 3.5h0m0-3.5h0m0 1.5h0m0-.5h0m0 1h0m.5 2.5h0m.5 0h0m0-4.5h0m0 1.5h0m0 1h0m.5 0h0m0 2h0m0-4h0m.5 .5h0m0 3h0m0-.5h0m.5-1.5h0m0 1h0m.5-2h0m0-.5h0m.5 .5h0m0 1.5h0m0-3h0m.5 2.5h0m0-2h0m.5 1.5h0m0-1h0m.5 2.5h0m0-2.5h0m.5 .5h0m.5 1h0m.5 1.5h0m0-3h0m.5 1.5h0m1 2h0m1-1h0m-22 3.5h0m.5 0h0m1.5 3.5h0m.5 1h0m0-2.5h0m.5 1h0m.5-2.5h0m0 2h0m.5 1h0m0-1h0m.5-2.5h0m.5 4.5h0m0-4h0m0-.5h0m0-1h0m.5 5h0m0-4h0m0 1.5h0m.5 3h0m.5-4h0m0 1h0m0 1h0m1-1.5h0m0-.5h0m0 1.5h0m.5-1h0m0 2.5h0m0 .5h0m.5-.5h0m0-4.5h0m.5 2.5h0m0-.5h0m0 1.5h0m0-.5h0m0 1.5h0m0-4h0m1 3.5h0m0-3h0m0 4.5h0m0-4h0m.5 1.5h0m0 2.5h0m0-5.5h0m0 1h0m0 1h0m.5-2h0m.5 2.5h0m0 1h0m0 1h0m.5-4.5h0m0 1h0m0 1h0m0 1.5h0m.5 .5h0m.5 0h0m0 1.5h0m0-5h0m0 2h0m.5 3h0m0-.5h0m0-2h0m.5 2.5h0m0-.5h0m0-4h0m.5 .5h0m0 2h0m0 1.5h0m.5 0h0m0-5h0m.5 4.5h0m0-.5h0m.5 .5h0m0-.5h0m0 1.5h0m.5-5.5h0m0 2.5h0m0 3h0m.5-4h0m0 2.5h0m.5-.5h0m0-.5h0m.5 2h0m0-4.5h0m.5 4h0m0 1h0m0-3.5h0m.5 3h0m0 .5h0m0-3.5h0m.5 3.5h0m0-3h0m.5 1h0m0 .5h0m0-4h0m.5 4.5h0m0-1h0m1-2.5h0m0 4.5h0m0-2.5h0m0 1h0m.5 0h0m0 1.5h0m0-2.5h0m.5-.5h0m0 1h0m.5-1.5h0m.5 1h0m0 2.5h0m-20 2h0m.5-1.5h0m.5 1.5h0m.5-1.5h0m1 3.5h0m0-.5h0m0 1h0m0-4h0m.5 .5h0m0 1h0m.5 2.5h0m1-2.5h0m0 1.5h0m0 1.5h0m.5-1.5h0m0-2.5h0m1 3.5h0m0-3h0m0 1h0m0-.5h0m.5 1h0m0 1h0m0-1.5h0m.5-1.5h0m0 3.5h0m1-1h0m.5 0h0m.5-2.5h0m.5 4h0m0-.5h0m0-3h0m.5-.5h0m.5-.5h0m0 1h0m.5 4h0m0-4.5h0m0 2h0m1 1.5h0m1 1.5h0m0-.5h0m0-5h0m0 3.5h0m.5 .5h0m0-3.5h0m1 2h0m0 1h0m0-3h0m0 1.5h0m.5-.5h0m0 1.5h0m0 .5h0m0-2.5h0m.5 2h0m.5 .5h0m0-3.5h0m0 .5h0m.5 5h0m0-5h0m.5 4.5h0m0-4.5h0m0 2h0m.5 1h0m0-.5h0m0-.5h0m.5-2h0m.5 3h0m0 1.5h0m0-3.5h0m.5-.5h0m0 1.5h0m0 1.5h0m.5-4h0m0 1.5h0m0 2.5h0m.5 1.5h0m0-3h0m0 1h0m.5-1h0m0 1.5h0m1-1.5h0m0 .5h0m0 2h0m.5-3h0m0 3h0m1-1h0m.5-1h0m.5 1.5h0m.5-1.5h0m0-1.5h0m1 3h0m1-1.5h0m0 1.5h0m1-2.5h0m.5 3.5h0m-24 1.5h0m.5 1h0m.5-1h0m.5 0h0m.5 3h0m0-3.5h0m.5 1.5h0m0-2h0m.5 1h0m0 1h0m.5 .5h0m.5-1h0m0 1.5h0m0 .5h0m0-3.5h0m.5 3h0m0 1h0m0-2h0m.5 1.5h0m0-2h0m1 2h0m.5 1.5h0m0-4h0m0 1h0m0 1h0m.5 2.5h0m0-4.5h0m0-.5h0m0 1.5h0m0-.5h0m0 1h0m.5-2.5h0m.5 2.5h0m.5 1.5h0m0-.5h0m0 1h0m.5-4.5h0m.5 1h0m0 2h0m0 2h0m0-5h0m.5 1h0m0 .5h0m0 2h0m0-.5h0m.5 .5h0m.5-.5h0m0 .5h0m0 2h0m.5-4.5h0m.5 1.5h0m0 .5h0m0 1.5h0m0-2.5h0m.5 1h0m0 1.5h0m0-4.5h0m.5 2.5h0m.5 1h0m0 .5h0m0 1h0m0-5h0m0 .5h0m.5 3h0m.5 1h0m0-3h0m0 1.5h0m.5-2h0m0 1h0m0-.5h0m0 1.5h0m0-.5h0m0 1.5h0m.5-2.5h0m.5 3h0m0-.5h0m1-3.5h0m0-.5h0m.5 .5h0m0 3.5h0m0-3h0m.5 2h0m0 2.5h0m1-3h0m.5 1.5h0m0-.5h0m0 1h0m.5-1.5h0m0 1.5h0m0-4h0m0 1h0m.5 2h0m0-3h0m1 1h0m.5-1h0m.5 3.5h0m.5-3.5h0m0 1h0m.5-.5h0m0-.5h0m.5 5h0m0-3.5h0m0 .5h0m.5 0h0m1 3h0m0-4h0m0-.5h0m.5 3.5h0m0 1h0m.5-2.5h0m0 2.5h0m.5-1.5h0m0-4h0m.5 5.5h0m1.5-2.5h0m0 2.5h0m1-2.5h0m1 2h0m.5-1h0m1 1h0m.5-1h0m0 1.5h0m1.5 0h0m-32.5 3.5h0m1-3h0m1 1.5h0m1 0h0m.5 1.5h0m0-2.5h0m.5 0h0m.5 1h0m0-.5h0m.5 1.5h0m.5 1h0m.5-2h0m1-1.5h0m0 1h0m0 1.5h0m0 1.5h0m.5-3h0m0 4.5h0m.5-.5h0m0-4h0m0 .5h0m.5 0h0m0-1h0m.5 1h0m0 1.5h0m0-.5h0m0-2h0m.5 3h0m0 1.5h0m0-5h0m.5 0h0m0 1h0m.5 1h0m.5-1.5h0m0-.5h0m.5 3h0m0 1h0m0-3.5h0m0 4.5h0m0-3h0m1-.5h0m0-.5h0m.5 4h0m0-4.5h0m.5 2.5h0m.5 2.5h0m0-.5h0m0-5h0m0 1h0m0 2h0m.5 1.5h0m0 1h0m0-2h0m.5-2.5h0m0 1h0m0 1h0m0 1h0m.5-1.5h0m1 2h0m0-2h0m0 1.5h0m.5-2.5h0m0 1.5h0m0 2h0m.5-5h0m.5 .5h0m.5 1.5h0m0-2h0m0 1h0m0-.5h0m.5 3h0m0-2.5h0m0 1h0m0-.5h0m.5 1h0m.5 .5h0m0 1h0m0-.5h0m0-2.5h0m.5 4.5h0m0-4.5h0m0 1.5h0m.5 1.5h0m0 .5h0m.5 0h0m0-4.5h0m0 3.5h0m.5-2h0m.5 2.5h0m.5-2.5h0m0 2.5h0m0-.5h0m.5 1h0m.5-2.5h0m0-.5h0m0 2.5h0m.5-3.5h0m0 .5h0m.5 0h0m0 1h0m0-.5h0m0 1.5h0m0 2.5h0m.5-.5h0m0-2.5h0m0 1h0m.5 2h0m0-3.5h0m0 1h0m0 1.5h0m.5-4.5h0m0 2h0m.5-.5h0m0 1.5h0m0 .5h0m0 1.5h0m0 .5h0m.5 0h0m0-.5h0m1-1h0m0-4h0m1 4h0m0-.5h0m.5 .5h0m.5-3.5h0m0 .5h0m0 1h0m1.5 0h0m0 1.5h0m0-3h0m0 4.5h0m.5 0h0m0-3h0m.5-1h0m0 1.5h0m.5-1h0m0-.5h0m0 1h0m0 2.5h0m0 1h0m1-3h0m0-2.5h0m.5 3h0m0 1.5h0m.5-2h0m0-2h0m1 2h0m0 1.5h0m.5-.5h0m0 1.5h0m1.5 0h0m0-2h0m.5 1.5h0m.5 .5h0m0-2.5h0m2.5 1h0m1 1h0m.5 1h0m.5-1.5h0m2 1h0m0 .5h0m1-1.5h0m.5 1.5h0m2.5 0h0m2-1h0m3-.5h0m-48 2h0m2.5 2h0m1-1h0m1-.5h0m0-.5h0m1.5 1.5h0m.5-1h0m0-.5h0m0 1.5h0m.5-1h0m0-.5h0m.5 .5h0m0 1h0m0-.5h0m0 3h0m.5-4h0m.5 3h0m0 1.5h0m.5-2.5h0m.5-1.5h0m0 .5h0m.5 .5h0m.5-1.5h0m0 2.5h0m0 1.5h0m.5-2h0m0 1h0m0 1.5h0m0-4h0m.5 1.5h0m0 1.5h0m0 1.5h0m0-5h0m.5 1.5h0m0-.5h0m0 1h0m.5 2.5h0m0-4h0m.5 .5h0m0 .5h0m.5-1.5h0m.5 4h0m0 .5h0m0-3h0m.5 0h0m.5 2.5h0m0 1.5h0m0-5h0m.5 4.5h0m0-3.5h0m0 4h0m.5-.5h0m0-3.5h0m0-.5h0m0 1.5h0m.5 1h0m0-.5h0m.5 2h0m0-2h0m0 .5h0m.5-3h0m0 4h0m.5-2h0m0 1h0m0-3h0m.5 1.5h0m.5 3.5h0m0-5h0m0 3h0m0 1.5h0m.5-5h0m.5 4.5h0m.5-2h0m0 3h0m.5-3.5h0m0-1h0m.5 0h0m0 3h0m.5-.5h0m0 1h0m.5-2h0m0 1h0m.5 0h0m0 1.5h0m0-3.5h0m0 1.5h0m0 1h0m.5-1h0m.5-1.5h0m0 1.5h0m.5-2h0m.5-1h0m0 5.5h0m.5-3.5h0m0 .5h0m.5-1h0m0 1.5h0m0 1h0m.5-2h0m0 .5h0m.5 3h0m0-1.5h0m.5-2.5h0m0 2h0m0 2h0m.5-2h0m0 1.5h0m.5-2h0m0-2.5h0m.5 3.5h0m.5-.5h0m.5-1.5h0m.5 .5h0m0 1h0m0-3h0m.5 4.5h0m0 .5h0m0-3h0m.5 1.5h0m0 1h0m0-.5h0m.5-1.5h0m0-1.5h0m0 .5h0m.5-2h0m.5 3.5h0m0-1.5h0m0 1h0m.5-2.5h0m0 1h0m0-.5h0m.5 1.5h0m0 1.5h0m.5-1h0m0 1h0m0 .5h0m0 1h0m.5-2h0m.5-2.5h0m0 1h0m0 1.5h0m.5-.5h0m0 .5h0m0-3h0m.5 3.5h0m.5-.5h0m0-1h0m.5-2h0m0-.5h0m.5 4h0m0 1.5h0m0-4h0m0-.5h0m.5 3.5h0m0 1h0m.5-5.5h0m.5 .5h0m0 .5h0m0 1h0m.5 3h0m0-3.5h0m.5 4h0m0-2.5h0m.5 1h0m0-3.5h0m.5 2.5h0m0 2.5h0m0-4.5h0m.5 4.5h0m0-5h0m.5 1h0m.5-.5h0m0 2h0m0 .5h0m0 1h0m1-1h0m1 1h0m0-2h0m0 1.5h0m.5-2h0m.5 1.5h0m0 2h0m.5-3h0m0 1h0m.5 .5h0m0 1h0m0-.5h0m0 1h0m0-5h0m.5 4.5h0m0-4h0m.5 4.5h0m0-3h0m.5 2h0m0 1h0m.5-5h0m0 2.5h0m.5 2.5h0m1-3.5h0m.5 1.5h0m.5-1h0m.5 2.5h0m1.5 0h0m.5-2.5h0m0 1h0m0 1h0m0 1h0m.5-1h0m.5 .5h0m0-.5h0m0-2h0m1 1h0m.5 1.5h0m0-.5h0m1-.5h0m.5-1h0m0 2h0m1-.5h0m0-1.5h0m.5 1.5h0m1 .5h0m1-1.5h0m0 1.5h0m.5-1h0m0 1.5h0m.5-.5h0m1-.5h0m.5 0h0m.5 1h0m1-.5h0m1 .5h0m.5-1h0m.5 0h0m1.5 .5h0m.5 0h0m.5-.5h0m1 0h0m.5 1h0m2.5 0h0m2.5-.5h0m3 .5h0m5 0h0m-70.5 2h0m1.5 0h0m.5 1.5h0m1 0h0m.5-1.5h0m.5-1.5h0m0 1.5h0m.5-.5h0m.5-1h0m.5 3.5h0m.5 0h0m.5 0h0m.5-2.5h0m.5 0h0m2 2h0m0 2.5h0m0-4.5h0m0 1h0m.5 .5h0m.5 1.5h0m0-2.5h0m.5 1h0m0 1h0m.5-2.5h0m0 2h0m.5 .5h0m0 2h0m0-4h0m1 4h0m.5-3h0m0 2.5h0m0-5h0m0 1.5h0m.5 4h0m0-5h0m.5 .5h0m.5 0h0m0-.5h0m0 1h0m.5 1h0m0 2.5h0m.5-2.5h0m.5-.5h0m0 1.5h0m0-2h0m.5-1.5h0m0 1h0m.5-.5h0m0-.5h0m.5 4h0m0-2.5h0m0-.5h0m0 1.5h0m.5-2h0m.5-.5h0m0 5.5h0m.5-1h0m0 1h0m0-4.5h0m0 3h0m.5 .5h0m0-2.5h0m0 1.5h0m.5 2h0m0-5h0m.5 2h0m0 .5h0m.5-1h0m0 1.5h0m0 .5h0m.5-2.5h0m0-.5h0m0 2h0m0 1h0m0 1h0m.5-2h0m0 .5h0m.5-1h0m0-.5h0m0 3.5h0m0-4h0m.5-.5h0m0 3h0m0-4h0m0 .5h0m.5 2h0m0-2h0m0-.5h0m.5 3h0m0 .5h0m0 2h0m0-5.5h0m1 4.5h0m0 1h0m0-5h0m0 1.5h0m.5 2h0m0 1.5h0m0-5h0m0 .5h0m.5 .5h0m.5-.5h0m.5 4h0m0-4h0m0 1.5h0m.5 1.5h0m.5-.5h0m0-3h0m0 .5h0m.5-1h0m.5 1h0m0 3h0m.5-3h0m0 1.5h0m0 1.5h0m0 .5h0m0 1h0m.5-3.5h0m0 1.5h0m0 1.5h0m.5-2h0m0 1.5h0m0-.5h0m.5-.5h0m0-3h0m.5 2h0m0 2.5h0m0-.5h0m0 1h0m.5-.5h0m.5-3h0m0 1.5h0m0 1.5h0m0-3.5h0m.5 2.5h0m0-2h0m.5 2h0m0 1.5h0m0-3.5h0m.5-.5h0m.5 3.5h0m0-3.5h0m.5 3.5h0m0-5h0m0 1h0m0 1h0m.5 3.5h0m0-3.5h0m0 1.5h0m.5-2.5h0m.5 .5h0m0-.5h0m0 3h0m0-.5h0m0 1h0m0-4.5h0m.5 1h0m.5 0h0m1 .5h0m0-.5h0m0 1h0m.5-1h0m0 2.5h0m0 .5h0m0-4h0m0 4.5h0m0 1h0m.5-4.5h0m0 2.5h0m0 .5h0m.5-1h0m0-3h0m.5 3h0m0 1.5h0m0-3.5h0m0 1h0m.5 .5h0m0-.5h0m0 1.5h0m0 2h0m.5-1.5h0m0 .5h0m.5-2.5h0m0 1.5h0m0 .5h0m0 .5h0m0 1h0m0-5h0m.5 3.5h0m0-.5h0m0 1.5h0m.5-.5h0m.5-4h0m0 1h0m.5 2.5h0m.5 .5h0m0 1h0m0-3.5h0m0 1h0m0 1h0m.5-2.5h0m0 .5h0m0 2h0m.5-1.5h0m0 .5h0m.5 .5h0m0-3h0m.5 1h0m0 1h0m.5-2h0m.5 3.5h0m0 1h0m0-5h0m.5 2.5h0m0 2.5h0m0 .5h0m.5-2.5h0m0-1h0m.5 3h0m0-5h0m0 4.5h0m0-3h0m0 1h0m.5-2h0m0 1.5h0m.5-1h0m0 1h0m.5 2.5h0m0-4h0m.5 1h0m0-.5h0m.5-1h0m.5 0h0m0 1h0m0 1.5h0m0 1h0m0 1.5h0m.5-.5h0m0-3.5h0m0-.5h0m.5 4.5h0m0-2h0m.5-2.5h0m0 1.5h0m0 1.5h0m.5 2h0m0-4h0m0 1.5h0m.5 .5h0m.5-2h0m0 3h0m.5-1h0m0 1.5h0m.5-3.5h0m0 1h0m0 1.5h0m0-3h0m0-.5h0m.5 1h0m0 1h0m0-.5h0m0 1.5h0m0-3.5h0m.5 3.5h0m0-.5h0m0-3h0m0 4.5h0m0 1h0m0-5h0m.5 2h0m0-.5h0m0 1.5h0m0-.5h0m0 1.5h0m.5 0h0m0-.5h0m0-2.5h0m0 1h0m0-.5h0m.5 0h0m0 1.5h0m0-.5h0m0 1.5h0m0 1h0m.5-3.5h0m.5 3h0m0-2.5h0m0 1.5h0m.5-.5h0m0-.5h0m0-2h0m0 .5h0m.5 2h0m0 .5h0m.5-4h0m0 2h0m0 1h0m.5-2h0m0 1h0m0 1.5h0m0-.5h0m0 2h0m0-.5h0m0 1h0m1-2.5h0m.5-.5h0m0-.5h0m0 1h0m.5 2.5h0m0-1h0m.5-3h0m0 1h0m0 2h0m0-4h0m.5 3h0m0-.5h0m0 1.5h0m0-.5h0m0-4h0m.5 4h0m0-3.5h0m0 2h0m.5 1.5h0m.5 .5h0m0 1h0m.5 0h0m.5 0h0m0-3.5h0m.5 2.5h0m0-3.5h0m0 2.5h0m.5-.5h0m0-2.5h0m1 5h0m0-5h0m0 3h0m0 .5h0m.5-2h0m0 1.5h0m0-.5h0m.5 2.5h0m.5-.5h0m.5-3h0m.5 1.5h0m0-2.5h0m.5 .5h0m.5 2h0m.5 0h0m.5 0h0m0-2h0m1-.5h0m1 2.5h0m0-.5h0m0 1h0m0-4h0m0 1h0m0 1h0m0-.5h0m.5 .5h0m0 1h0m.5-2h0m0 .5h0m.5-.5h0m0 .5h0m.5-1h0m0 2h0m.5 2h0m0-3.5h0m.5 0h0m0 3h0m.5-3h0m0 1.5h0m0 1h0m0 1h0m.5-4h0m0 1.5h0m0-.5h0m0-.5h0m.5 2h0m.5 .5h0m.5-1.5h0m0-2h0m.5 3.5h0m1-.5h0m0-3h0m.5 1h0m.5 1.5h0m0 1h0m0-.5h0m0-2h0m.5 0h0m.5-.5h0m0 2h0m0-.5h0m.5 .5h0m0-1h0m-73.5 5h0m4.5-.5h0m1.5 0h0m2 .5h0m1.5 1h0m2.5-1h0m.5 1h0m.5-.5h0m.5-1h0m1 .5h0m.5 1.5h0m0-1.5h0m.5 0h0m.5 .5h0m.5-.5h0m.5 1.5h0m.5-.5h0m.5-1.5h0m0 2h0m.5 .5h0m.5-2.5h0m.5 1h0m0-.5h0m1.5 1.5h0m0-2h0m.5 0h0m0 .5h0m.5 2h0m.5 0h0m0-2h0m.5 2.5h0m.5-2.5h0m.5 1h0m0-.5h0m.5 .5h0m0 1h0m.5-1.5h0m.5-1h0m0 1.5h0m.5-1.5h0m0 1h0m.5 2.5h0m0 .5h0m.5-2h0m.5-1h0m0-.5h0m.5 .5h0m.5 0h0m0 .5h0m0 1.5h0m1-3h0m1 2h0m0-2h0m0 .5h0m.5 0h0m0 1h0m.5 0h0m0 1h0m.5 .5h0m.5-2h0m1 2h0m1-1.5h0m0-.5h0m.5 1h0m.5-1h0m1.5 1h0m0-2h0m0 1h0m1 .5h0m1-.5h0m.5 0h0m0 1h0m.5-2h0m0 1.5h0m1-1.5h0m0 1.5h0m.5-.5h0m.5 0h0m0-.5h0m.5 .5h0m.5 .5h0m.5 0h0m.5 .5h0m.5-2h0m1 3h0m.5-3h0m.5 0h0m.5 0h0m1 0h0m.5 0h0m2 0h0m0 1h0m.5 .5h0m.5-1h0m0 1h0m1-1h0m.5 1.5h0m3-1h0m.5 0h0m1.5-.5h0" stroke="#a0cfe0" stroke-width="2.1" stroke-linecap="round" fill="none"/>
<path d="M418.5 1665.5h0m.5 1h0m.5 .5h0m.5-1.5h0m0 1h0m1 1h0m0-1.5h0m-.5 2h0m1 1.5h0m.5 0h0m.5-1h0m0 .5h0m.5 1.5h0m.5 1.5h0m0-1.5h0m.5-1h0m0 1h0m0-1.5h0m0 1h0m.5 2h0m0-.5h0m1.5 1h0m2.5 1h0m-2.5 .5h0m.5 .5h0m.5 1.5h0m0-.5h0m0-1.5h0m.5 1h0m0 1h0m.5 1.5h0m0-1h0m.5 1.5h0m0-2.5h0m.5 .5h0m0 1h0m0-1.5h0m0-.5h0m.5 0h0m0 4h0m.5-3.5h0m.5 2.5h0m0 1h0m.5-1h0m.5 1.5h0m0-.5h0m-2 1.5h0m1 .5h0m.5 1.5h0m0 1.5h0m0-2.5h0m.5-.5h0m0 .5h0m0 2h0m0-3.5h0m.5 1h0m0 1h0m.5 3.5h0m0-3.5h0m0-.5h0m.5 1.5h0m.5-1h0m0 1h0m0 1h0m0-.5h0m0 2h0m.5-1.5h0m1 1.5h0m-3 .5h0m.5 .5h0m.5 1.5h0m0-.5h0m0-1.5h0m.5 1h0m0 1h0m.5-1h0m0 1h0m.5-.5h0m0 1h0m0 .5h0m.5 2h0m0-2.5h0m1 3h0m0-2h0m.5 2h0m0-1.5h0m1.5 1h0m0-.5h0m.5 1h0m-3.5 2h0m.5-.5h0m.5-.5h0m0 .5h0m.5 0h0m0-.5h0m0 2h0m.5-2h0m0 3h0m0-3.5h0m0 2h0m.5 2.5h0m0 1h0m.5-5h0m0 4.5h0m0-3.5h0m0 1h0m0-1.5h0m.5 4.5h0m0-2.5h0m.5-3h0m.5 3h0m.5-1.5h0m-3 6h0m.5 1h0m.5-1.5h0m0 3.5h0m0-2.5h0m0 1h0m0-2.5h0m.5 1.5h0m.5 3.5h0m0-5h0m0 4h0m.5-1.5h0m0-.5h0m0 1h0m0 1h0m.5 0h0m0-.5h0m0 1h0m.5-4.5h0m0 .5h0m1.5 3.5h0m0 1h0m-2.5 2h0m0-.5h0m0 2h0m1-1.5h0m0 .5h0m0 2h0m.5 0h0m0-3.5h0m0-.5h0m.5 0h0m0 1.5h0m0 1h0m.5 1.5h0m0-3.5h0m0 4.5h0m.5-4h0m0 4h0m.5-3h0m.5 3h0m.5 .5h0m-2.5 1h0m.5-.5h0m0 3h0m.5-2h0m0-.5h0m0 3h0m0-3.5h0m.5 2.5h0m0 2h0m0-1.5h0m.5 2.5h0m.5-5h0m0 1h0m0 4h0m.5-1.5h0m0-1.5h0m0 1h0m0 1h0m.5-3h0m0 3h0m0-3.5h0m0 4.5h0m0-2.5h0m0 1h0m.5 0h0m0-3h0m.5 2h0m.5 2.5h0m1-1h0m-4.5 1.5h0m1.5 1h0m0 2h0m.5-3h0m0 1h0m.5 .5h0m0-1.5h0m0 5.5h0m0-5h0m.5 1.5h0m0 2h0m0-3.5h0m0 1h0m0 1h0m0-2.5h0m0 1h0m.5 .5h0m0 3h0m.5 0h0m0-1.5h0m.5-1.5h0m0-1.5h0m0 4.5h0m0 1h0m0-2.5h0m.5 2.5h0m0-3h0m.5-1h0m.5 2.5h0m0-.5h0m1 2h0m.5-.5h0m-4.5 1h0m.5 1h0m0-.5h0m.5 .5h0m0 3h0m.5-3.5h0m0 4.5h0m.5-1h0m0-3h0m.5 2.5h0m0-1.5h0m.5 3h0m0-5h0m.5 2h0m0 1h0m0-1.5h0m.5 2h0m0 .5h0m.5-4h0m0 4.5h0m0-3.5h0m0 4.5h0m0-5h0m0 2h0m.5 1h0m0 1h0m0 1h0m0-3.5h0m-4 4h0m.5 0h0m1 .5h0m0 1h0m0 2h0m0-3.5h0m0 5.5h0m.5-1.5h0m0-3h0m.5-.5h0m0 2h0m0-1.5h0m0 1h0m.5-.5h0m0 4h0m.5-2.5h0m.5 .5h0m0 1.5h0m.5-.5h0m0 1h0m0-2.5h0m.5 2h0m0-3.5h0m-4 5.5h0m.5-.5h0m0 4h0m0-3.5h0m.5 2.5h0m0-2.5h0m0 1h0m.5-.5h0m0-.5h0m0 2h0m.5-2h0m0 2h0m0-1.5h0m0 3.5h0m.5-3h0m.5 0h0m0 2h0m.5-4h0m0 2.5h0m.5-.5h0m0 1h0m0-3h0m0 1h0" stroke="#c8a8e0" stroke-width="2.1" stroke-linecap="round" fill="none"/>
<path d="M366.5 1607h0m1.5 0h0m-19 3h0m.5-1h0m.5 .5h0m0 1h0m.5 .5h0m0-1h0m.5 .5h0m0-.5h0m0 1h0m.5 0h0m0 .5h0m0-1.5h0m.5 2.5h0m.5 0h0m1-1.5h0m0 1h0m0 1h0m.5 .5h0m0-1h0m1 0h0m0-1h0m0 1.5h0m.5 0h0m0 .5h0m.5-1h0m0-1h0m.5 .5h0m0-1h0m1 .5h0m0 1h0m1-1h0m0-.5h0m.5-1h0m0 1h0m.5-1h0m.5 0h0m0 .5h0m.5 .5h0m.5-1.5h0m.5 .5h0m1-.5h0m0 .5h0m.5-1.5h0m1 .5h0m0-.5h0m0 1h0m1-.5h0m.5-1h0m.5 0h0m-11.5 6h0" stroke="#70a080" stroke-width="2.1" stroke-linecap="round" fill="none"/>
<path d="M416 1786.5h0m.5 1h0m1 0h0m.5 0h0m0-.5h0m1-.5h0m1.5-.5h0m1 .5h0m0 .5h0m.5 .5h0m0-1.5h0m0 1h0m.5 .5h0m.5-.5h0m0-.5h0m0 1h0m.5-1h0m.5-1h0m0 1h0m.5 0h0m.5-1h0m0 1h0m0-1.5h0m.5 1h0m.5 1h0m0 .5h0m0-1.5h0m.5-1h0m.5 1.5h0m0-.5h0m0 1h0m.5-.5h0m.5-1h0m0 2h0m.5-2h0m.5-.5h0m.5 0h0m0-.5h0m0 1h0m.5 1h0m0 .5h0m.5 0h0m.5-2.5h0m.5 .5h0m-20.5 5h0m.5-1h0m1.5 .5h0m.5-1h0m0 1h0m.5 .5h0m0-1.5h0m0 1h0m.5 0h0m.5 .5h0m0-1.5h0m0 2h0m.5-1h0m0-.5h0m0 1h0m.5-1.5h0m.5 .5h0m0 1h0m0-.5h0m.5-.5h0m0 .5h0m.5 0h0m0-1.5h0m0 1h0m.5-1h0m.5 .5h0m0 1h0m1-1.5h0m0 1h0m.5-1h0m1 1.5h0m1.5-.5h0m.5-1h0m.5 0h0m1.5 0h0m.5 0h0" stroke="#8a9a60" stroke-width="2.1" stroke-linecap="round" fill="none"/>
<path d="M390.5 1796h0m.5-1h0m0 1.5h0m2-.5h0m.5 1h0m0 1h0m0 1h0m.5-3h0m0 1h0m0 1h0m0-2.5h0m0 3h0m.5-.5h0m.5 1h0m.5-3h0m0 1h0m.5 1h0m0 1h0m0-.5h0m.5 1h0m0-1.5h0m0 1h0m2 0h0m1 .5h0m.5 0h0m10-.5h0m.5-.5h0m0 1h0m.5 0h0m0-1.5h0m.5 1h0m.5 0h0m-16 1.5h0m2.5 2.5h0m0-1.5h0m0-1.5h0m.5 1.5h0m0-1.5h0m0 2h0m.5 0h0m0 1h0m0-1.5h0m.5 1h0m0 1h0m1 1h0m0-3.5h0m0 1h0m0-.5h0m.5-1h0m0 3h0m0-1.5h0m.5 1.5h0m0-3.5h0m0 3h0m0 1h0m.5-1h0m0-2h0m0 1h0m.5 0h0m0-1.5h0m.5 1h0m0 3.5h0m.5 .5h0m0-3h0m0-1.5h0m.5 .5h0m0 3h0m0-2.5h0m.5 3h0m0-1.5h0m.5-1h0m0 2h0m0-2.5h0m0 2h0m.5-1h0m0 1h0m0-1.5h0m0 2h0m.5-3h0m0 3h0m.5 1h0m0-1.5h0m.5 .5h0m0-2.5h0m0 1h0m0 1h0m0-2.5h0m0 1h0m.5 .5h0m.5-2h0m0 3.5h0m0 1h0m0-4h0m.5 2.5h0m0-3.5h0m0 1h0m0 2h0m0-2.5h0m.5 4.5h0m0-3.5h0m0 2h0m.5 1h0m0-3.5h0m0-1.5h0m.5 1h0m0 4.5h0m0-3.5h0m0 .5h0m0-2.5h0m.5 1.5h0m0-1.5h0m0 1h0m.5-.5h0m.5 0h0m0 1h0m0-1.5h0m.5 1h0m-9 5h0m1 1h0m.5-.5h0m1-.5h0m.5 0h0m0 1.5h0m1-1.5h0m.5 1h0m1-.5h0" stroke="#d0b020" stroke-width="2.1" stroke-linecap="round" fill="none"/>
<path d="M273 1904.5h0m.5-.5h0m0 1h0m.5-.5h0m9 4.5h0m.5 1h0m1 1.5h0m0-1h0m.5 0h0m.5-.5h0m.5 2h0m1 0h0m0-1.5h0m.5 2.5h0m.5-1h0m.5 1.5h0m0-1.5h0m0-.5h0m0 1h0m.5 .5h0m0 .5h0m-10 3h0m0 1.5h0m.5-1.5h0m.5 1h0m0-.5h0m.5-.5h0m1.5 0h0m1 0h0m0-.5h0m.5 0h0m0-.5h0m0-.5h0m.5 1.5h0m0-2h0m3-.5h0m.5 1h0m0-.5h0m0-.5h0m.5 .5h0" stroke="#b01020" stroke-width="2.1" stroke-linecap="round" fill="none"/>
<line x1="123.2" y1="1586.5" x2="123.2" y2="1931.1" stroke="#111" stroke-width="1.7"/>
<line x1="122.4" y1="1930.3" x2="473.9" y2="1930.3" stroke="#111" stroke-width="1.7"/>
<line x1="118.2" y1="1644.7" x2="123.2" y2="1644.7" stroke="#111" stroke-width="1.7"/>
<text x="117.2" y="1651.3" font-size="21.5" text-anchor="end">10</text>
<line x1="118.2" y1="1743.5" x2="123.2" y2="1743.5" stroke="#111" stroke-width="1.7"/>
<text x="117.2" y="1750.1" font-size="21.5" text-anchor="end">0</text>
<line x1="118.2" y1="1841.9" x2="123.2" y2="1841.9" stroke="#111" stroke-width="1.7"/>
<text x="117.2" y="1848.5" font-size="21.5" text-anchor="end">−10</text>
<line x1="163.7" y1="1930.3" x2="163.7" y2="1935.3" stroke="#111" stroke-width="1.7"/>
<text x="157.4" y="1952" font-size="21.5" text-anchor="middle">−10</text>
<line x1="278.6" y1="1930.3" x2="278.6" y2="1935.3" stroke="#111" stroke-width="1.7"/>
<text x="278.6" y="1952" font-size="21.5" text-anchor="middle">0</text>
<line x1="401.2" y1="1930.3" x2="401.2" y2="1935.3" stroke="#111" stroke-width="1.7"/>
<text x="401.2" y="1952" font-size="21.5" text-anchor="middle">10</text>
<text font-size="21.3" text-anchor="middle" transform="translate(84.3 1757.8) rotate(-90)">UMAP_2</text>
<text x="260.4" y="1975.6" font-size="20.27">UMAP_1</text>
<text x="372.5" y="1616.4" font-size="19.9">Megakaryocyte</text>
<text x="264.4" y="1636.4" font-size="19.9">DC</text>
<text x="322.6" y="1644.7" font-size="19.9">HSPC</text>
<text x="182.2" y="1673" font-size="19.9">Pro B</text>
<text x="324.9" y="1699.6" font-size="19.9">Macrophage</text>
<text x="445.6" y="1702.9" font-size="19.9">Erythroid</text>
<text x="170.3" y="1743.5" font-size="19.9">B</text>
<text x="252.7" y="1749.5" font-size="19.9">Myeloid prog</text>
<text x="440.6" y="1793.7" font-size="19.9">T</text>
<text x="270" y="1825.9" font-size="19.9">Neutrophil</text>
<text x="393.4" y="1829.3" font-size="19.9">NK</text>
<text x="298.6" y="1908.4" font-size="19.9">Mesenchymal</text>
<line x1="636.7" y1="1672.4" x2="636.7" y2="1902.1" stroke="#1a1a1a" stroke-width="1.5"/>
<line x1="636" y1="1901.4" x2="1038.6" y2="1901.4" stroke="#1a1a1a" stroke-width="1.5"/>
<line x1="630.7" y1="1891.2" x2="636.7" y2="1891.2" stroke="#222" stroke-width="1.5"/>
<text x="624.7" y="1898.9" font-size="22" text-anchor="end">0.0</text>
<line x1="630.7" y1="1840.6" x2="636.7" y2="1840.6" stroke="#222" stroke-width="1.5"/>
<text x="624.7" y="1848.3" font-size="22" text-anchor="end">0.5</text>
<line x1="630.7" y1="1790" x2="636.7" y2="1790" stroke="#222" stroke-width="1.5"/>
<text x="624.7" y="1797.7" font-size="22" text-anchor="end">1.0</text>
<line x1="630.7" y1="1739.3" x2="636.7" y2="1739.3" stroke="#222" stroke-width="1.5"/>
<text x="624.7" y="1747" font-size="22" text-anchor="end">1.5</text>
<line x1="630.7" y1="1688.7" x2="636.7" y2="1688.7" stroke="#222" stroke-width="1.5"/>
<text x="624.7" y="1696.4" font-size="22" text-anchor="end">2.0</text>
<line x1="656.5" y1="1901.4" x2="656.5" y2="1906.9" stroke="#222" stroke-width="1.3"/>
<line x1="689.4" y1="1901.4" x2="689.4" y2="1906.9" stroke="#222" stroke-width="1.3"/>
<line x1="722.4" y1="1901.4" x2="722.4" y2="1906.9" stroke="#222" stroke-width="1.3"/>
<line x1="755.3" y1="1901.4" x2="755.3" y2="1906.9" stroke="#222" stroke-width="1.3"/>
<line x1="788.2" y1="1901.4" x2="788.2" y2="1906.9" stroke="#222" stroke-width="1.3"/>
<line x1="821.1" y1="1901.4" x2="821.1" y2="1906.9" stroke="#222" stroke-width="1.3"/>
<line x1="854.1" y1="1901.4" x2="854.1" y2="1906.9" stroke="#222" stroke-width="1.3"/>
<line x1="887" y1="1901.4" x2="887" y2="1906.9" stroke="#222" stroke-width="1.3"/>
<line x1="919.9" y1="1901.4" x2="919.9" y2="1906.9" stroke="#222" stroke-width="1.3"/>
<line x1="952.9" y1="1901.4" x2="952.9" y2="1906.9" stroke="#222" stroke-width="1.3"/>
<line x1="985.8" y1="1901.4" x2="985.8" y2="1906.9" stroke="#222" stroke-width="1.3"/>
<line x1="1018.7" y1="1901.4" x2="1018.7" y2="1906.9" stroke="#222" stroke-width="1.3"/>
<line x1="642.5" y1="1891.2" x2="670.5" y2="1891.2" stroke="#222" stroke-width="1.2"/>
<line x1="656.5" y1="1700.7" x2="656.5" y2="1891.2" stroke="#222" stroke-width="1.4"/>
<line x1="675.4" y1="1891.2" x2="703.4" y2="1891.2" stroke="#222" stroke-width="1.2"/>
<line x1="689.4" y1="1810.1" x2="689.4" y2="1891.2" stroke="#222" stroke-width="1.4"/>
<line x1="708.4" y1="1891.2" x2="736.4" y2="1891.2" stroke="#222" stroke-width="1.2"/>
<line x1="722.4" y1="1820.1" x2="722.4" y2="1891.2" stroke="#222" stroke-width="1.4"/>
<line x1="741.3" y1="1891.2" x2="769.3" y2="1891.2" stroke="#222" stroke-width="1.2"/>
<line x1="755.3" y1="1842" x2="755.3" y2="1891.2" stroke="#222" stroke-width="1.4"/>
<line x1="774.2" y1="1891.2" x2="802.2" y2="1891.2" stroke="#222" stroke-width="1.2"/>
<line x1="788.2" y1="1791.2" x2="788.2" y2="1891.2" stroke="#222" stroke-width="1.4"/>
<line x1="807.1" y1="1891.2" x2="835.1" y2="1891.2" stroke="#222" stroke-width="1.2"/>
<line x1="840.1" y1="1891.2" x2="868.1" y2="1891.2" stroke="#222" stroke-width="1.2"/>
<line x1="854.1" y1="1795.2" x2="854.1" y2="1891.2" stroke="#222" stroke-width="1.4"/>
<line x1="873" y1="1891.2" x2="901" y2="1891.2" stroke="#222" stroke-width="1.2"/>
<line x1="887" y1="1765.2" x2="887" y2="1891.2" stroke="#222" stroke-width="1.4"/>
<line x1="905.9" y1="1891.2" x2="933.9" y2="1891.2" stroke="#222" stroke-width="1.2"/>
<line x1="938.9" y1="1891.2" x2="966.9" y2="1891.2" stroke="#222" stroke-width="1.2"/>
<line x1="971.8" y1="1891.2" x2="999.8" y2="1891.2" stroke="#222" stroke-width="1.2"/>
<path d="M1017.3 1683.1C1017.1 1685.9 1016.7 1692.2 1016.1 1700C1015.5 1707.8 1014.2 1720.7 1013.7 1730C1013.2 1739.3 1013 1746.8 1013.1 1756C1013.3 1765.2 1014.1 1775.7 1014.5 1785C1015 1794.3 1015.7 1803.2 1015.9 1812C1016.1 1820.8 1016.3 1830 1015.7 1838C1015.1 1846 1013.8 1853.3 1012.2 1860C1010.6 1866.7 1007.6 1873.3 1006.2 1878C1004.8 1882.7 1004.4 1885.8 1003.9 1888C1003.5 1890.2 1003.6 1890.7 1003.5 1891.2L1033.9 1891.2C1033.9 1890.7 1034 1890.2 1033.5 1888C1033.1 1885.8 1032.6 1882.7 1031.2 1878C1029.8 1873.3 1026.8 1866.7 1025.2 1860C1023.6 1853.3 1022.3 1846 1021.7 1838C1021.1 1830 1021.3 1820.8 1021.5 1812C1021.7 1803.2 1022.5 1794.3 1022.9 1785C1023.4 1775.7 1024.2 1765.2 1024.3 1756C1024.5 1746.8 1024.2 1739.3 1023.7 1730C1023.2 1720.7 1021.9 1707.8 1021.3 1700C1020.7 1692.2 1020.3 1685.9 1020.1 1683.1Z" fill="#a52030" stroke="#161616" stroke-width="1.4" stroke-linejoin="round"/>
<text font-size="19.12" text-anchor="middle" font-weight="bold" transform="translate(579.9 1772.3) rotate(-90)">Expression Level</text>
<text x="782" y="1688.7" font-size="23.2" font-weight="bold" font-style="italic">Snhg18</text>
<text font-size="20" text-anchor="end" transform="translate(657.4 1934.6) rotate(-45)">B</text>
<text font-size="20" text-anchor="end" transform="translate(694.8 1928.1) rotate(-45)">Neutrophil</text>
<text font-size="20" text-anchor="end" transform="translate(730.3 1924.3) rotate(-45)">Macrophage</text>
<text font-size="20" text-anchor="end" transform="translate(763.3 1924.3) rotate(-45)">Myeloid prog</text>
<text font-size="20" text-anchor="end" transform="translate(797.2 1929.2) rotate(-45)">Pro B</text>
<text font-size="20" text-anchor="end" transform="translate(832.7 1932.4) rotate(-45)">HSPC</text>
<text font-size="20" text-anchor="end" transform="translate(862.8 1932.4) rotate(-45)">DC</text>
<text font-size="20" text-anchor="end" transform="translate(901 1929.2) rotate(-45)">Erythroid</text>
<text font-size="20" text-anchor="end" transform="translate(927 1932.4) rotate(-45)">NK</text>
<text font-size="20" text-anchor="end" transform="translate(949.1 1937.9) rotate(-45)">T</text>
<text font-size="20" text-anchor="end" transform="translate(993.9 1918.8) rotate(-45)">Megakaryocyte</text>
<text font-size="20" text-anchor="end" transform="translate(1037.6 1921) rotate(-45)">Mesenchymal</text>
<line x1="1147.4" y1="1643.8" x2="1147.4" y2="1900.2" stroke="#111" stroke-width="1.6"/>
<line x1="1146.6" y1="1899.4" x2="1336.5" y2="1899.4" stroke="#111" stroke-width="1.6"/>
<line x1="1142.4" y1="1888.2" x2="1147.4" y2="1888.2" stroke="#111" stroke-width="1.5"/>
<text x="1137.3" y="1895.1" font-size="19.1" text-anchor="end">0.0</text>
<line x1="1142.4" y1="1831.7" x2="1147.4" y2="1831.7" stroke="#111" stroke-width="1.5"/>
<text x="1137.3" y="1838.6" font-size="19.1" text-anchor="end">0.5</text>
<line x1="1142.4" y1="1775.2" x2="1147.4" y2="1775.2" stroke="#111" stroke-width="1.5"/>
<text x="1137.3" y="1782.1" font-size="19.1" text-anchor="end">1.0</text>
<line x1="1142.4" y1="1718.7" x2="1147.4" y2="1718.7" stroke="#111" stroke-width="1.5"/>
<text x="1137.3" y="1725.6" font-size="19.1" text-anchor="end">1.5</text>
<line x1="1142.4" y1="1662.2" x2="1147.4" y2="1662.2" stroke="#111" stroke-width="1.5"/>
<text x="1137.3" y="1669.1" font-size="19.1" text-anchor="end">2.0</text>
<line x1="1174.1" y1="1899.4" x2="1174.1" y2="1904.4" stroke="#222" stroke-width="1.3"/>
<line x1="1219.2" y1="1899.4" x2="1219.2" y2="1904.4" stroke="#222" stroke-width="1.3"/>
<line x1="1264" y1="1899.4" x2="1264" y2="1904.4" stroke="#222" stroke-width="1.3"/>
<line x1="1308.9" y1="1899.4" x2="1308.9" y2="1904.4" stroke="#222" stroke-width="1.3"/>
<path d="M1166.4 1656.3C1166 1658.4 1165.3 1663 1164 1669.1C1162.7 1675.2 1160.1 1684.9 1158.7 1692.8C1157.2 1700.7 1155.9 1709.7 1155.1 1716.6C1154.3 1723.5 1153.9 1728.5 1153.8 1734.4C1153.7 1740.3 1153.7 1745.3 1154.5 1752.2C1155.3 1759.1 1157.2 1768 1158.7 1776C1160.1 1783.9 1162.2 1792.8 1163.4 1799.7C1164.6 1806.6 1165.3 1811.6 1165.6 1817.5C1165.9 1823.5 1165.8 1828.9 1165.2 1835.3C1164.6 1841.8 1163.3 1849.7 1162.2 1856.1C1161.2 1862.6 1159.7 1869.2 1159 1873.9C1158.3 1878.6 1158.2 1882 1158.1 1884.3C1157.9 1886.7 1157.9 1887.6 1157.9 1888.2L1190.3 1888.2C1190.3 1887.6 1190.3 1886.7 1190.1 1884.3C1190 1882 1189.9 1878.6 1189.2 1873.9C1188.5 1869.2 1187 1862.6 1186 1856.1C1184.9 1849.7 1183.6 1841.8 1183 1835.3C1182.4 1828.9 1182.3 1823.5 1182.6 1817.5C1182.9 1811.6 1183.6 1806.6 1184.8 1799.7C1186 1792.8 1188.1 1783.9 1189.5 1776C1191 1768 1192.9 1759.1 1193.7 1752.2C1194.5 1745.3 1194.5 1740.3 1194.4 1734.4C1194.3 1728.5 1193.9 1723.5 1193.1 1716.6C1192.3 1709.7 1191 1700.7 1189.5 1692.8C1188.1 1684.9 1185.5 1675.2 1184.2 1669.1C1182.9 1663 1182.2 1658.4 1181.8 1656.3Z" fill="#233066" stroke="#161616" stroke-width="1.4" stroke-linejoin="round"/>
<path d="M1214.4 1672.9C1214.2 1675.3 1213.7 1680.6 1212.7 1686.9C1211.7 1693.2 1209.6 1702.7 1208.5 1710.6C1207.4 1718.6 1206.6 1728 1206.1 1734.4C1205.6 1740.8 1205.5 1743.3 1205.5 1749.2C1205.6 1755.2 1205.8 1762.6 1206.4 1770C1207 1777.4 1208.4 1785.9 1209.1 1793.8C1209.8 1801.7 1210.8 1810.1 1210.9 1817.5C1210.9 1825 1210.5 1831.4 1209.4 1838.3C1208.3 1845.2 1205.9 1852.7 1204.4 1859.1C1202.8 1865.5 1200.8 1872.5 1199.9 1876.9C1199 1881.4 1199.1 1883.9 1198.9 1885.8C1198.7 1887.7 1198.7 1887.8 1198.7 1888.2L1239.7 1888.2C1239.7 1887.8 1239.7 1887.7 1239.5 1885.8C1239.3 1883.9 1239.4 1881.4 1238.5 1876.9C1237.6 1872.5 1235.6 1865.5 1234 1859.1C1232.5 1852.7 1230.1 1845.2 1229 1838.3C1227.9 1831.4 1227.5 1825 1227.5 1817.5C1227.6 1810.1 1228.6 1801.7 1229.3 1793.8C1230 1785.9 1231.4 1777.4 1232 1770C1232.6 1762.6 1232.8 1755.2 1232.9 1749.2C1232.9 1743.3 1232.8 1740.8 1232.3 1734.4C1231.8 1728 1231 1718.6 1229.9 1710.6C1228.8 1702.7 1226.7 1693.2 1225.7 1686.9C1224.7 1680.6 1224.2 1675.3 1224 1672.9Z" fill="#a9c7e4" stroke="#161616" stroke-width="1.4" stroke-linejoin="round"/>
<line x1="1243.7" y1="1888.2" x2="1284.3" y2="1888.2" stroke="#222" stroke-width="1.2"/>
<path d="M1303 1715.1C1302.9 1718.3 1302.6 1727.2 1302.5 1734.4C1302.4 1741.6 1302.3 1749.2 1302.2 1758.1C1302.1 1767.1 1302.1 1778.9 1302.1 1787.8C1302 1796.7 1302.2 1804.7 1302.1 1811.6C1301.9 1818.5 1301.8 1823.5 1301.2 1829.4C1300.6 1835.3 1299.8 1841.3 1298.5 1847.2C1297.2 1853.2 1294.9 1859.8 1293.5 1865C1292 1870.2 1290.4 1874.9 1289.6 1878.4C1288.8 1881.9 1288.8 1884.2 1288.6 1885.8C1288.4 1887.5 1288.4 1887.8 1288.4 1888.2L1329.4 1888.2C1329.4 1887.8 1329.4 1887.5 1329.2 1885.8C1329 1884.2 1329 1881.9 1328.2 1878.4C1327.4 1874.9 1325.8 1870.2 1324.3 1865C1322.9 1859.8 1320.6 1853.2 1319.3 1847.2C1318 1841.3 1317.2 1835.3 1316.6 1829.4C1316 1823.5 1315.9 1818.5 1315.7 1811.6C1315.6 1804.7 1315.8 1796.7 1315.7 1787.8C1315.7 1778.9 1315.7 1767.1 1315.6 1758.1C1315.5 1749.2 1315.4 1741.6 1315.3 1734.4C1315.2 1727.2 1314.9 1718.3 1314.8 1715.1Z" fill="#fff" stroke="#161616" stroke-width="1.4" stroke-linejoin="round"/>
<text font-size="19.67" text-anchor="middle" font-weight="bold" transform="translate(1100.9 1773.7) rotate(-90)">Expression Level</text>
<text x="1206.9" y="1646.8" font-size="22.84" font-weight="bold" font-style="italic">Snhg18</text>
<text font-size="19.8" text-anchor="end" transform="translate(1187.1 1919.5) rotate(-45)">Osteogenic</text>
<text font-size="19.8" text-anchor="end" transform="translate(1228.1 1924.5) rotate(-45)">MSC</text>
<text font-size="19.8" text-anchor="end" transform="translate(1277.1 1918.3) rotate(-45)">Endothelial</text>
<text font-size="19.8" text-anchor="end" transform="translate(1322.5 1918.3) rotate(-45)">Neurological</text>
<rect x="1358.3" y="1724.9" width="22.6" height="22.4" fill="#233066" stroke="#777" stroke-width="0.9"/>
<text x="1392.7" y="1742.4" font-size="19.9">Osteogenic</text>
<rect x="1358.3" y="1749" width="22.6" height="22.4" fill="#a9c7e4" stroke="#777" stroke-width="0.9"/>
<text x="1392.7" y="1766.2" font-size="19.9">MSC</text>
<rect x="1358.3" y="1773.2" width="22.6" height="22.4" fill="#bdbdbd" stroke="#777" stroke-width="0.9"/>
<text x="1392.7" y="1790.2" font-size="19.9">Endothelial</text>
<rect x="1358.3" y="1797.3" width="22.6" height="22.4" fill="#fff" stroke="#777" stroke-width="0.9"/>
<text x="1392.7" y="1814.6" font-size="19.9">Neurological</text>
</g>
<g id="pj">
<text x="1565.4" y="1560" font-size="46" font-weight="bold">j</text>
<path d="M1645 1563.5C1645.1 1562.3 1648.9 1566.2 1651.4 1568C1653.9 1569.8 1657.1 1572.3 1659.9 1574.4C1662.7 1576.6 1666.5 1578.6 1668.3 1580.8C1670 1583.1 1669.9 1585.1 1670.6 1588.1C1671.3 1591.1 1673.3 1597.8 1672.5 1599C1671.8 1600.2 1668.6 1597.6 1666.3 1595.6C1664.1 1593.6 1661.5 1590.4 1658.9 1587C1656.2 1583.6 1652.6 1579.2 1650.3 1575.3C1648 1571.4 1644.8 1564.7 1645 1563.5Z" fill="#e6e6de" stroke="#bdb9ae" stroke-width="0.8"/>
<path d="M1666.3 1584.9C1666.2 1582.6 1667.9 1581.9 1668.7 1582.8C1669.5 1583.6 1670.5 1587.6 1671.2 1590.2C1671.8 1592.9 1673 1597.5 1672.8 1598.6C1672.5 1599.6 1670.6 1598.9 1669.5 1596.7C1668.5 1594.4 1666.5 1587.2 1666.3 1584.9Z" fill="#b9b5ad"/>
<path d="M1668.3 1580.8C1669.3 1580.6 1672.4 1583.5 1674.9 1584.9C1677.4 1586.2 1680.9 1588.1 1683.4 1589C1685.9 1589.8 1687.9 1590.2 1689.9 1590C1691.8 1589.9 1693.6 1589.3 1695.2 1588.1C1696.8 1586.9 1698.4 1584.3 1699.5 1583C1700.5 1581.7 1699.8 1580.9 1701.4 1580.4C1703 1579.9 1705.7 1580.5 1709.1 1580.2C1712.5 1579.9 1718.7 1579.5 1721.9 1578.5C1725.1 1577.4 1725.8 1576.2 1728.3 1574C1730.8 1571.8 1734.4 1568.1 1736.9 1565.4C1739.4 1562.8 1741.3 1560.1 1743.3 1558.2C1745.3 1556.3 1747 1555 1748.6 1554.1C1750.2 1553.3 1751.6 1553.1 1752.9 1553C1754.3 1553 1756.2 1553.4 1756.8 1553.9C1757.3 1554.4 1756.8 1555.5 1756.1 1556C1755.5 1556.6 1753.8 1556.5 1752.9 1557.1C1752 1557.7 1751 1558.5 1750.8 1559.5C1750.6 1560.4 1751.2 1561.9 1751.9 1563C1752.5 1564.1 1753.1 1565.7 1754.5 1566.2C1755.9 1566.6 1758 1566.2 1760.4 1565.7C1762.8 1565.1 1767 1563.8 1769 1563C1770.9 1562.2 1770.7 1561.4 1772.2 1560.8C1773.6 1560.3 1775.5 1559.9 1777.5 1559.8C1779.5 1559.7 1782 1559.6 1783.9 1560.3C1785.9 1561 1787.9 1562.4 1789.3 1564C1790.6 1565.7 1791.8 1568.1 1791.9 1569.9C1792.1 1571.8 1791.7 1574 1790.3 1575.3C1789 1576.5 1785.9 1576.7 1783.9 1577.4C1782 1578.2 1780.4 1578.7 1778.6 1579.8C1776.8 1580.9 1774.8 1582.3 1773.2 1584C1771.6 1585.8 1769.8 1588.1 1769 1590.2C1768.2 1592.3 1768.2 1594.7 1768.4 1596.7C1768.7 1598.6 1769.4 1600.6 1770.6 1602C1771.7 1603.4 1773.7 1604.5 1775.4 1605.2C1777.1 1605.9 1779.3 1605.9 1780.7 1606.3C1782.2 1606.7 1784 1606.8 1784.1 1607.6C1784.3 1608.4 1782.9 1610 1781.8 1611.1C1780.7 1612.1 1779.1 1613 1777.5 1613.8C1775.9 1614.5 1774.1 1615.4 1772.2 1615.4C1770.2 1615.4 1768.4 1614.7 1765.7 1613.8C1763.1 1612.8 1759.5 1610.8 1756.1 1609.5C1752.7 1608.1 1749 1606.6 1745.4 1605.7C1741.9 1604.8 1738 1604.4 1734.8 1604.1C1731.5 1603.9 1728.7 1603.8 1726.2 1604.1C1723.7 1604.5 1721.7 1605.2 1719.8 1606.3C1717.8 1607.3 1716 1609.3 1714.4 1610.5C1712.8 1611.8 1711.8 1613.6 1710.2 1614C1708.6 1614.3 1706.8 1613.3 1704.8 1612.7C1702.9 1612.1 1700.5 1611 1698.4 1610.5C1696.3 1610 1694 1609.8 1692 1609.7C1690 1609.6 1688.4 1610.8 1686.7 1610C1684.9 1609.3 1683.1 1606.7 1681.3 1605.2C1679.5 1603.7 1677.5 1602 1676 1600.9C1674.5 1599.9 1673.2 1600 1672.3 1598.8C1671.4 1597.5 1671.2 1595.5 1670.6 1593.4C1670 1591.3 1669.1 1588.3 1668.7 1586.2C1668.3 1584.1 1667.2 1581 1668.3 1580.8Z" fill="#e3d6ad" stroke="#cdbb8e" stroke-width="1"/>
<path d="M1729.4 1587.6C1729.2 1587.3 1733.9 1582.5 1736.9 1580.6C1739.9 1578.7 1744 1577 1747.6 1576.1C1751.1 1575.3 1755.7 1575.1 1758.3 1575.5C1760.8 1575.9 1762.6 1577.4 1763.1 1578.5C1763.5 1579.5 1761.8 1581.9 1760.9 1581.9C1760 1581.9 1759.8 1578.9 1757.7 1578.3C1755.7 1577.6 1751.9 1577.4 1748.6 1578.1C1745.3 1578.7 1741.2 1580.6 1738 1582.2C1734.8 1583.8 1729.6 1587.8 1729.4 1587.6Z" fill="#d3c08e"/>
<path d="M1704.8 1599.4C1705.7 1598.8 1712.2 1600.5 1715.5 1601.1C1718.8 1601.8 1723.9 1602.5 1724.6 1603.3C1725.3 1604.1 1721.5 1604.8 1719.8 1606.1C1718.1 1607.3 1716 1610.7 1714.4 1610.5C1712.8 1610.4 1711.8 1607.1 1710.2 1605.2C1708.6 1603.3 1703.9 1600.1 1704.8 1599.4Z" fill="#d8c897"/>
<path d="M1773.2 1613.8C1774.1 1613 1777 1610.4 1778.6 1609.5C1780.2 1608.6 1782.1 1608.6 1782.8 1608.4" fill="none" stroke="#d9b49a" stroke-width="0.8"/>
<ellipse cx="1701.4" cy="1576.3" rx="3.2" ry="2.6" fill="#f6f6f4" stroke="#e0e0dc" stroke-width="0.5"/><ellipse cx="1705.9" cy="1575.8" rx="2.8" ry="2.6" fill="#f6f6f4" stroke="#e0e0dc" stroke-width="0.5"/><ellipse cx="1711.2" cy="1576.9" rx="2.8" ry="2.4" fill="#f6f6f4" stroke="#e0e0dc" stroke-width="0.5"/><ellipse cx="1716" cy="1577.2" rx="2.6" ry="2.1" fill="#f6f6f4" stroke="#e0e0dc" stroke-width="0.5"/><ellipse cx="1719.8" cy="1577.6" rx="2.1" ry="1.7" fill="#f6f6f4" stroke="#e0e0dc" stroke-width="0.5"/>
<text x="1666.9" y="1639.9" font-size="19.68">Tooth extraction</text>
<line x1="1730.4" y1="1644.2" x2="1730.4" y2="1661.9" stroke="#000" stroke-width="1.2"/>
<path d="M1727.7 1658.9L1733.1 1658.9L1730.4 1664.9Z" fill="#000"/>
<rect x="1670.4" y="1667.9" width="123.5" height="66.5" fill="#d6e0f3" stroke="#1f2a7a" stroke-width="1.4" rx="33.2" stroke-dasharray="1.7 2.1"/>
<circle cx="1735.7" cy="1679" r="5.4" fill="#a9d6b2" stroke="#8fb98f" stroke-width="0.7"/>
<circle cx="1735.1" cy="1679.6" r="3" fill="#74b58c"/>
<circle cx="1747" cy="1699" r="5.3" fill="#a9d6b2" stroke="#8fb98f" stroke-width="0.7"/>
<circle cx="1746.4" cy="1699.6" r="2.9" fill="#74b58c"/>
<circle cx="1701.9" cy="1717" r="5.8" fill="#a9d6b2" stroke="#8fb98f" stroke-width="0.7"/>
<circle cx="1701.3" cy="1717.6" r="3.2" fill="#74b58c"/>
<circle cx="1716.9" cy="1698" r="5" fill="#fbe3d0" stroke="#d9bb9b" stroke-width="0.7"/>
<circle cx="1716.9" cy="1698.5" r="2.5" fill="#f7ccb4"/>
<circle cx="1732.2" cy="1702" r="5.1" fill="#fbe3d0" stroke="#d9bb9b" stroke-width="0.7"/>
<circle cx="1732.2" cy="1702.5" r="2.5" fill="#f7ccb4"/>
<circle cx="1751.9" cy="1718.6" r="5.4" fill="#fbe3d0" stroke="#d9bb9b" stroke-width="0.7"/>
<circle cx="1751.9" cy="1719.1" r="2.7" fill="#f7ccb4"/>
<g transform="translate(1695.7 1695.2) rotate(-58) scale(1.05)"><path d="M-9 -1C-6 -2 -3 -3.2 0 -3.2C3 -3.2 6 -2.4 9.5 -3.4C7.5 -1.5 7.5 0.5 9.8 2.6C6 1.8 3 3 0 3.1C-3 3.2 -6 2 -9.8 3.2C-7.6 1.4 -7.6 0 -9 -1Z" fill="#a5dad2" stroke="#8a6a3a" stroke-width="0.8" stroke-linejoin="round"/><ellipse cx="0" cy="0" rx="2.6" ry="1.3" fill="#6fb8ae"/></g>
<g transform="translate(1719.5 1684.5) rotate(28) scale(0.95)"><path d="M-9 -1C-6 -2 -3 -3.2 0 -3.2C3 -3.2 6 -2.4 9.5 -3.4C7.5 -1.5 7.5 0.5 9.8 2.6C6 1.8 3 3 0 3.1C-3 3.2 -6 2 -9.8 3.2C-7.6 1.4 -7.6 0 -9 -1Z" fill="#a5dad2" stroke="#8a6a3a" stroke-width="0.8" stroke-linejoin="round"/><ellipse cx="0" cy="0" rx="2.6" ry="1.3" fill="#6fb8ae"/></g>
<g transform="translate(1765.2 1696) rotate(-22) scale(1.0)"><path d="M-9 -1C-6 -2 -3 -3.2 0 -3.2C3 -3.2 6 -2.4 9.5 -3.4C7.5 -1.5 7.5 0.5 9.8 2.6C6 1.8 3 3 0 3.1C-3 3.2 -6 2 -9.8 3.2C-7.6 1.4 -7.6 0 -9 -1Z" fill="#a5dad2" stroke="#8a6a3a" stroke-width="0.8" stroke-linejoin="round"/><ellipse cx="0" cy="0" rx="2.6" ry="1.3" fill="#6fb8ae"/></g>
<g transform="translate(1727.8 1719) rotate(-35) scale(0.9)"><path d="M-9 -1C-6 -2 -3 -3.2 0 -3.2C3 -3.2 6 -2.4 9.5 -3.4C7.5 -1.5 7.5 0.5 9.8 2.6C6 1.8 3 3 0 3.1C-3 3.2 -6 2 -9.8 3.2C-7.6 1.4 -7.6 0 -9 -1Z" fill="#a5dad2" stroke="#8a6a3a" stroke-width="0.8" stroke-linejoin="round"/><ellipse cx="0" cy="0" rx="2.6" ry="1.3" fill="#6fb8ae"/></g>
<text x="1644.8" y="1757.6" font-size="19.85">Single cell suspension</text>
<line x1="1730.8" y1="1770.6" x2="1730.8" y2="1791.4" stroke="#000" stroke-width="1.2"/>
<path d="M1728.1 1788.4L1733.5 1788.4L1730.8 1794.4Z" fill="#000"/>
<path d="M1664.5 1796.5L1676.7 1796.5L1676.7 1822L1683.4 1822L1691.1 1816.3L1749.5 1816.3L1749.5 1840.2L1693.4 1840.2L1684.1 1834.3L1676.7 1834.3L1676.7 1859.2L1664.5 1859.2Z" fill="#eeee9e" stroke="#c9ae78" stroke-width="0.7"/>
<path d="M1617 1808.6L1661.8 1821.7L1680.3 1824.3L1684.1 1824L1684.1 1832.6L1680.3 1832.5L1661.8 1834.3L1617 1847.9L1617 1836.4L1648.6 1828.3L1617 1820.5Z" fill="#1f2d6e"/>
<circle cx="1688.8" cy="1828.3" r="7.4" fill="#1f2d6e"/>
<circle cx="1708.4" cy="1828.3" r="7.3" fill="#1f2d6e"/>
<circle cx="1708.4" cy="1828.3" r="3.9" fill="#e8eeb0"/>
<circle cx="1708.4" cy="1828.3" r="2.1" fill="#8fcf9f" stroke="#6aa87a" stroke-width="0.5"/>
<circle cx="1724.8" cy="1824.5" r="6.9" fill="#1f2d6e"/>
<circle cx="1724.8" cy="1824.5" r="4.3" fill="#fdf6ee"/>
<circle cx="1724.8" cy="1824.5" r="2.7" fill="#f8d2ba"/>
<circle cx="1740.5" cy="1829.7" r="6.9" fill="#1f2d6e"/>
<g transform="translate(1740.5 1829.7) rotate(-30) scale(0.5)"><path d="M-9 -1C-6 -2 -3 -3.2 0 -3.2C3 -3.2 6 -2.4 9.5 -3.4C7.5 -1.5 7.5 0.5 9.8 2.6C6 1.8 3 3 0 3.1C-3 3.2 -6 2 -9.8 3.2C-7.6 1.4 -7.6 0 -9 -1Z" fill="#a5dad2" stroke="#8a6a3a" stroke-width="0.8" stroke-linejoin="round"/><ellipse cx="0" cy="0" rx="2.6" ry="1.3" fill="#6fb8ae"/></g>
<path d="M1756.2 1817.8h0m.2-.2h0m.2-1.5h0m0 .5h0m.2 1.2h0m.2-1.8h0m0-1.8h0m.2 1h0m.2 2.5h0m0-.8h0m.2-1.2h0m0-.5h0m0 2.2h0m0-1.2h0m.2 1.5h0m0-2.5h0m.2 1.2h0m.2 .8h0m0-1.2h0m0-1.2h0m.2 3h0m0-.2h0m0-2.5h0m0 .8h0m.2-1h0m0 2h0m0 1h0m0-1.2h0m0-1.2h0m.2 2.2h0m0-1.5h0m0 1h0m0-.2h0m.2-1.2h0m0-1.2h0m0 .5h0m.2 2h0m0 1h0m0-.2h0m.2-1.8h0m.2-.8h0m0-.2h0m.2 .8h0m0 1h0m0 1h0m.2-.8h0m0-1.2h0m.2 2.2h0m.2-2.5h0m0 2.2h0m.2-3.2h0m.2 3.5h0m0-.5h0m1.2 .5h0m.8 0h0m-8 1h0m.2 .2h0m.2 1.5h0m.2-2h0m0 .5h0m.2 1h0m0-1.2h0m.2 .5h0m0-1.2h0m.2 1.8h0m0 .8h0m0-.2h0m.2 1.2h0m.2-2h0m.2 .2h0m.2-1.8h0m0 4.5h0m0 .8h0m0-3.5h0m0-.2h0m0-1.2h0m0 2.2h0m0 2.2h0m.2 0h0m.2-4h0m.5 1h0m0 2.2h0m.2-2h0m0 3.2h0m0-1.2h0m.2-3.8h0m0 .5h0m.2 0h0m0-.2h0m0 2.2h0m.2 1.8h0m0 1h0m0-2.5h0m0-1.2h0m0 1.8h0m.2-2.2h0m0 .5h0m.2-1.5h0m0 2.2h0m.2 2.5h0m0-5h0m0 4.5h0m0-2.5h0m0 1h0m0 1h0m0-1.2h0m.2-.2h0m0 .5h0m0 2.2h0m.2-5h0m.2 0h0m0 2.2h0m0 1h0m.2 .5h0m0-1.8h0m.2 1.8h0m0-.2h0m.2 1.2h0m0-1.2h0m0-3h0m.2 1.2h0m0-1.8h0m0 4.5h0m0-1.2h0m.2 .8h0m0-3.8h0m0 2.2h0m0-1.2h0m.2-.2h0m0-.2h0m0 3.2h0m0-1.2h0m.2 1.5h0m0-3h0m.2 3.2h0m0-2.5h0m0 2h0m.2-2.8h0m0-1.5h0m0 3.2h0m.2 .5h0m.2-3.8h0m0 5.5h0m0-4h0m.2 1.5h0m0 2.8h0m.2-1.2h0m0-3.5h0m.2 3.5h0m0-2.8h0m.2-1h0m0 3.2h0m0-.2h0m0-1.2h0m0 2h0m.2-.2h0m0 1h0m0-2.5h0m.2 .5h0m.2 2.2h0m0-3.2h0m.2 2.8h0m.2-1h0m0 1.5h0m.5-.5h0m0-.2h0m0 1h0m.2-.2h0m0 .2h0m.2-.2h0m.2-1.8h0m0 2h0m0-1.5h0m0 1h0m.2-2.5h0m.2 1.8h0m0 1h0m0-2.8h0m.2 1h0m0 1h0m.2-.5h0m0-1.5h0m0 2.2h0m.2 0h0m0-2.2h0m.2 .8h0m.2-1.2h0m0 3.5h0m.5-.8h0m0-1.5h0m.2 1.2h0m0 .8h0m0-2.5h0m.2 2.5h0m.2-1.5h0m.2 1h0m0 .5h0m.2-.8h0m0-1.2h0m0-.2h0m.2 1.8h0m0-1.2h0m.2 1.2h0m0-.8h0m.2 1.2h0m0-.8h0m.2-.5h0m.2-.8h0m0 2h0m0-1.2h0m.2 1h0m0-.2h0m0-.2h0m.5 0h0m0-1.5h0m0 2.2h0m.8-1.5h0m0 1.8h0m0-1.2h0m.2 0h0m0-.2h0m.2-1h0m.2-.5h0m0 1.8h0m0-1.2h0m.2 1.2h0m0-1.2h0m0 2.2h0m0-.5h0m.2-1.2h0m0 1h0m0 1h0m0-1.8h0m.2 1h0m0-.2h0m.2-1h0m0 2h0m0-1.8h0m.5-1h0m0 1h0m0 .8h0m0 1h0m.2-2.2h0m0-1.2h0m0 3h0m.2-2.2h0m0 1h0m0-2.5h0m0 1.8h0m0-1.2h0m.2 0h0m0 1h0m0 1h0m0-1.5h0m.2-.5h0m0 1h0m-18 3.2h0m1.2 0h0m.5 .8h0m0-.5h0m.5 1h0m0-1.2h0m.2 .5h0m.2 .2h0m.2 .2h0m0 .8h0m.2-1.5h0m.8 1h0m0 1h0m0-.2h0m.2-1.2h0m0 1h0m0 1h0m.2-2.5h0m0 1h0m0-1.5h0m0 2.2h0m0-.5h0m.2 0h0m0 1h0m0-.2h0m0 1h0m0-2.5h0m.2 1.2h0m0-1.2h0m0 2.2h0m0 .8h0m.2-2.5h0m0 1h0m0 2h0m0-3.5h0m0 3.2h0m0-1.2h0m0 2.2h0m.2-3.5h0m0-1.2h0m0-.5h0m0 3.2h0m.2-.5h0m0 1h0m0-.2h0m.2 .8h0m0-.2h0m0-1.2h0m0-1.5h0m0 2h0m.2-2h0m0 2h0m0-1.2h0m0 3.5h0m0-5h0m0 4.2h0m.2-3.8h0m0 3h0m0-2.5h0m.2 1.5h0m0-2.5h0m0 2.2h0m0-1.8h0m.2 1.5h0m0 2.2h0m0-1.8h0m0 2.2h0m.2-.8h0m0-1.5h0m.2 .2h0m0-.5h0m0-2.5h0m0 .8h0m.2-1h0m0 5.5h0m0-1.5h0m.2-.5h0m0-.2h0m0 2.2h0m.2-2.5h0m0 2.8h0m0-4.8h0m.2 1.5h0m0-.5h0m0 3.5h0m0-5h0m.2 2.5h0m.5-2.8h0m0 3h0m0-1.5h0m.2-1h0m0 2h0m.2-1.5h0m0 1h0m.2-1.8h0m0-.2h0m0-.2h0m0 2.2h0m.2-1.5h0m0 .5h0m.2 1.2h0m0-1.8h0m.2 1.8h0m.2 1h0m0-.2h0m0-2.8h0m.2 2.5h0m0-2.8h0m.2 0h0m.5 1.2h0m.2 .2h0m0-1.2h0m.2-.2h0m.2 1.5h0m0-.5h0m.2 1.5h0m.5-1.5h0m0-1.2h0m.2 0h0m.8 0h0m0 .2h0m.2 2.5h0m.2-.5h0m.2-.8h0m.2-1.5h0m0 2.2h0m0-1.2h0m0 1h0m.2-.8h0m.5-1h0m.5 .8h0m-9.8 5h0m.8 0h0m0 .2h0m.2 .2h0" stroke="#e8919a" stroke-width="1.0" stroke-linecap="round" fill="none"/>
<path d="M1773.2 1799h0m.8 0h0m.2 .5h0m.2-.8h0m.8 .8h0m.5-.5h0m.2 0h0m.2 0h0m.2-.2h0m.2 .8h0m.2 0h0m.2 .2h0m0-1.2h0m.2 .2h0m.2 .2h0m1.8 .8h0m-9.8 2.2h0m.2 .5h0m.2-1.5h0m.5 .8h0m0-1h0m.2 .5h0m.2 .2h0m.8-1.5h0m0 2h0m.2 0h0m0-2h0m.2 .2h0m.2 1.2h0m.5 1h0m0-1.8h0m.2 1.8h0m.2-.5h0m0-.8h0m0 .5h0m.2-1.2h0m.2 .2h0m0-.2h0m0 .5h0m.2 .5h0m0 .5h0m0-.2h0m.2-1.5h0m0 1h0m0 1h0m.2-.8h0m0-1.2h0m.2 .5h0m0 .5h0m0 1h0m.2 .8h0m.2-.8h0m.2-2.2h0m0 .5h0m.2 2.2h0m.5-2.8h0m0 .5h0m0 .5h0m0-.2h0m.2 .2h0m.2 0h0m0-.2h0m.8 1.2h0m.2-1.2h0m.2-.8h0m0 .5h0m0 1h0m.2-.5h0m0 .5h0m.2 0h0m0 .2h0m0-1.2h0m.2 .8h0m.5 1h0m0-1.2h0m0-.2h0m0-.8h0m.2 4.2h0m0-.8h0m0-3h0m.5 3h0m0-1.5h0m0 .5h0m0 .5h0m.2-.2h0m0 2.2h0m0-.2h0m0-3h0m.2 2h0m.2 .2h0m0 .5h0m.5-.2h0m-10.8 6.8h0m0 .2h0m.2-.2h0m.2 0h0m.5 .2h0m.5-.8h0m.2-.8h0m.2 1.2h0m.2-.8h0m.8 .2h0m.2-1.5h0m.2 1.2h0m0-.2h0m.5-1.2h0m.2 .2h0m.2-.5h0m0 .5h0m0 .2h0m.5-.8h0" stroke="#e9b566" stroke-width="1.0" stroke-linecap="round" fill="none"/>
<path d="M1791 1798.2h0m1.2 .8h0m.2 0h0m.8 .2h0m.2 .5h0m.8 0h0m.2 0h0m0 .5h0m.2 0h0m.2 0h0m.2 .2h0m.8 .2h0m.2-.2h0m0 .5h0m1.8 .5h0m.2 .2h0m0-.2h0m0-.2h0m.2 .5h0m3.8 3h0m.8 0h0m.2 0h0m0-.2h0m.2 0h0m.2 0h0m.2 .2h0m0-.2h0m2.2 .5h0m.2-.8h0m.2 .5h0m.2 .2h0m0-.5h0m.8 .2h0m0-.2h0" stroke="#5a2d9a" stroke-width="1.0" stroke-linecap="round" fill="none"/>
<path d="M1803 1793h0m.2 .8h0m-3.5 6h0m.5-1.2h0m.5-.2h0m0 1.5h0m.2-1h0m0-1h0m.5 1h0m0 .8h0m.2-2h0m0 .8h0m.5-1.2h0m0 .8h0m0-.2h0m0 .8h0m.2-.2h0m0-.8h0m.2-.2h0m0-.2h0m0-.8h0m0-.2h0m.2-1.2h0m0 1.5h0m0 .5h0m0 .8h0m0-3.2h0m.2 .8h0m0 .5h0m0-.2h0m.2-.5h0m0 .8h0m-4.2 5.8h0m.5 .2h0m0-.5h0m.2 .2h0m0-.8h0m0 1.8h0m.2-1.5h0m0 3h0m0-.2h0m.2-3h0m0 3.8h0m0-4h0m0 .8h0m0 .8h0m0-1h0m.2 1.8h0m0 1.2h0m0 .5h0m.2-2h0m0-1.8h0m0-.2h0m.2 1.5h0m0-.8h0m0 1.2h0m0-1h0m0 1.5h0m.2-2.2h0m0 .5h0" stroke="#f08030" stroke-width="1.0" stroke-linecap="round" fill="none"/>
<path d="M1799.2 1805.8h0m1 0h0m1.8 0h0m4.5 0h0m.5 0h0m2 0h0m.2 0h0m2.2 0h0m0-.2h0m.5 .2h0m1-.5h0m-14.8 1.5h0m.2 1.2h0m.2-1h0m0-.2h0m.2 0h0m0 1h0m0-.5h0m0-.2h0m.2 1.2h0m0-1.8h0m0 2.2h0m0-1.2h0m0-1.2h0m.2 2.8h0m0-1.5h0m0 1h0m.2-1.2h0m0-.5h0m0 2.2h0m0-.2h0m0-.2h0m.2-2.2h0m0 1h0m0 1h0m0 1h0m0-1.2h0m.2 1h0m0-1.2h0m0-.2h0m0-.2h0m0-.2h0m0-.2h0m.2-.5h0m0 1.5h0m.2-1.8h0m0 1h0m0-.2h0m.2-.2h0m0 .8h0m.2-.5h0m0 1h0m0 1h0m.5-2h0m.2-.2h0m0 1h0m.2 .2h0m0 .5h0m0-1.2h0m.2 1.8h0m0-1.2h0m.2 0h0m0-.2h0m0 .8h0m.2-1.8h0m0 .8h0m.2 0h0m0-.2h0m.2 1.8h0m0-.2h0m0-1.2h0m.2 .8h0m0-.2h0m.2 1h0m0-1.8h0m.2 1h0m.2-.5h0m.2 0h0m0 .2h0m.2 1.2h0m0-1.2h0m0 .5h0m.2-.8h0m0 .8h0m0-.2h0m.2-1.5h0m0 2h0m0-1.5h0m0 1h0m.2-1h0m0 1h0m.2 .5h0m0-1.8h0m.2 .8h0m.2 .5h0m0-1.5h0m.2 .5h0m0-.5h0m0 2.2h0m.2-1.5h0m.2 .5h0m.2-.2h0m0-1.2h0m0 1h0m0 .8h0m.5 .2h0m.2-1.5h0m0-.5h0m.2 1.8h0m0-.2h0m.2 .8h0m.2-2h0m0 1h0m0-1.2h0m0 .8h0m.2 0h0m1 .5h0m.2 .5h0m0-.8h0m0 1h0m.2-.8h0m0 4.2h0m0-3.8h0m.2-1.2h0m0-.2h0m0 1h0m0 2.2h0m0 1h0m0-1.2h0m.2-1.2h0m0-1.5h0m0 1h0m0 3.2h0m0 1h0m.2-5.2h0m0 1h0m.2 .2h0m0-.2h0m0 2.2h0m0-1.2h0m0-1.2h0m0 4.5h0m0-1.2h0m0-2.5h0m.2 1.5h0m0 2h0m0-4.8h0m0 2.2h0m0-.2h0m0 2.2h0m0-1.2h0m.2-1.2h0m0-.2h0m0 3.2h0m.2-.5h0m0-2.5h0m0 3.2h0m0-4.8h0m0 1h0m.2-1.2h0m0 3h0m.2 2h0m0-1.8h0m.2 1.2h0m0-4.8h0m0 2.8h0m.2 1.5h0m0-3.5h0m0 1h0m0 1h0m0 2.2h0m0-1.2h0m0-1.2h0m.2 2.2h0m0-3.5h0m0 4h0m.2-2.5h0m0-1.2h0m0 2h0m0-1.5h0m.2-.2h0m0 .8h0m0 2.2h0m.2-1.2h0m0-1.2h0m0 2.2h0m0-1.2h0m0 .5h0m.2-.8h0m0 2.2h0m0-1.2h0m0-1.2h0m0 .8h0m.2 .8h0m.2 .8h0m.8-.2h0m0 .2h0m.2 .2h0m.2 0h0m-5.5 4h0m.2-2.8h0m.2 .2h0m0 3.2h0m0-.5h0m0-1.2h0m.2-1h0m0 2.2h0m0-2.8h0m0 3.5h0m0-.2h0m0-1.2h0m.2-.2h0m0 1h0m0-3.5h0m0 .8h0m0 1h0m.2 .2h0m0 .8h0m0-1.8h0m.2 1.8h0m.2 0h0m0 2.2h0m0-1.8h0m0-.2h0m0-3.5h0m0 5.8h0m.2-1.2h0m0-3h0m.2 2.5h0m0 1.8h0m0-4.8h0m0-.2h0m.2 4h0m0-3.5h0m0-1.2h0m0 4.5h0m.2 .5h0m0 .8h0m.2-4.2h0m.2 .8h0m0-.2h0m.2-1.5h0m0 3.2h0m0-3.5h0m0 .5h0m0 2.2h0m.2-1h0m0-1.2h0m0-.8h0m0 1h0m.2 4.5h0m0-2.5h0m0-2.5h0m0-.2h0m.2 5h0m0-1.5h0m0-3.8h0m0 2h0m.2 2.8h0m0-3.8h0m0 1h0m.2 2.8h0m0 .5h0m0-2.5h0m.2-1h0m0-1.2h0m0 4.5h0m0-4.8h0m0 1h0m0 2.2h0m0 2.2h0m0-3.5h0m0 2.2h0m0-1.5h0m.2 0h0m0-.2h0m0-1.2h0m0 1h0m.2-.8h0m0 1h0m0-1.2h0m0 4.2h0m0-3.5h0m0 2h0m.2 1h0m0 .5h0m0-2.5h0m.2-2.2h0m0 2h0m0 .8h0m.2 .5h0m.2 0h0m0 1h0m.2 .5h0m0-.2h0m0-.5h0m.2-.2h0m0-2.5h0m0 2.2h0m0-2.5h0m.2 2.2h0m.2 .8h0m0-2.5h0m0 2.8h0m.2 .2h0m.2 0h0m0-.5h0m0-1.5h0m.8 1h0m-8.2 1.5h0m.5 1.8h0m.2-1.8h0m0 1.8h0m.2-.8h0m.2 1.8h0m.2-.2h0m.2 .2h0m.2-1h0m0-.2h0m.2 .8h0m.5 0h0m0-.2h0m0-1.2h0m0 2h0m.2-1.2h0m0-.5h0m0-.2h0m0 1h0m.2 2h0m0-.2h0m0-1.5h0m0 1h0m.2-1h0m0 1h0m0 1h0m0-1.2h0m.2-1.2h0m0-1.5h0m.2 .5h0m0 2.2h0m0-2.8h0m0 2.2h0m0 2.2h0m.2-2.8h0m0 2.2h0m0 .8h0m0-1.2h0m.2-3h0m0 3.2h0m0-2.5h0m0-.2h0m0-.2h0m0 4.5h0m.2-3h0m0 3.2h0m0-2.8h0m0-2.5h0m0 3.2h0m.2-3.2h0m0-.2h0m0 3.2h0m0-2.8h0m.2 2.2h0m0 1.8h0m0 1h0m0-1.2h0m0-2.5h0m.2 2.8h0m0-1.2h0m0-.2h0m0-2.5h0m0 2h0m0 2.2h0m.2-.8h0m0-3.5h0m0 1h0m0-1.2h0m0 .8h0m0 4.5h0m0-.2h0m.2-1.2h0m0-2.8h0m0 1h0m.2-2.2h0m0 2.2h0m0-1.5h0m0-.2h0m.2 1.5h0m0 1h0m0-1.2h0m0-1.2h0m.2-.5h0m.2 1.2h0m0-1.2h0m0 1.8h0m.2 .5h0m.5-2h0m0 .2h0m.2-.5h0m0 .8h0" stroke="#e02020" stroke-width="1.0" stroke-linecap="round" fill="none"/>
<path d="M1797 1810.2h0m.2-.8h0m0 1h0m.2 .5h0m0-1.2h0m0 .5h0m0 .5h0m0-.8h0m.2-.2h0m.2 0h0m0 1h0m0 .5h0m.2-.5h0m.2-1.8h0m-2.8 7.5h0m0 .2h0m.2-1.8h0m0 2.5h0m0-3h0m.2-.2h0m0 2.2h0m0-2h0m.2 1.5h0m0-1.8h0m0-.2h0m0 3.5h0m.2-4.5h0m0 2.8h0m.2 2h0m0-1.2h0m0-4h0m0-.2h0m0 2.2h0m.2 3h0m0-4.2h0m0 3.2h0m.2 .8h0m0-1.2h0m.2 1h0m0 .5h0m0-4.2h0m0 1h0m.2 1.2h0m0-1.5h0m.2-1.8h0m0 4.5h0m0-3.5h0m0 3.8h0m.2-1.5h0m0-1h0m-3 5.2h0m.2-1h0m0 3.8h0m0-1.2h0m0-1.8h0m.2 4h0m0-4.8h0m0 1h0m.2 3h0m.2-2.5h0m0 .8h0m0 2.2h0m.2-5h0m0 3.8h0m0 1.5h0m.2-4h0m0-1.2h0m0 1h0m0 4.5h0m0-1.8h0m.2-2.8h0m0 .8h0m0 .5h0m0-1.8h0m.2 4.8h0m0-4.8h0m0 1.5h0m.2 1.2h0m0 2.2h0m0-4.8h0m.2 2.2h0m0 2h0m0 .5h0m0-1.8h0m.2-2.8h0m0 3.5h0m.2-1.8h0m0 1h0m.2-3h0m0 .5h0m.2 3.5h0m0-3h0m.2 3.8h0m.2-3h0m0 2.8h0m-7.8 6.2h0m0-1.8h0m0 1h0m.5-1.5h0m0 2h0m.2 0h0m.8-1.5h0m.5 .2h0m.2-1.5h0m1-1.8h0m.2 1h0m.5 3.5h0m.5-1.5h0m0-1.8h0m0 3.2h0m0-3.5h0m0 .5h0m.2-2.5h0m0 3.2h0m0 2.2h0m0-4h0m.2 .2h0m0 .5h0m.2 3h0m0-.8h0m0 1h0m0-.8h0m.2-1.2h0m.2-3.5h0m0 .5h0m0 .5h0m0 2.2h0m0-1.8h0m0-.8h0m.2 3.8h0m.2-2.8h0m0 4h0m0-4.8h0m0 2.2h0m0-1.2h0m0 3.2h0m.2-1.5h0m0 .2h0m0 .5h0m0-1.8h0m0 2.2h0m0 .5h0m.2-3.8h0m0 2.2h0m0-3h0m0 4.5h0m0-1.8h0m0-3h0m.2 3.5h0m0 .5h0m0-3.5h0m.2 2.8h0m0 .2h0m0-1.2h0m.2-1.8h0m0 2.8h0m.2-.8h0m0 .5h0m0-1.8h0m0-2h0m.2 3.8h0m0-.8h0m.2 1h0m0 1h0m.2-.2h0m0-2.8h0m.2 1.2h0m0-1.2h0m.2-1.2h0m0 3.8h0m0 1h0m.2-1.5h0m0-2.5h0m0 3.8h0m-10.5 3.8h0m0-.8h0m.2-2h0m.2 1h0m0 2.2h0m0-3.5h0m0 3.2h0m.2-3h0m.2 4h0m0-3.5h0m0-.8h0m0 2.8h0m.2 1.5h0m0-.2h0m.2-1.2h0m0 1.5h0m.2-.5h0m0-1.2h0m0-1.2h0m0 2.8h0m.2 .2h0m0-.2h0m0-1.2h0m.2 1.5h0m.5-1.2h0m.2 .2h0m0-.2h0m.2-.8h0m0-.2h0m.5 .2h0m.2 .8h0m.2 0h0m0 1h0m.2-3.2h0m0 .5h0m0 2.2h0m.2-.5h0m0 .8h0m.2-2h0m.5 .5h0m.2-1.5h0m0-.8h0m0 .5h0m.2 1h0m.2 1h0m0-1.8h0m0 2h0m.2-2.5h0m.2 .5h0m0 .5h0m0 1.5h0m0 .5h0m.2-2.8h0m0 2.2h0m.2-1h0m0 1.8h0m0-1.2h0m0-.2h0m0 .5h0m.2 0h0m.2-2h0m0 .5h0m0 2.2h0m.5-.2h0m.2-2.5h0m0 1h0m.2 1h0m.2-2.2h0m0 .2h0m.5 2.2h0m0-1.8h0m.2-.5h0m.2 .2h0m0 .2h0" stroke="#a8e080" stroke-width="1.0" stroke-linecap="round" fill="none"/>
<path d="M1784.8 1835.8h0m.2-.8h0m1.5 .8h0m.2-1.2h0m.2 .5h0m.2 0h0m0-1.2h0m.2 .2h0m0-.2h0m0 .8h0m.2 .8h0m0-1.5h0m0 2h0m.8-2h0m.2-.8h0m0 1.8h0m.5-1.5h0m0-.2h0m.2 0h0m0 1h0m.2-.8h0m-7.5 8.5h0m.2-.2h0m.2-3.8h0m.2 2h0m0-1.5h0m.2 0h0m0 2h0m0-2.5h0m0 .8h0m.2 1h0m0-1.2h0m0 2h0m.2-1.2h0m0-1.5h0m0 3.2h0m0-1.5h0m.2 0h0m0 1h0m0-1.2h0m0-1.2h0m0 2.2h0m0 1h0m.2 .2h0m0-5h0m0 3.2h0m0-1.2h0m0 3.2h0m0-1.2h0m.2-2.2h0m0 1h0m0 2h0m0-4.8h0m.2 5.5h0m0-3.5h0m0 2h0m0 1h0m0-1.5h0m.2 1.2h0m0-3.5h0m.2 4.2h0m.2-2.5h0m0 2.2h0m.2-2.2h0m0 2.2h0m0-4.8h0m.2 4.2h0m0-1.2h0m.2-2.2h0m0 2.2h0m0-2.5h0m0-1.2h0m0 5.5h0m.2-1.8h0m0-2.5h0m0 1h0m.2-1.2h0m0 .2h0m.5 .8h0m0-.5h0m.2-1.2h0m0 .2h0m.2-.5h0m.2 0h0m-6.2 9h0m.2-1.2h0m.5 1.2h0m0-1.8h0m.2 .5h0m0-1.8h0m.2 4.5h0m.2-4.5h0m0 4.2h0m0-1.5h0m0 1h0m.2-.2h0m0 2.2h0m0-2.8h0m.2-1.8h0m0 4.5h0m0-2.5h0m0 .8h0m.2-3.2h0m0 4.5h0m.2-5h0m0 4.5h0m0-4.2h0m.2-.2h0m0 2h0m0 2.2h0m0-1.2h0m0-1.2h0m0 2.2h0m.2-.2h0m0-3.5h0m0 2h0m0 1h0m0-2.2h0m.2 .2h0m0 1h0m0 3.2h0m0-1.2h0m0-1.2h0m0-.2h0m0 2.2h0m0-4.8h0m.2 1.8h0m0-.2h0m0-.2h0m0 1.8h0m.2-.2h0m0-.2h0m0-2.8h0m0 2.2h0m0 2.2h0m.2-4.8h0m.2 5.8h0m0-2.5h0m0 1.5h0m.2-4.8h0m0 1.8h0m0 3.5h0m.2-.5h0m0-4.8h0m0 3.2h0m0 2.2h0m0-2.5h0m0 2.2h0m.5-1.5h0m.2 1.8h0m.2 .2h0m0-2.8h0m0 2.2h0m1 .5h0m.2-.8h0m-4.5 1.8h0m.5 1h0m0-.2h0m0-.2h0m0-.2h0m.2 0h0m0-.5h0m.2 0h0m.2 1.5h0m0-1.2h0m0 1h0m0 1h0m0-2.8h0m.2 1.2h0m0 1h0m0 .8h0m.2-1h0m0-1.2h0m0 .5h0m0-.2h0m.2-.2h0m0 2h0m.2-2.5h0m0 2.2h0m0-.2h0m0-.2h0m0-.5h0m.2-.8h0m0-.2h0m0 3h0m0-2.5h0m.2-.8h0m.2 1.5h0m0 2.2h0m0-.8h0m.2 0h0m0-2.8h0m0-.5h0m.2 2h0m0-.2h0m.2 0h0m0-.5h0m0-1.2h0m.2 .8h0m0 1h0m0 2h0m0-1.5h0m.2-1.2h0m0 3.2h0m.2-3.5h0m0 3.2h0m.5-2.5h0m.2 2.8h0m0-2.5h0m0-.5h0m0-.2h0m.2-1h0m0 .8h0m0 2.2h0m0 2.2h0m0-1.2h0m.2-1.2h0m0-2.5h0m0 2.2h0m0 1h0m0 .8h0m.2-4h0m0 3.2h0m0-1.2h0m0-1.2h0m.2 1.5h0m0 1.8h0m0-3.5h0m0 4.5h0m.2-3.2h0m0-1.2h0m0 3h0m.2 1.2h0m0-3.5h0m.2 2.2h0m0 2h0m0-4.8h0m0 4.5h0m0-.2h0m0-1.2h0m.2 1.5h0m0-1.8h0m0 .8h0m.2-1h0m0 .8h0m0-.2h0m0-.2h0m.2-1h0m0 2.2h0m0-2.5h0m0-.2h0m0 1h0m0 1h0m.2-1h0m0-.2h0m0-.2h0m0 2.2h0m0-1.2h0m.2 1h0m0 1h0m0-3.8h0m0 2.2h0m0-1.5h0m.2 1.2h0m0 1h0m0-.2h0m0-1.5h0m0 2.2h0m.2-.2h0m0-1.2h0m0-1.2h0m0 1h0m0 1h0m0 1h0m.2-.8h0m.2-2h0m0 .5h0m0 2.2h0m.2-1.5h0m.5 .8h0m0-1.2h0m0 2h0m0-1.2h0m.2-1h0m.2 1.2h0m.2-.8h0m0 1.8h0m.2-1.8h0m1 .2h0m0 .8h0m0-1.5h0m0 2.2h0m.2-1.5h0m.2 .8h0m0 .2h0m.2-.8h0m.2 0h0m0-.2h0m0 1h0m.5 .2h0m0-1.2h0m0 .8h0m0-.2h0m.2 .8h0m1-.2h0m0-.5h0m.5 1h0m0-1.2h0m.2 1h0m0-.5h0m.2 .2h0m.5-.5h0m.2 .5h0m.2 0h0m0 .5h0m.2 0h0m.2 0h0m0-.2h0m.5-.8h0m.2 .5h0m.2-.2h0m1 .5h0m.2-.5h0m.8 .5h0m.2-.2h0m.2 .5h0m.2-.2h0m0-.2h0m.2 0h0m.5 .5h0m1.5-.5h0m.2 .5h0m.5-.2h0m.2 .2h0m2.8-.2h0m.2 .2h0m.5 0h0m.2 0h0m-21.2 .2h0m.2 .2h0m.5-.2h0m.5 .5h0m.2-.2h0m0-.2h0m1 .2h0m.5 .5h0m.2-.5h0m.5 .2h0m.5-.5h0m.5 .5h0m.2-.5h0m.5 0h0m.2 1h0m.8-.8h0m.5 .8h0m0-.8h0m.2 0h0m0 .8h0m.5-.8h0m0 1h0m0-.5h0m.2 .8h0m0-1.5h0m.2 1.8h0m.8-1.8h0m0 1h0m.2-.5h0m0 1h0m0-1.2h0m0-.2h0m0 .8h0m0 1h0m.5-1.2h0m.2 1.2h0m0-1.2h0m0-.5h0m.2 .5h0m.2 .2h0m.2 0h0m0-.2h0m.5-.2h0m0 1h0m0 .5h0m.2-1.5h0m.2 .2h0m.2 0h0m0 .5h0m.5-.2h0m.2-.8h0m.2 .8h0m0 .8h0m.5-1.2h0m0 .5h0m.2 .2h0m0-.8h0m.2 .8h0m.2-.2h0m.5-.5h0m0 1h0m0-1.2h0m0 1h0m.2 0h0m0-.8h0m0 1h0m0-1.2h0m.5 .2h0m0 .8h0m.2-1h0m0 .2h0m.2-.2h0m0 .8h0m.2 .2h0m.5-1h0m0 .8h0m.2-.8h0m.2 0h0m0 1h0m.5-1h0m.2 .2h0m.5 .2h0m0-.2h0m.8-.2h0m.8 0h0m0 .2h0m.2 .2h0m.5-.2h0m.2-.2h0" stroke="#a0cfe0" stroke-width="1.0" stroke-linecap="round" fill="none"/>
<path d="M1829 1805.2h0m.2 0h0m.2 .2h0m.5 .2h0m.2 0h0m-.2 .2h0m.2 .2h0m0-.2h0m.8 .8h0m.2 .5h0m0-.2h0m.2 0h0m.8 2.8h0m.2-.5h0m0-.2h0m0-.2h0m.2 1h0m0 .8h0m0-1h0m.2 1.5h0m0 .5h0m0-1.8h0m.2 2h0m.8 0h0m0 .8h0m0-.5h0m.2 .2h0m0 .8h0m0-.2h0m.2 .5h0m0 .8h0m0 1.2h0m0 .5h0m.2-2h0m0 1h0m.2 1h0m0 .2h0m.2 0h0m0-.5h0m.2 1.2h0m0 .5h0m.2-.5h0m.5 1h0m-.8 .2h0m0 .5h0m.2 .8h0m.2 0h0m.2-.2h0m0 1.5h0m.2 1.2h0m.2 .8h0m0-3.2h0m0 3h0m0-.2h0m0 1.5h0m.2-.5h0m0-2.8h0m0-1.5h0m.2 1.5h0m0-.8h0m0-.2h0m0 4.2h0m.2-1.2h0" stroke="#c8a8e0" stroke-width="1.0" stroke-linecap="round" fill="none"/>
<path d="M1811.5 1790.5h0m.5 .8h0m0-.5h0m.2 .2h0m0 .5h0m.2-.2h0m.2 0h0m.8-.5h0m.2 0h0m.2 .2h0m.2-.2h0m.2-.2h0m.2 0h0" stroke="#70a080" stroke-width="1.0" stroke-linecap="round" fill="none"/>
<path d="M1831 1835.8h0m.2-.2h0m.5 .2h0m-4.5 1.2h0m.2-.5h0m.2 .5h0m.2-.5h0m.2 .5h0m.2-.2h0m.2 0h0m.5-.5h0m.2 0h0m.2 0h0m0-.2h0m0 .5h0m.2-.5h0m.5 .5h0m1-.5h0" stroke="#8a9a60" stroke-width="1.0" stroke-linecap="round" fill="none"/>
<path d="M1822.5 1839h0m.2-.5h0m.5 .5h0m.2 0h0m0 .8h0m.2 0h0m0-.2h0m.2 .2h0m.2 .8h0m.2-.8h0m0 .8h0m.2 0h0m.2 0h0m.2-.2h0m0 .5h0m.2-.2h0m.2 .5h0m.2-.8h0m.2-.5h0m0 .8h0m0-.2h0m.2 0h0m.2-.8h0m0 .8h0m0-.2h0m0-.2h0m.2 0h0m0-.2h0m.2 0h0m.2 .2h0" stroke="#d0b020" stroke-width="1.0" stroke-linecap="round" fill="none"/>
<path d="M1791.2 1866.2h0m.5 .5h0m0-.2h0m0-.2h0m2.5 1.8h0m.2 .2h0m0 .2h0m.2 1h0m.5-.5h0m0-.5h0m.2 0h0m0 .5h0" stroke="#b01020" stroke-width="1.0" stroke-linecap="round" fill="none"/>
<text x="1654.8" y="1892.4" font-size="19.79">10x Genomics single</text>
<text x="1654.3" y="1916.6" font-size="19.89">cell RNA sequencing</text>
</g>
<g id="pk">
<text x="5.5" y="2008.8" font-size="46" font-weight="bold">k</text>
<path d="M181.5 2117.5h0m1-1.5h0m.5 0h0m.5-.5h0m.5 0h0m0 1h0m.5-1h0m.5 1h0m0-.5h0m.5-.5h0m0 2h0m0-.5h0m0-2.5h0m.5 2h0m0-1.5h0m0 1h0m.5-1.5h0m0 2h0m.5 1h0m0-.5h0m0-3.5h0m0 2h0m.5 1h0m0-2.5h0m0-.5h0m.5 2.5h0m0-1.5h0m0 1h0m.5 0h0m.5 0h0m.5-2h0m0 1h0m.5-.5h0m-20.5 9.5h0m.5-.5h0m0 .5h0m.5 0h0m1.5-.5h0m.5 0h0m.5-2.5h0m0 .5h0m.5 2.5h0m0-.5h0m0-2.5h0m.5-.5h0m.5 .5h0m.5 0h0m.5-.5h0m0 1h0m0 1h0m.5 .5h0m0 .5h0m.5-1h0m0-.5h0m0 2h0m.5-3h0m1 1h0m0-3h0m0 2h0m.5-1.5h0m0 3h0m1-1h0m0 2h0m1 .5h0m0-.5h0m.5-3h0m0 2h0m0-3.5h0m.5 4h0m0-4h0m0-.5h0m.5 1.5h0m0 2h0m.5 1h0m0-4.5h0m0 5.5h0m0-2.5h0m0 1h0m.5-1h0m0 1h0m0-2.5h0m0 2h0m0-3.5h0m.5 1h0m0 3h0m0-3.5h0m.5 0h0m0 2h0m0 1h0m.5-2h0m.5-.5h0m.5-1h0m.5 .5h0m.5 .5h0m-21.5 10h0m.5-.5h0m1.5 0h0m0-2.5h0m0 2h0m.5-2h0m0 2h0m0 .5h0m.5 0h0m0-3h0m.5 0h0m.5 3h0m0 1h0m0-3.5h0m0 2h0m0 1h0m.5-1.5h0m0 1h0m0 1h0m.5-.5h0m.5 .5h0m0-3.5h0m.5-1h0m0 4h0m0-1.5h0m.5-3h0m0 3h0m0 1h0m0-2.5h0m.5 3h0m0-3.5h0m0 1h0m.5 2h0m0-3.5h0m.5 3.5h0m0 1h0m0-5h0m0 2h0m.5 2.5h0m0-1.5h0m0-2.5h0m.5 4.5h0m0-4h0m0 1h0m0 2h0m.5 1h0m0-5h0m0 4h0m.5-3h0m0 4h0m.5-1h0m0-.5h0m.5 .5h0m0-2.5h0m0 1h0m0 1h0m0 1h0m0-1.5h0m0-3.5h0m.5 1h0m0 3.5h0m0-1.5h0m0 1h0m0-2.5h0m.5 1.5h0m0-.5h0m0-2.5h0m.5 3.5h0m0 1h0m0-1.5h0m0 1h0m0-2.5h0m.5 4h0m0-1.5h0m0-1.5h0m0-1.5h0m1 3h0m0-1.5h0m0 1h0m0-2.5h0m.5 .5h0m.5 2.5h0m0-4h0m.5 2h0m.5 0h0m.5 2h0m0-3.5h0m.5 1.5h0m.5-1h0m-25 10h0m1.5-4h0m0 2h0m1 1h0m.5 0h0m0 1.5h0m.5-1h0m.5 1h0m0-2.5h0m.5-1h0m0 1.5h0m.5 0h0m.5 1h0m0 1h0m0-4.5h0m0 2.5h0m.5 .5h0m0-.5h0m0 2h0m.5-.5h0m1 .5h0m0-.5h0m0-3.5h0m0 1h0m.5 3h0m0-3.5h0m0 1h0m0 1h0m.5 1h0m0-.5h0m.5-.5h0m.5 .5h0m0 1h0m0-4.5h0m0 1.5h0m.5-2h0m0 1h0m.5 3.5h0m0-3.5h0m0-.5h0m.5-.5h0m0 3h0m0 1h0m0-4.5h0m0 1h0m1 2.5h0m0-3h0m.5 2.5h0m0 1h0m0-3.5h0m0 2h0m0-2.5h0m.5 0h0m0 1h0m0-.5h0m0 2h0m.5-.5h0m0 2h0m0-2.5h0m0 1h0m0 1h0m0 1h0m0-3.5h0m.5 0h0m0 2h0m0 1h0m0-3.5h0m.5 5h0m0-5h0m0 .5h0m.5 0h0m0 1h0m0 2h0m0 1h0m0-2.5h0m0 1h0m.5 2h0m0-2.5h0m0 2h0m0-4.5h0m0 3h0m.5 1.5h0m0-2.5h0m.5-1.5h0m0 3h0m.5 0h0m0-4h0m.5 1.5h0m0-1.5h0m.5 2h0m.5 0h0m0 1h0m0-2.5h0m0 2h0m0 1h0m0-3.5h0m1 1.5h0m0-.5h0m.5 4.5h0m0-4.5h0m0-.5h0m0-.5h0m.5 2.5h0m1.5-2.5h0m-29 10.5h0m2-3h0m3 .5h0m.5 3.5h0m0-.5h0m.5-4.5h0m.5 5h0m0-3.5h0m0-.5h0m0 1h0m0 1h0m.5 1.5h0m.5 .5h0m0-.5h0m0-2.5h0m0 2h0m0-3.5h0m.5 .5h0m0 4h0m.5-2h0m.5 1h0m0-.5h0m0 1h0m0-4.5h0m.5 1.5h0m0 1.5h0m.5-2.5h0m0 1h0m0 2h0m0 1h0m.5-3h0m0 1h0m0-1.5h0m.5 0h0m0-.5h0m.5 3h0m0-2.5h0m0 1h0m.5 3h0m0-4.5h0m.5-.5h0m0 1h0m0 2h0m0 2h0m0-4.5h0m0 3h0m.5-4h0m0 1h0m0 3h0m0-2.5h0m.5 1.5h0m0-1.5h0m0-.5h0m0 4.5h0m.5-1h0m0-2.5h0m0 1h0m0-1.5h0m0 2h0m.5-2h0m0 1h0m.5 3h0m0-1.5h0m0-1.5h0m.5 1.5h0m0-3.5h0m0 4h0m0-4.5h0m0 1h0m.5 1h0m0 .5h0m0 1h0m0 1h0m0 1h0m.5-1h0m0-4h0m0 2h0m.5-2h0m0 2h0m0 1h0m0-3.5h0m.5 1.5h0m0-1h0m.5 4.5h0m.5-1.5h0m0-3.5h0m0 3h0m0 1h0m0 1h0m0-4.5h0m0 1h0m.5 3h0m0 1h0m0-5.5h0m0 1h0m.5 1h0m0-1.5h0m.5 5h0m0-1h0m0-3.5h0m.5 3h0m0-3.5h0m.5 4h0m0-2.5h0m0 3h0m0-1.5h0m.5 1.5h0m0-5h0m.5 1.5h0m0 1h0m0-2.5h0m0 2h0m0 1h0m.5 2.5h0m0-1h0m0-3.5h0m.5-.5h0m.5 0h0m0 1h0m1 3h0m.5-4h0m-26.5 9h0m1.5 2h0m2.5-3.5h0m.5 3.5h0m0-3.5h0m0 3h0m0-2.5h0m.5 0h0m0-2.5h0m.5 1.5h0m.5 2h0m.5 2h0m0-3.5h0m.5-.5h0m0 .5h0m1 2h0m0 1h0m.5-2h0m0 2h0m.5-1.5h0m0-1.5h0m.5-1h0m0 4h0m0-3.5h0m.5-1h0m0 3h0m0-1.5h0m0 2h0m.5 1.5h0m0-.5h0m0-4h0m.5 2.5h0m0-2.5h0m.5 2h0m0 1.5h0m.5 0h0m0-4h0m0 2h0m0 1h0m.5-.5h0m0 1.5h0m0-4.5h0m0 2h0m.5 2.5h0m0 .5h0m1-3h0m0 1h0m0 2h0m.5-2h0m0 1h0m0-3h0m.5 2.5h0m0 1h0m0 1h0m.5-3h0m0-2.5h0m.5 5.5h0m0-4h0m.5 2h0m0-3.5h0m0 1h0m0 1h0m0 1h0m.5-.5h0m0 2h0m0-2.5h0m.5-.5h0m0 1h0m0-.5h0m.5 .5h0m.5 1.5h0m0 1.5h0m.5-2.5h0m0 1h0m.5-2.5h0m0 1h0m0 1h0m.5-.5h0m0-3h0m.5 4h0m0-3.5h0m0 1h0m0 1h0m.5 1.5h0m0-3.5h0m0 1h0m0 1h0m0 1h0m.5 1.5h0m0-2.5h0m0-2.5h0m.5 4.5h0m.5-2.5h0m.5-1.5h0m0 2h0m0-.5h0m.5-2h0m.5 0h0m-27 11h0m0 .5h0m2.5-2h0m0-2h0m1 3h0m.5-4h0m0 1.5h0m.5 2.5h0m0 1h0m0-3.5h0m0 2h0m.5-3.5h0m.5 1.5h0m0 2h0m0-2.5h0m0 1h0m.5-2h0m0 1.5h0m0 1h0m.5 2.5h0m0-1.5h0m0-.5h0m.5-.5h0m0 2h0m0-3.5h0m0 2h0m.5-.5h0m0 1h0m0-4h0m0 1h0m0 4.5h0m.5-.5h0m0-1.5h0m0 1h0m.5-.5h0m0-.5h0m0 1h0m0-3.5h0m.5 3.5h0m0-4.5h0m0 1h0m0 .5h0m.5 1.5h0m0-2.5h0m.5-.5h0m0 4.5h0m0-2.5h0m0 3h0m0-2.5h0m.5 .5h0m0 1.5h0m.5-2.5h0m0 2h0m0-3.5h0m0-.5h0m0 1h0m.5 2h0m0 2h0m0-1.5h0m0-3.5h0m0 1h0m.5-1h0m0 4h0m.5 0h0m0-3.5h0m0 1h0m.5 .5h0m0 1h0m0 1h0m0-3.5h0m0 2h0m.5-1h0m0 2h0m0-2.5h0m0 2h0m0 1h0m.5-3h0m.5 .5h0m0 3h0m0-3.5h0m.5 2h0m0-.5h0m.5-1h0m0 1h0m0-.5h0m.5 1h0m0 2h0m0-2.5h0m0 2h0m.5-2h0m0 1h0m0 1h0m0-3.5h0m0 3h0m0-3.5h0m.5 1h0m.5 1.5h0m.5-2.5h0m0 .5h0m.5 .5h0m0 2h0m.5 1.5h0m0-.5h0m0-4.5h0m0 2h0m.5-1h0m0 3h0m0-2.5h0m0 1h0m.5 0h0m0 1h0m.5-.5h0m0 2h0m0-5h0m.5 2.5h0m0 1h0m0 2h0m.5-3.5h0m0 2h0m.5-1h0m0-1.5h0m.5-1.5h0m0 .5h0m0 2h0m0 1h0m.5-3h0m.5 0h0m0 .5h0m.5 3.5h0m0-3.5h0m0 4.5h0m.5-2.5h0m1.5 1.5h0m-29.5 4h0m2.5-.5h0m1.5 1h0m0 2h0m1-5h0m0 4.5h0m0 1h0m.5-2h0m0-3.5h0m0 1h0m.5 4.5h0m.5-1h0m0-4h0m.5 2.5h0m0-3h0m.5 1h0m0 3.5h0m0-.5h0m.5-3.5h0m.5 4.5h0m.5 .5h0m0-1.5h0m.5-2h0m0 3.5h0m0-5h0m.5-.5h0m.5 3h0m0-2h0m0 1h0m.5-.5h0m0 .5h0m.5 0h0m0 3h0m0-.5h0m0 1h0m.5-5h0m.5 2.5h0m0 2h0m0-4.5h0m0 1.5h0m.5 .5h0m0 3h0m0-3.5h0m0 2h0m.5 1.5h0m0-3.5h0m0 1h0m1-2.5h0m0 3h0m0-2.5h0m0 1h0m0 3.5h0m.5-3h0m0 3h0m0-4.5h0m.5 4h0m.5-3h0m0 1h0m0 1h0m0 1h0m0-5h0m.5 5.5h0m0-.5h0m0-4.5h0m0 3h0m0-2.5h0m.5 4.5h0m0-1.5h0m0 1h0m0-2.5h0m1-1h0m0 2h0m0 1h0m.5-2h0m0 2h0m.5-3.5h0m0 1h0m0 .5h0m0 2h0m.5 1h0m0-2h0m0-3.5h0m0 1h0m.5 3h0m0-2.5h0m0-.5h0m.5 3.5h0m0-1.5h0m0 1h0m0-3.5h0m0 2h0m0-2.5h0m.5 4h0m0-1.5h0m0 1h0m1-.5h0m0-2.5h0m0-.5h0m0 5.5h0m.5-1.5h0m0 1h0m0-4.5h0m.5 2h0m.5 3h0m0-1.5h0m.5 1h0m0-2.5h0m.5 .5h0m0-1.5h0m0 1h0m0 1h0m.5-3h0m0 3h0m.5-2h0m0 .5h0m.5 1.5h0m-24 5.5h0m.5-3h0m.5 5h0m0-5h0m1.5 3h0m0-2.5h0m0 5h0m.5-3.5h0m.5 2h0m0 1h0m0-1.5h0m0 1h0m.5-1.5h0m0 2h0m.5-2h0m0 .5h0m0 2h0m.5-1h0m0 1h0m0-3.5h0m0 2h0m.5 0h0m0 1h0m0-3.5h0m0 1h0m0-2.5h0m.5 5.5h0m0-.5h0m0-3.5h0m.5 3.5h0m0-3.5h0m0 4h0m.5-3h0m0-.5h0m.5 1h0m0 1h0m.5 1.5h0m0-1.5h0m0-4h0m0 1h0m.5 1.5h0m0 1h0m.5-1.5h0m0-2h0m0 1h0m.5 2.5h0m0 1h0m0 1h0m0-.5h0m.5-4.5h0m0 3h0m.5 1.5h0m0-3.5h0m.5 .5h0m0 2h0m0-3.5h0m0 5h0m.5-2.5h0m0 2h0m0-.5h0m0-4.5h0m.5 3h0m0 2.5h0m0-5.5h0m.5 4h0m0-2.5h0m0 1h0m.5 2h0m0-2.5h0m.5-1.5h0m0 5h0m.5-1.5h0m0 1h0m0-1.5h0m.5 1.5h0m0-.5h0m0-4.5h0m.5 4h0m0 1h0m0-3.5h0m0-1.5h0m0 1h0m1 4h0m0 .5h0m0-4.5h0m0 1h0m.5-1h0m0 3h0m0 1h0m0-1.5h0m.5-1h0m0 1h0m0-1.5h0m0 1h0m.5 1h0m0-2.5h0m0-.5h0m.5 2h0m.5-.5h0m.5-2h0m0 2h0m0 1.5h0m.5-1.5h0m0 3h0m.5-3h0m0 2h0m0-1.5h0m0 2h0m0-4.5h0m0 1h0m.5 1.5h0m0 2.5h0m0-5.5h0m.5 5h0m.5-4.5h0m0 1h0m0 3h0m0-4.5h0m0 2h0m0 1h0m.5 1h0m.5-3.5h0m-25 10.5h0m.5-.5h0m1-1h0m.5-1h0m.5 2h0m.5-.5h0m0 1h0m0-5h0m0 3h0m.5-2.5h0m0 1h0m.5 4h0m.5-5h0m0 5h0m.5-5h0m0 2.5h0m0 1h0m.5-2h0m.5 .5h0m0 2h0m0-3.5h0m0 2h0m.5 .5h0m0-2.5h0m.5 .5h0m0 2h0m0 2h0m0-4.5h0m0 1h0m.5 2.5h0m0-2.5h0m.5 2h0m0-4h0m0 1h0m.5 1.5h0m0-1.5h0m.5 2.5h0m0-3h0m.5 3.5h0m0-1.5h0m.5 1.5h0m0 1h0m0-.5h0m0-1.5h0m.5 .5h0m0-2.5h0m0 1h0m0 1h0m1 1h0m0-2.5h0m0 2h0m0-1.5h0m.5 2h0m0-3.5h0m0 4h0m0-4.5h0m.5 1.5h0m0-.5h0m0 1h0m0 2h0m.5 1h0m0-4.5h0m0 5h0m.5-.5h0m0-3.5h0m0 1h0m0 1h0m.5 .5h0m0-3.5h0m0 2h0m0 2h0m0 1h0m.5-1.5h0m0-.5h0m0-3.5h0m0 1h0m.5 3h0m0 1h0m0-3.5h0m0 2h0m.5 0h0m0-3.5h0m0 4h0m0-3.5h0m0 1h0m.5 2h0m0-1.5h0m0 1h0m.5-3h0m0 2h0m0-1.5h0m.5 3h0m0-2.5h0m.5 3h0m0-4h0m0 3h0m.5 1h0m0-3.5h0m0 4h0m0-1.5h0m.5 .5h0m0-.5h0m.5-2.5h0m0 3h0m0-3.5h0m0 2h0m.5 2.5h0m0-2.5h0m0 1h0m0 1h0m0-3.5h0m.5 1.5h0m.5 1h0m.5 1.5h0m0-.5h0m.5-1h0m0 1h0m.5 1h0m0-3h0m1 3h0m.5 0h0m0 .5h0m.5-5h0m4 0h0m-27 6.5h0m.5-.5h0m.5 1h0m0 1h0m.5-.5h0m.5-.5h0m0 1h0m.5 0h0m.5-2.5h0m.5 4h0m0 1.5h0m0-5.5h0m.5 1h0m0 1h0m0 1h0m0 2h0m0-2.5h0m0 2h0m.5-1.5h0m0-.5h0m0-.5h0m.5 2h0m0 1h0m0-5h0m1 5h0m.5-3.5h0m0 2h0m0-2.5h0m.5 4h0m0-5h0m.5 2h0m.5 3h0m0-3h0m0 1h0m.5 2.5h0m0-5.5h0m0 2h0m0-1.5h0m.5 1h0m0 4h0m0-5.5h0m0 2h0m.5-1h0m0 3h0m0 1h0m0-4.5h0m0 1h0m0 2h0m0 2h0m.5 0h0m0-5.5h0m0 4h0m.5-2.5h0m0 2h0m0 2h0m.5-5h0m0 1h0m0 1h0m.5-1.5h0m0 2h0m0 .5h0m.5-2.5h0m0 1h0m.5 .5h0m0 3h0m1-3.5h0m.5 2h0m0 1h0m0-3.5h0m0 1h0m0 1h0m0 2h0m0-3.5h0m.5 2h0m0-2.5h0m.5-1.5h0m0 4h0m.5-1.5h0m0 1h0m0 2h0m0-4.5h0m.5 3.5h0m0 1h0m0-1.5h0m0 1h0m0-4.5h0m.5 4.5h0m0-4.5h0m.5 3.5h0m0-1.5h0m0 3h0m.5-3h0m0 3h0m0-3.5h0m1 .5h0m0 1h0m0 1h0m0-2.5h0m0 1h0m.5-2.5h0m0 5h0m.5 0h0m0-2.5h0m.5 .5h0m0 2h0m.5-.5h0m.5-5h0m0 1h0m0 1.5h0m.5 1.5h0m0-2.5h0m0 4h0m0-2.5h0m.5-3h0m.5 4.5h0m2-1h0m-26 6h0m1.5 .5h0m0-3h0m.5 1h0m1 2h0m0-3.5h0m0 1h0m.5 1.5h0m.5-2h0m0 .5h0m0 1h0m0 2h0m.5-1h0m0 2h0m0-5.5h0m.5 4h0m0-4h0m.5 .5h0m0 .5h0m0 2h0m.5 2h0m0-3.5h0m0-1.5h0m.5 .5h0m0 2h0m0 3h0m0-3.5h0m.5 0h0m0 1h0m0 .5h0m.5 1h0m.5-1h0m.5 2h0m0-5.5h0m.5 1.5h0m0 2h0m0 1h0m0-3.5h0m.5-.5h0m.5 2h0m0 3h0m.5-1h0m.5-.5h0m0 1h0m0-4.5h0m0 1h0m0 2h0m0-3.5h0m0 1h0m.5 4h0m0-1.5h0m0-1.5h0m0 2h0m.5 1.5h0m0-3.5h0m.5 2h0m0-.5h0m0-.5h0m.5 1.5h0m0-1.5h0m.5 1h0m0-1.5h0m0 2h0m.5 0h0m0-3.5h0m0-.5h0m.5 4.5h0m0-4.5h0m0 2h0m0 2h0m.5-4h0m0 1.5h0m.5 3.5h0m0-5.5h0m0 1h0m0 1h0m.5 1.5h0m0 1h0m0 1h0m0-4.5h0m0 3h0m.5-1.5h0m0 3h0m.5-4h0m0 3h0m0-3.5h0m0 1h0m.5 .5h0m0 1h0m.5-.5h0m0 2h0m0-2.5h0m.5-1h0m0 1h0m0 1h0m0 2h0m0-5.5h0m0 4h0m.5-2.5h0m0 2.5h0m.5-.5h0m1 .5h0m0-2.5h0m0 1.5h0m1 2h0m0-5h0m0 1h0m.5 3h0m0-2.5h0m.5 0h0m.5 0h0m0-1h0m-21.5 11h0m.5-5.5h0m.5 3.5h0m.5-2.5h0m.5 3.5h0m0-3h0m.5-.5h0m0 1h0m.5 3.5h0m0-1.5h0m.5-2.5h0m0-1.5h0m.5 3.5h0m0-3.5h0m0 2h0m.5 0h0m0 2h0m.5 0h0m0-4h0m.5 2.5h0m.5-1.5h0m0 3h0m0-4h0m.5 4.5h0m0-4.5h0m0 3h0m0-2.5h0m.5 2h0m0 2h0m0-2.5h0m.5-.5h0m0 2h0m0 2h0m0-1.5h0m.5-4h0m0 1h0m0 1h0m0 3h0m0-3.5h0m0 2h0m0 1h0m.5-1h0m0 2h0m.5-1.5h0m0-2.5h0m0 3h0m.5-4h0m0 1h0m0 1h0m0 1h0m.5 0h0m0-3.5h0m.5 2h0m0 1h0m.5-.5h0m0 1h0m0-3.5h0m0 .5h0m.5 4.5h0m0-3.5h0m0-1.5h0m.5 5h0m0-5h0m.5 5.5h0m0-3.5h0m0 1h0m.5 1h0m0 1h0m0-4h0m.5 1h0m0-.5h0m1 3.5h0m0-3.5h0m0 4h0m.5-4.5h0m0 1h0m.5 .5h0m0 3h0m0-2.5h0m.5 .5h0m0-1.5h0m0 1h0m.5-2.5h0m0 4.5h0m0-2.5h0m0 1h0m0-1.5h0m.5 .5h0m0 2h0m0-4.5h0m0 2h0m1 2.5h0m0-4.5h0m0 5h0m0-4.5h0m.5 0h0m0 1h0m0-.5h0m.5 0h0m0 1h0m0 1h0m0 1h0m.5-4h0m0 1h0m0 1h0m0 2h0m.5 .5h0m.5-.5h0m0 1h0m.5-2.5h0m0-2.5h0m.5 5.5h0m0-5.5h0m4.5 4h0m-27 4h0m1-1h0m.5 .5h0m0 1h0m.5-1.5h0m1 2h0m.5 .5h0m0 2h0m0-5.5h0m.5 5h0m0-1h0m.5 .5h0m0-4.5h0m0 2.5h0m.5 1.5h0m0-3.5h0m.5 .5h0m0 2h0m0-1.5h0m.5-1.5h0m0 3h0m0-2.5h0m.5 1h0m0 3h0m0-2.5h0m.5 1.5h0m0-2.5h0m0 2h0m.5 0h0m0 1h0m0 1h0m0-1.5h0m0 1h0m.5-2h0m1 1h0m0 2h0m0-.5h0m.5 0h0m0 .5h0m0-4.5h0m0 1h0m.5 .5h0m0-2.5h0m0 3h0m.5-2.5h0m0 5h0m0-5.5h0m0 3h0m.5-.5h0m0-1.5h0m0 1h0m0 3h0m.5-2h0m.5 .5h0m0 2h0m0-5h0m0 2h0m.5 2.5h0m0-.5h0m0 1h0m0-5.5h0m0 2h0m.5 0h0m0-1.5h0m.5 4h0m0 1h0m0-4.5h0m0 1h0m0 2h0m.5-1h0m.5 .5h0m0 2h0m.5-2.5h0m0-1.5h0m0 3h0m1-2h0m0-2.5h0m0 1h0m0 2h0m.5-.5h0m0-.5h0m0 1h0m.5 1.5h0m0-4.5h0m0 3h0m0-2.5h0m.5 4h0m0-3.5h0m0 2h0m.5 0h0m.5 .5h0m0 1.5h0m0-3.5h0m.5-1h0m0 3.5h0m.5-.5h0m0 2h0m0-4.5h0m0 1h0m0 .5h0m1 1.5h0m.5-1h0m.5-3h0m0 1h0m0-.5h0m.5 2h0m.5-.5h0m0 1h0m.5 2.5h0m0-3.5h0m0-1.5h0m.5 2h0m0-.5h0m.5 2.5h0m0-.5h0m1-2h0m-22 6.5h0m0 1h0m0-2.5h0m0 2h0m0 1h0m0-3.5h0m0 1h0m.5 3.5h0m0-2.5h0m0-2.5h0m.5 4h0m.5-2.5h0m0 2h0m.5 0h0m0-.5h0m0-1.5h0m.5-1.5h0m0 2h0m0 1h0m0-2.5h0m.5 4.5h0m.5-3.5h0m0 .5h0m0-1.5h0m.5 4h0m0-3.5h0m0 1h0m1 3h0m0-3.5h0m0 4h0m0-5.5h0m0 2h0m.5-.5h0m0 3h0m0-.5h0m0-3.5h0m.5 4h0m0-4.5h0m.5 4.5h0m0 1h0m0-4.5h0m0 1h0m0 2h0m0-3.5h0m0 1h0m.5 4h0m0-4.5h0m0 2h0m0 2h0m0-4.5h0m.5-.5h0m0 1h0m0 1h0m0-.5h0m.5 .5h0m0 1h0m0-2.5h0m0 2h0m0 2h0m0 1h0m.5-1h0m0-3.5h0m.5 1.5h0m0 2h0m0-4.5h0m.5 3h0m0 1h0m0 1h0m0-4.5h0m0 1h0m.5 1h0m0 3h0m0-4.5h0m0 3h0m0-3.5h0m.5 3h0m0 .5h0m0 1h0m0-4.5h0m.5 3h0m0 2h0m0-4.5h0m0 2h0m.5 .5h0m0-3.5h0m0 3h0m.5-.5h0m.5-2.5h0m0 4.5h0m.5-1h0m0 1.5h0m0-4.5h0m0 1h0m.5 2.5h0m0-4h0m.5 3.5h0m0 2h0m0-4.5h0m0-.5h0m0 4.5h0m.5-2.5h0m0-1.5h0m0 2h0m0-2.5h0m0 1h0m.5-.5h0m0 2h0m0-2.5h0m.5 3.5h0m0 1h0m0-4.5h0m0 1h0m0 2h0m0 1h0m0-4.5h0m.5 0h0m0 1h0m0 1h0m.5-.5h0m.5 2h0m0 2h0m0-3.5h0m0 2h0m0 1h0m.5-1.5h0m0-3.5h0m0 3h0m0 2h0m.5-3h0m0-1.5h0m.5 4.5h0m0-1.5h0m0-.5h0m1-2.5h0m0 3.5h0m1-4h0m0 2.5h0m.5 2h0m0-1.5h0m0-1.5h0m.5 3h0m1.5-3.5h0m1 3.5h0m-27 4h0m3.5 3h0m0-4.5h0m1 2.5h0m0-2.5h0m0 1h0m.5 2h0m.5-2h0m.5-.5h0m.5 .5h0m0 2h0m.5-4h0m.5 3.5h0m0 2h0m0-5.5h0m0 1h0m0 1h0m.5 1.5h0m0-2.5h0m0 4h0m.5-2.5h0m0 2h0m0 1h0m.5-1h0m0-2.5h0m0-.5h0m.5-.5h0m0 2.5h0m0 1h0m.5-2h0m0 2h0m0-3h0m.5 1.5h0m0-2.5h0m.5 5h0m.5-3h0m0 3h0m.5-5.5h0m1 2.5h0m.5 1h0m0 2h0m0-5.5h0m0 2h0m0-1.5h0m.5 5h0m.5-.5h0m.5-.5h0m0-1.5h0m0 1h0m.5-2.5h0m0-.5h0m0 1h0m.5 3.5h0m0-5.5h0m0 1h0m0 2h0m.5-1.5h0m0 2h0m0 2h0m0-4.5h0m0 2h0m0 1h0m.5-4h0m0 4h0m0-3.5h0m0 2h0m.5 2h0m0-3.5h0m0 2h0m0 2h0m0-3.5h0m.5 2h0m0-2.5h0m0 2h0m.5-.5h0m0 1h0m0 2h0m0-5.5h0m0 4h0m.5-.5h0m0 2h0m0-1.5h0m.5-1h0m0-1.5h0m0 2h0m0-3.5h0m.5 4.5h0m0-4.5h0m.5 5.5h0m.5-4.5h0m0 1h0m0 2h0m.5-2h0m0 2h0m.5 0h0m0 1h0m0-2.5h0m0 1h0m0-3.5h0m0 4.5h0m0 1h0m0-4.5h0m.5 1h0m0-.5h0m.5 3.5h0m0 .5h0m0-1.5h0m.5-3.5h0m0 2h0m0 1h0m1-.5h0m0-1.5h0m0 4h0m1.5-1h0m0-4.5h0m.5 4.5h0m1.5-3.5h0m-25 6.5h0m1.5 3h0m.5-2.5h0m.5-.5h0m1 3.5h0m0 .5h0m0-3.5h0m1 .5h0m.5-1h0m0 3.5h0m.5-3h0m.5 1.5h0m.5-1h0m0 2h0m0-4.5h0m0 3h0m.5-2h0m0 1.5h0m0 1h0m.5 0h0m0-3.5h0m0 3h0m.5 2h0m.5 .5h0m0-2.5h0m.5-2h0m0 2h0m0 1h0m0 1h0m.5-2.5h0m0 1h0m0 .5h0m0 1h0m0-3.5h0m.5 3.5h0m0-1.5h0m.5 2h0m0-3.5h0m.5-.5h0m0 1h0m0-1.5h0m.5 3.5h0m.5 0h0m0-1.5h0m0 1h0m.5-4h0m0 1.5h0m.5 0h0m.5 3h0m0-4.5h0m0 2h0m0 1h0m0 1h0m0 1h0m.5-2.5h0m0 2h0m0-4.5h0m0 2h0m0 1h0m.5 0h0m0-2.5h0m0 2h0m.5 1h0m0-2.5h0m0 3h0m0-1.5h0m.5 2h0m0 1h0m0-3.5h0m0-1.5h0m0 2h0m.5-1.5h0m0 3h0m.5 1.5h0m0-4.5h0m0 2h0m0-1.5h0m0 1h0m0 1h0m.5 0h0m0 .5h0m0-1.5h0m.5 .5h0m0-1.5h0m.5 3h0m0 1h0m0-4.5h0m0 3h0m.5-1h0m0 1h0m0-3.5h0m0-.5h0m.5 4.5h0m0-4h0m.5 3h0m0-2.5h0m0-.5h0m0 1h0m0 1h0m.5 1.5h0m.5-3.5h0m0 1h0m0-1.5h0m0 5.5h0m0-2.5h0m.5-2h0m0 2h0m0 1h0m0-1.5h0m.5-1h0m0 2h0m0-.5h0m0-2.5h0m.5-.5h0m0 1h0m0-.5h0m0 2h0m.5-2h0m0 4h0m.5-3.5h0m0 1h0m0 1h0m0-3h0m.5 4h0m.5-.5h0m0 1.5h0m.5 .5h0m.5-.5h0m.5-.5h0m-21.5 2h0m1-.5h0m0 2h0m.5 0h0m0 1.5h0m1-.5h0m0 1h0m0-3.5h0m.5 .5h0m.5 4.5h0m0-3.5h0m.5 3.5h0m0-3.5h0m.5-1.5h0m.5 5h0m0-2.5h0m.5 2.5h0m0-4.5h0m0 1h0m0 1h0m0-2.5h0m0 1h0m.5 2h0m0-3.5h0m0 .5h0m.5 3.5h0m0 1.5h0m.5-2h0m0 2h0m0-2.5h0m0 1h0m0 1h0m0-4.5h0m.5 3h0m0 2h0m0-5.5h0m0 1h0m.5 3h0m.5-2h0m0 1.5h0m.5-3.5h0m0 .5h0m0 1h0m0 1h0m.5 2h0m0-4.5h0m0 5h0m.5-5h0m.5 2.5h0m0 1h0m.5-1.5h0m0 1.5h0m0-3.5h0m.5 3h0m0-2.5h0m.5 .5h0m0 1h0m0 2h0m0-1.5h0m.5 1h0m0 2h0m0-3.5h0m0 3h0m.5-.5h0m0-4h0m.5 3h0m0-2.5h0m0 1h0m0 3h0m0-4.5h0m.5 3h0m0-3.5h0m.5 2h0m0-1.5h0m.5 1.5h0m0 2h0m0 1h0m0-3.5h0m0 1h0m0 1h0m0-2.5h0m.5 3.5h0m0-4.5h0m.5 1h0m0 1h0m0-2h0m.5 4h0m0-1.5h0m.5 2.5h0m0-3h0m.5 2.5h0m0-1.5h0m0-.5h0m.5-1h0m0 4h0m0-4.5h0m.5 3.5h0m0-1.5h0m0-2.5h0m.5 5h0m0-1.5h0m0-2.5h0m0 2h0m0-3.5h0m.5 5.5h0m0-4.5h0m0-.5h0m0 3h0m.5 2h0m0-1.5h0m.5 1h0m0-4h0m.5 4.5h0m0-5h0m.5 0h0m0 5h0m.5-1h0m0 1h0m0-2.5h0m0 2h0m0-2.5h0m.5-1.5h0m.5 1h0m3 1.5h0m1-.5h0m0 1h0m-27 2.5h0m3 1h0m.5 2h0m.5 1.5h0m.5-5h0m.5 0h0m.5 5.5h0m.5-1h0m0-3.5h0m.5 .5h0m0 1h0m0 3h0m1-5.5h0m0 5.5h0m.5-1.5h0m.5 .5h0m0-1.5h0m0 1h0m0 1h0m.5-.5h0m.5-4.5h0m0 4h0m.5 1.5h0m0-2.5h0m1-2.5h0m0 3.5h0m.5-2h0m0 1h0m0-1.5h0m.5 0h0m0-.5h0m0 3h0m0-3.5h0m1 1.5h0m0 2h0m0 1h0m0-2.5h0m0-2.5h0m.5 4.5h0m0-3.5h0m0 3h0m.5 1.5h0m0-5.5h0m0 1h0m0 3h0m1 0h0m0 1h0m0-.5h0m.5-4.5h0m0 1h0m0 1h0m.5-1h0m0 1h0m0 2h0m.5 .5h0m0-.5h0m.5-4h0m0 3.5h0m.5 1h0m0-2.5h0m0 3h0m0-4.5h0m0 1h0m0 1h0m.5 1.5h0m0-2.5h0m.5 2.5h0m0-1.5h0m.5-2h0m0 1h0m0 1h0m0-2.5h0m.5 .5h0m0 4h0m0-4.5h0m.5 5h0m0-.5h0m.5-1h0m.5 1h0m0 1h0m0-2.5h0m0 2h0m0-4.5h0m0 1h0m0 1h0m0 1h0m0-3.5h0m.5 0h0m0 1h0m0 4.5h0m0-5h0m.5 1.5h0m0-1.5h0m0-.5h0m0 1h0m.5-1h0m0 4.5h0m0 1h0m0-3h0m.5-.5h0m0-1.5h0m.5 4.5h0m0-4.5h0m.5 .5h0m0 2h0m0 1h0m0-2.5h0m.5 2h0m0-.5h0m.5 1h0m0-3.5h0m0 2h0m1 2.5h0m.5-4h0m0 3h0m.5-2h0m1.5 3h0m-22.5 3h0m0 .5h0m0-2.5h0m1.5 4.5h0m0-2.5h0m0-2h0m.5 4.5h0m0-3h0m0 1h0m.5 2.5h0m.5-3h0m0-.5h0m.5 1.5h0m.5-1h0m0 3h0m0-4.5h0m.5 5h0m0-4.5h0m.5-1h0m0 5.5h0m0-2.5h0m.5 1h0m0-3.5h0m0 2h0m0-2.5h0m0 1h0m.5 2.5h0m0-2.5h0m0 1h0m.5 1.5h0m0-3.5h0m.5 5h0m0-2.5h0m0 1h0m.5 2h0m0-4h0m0-.5h0m.5 3h0m0-2.5h0m0-.5h0m.5 1.5h0m0 1h0m0 1h0m0-4h0m.5 0h0m0 4h0m0-3.5h0m.5 1h0m0 3h0m0-3.5h0m.5 0h0m0 2h0m1-1.5h0m0 1h0m0-2.5h0m0 4h0m.5 .5h0m0-3.5h0m0-1.5h0m.5 2h0m0 3h0m0-5h0m.5 0h0m.5 0h0m0 5.5h0m.5 0h0m0-3h0m0 2h0m0-4.5h0m.5 1.5h0m0 2h0m0-2.5h0m0 1h0m0 1h0m0 2h0m.5-1.5h0m.5 2h0m0-4.5h0m.5 3h0m0-1.5h0m0 1h0m0 1h0m0-4.5h0m.5 .5h0m0-.5h0m0 1h0m0 2h0m0 2h0m.5-.5h0m0-3h0m0-1.5h0m1 5h0m0-2.5h0m.5 2.5h0m0-4.5h0m0 2h0m0 2h0m.5 1h0m0-3.5h0m0 1h0m0-1.5h0m.5 2h0m0 .5h0m0 1h0m.5-2h0m0 1h0m0 1h0m0-2.5h0m0 3h0m.5-5.5h0m.5 4.5h0m.5-1.5h0m0-2.5h0m.5 3h0m1 2h0m0-.5h0m.5 0h0m0-1.5h0m0 1h0m0 1h0m.5-5h0m4 4.5h0m-25 1.5h0m1.5 0h0m0 1.5h0m.5 0h0m1-.5h0m0 2h0m.5-3h0m0 2h0m.5 2.5h0m.5-2h0m.5 1h0m0 .5h0m.5-1h0m0-3.5h0m0 1h0m0 1h0m0-1.5h0m.5 1.5h0m0 3h0m0-4.5h0m0 .5h0m.5 3h0m.5-1h0m0 2h0m0-4.5h0m0 1h0m0 2h0m0 1h0m.5-3.5h0m0 1h0m0 3h0m.5-3.5h0m0 2h0m0-3.5h0m0 5.5h0m.5 0h0m0-4.5h0m.5 3h0m0-3.5h0m0 1h0m0 3h0m0 1h0m0-4.5h0m0 1h0m0 1h0m.5 1.5h0m0-2.5h0m0 3h0m.5-2.5h0m0 1h0m0 2h0m0-5.5h0m0 1h0m.5 0h0m0 1h0m0 2h0m0-1.5h0m.5-2h0m.5 5h0m0-4.5h0m0 2h0m0 1h0m0 1h0m0-3.5h0m0 2h0m0-3.5h0m.5 3h0m0 1h0m0-3.5h0m0 4h0m0 1h0m1 0h0m0-3.5h0m0 1.5h0m0-3.5h0m.5 1.5h0m0 2h0m.5-3h0m0 3h0m.5-.5h0m0 2h0m0-1.5h0m.5-1h0m0 1h0m0-3.5h0m0 3h0m0 1h0m.5-1h0m0 1h0m0-3.5h0m0 2h0m.5 3h0m0-2.5h0m0 1h0m0-1.5h0m0 1h0m.5-1h0m0-2.5h0m1 5.5h0m0-3.5h0m0 3h0m0-4.5h0m0 1h0m0-.5h0m.5 4.5h0m0-1.5h0m0 1h0m0-1.5h0m.5 .5h0m0 1h0m0-1.5h0m0-1.5h0m.5 .5h0m0 3h0m.5 0h0m0-3.5h0m.5 3.5h0m0-3.5h0m.5 2.5h0m.5 0h0m.5-3.5h0m.5 2h0m0 .5h0m.5 2h0m0-5.5h0m.5 5h0m.5-2h0m0 1h0m0 .5h0m1.5-.5h0m-20.5 5h0m1.5-3h0m.5 1.5h0m.5-1.5h0m0 1h0m.5-.5h0m.5 .5h0m0 4h0m.5 0h0m0-4.5h0m0 1h0m0 1h0m0-2.5h0m0 1h0m.5 4.5h0m0-2.5h0m0 .5h0m.5-3h0m0 5h0m.5-3h0m0 3h0m.5-.5h0m0 .5h0m.5-3.5h0m0 1h0m0 1h0m0-2.5h0m.5 2.5h0m.5-2.5h0m0 3h0m0-4.5h0m0 2h0m.5 .5h0m0-2.5h0m0 5.5h0m0-1.5h0m0 1h0m.5 0h0m0-3h0m.5 2h0m.5-2h0m0 2h0m0 1h0m.5 0h0m0-1.5h0m0-3.5h0m.5 3.5h0m0 1h0m.5-3h0m0 1h0m0-2.5h0m0 2h0m0 3.5h0m0-1.5h0m.5 0h0m0 1h0m0-3.5h0m.5 2.5h0m.5-.5h0m0 2h0m0-5.5h0m.5 5.5h0m0-2.5h0m0-2.5h0m0 1h0m0 1h0m0 1h0m.5 .5h0m0-2.5h0m0 1h0m0-2.5h0m0 1h0m.5 4.5h0m0-3.5h0m0 1h0m0-1.5h0m0 2h0m.5-.5h0m0 1h0m0 1h0m0-.5h0m0 1h0m.5-2h0m0 2h0m.5-4h0m0 1h0m0-1.5h0m0 2h0m0 1h0m.5-4h0m0 2h0m0 3h0m.5-4.5h0m0 1h0m0 2h0m0 1h0m0-2.5h0m.5 0h0m0 1h0m0 1h0m0-1.5h0m0 2h0m.5 1h0m0-3.5h0m0 1h0m0 1.5h0m0-4.5h0m.5 3.5h0m0-1.5h0m.5 .5h0m0 1h0m0 2h0m0-5.5h0m1 .5h0m0 4h0m.5-1h0m0-2.5h0m.5 3h0m0 1h0m.5-.5h0m0-2.5h0m0 1h0m.5 2.5h0m0-.5h0m0-3.5h0m1.5 2h0m.5-3.5h0m0 2h0m1 3h0m0 .5h0m-19.5 .5h0m0 1h0m.5 .5h0m.5 0h0m0-1.5h0m1 2h0m0-.5h0m.5-1.5h0m.5 3h0m.5-1.5h0m0 .5h0m.5-.5h0m0-1.5h0m0 1h0m.5-.5h0m0 1h0m0 3h0m0-3.5h0m0 4.5h0m.5-4.5h0m0-.5h0m0 3h0m0 1h0m.5-.5h0m.5-2h0m0 1h0m0 2h0m0-4.5h0m0 1h0m.5 1.5h0m.5-1.5h0m0 2h0m.5-3h0m0 1h0m0 1h0m0-1.5h0m1 3h0m0-2.5h0m0 1h0m0-2.5h0m0 2h0m.5 2.5h0m0-3.5h0m0 2h0m.5 2h0m0-4.5h0m.5 4.5h0m0-1.5h0m0-2.5h0m.5 0h0m.5 4h0m0-.5h0m0-4.5h0m0 1h0m.5 2h0m0-2.5h0m0 4h0m.5 0h0m0-1.5h0m.5 0h0m0-.5h0m0-2.5h0m.5 2.5h0m0 1h0m0-1.5h0m0 1h0m.5-1.5h0m0 2h0m.5-1h0m0 1h0m0-3.5h0m0 1h0m.5 2.5h0m0 1h0m.5-4h0m0 5h0m.5-3.5h0m0 1h0m0 2h0m0-3.5h0m0 2h0m.5 0h0m.5-2h0m.5 1h0m.5 1.5h0m0 1h0m0-4.5h0m0 .5h0m0 1h0m0 1h0m.5-1.5h0m0 1h0m.5 3h0m0-1.5h0m.5 .5h0m.5 0h0m.5 1h0m0-1h0m.5-.5h0m1.5 1h0m0-2h0m1 0h0m0 1h0m-21 3h0m3.5-.5h0m0-.5h0m1.5 2.5h0m.5 0h0m0-2.5h0m.5 3h0m0 1h0m0 1h0m.5-2.5h0m.5 0h0m.5 .5h0m.5-3h0m0 1h0m0 2h0m0-2.5h0m.5 4.5h0m0-3.5h0m0 2h0m.5-1h0m.5 1.5h0m0 1.5h0m0-4.5h0m.5 1h0m.5 1.5h0m0 1h0m0-4.5h0m.5 0h0m0 2h0m0-1.5h0m0 2h0m.5-1h0m0 1h0m0 1h0m0 1h0m0 1h0m.5-2.5h0m0 1h0m0-1.5h0m0 1h0m0 1h0m.5-3h0m0 3h0m0-3.5h0m0 2h0m.5 2h0m0-3.5h0m0 4h0m0-2.5h0m.5-2h0m0 3h0m.5-3h0m0 4h0m0-2.5h0m.5 1.5h0m0-3.5h0m0 3h0m0-2.5h0m0 2h0m1-3h0m0 1.5h0m.5 1h0m0 3h0m0-3.5h0m0 1h0m.5 2.5h0m0-1.5h0m0-.5h0m.5-3h0m0 1.5h0m.5-1h0m0 1h0m0 2h0m0-3.5h0m0 1h0m.5-.5h0m.5 3.5h0m0-2.5h0m0 2h0m0-2.5h0m0 1h0m.5 .5h0m0-2.5h0m0 4h0m.5 1h0m0-1.5h0m0-2.5h0m.5 3h0m0 1h0m0-4.5h0m0 4h0m.5-.5h0m0 1h0m0-2.5h0m.5 1h0m.5 1.5h0m.5-.5h0m.5 0h0m0-2h0m.5 0h0m.5 0h0m.5-1.5h0m0 2h0m0 1h0m0 1h0m.5-1h0m1 0h0m0-2.5h0m.5 2h0m-21 2h0m4 1h0m2-.5h0m.5 1.5h0m0-1.5h0m.5-.5h0m.5 0h0m.5 1.5h0m0 .5h0m1 .5h0m.5 1.5h0m0 1h0m0-2.5h0m0 1h0m0-.5h0m.5 2.5h0m0-3.5h0m0 1h0m0-2.5h0m.5 0h0m0 4.5h0m0-.5h0m0-2.5h0m.5 1.5h0m0 1h0m0-2.5h0m0-1.5h0m.5 3.5h0m0-2.5h0m0-1.5h0m0 1h0m.5 4.5h0m0-5.5h0m0 2h0m.5 2h0m0 .5h0m0-3.5h0m.5 .5h0m0 4h0m0-5.5h0m0 2h0m.5 3h0m0-3.5h0m0 4h0m0-5.5h0m0 1h0m0 2h0m.5 .5h0m.5-1h0m0 1h0m0 1h0m0-4.5h0m0 3h0m0-1.5h0m.5-.5h0m0 2h0m.5 1.5h0m.5-2h0m.5-1h0m0 4h0m0-2.5h0m.5 1h0m0-1.5h0m0 1h0m.5-.5h0m0 1h0m.5-2h0m.5 1.5h0m0-2h0m.5 0h0m.5 4h0m0-1.5h0m0-3.5h0m.5 1h0m0 1h0m0-1.5h0m0 2h0m.5-1h0m0 2h0m.5 .5h0m0-2.5h0m0 2h0m.5-3h0m0 1h0m0 2h0m0-2.5h0m.5 2.5h0m0-2.5h0m2 3h0m-14 1.5h0m.5 1h0m0 .5h0m1-1h0m.5 1h0m.5 1.5h0m.5-2h0m.5 2.5h0m0-2.5h0m.5 .5h0m0 3h0m0-3.5h0m1-1h0m0 .5h0m.5 .5h0m0 1h0m0-.5h0m0 1h0m0 1h0m.5 1h0m0 .5h0m0-4.5h0m.5 3h0m0 .5h0m0-2.5h0m.5 2h0m0 1h0m0-4.5h0m.5 5h0m0-3.5h0m0 1h0m0 2h0m0-4h0m.5 4.5h0m0-2.5h0m0-2.5h0m0 1h0m.5 0h0m.5-1h0m0 1h0m0 1h0m0 3h0m.5-2.5h0m0 2h0m0-4.5h0m0 1h0m0 .5h0m.5 4h0m0-5.5h0m0 4h0m.5-.5h0m0-1.5h0m0-1.5h0m.5 2h0m0 2h0m0 1h0m0-.5h0m.5-3.5h0m0 2h0m.5-1.5h0m0 1h0m0-2.5h0m.5 4h0m0-.5h0m.5-.5h0m0 1h0m0-4.5h0m.5 2.5h0m0 2h0m0-2.5h0m0 3h0m.5-1.5h0m0-2.5h0m0 2h0m0 2h0m0-3.5h0m.5 3h0m0-3.5h0m.5 1h0m0 1h0m0 1h0m.5 .5h0m0 1h0m0-1.5h0m0-3.5h0m0 1h0m.5-.5h0m0 4h0m0-2.5h0m0 2h0m.5-2h0m0 1h0m1 0h0m0 .5h0m0 1h0m.5-2h0m.5-1h0m2 3h0m-13 1h0m0 .5h0m.5 1h0m.5 2h0m0-2h0m.5-1h0m0 2h0m.5 1h0m0-1.5h0m0 .5h0m.5 0h0m0-.5h0m1 3.5h0m0-3.5h0m0 1h0m.5-3h0m0 2h0m.5 0h0m0-.5h0m0 1h0m0-1.5h0m.5 1.5h0m0 3h0m0-5.5h0m0 .5h0m.5 1.5h0m0 1h0m0 1h0m0-3.5h0m0-.5h0m.5 3h0m0 1h0m0 1h0m.5-2h0m0 1h0m0 1h0m0-4.5h0m0 1h0m0 1h0m.5 1.5h0m0 1h0m0-3.5h0m0 3h0m0 1h0m0-5.5h0m.5 .5h0m0 2h0m0 3h0m0-5.5h0m.5 4.5h0m0 1h0m.5 0h0m0-3.5h0m0 2h0m0-3.5h0m.5-.5h0m0 1h0m0 2h0m0 1h0m0-3.5h0m0 3h0m0 1h0m0 1h0m.5-2h0m0 1.5h0m0-4.5h0m.5 3h0m0-3.5h0m0 1h0m0 1.5h0m.5 3h0m0-2.5h0m.5-3h0m.5 4h0m0-3.5h0m.5 2h0m0 2h0m0 1h0m0-3.5h0m.5 2.5h0m0 1h0m0-3.5h0m0 3h0m.5-2.5h0m0 3h0m.5-3.5h0m0 1h0m0-.5h0m.5 3h0m0-4.5h0m.5 4.5h0m.5-2h0m.5 2h0m0-1.5h0m0 1h0m-9.5 3.5h0m0-2.5h0m.5 0h0m.5 1.5h0m0 1h0m.5-2.5h0m0 3h0m.5 1h0m0-1.5h0m0 .5h0m.5 2h0m0-3.5h0m.5-.5h0m.5 0h0m0 1h0m0 2.5h0m.5-1.5h0m0 1h0m0-2.5h0m0 1h0m0-2.5h0m.5 3h0m0 2h0m0-2.5h0m0 1h0m0-3.5h0m0 1h0m0 1h0m.5 3.5h0m0-3.5h0m0 1h0m0 1h0m.5-1h0m0-2.5h0m0-.5h0m.5 3.5h0m.5 .5h0m0-1.5h0m0-2.5h0m0 5.5h0m.5-1h0m0-2.5h0m0-1.5h0m.5 3h0m.5-3.5h0m.5 3.5h0m0 .5h0m.5-2h0m0 1h0m.5-.5h0m0 2h0m0 1h0m0-5.5h0m0 2h0m0 1h0m0 2h0m0-3.5h0m.5 3h0m0-3h0m.5 2h0m0 2h0m0-.5h0m0-4.5h0m1 .5h0m0 3h0m.5 1.5h0m0-3.5h0m.5 .5h0m0 1h0m.5 2h0m0-1.5h0m.5 1.5h0m0-3.5h0m1.5 3h0m34 .5h0m0-3.5h0m.5 3.5h0m3.5 0h0m1 0h0m0-2.5h0m1 2.5h0m2 0h0m2.5-1h0m0 1h0m1.5 0h0m5-3.5h0m8.5 3.5h0m-71.5 1h0m.5 .5h0m.5-1h0m.5 1.5h0m.5 .5h0m0 .5h0m1.5-2.5h0m0 2h0m0-.5h0m.5 2h0m0-3h0m.5 1.5h0m0 .5h0m.5 1.5h0m0-1.5h0m0 2h0m.5 0h0m0-1.5h0m0 1h0m0-.5h0m.5-1.5h0m.5 2.5h0m0-3.5h0m0 2h0m0-2.5h0m0 1h0m0 1h0m.5 1.5h0m0 .5h0m0 1h0m.5 0h0m0-4.5h0m0 3h0m0-3.5h0m0 1h0m0-1.5h0m.5 2.5h0m0 1h0m0-3.5h0m.5 4.5h0m0 1h0m0-4.5h0m.5 3h0m0-.5h0m.5-1.5h0m0-1.5h0m0-.5h0m.5 1h0m0 2h0m0-.5h0m.5 1.5h0m0-1.5h0m.5 1h0m0 .5h0m.5-2h0m0 2h0m0 1h0m0 .5h0m.5-2.5h0m0-1.5h0m0-.5h0m.5 3h0m0 1.5h0m0-2.5h0m1 2.5h0m0-3h0m.5 1.5h0m0-.5h0m2 .5h0m.5 1.5h0m.5 0h0m5.5 0h0m1.5 0h0m3-1h0m0 1h0m0-.5h0m1.5 .5h0m2-2h0m.5-.5h0m1.5 .5h0m1.5 2h0m.5-4h0m0 4h0m1-1h0m.5-.5h0m0 1h0m1-2.5h0m.5 2.5h0m.5-4.5h0m0 2h0m0 1h0m0 2h0m.5-.5h0m1-4.5h0m0 1h0m.5-1h0m.5 3h0m0 1.5h0m.5-1h0m.5 0h0m0-1.5h0m.5 2h0m0-.5h0m0-3.5h0m.5 0h0m1 4.5h0m2-2h0m0-2h0m1 3h0m0-2.5h0m0 1h0m0 1h0m0-1.5h0m.5-.5h0m1.5 3h0m0 1h0m0-3.5h0m1.5 1.5h0m0 1h0m.5-2h0m0 3h0m1-.5h0m.5-2h0m0 1.5h0m.5 1h0m0-5.5h0m0 1.5h0m.5 3.5h0m0-2.5h0m.5 1h0m.5-3h0m0 2h0m0-.5h0m.5-1h0m.5-1h0m.5 4h0m0-1.5h0m.5-.5h0m.5 1h0m.5-.5h0m.5 1.5h0m0-2h0m.5 2h0m0-1h0m.5 2h0m0-3.5h0m.5 3.5h0m0-1h0m.5-4h0m.5 .5h0m1 4h0m0 1h0m1-4h0m.5 2.5h0m0 1h0m0-3.5h0m0 2h0m0-3.5h0m.5 3h0m0-2.5h0m.5 .5h0m.5 3.5h0m.5 1h0m0-5.5h0m.5 5h0m0-1.5h0m0 1h0m.5 .5h0m0-2.5h0m.5-.5h0m.5 3h0m0 .5h0m.5-.5h0m0-.5h0m.5-1h0m0 1h0m0-3.5h0m.5 3.5h0m.5-4.5h0m0 3h0m.5-3h0m.5 4.5h0m0 .5h0m1-5h0m0 1.5h0m.5-1h0m1 3h0m0 1h0m.5 .5h0m0-3.5h0m.5 2.5h0m.5 1h0m0-1.5h0m0 .5h0m.5 1h0m0-3h0m.5 2.5h0m0 1h0m.5-3h0m0 1h0m0 1h0m0 .5h0m.5-2h0m0 2h0m0-.5h0m0 1h0m.5-1h0m0 1h0m0-5.5h0m.5 2h0m0 1h0m0-.5h0m0 2h0m.5-2.5h0m0 1h0m1 2h0m0-4h0m.5 4h0m0-.5h0m0 1h0m.5-1.5h0m0 1h0m0-1.5h0m0 1h0m0 1h0m0-4.5h0m.5 4h0m0-3.5h0m0 3h0m0-2.5h0m.5 1.5h0m0 2h0m0-2.5h0m0-1.5h0m0 1h0m.5 2h0m.5-.5h0m.5-4h0m0 2h0m.5 2h0m0-1.5h0m0 2h0m.5-2h0m1 2h0m.5 1h0m-78.5 .5h0m.5 4.5h0m.5-3.5h0m.5 3.5h0m0-4.5h0m0 2h0m0 2h0m0-3.5h0m.5 3.5h0m.5-4h0m.5 1.5h0m0 1h0m0 1h0m0-3.5h0m0 1h0m.5 2h0m0 1h0m0 1h0m0-4.5h0m0-.5h0m.5 3h0m0 1h0m.5 1h0m0-2.5h0m0-2.5h0m.5 4.5h0m0-2.5h0m0 2h0m.5-2h0m0 2h0m0 1h0m.5-.5h0m0-3.5h0m0 4h0m.5-1h0m0-2.5h0m0-1.5h0m.5 3.5h0m0-3.5h0m0 4.5h0m0 .5h0m.5-4h0m.5 4h0m0-4.5h0m0 3h0m0-3.5h0m.5 5.5h0m0-.5h0m0-1.5h0m0 1h0m0-3.5h0m.5 3.5h0m0-3.5h0m0 1h0m0 3h0m0-3.5h0m0-1.5h0m.5 3h0m0 2h0m0-4.5h0m0 1h0m.5 2h0m.5-2h0m0 .5h0m.5 3.5h0m0-1.5h0m.5 1.5h0m0-3.5h0m0-1.5h0m.5 .5h0m0 1h0m0 3h0m0-2.5h0m.5 2h0m0-3.5h0m0 3h0m.5-.5h0m.5-2h0m0 2h0m0 .5h0m.5-2h0m0 2.5h0m0 1h0m1-.5h0m.5 0h0m.5-1h0m0-2.5h0m0 2h0m0 2h0m.5-4.5h0m.5 4h0m.5-.5h0m0 1h0m0-3.5h0m0 2h0m0 1h0m0-3.5h0m0 2h0m1 2h0m0-1.5h0m0-3.5h0m0 3h0m.5-.5h0m0 1.5h0m.5-4.5h0m0 4h0m0 1h0m0-1.5h0m.5 2h0m.5-5.5h0m.5 5h0m.5-1h0m.5-2.5h0m.5 4h0m0-.5h0m0-2.5h0m0-1.5h0m1 3.5h0m0-4.5h0m0 1h0m.5 3h0m0 1h0m.5-3.5h0m0-1.5h0m.5 0h0m.5 5h0m.5-1h0m0-1.5h0m0-1.5h0m.5-1h0m0 3h0m.5 0h0m.5 2h0m0-2.5h0m.5 2h0m0-.5h0m0 1h0m0-4.5h0m0 3h0m.5 1h0m0-2.5h0m1 1h0m1-3h0m0 2h0m.5 0h0m.5-2h0m0 5h0m1-4h0m.5 4.5h0m0-3.5h0m.5-1h0m0 2h0m1-.5h0m0-2.5h0m0 2h0m1 1h0m0-2.5h0m.5 2h0m0 3h0m1.5 0h0m0-2h0m0-2.5h0m1 4.5h0m.5-5.5h0m.5 2h0m0 2h0m.5 0h0m0-1.5h0m0 1h0m0 1h0m.5-3h0m.5 .5h0m0 2h0m0-3.5h0m.5 5h0m1-2h0m0-2.5h0m0 4.5h0m.5-5h0m0 2h0m.5 1.5h0m0-4h0m1 4.5h0m.5-.5h0m.5-2h0m.5 3h0m0-5h0m0 1h0m.5-.5h0m0 2h0m0-.5h0m.5 3h0m0-1.5h0m.5 2h0m0-5.5h0m.5 2.5h0m0 3h0m0-4.5h0m0-.5h0m.5 3.5h0m.5-2h0m.5-1.5h0m.5 2h0m0 3h0m0-3.5h0m.5 2.5h0m0-3.5h0m0 1h0m1-1h0m.5 3h0m0-2h0m.5 1.5h0m0 2h0m.5-3.5h0m.5-1.5h0m.5 2.5h0m.5-1h0m0-2h0m.5 2.5h0m0-2.5h0m.5 4h0m0 1h0m0-.5h0m0-4.5h0m0 2h0m.5 .5h0m0-1.5h0m1 .5h0m0-.5h0m.5 1.5h0m0 1h0m0 1h0m0 1h0m0-1.5h0m0-2.5h0m.5 1.5h0m0 2h0m0-2.5h0m.5 0h0m0-1.5h0m0 2h0m.5 .5h0m.5-3h0m.5 4.5h0m0-1.5h0m.5-1.5h0m1 2h0m0 1h0m0-5h0m.5 5h0m.5-5h0m.5 5h0m.5-1.5h0m0 1h0m0 1h0m0-2.5h0m0 2h0m.5-1h0m0 1h0m0-5h0m.5 2.5h0m0-.5h0m.5 3h0m0-2.5h0m0-1.5h0m0 2h0m.5-.5h0m.5-1h0m0 1h0m0 1h0m0 2h0m0-3.5h0m.5 3.5h0m0-3.5h0m0-1.5h0m.5 1h0m0 .5h0m.5 2.5h0m0 1h0m0-5.5h0m.5 5h0m0-4.5h0m0 1h0m.5 4h0m0-5h0m.5 2h0m0 2h0m0-3.5h0m.5 0h0m0 1h0m0-.5h0m0 2h0m.5-3h0m0 2h0m0 3h0m.5-5.5h0m0 2h0m0 3h0m0-4.5h0m.5 3.5h0m0 1h0m0-4h0m0-.5h0m.5 1.5h0m0 .5h0m0 1h0m.5-2h0m0-.5h0m.5 0h0m0 3h0m.5-1.5h0m0-2.5h0m0 3h0m0 2h0m.5 0h0m0-3.5h0m0 3h0m0-3.5h0m0 1h0m0 1h0m.5-.5h0m0 2h0m.5-.5h0m.5-1h0m0 1h0m.5-3.5h0m0 .5h0m0 2h0m.5 2.5h0m0-3.5h0m0-.5h0m.5-1.5h0m.5 1h0m.5 2h0m1.5-2.5h0m-76 6.5h0m.5-1h0m1.5 3h0m0-2.5h0m0 1h0m0 2h0m0 1h0m.5-1.5h0m0-.5h0m.5 1.5h0m0-3.5h0m.5 3h0m0-3.5h0m.5 3h0m0 2h0m0-2.5h0m.5 2.5h0m0-2.5h0m0 2h0m0-3.5h0m.5 1h0m0 3h0m0-3.5h0m.5 4h0m0-.5h0m.5-2.5h0m0 2h0m0-1.5h0m.5 0h0m0-2.5h0m.5 3h0m0-2.5h0m0 1h0m.5-1h0m0 4h0m0-.5h0m.5 0h0m0-4.5h0m.5 .5h0m0 1h0m0 2h0m.5 .5h0m0-2.5h0m0 2h0m0 1h0m0-4.5h0m.5 0h0m0 1h0m0 2h0m0-2.5h0m.5 1.5h0m0 1h0m0-2.5h0m0 1h0m0 3h0m0-4.5h0m.5 1h0m0 4.5h0m0-3.5h0m0 1h0m0 2h0m0-2.5h0m0 1h0m.5 0h0m0-2.5h0m0 3h0m1-3h0m0 4.5h0m0-3.5h0m0 3h0m.5-3.5h0m0 2h0m.5-1h0m0 1h0m0 2h0m0-3.5h0m.5 3.5h0m0-1.5h0m0 1h0m0-2.5h0m0 1h0m0 1h0m0-4.5h0m0 1h0m.5-1h0m0 .5h0m0 1h0m.5 1.5h0m0-2.5h0m0 3h0m.5-3h0m0 1h0m0 1h0m0 2h0m.5-1h0m0-3.5h0m0 1h0m.5 4.5h0m0-4h0m0 3h0m.5-1.5h0m0-2.5h0m0-.5h0m.5 5.5h0m0-5.5h0m0 .5h0m0 1h0m.5 2.5h0m0-.5h0m.5-1h0m0 2h0m0-3.5h0m.5-.5h0m0 3h0m0 1.5h0m.5-2h0m.5 0h0m0 .5h0m0 2h0m.5-4h0m0 3h0m1 .5h0m0-4.5h0m0 4h0m.5-1h0m0 1h0m0-3h0m.5 3.5h0m0 .5h0m.5-5h0m1 4.5h0m.5 .5h0m1 0h0m0-3h0m.5 0h0m.5 2.5h0m0-3.5h0m0 2h0m0 1h0m.5-1.5h0m.5-.5h0m1.5 .5h0m.5 0h0m0 2h0m.5-4h0m0 .5h0m.5 0h0m0 2h0m0 2h0m0-4.5h0m.5 .5h0m0-.5h0m0 1h0m1.5-2h0m0 .5h0m.5 2h0m.5 3h0m0-4.5h0m1 0h0m0 2h0m0 1h0m.5-3.5h0m0 2h0m0 1h0m.5-1.5h0m0 3h0m0-4.5h0m0 5h0m.5-.5h0m.5-1.5h0m.5-3.5h0m.5 3h0m0 2h0m.5-3.5h0m1-.5h0m2-.5h0m0 .5h0m.5-1h0m0 1h0m1 3.5h0m.5-3h0m0 3h0m0 1h0m0-2.5h0m.5-1h0m.5 3.5h0m1-2.5h0m0 1h0m0 1.5h0m.5-2h0m.5 2h0m.5-4.5h0m0 3h0m.5 0h0m0 1h0m.5-1h0m1.5-2.5h0m.5 1h0m0 1h0m.5 0h0m1-2h0m0 1.5h0m.5 1h0m0-.5h0m0-.5h0m.5-.5h0m.5 1.5h0m0-1.5h0m0 1h0m.5 .5h0m0 1h0m.5 .5h0m.5-5h0m.5 4.5h0m0-2.5h0m.5 0h0m0 1h0m0 2h0m0-1.5h0m0-2.5h0m.5-1h0m0 4h0m.5-2h0m0 1h0m0 1h0m0-1.5h0m0 1h0m0-3.5h0m.5 3.5h0m0 1.5h0m.5-2h0m0-2.5h0m.5 3h0m0 1h0m0-2.5h0m0 2h0m0 1h0m.5-4h0m0-.5h0m0 1h0m0-1.5h0m.5 0h0m0 2h0m0-2.5h0m0 3h0m.5 2h0m0-1.5h0m0-2.5h0m0 1h0m0 1h0m.5-.5h0m0 2h0m0-4.5h0m0 3h0m0 2h0m0-3.5h0m.5 2.5h0m0-2.5h0m0-1.5h0m.5 1.5h0m0 3h0m0-4.5h0m0 1h0m0 3h0m0-3.5h0m.5 .5h0m.5 1.5h0m0 1h0m0 1h0m0-4.5h0m0 1h0m0 3h0m0-3.5h0m.5-.5h0m0 1h0m0 2h0m0-1.5h0m0 4h0m.5-1.5h0m0-1.5h0m0 3h0m0-5.5h0m0 .5h0m.5 1h0m0 2h0m.5 1h0m0-.5h0m.5-3h0m0 2h0m.5 .5h0m0 1h0m0-3.5h0m0 3h0m.5 0h0m0-2.5h0m0 1h0m0 1h0m0 2h0m0-2.5h0m1-1.5h0m0 2h0m0-2.5h0m0 3h0m.5-4h0m0 .5h0m0 1h0m0 1h0m.5 1.5h0m0-2.5h0m0 1h0m0-.5h0m.5 3.5h0m0-5.5h0m0 5h0m0-4.5h0m.5 2h0m0 2h0m0-4.5h0m0 2h0m.5-.5h0m0-1.5h0m0 1h0m0 1h0m.5 .5h0m0 2h0m.5-1.5h0m.5 1.5h0m.5-3h0m.5 1h0m.5 1.5h0m.5 .5h0m0-3.5h0m.5 4h0m0-3.5h0m0 4h0m0-4.5h0m1 4h0m0-1h0m.5 1.5h0m0-5.5h0m0 2h0m0 3h0m.5-4h0m0-.5h0m-72.5 6.5h0m1.5 4h0m.5-5h0m.5 2h0m0 2h0m1 1.5h0m.5-3h0m0-2.5h0m.5 1h0m0 1.5h0m.5 1.5h0m0-1.5h0m0 1h0m0-3.5h0m.5 3h0m.5 2.5h0m0-2.5h0m0 1h0m0-1.5h0m0 1h0m.5 1h0m0-1.5h0m0 .5h0m.5-3h0m0 1h0m0 2h0m0-1.5h0m.5 1.5h0m0-3.5h0m.5 2.5h0m0 3h0m0-4.5h0m.5-1h0m0 1h0m.5 1.5h0m0-1.5h0m.5 3h0m0-3.5h0m.5 2h0m0 1h0m0-2.5h0m0 1h0m0 3h0m.5 .5h0m0-3.5h0m0 1h0m0 1.5h0m.5-3h0m0 2h0m0 2h0m0-5h0m.5 2.5h0m0 1h0m0-2.5h0m0 3h0m.5-1.5h0m0-1h0m.5 3.5h0m.5 0h0m0-2.5h0m0 1h0m0-2.5h0m0-.5h0m.5-1h0m.5 2h0m0 3.5h0m0-3h0m0 1h0m0 1h0m.5-1.5h0m0-2.5h0m0 4h0m0 1h0m0-4.5h0m.5 2h0m.5-2.5h0m0 3h0m.5 2h0m0-1.5h0m0-.5h0m.5 2h0m0-2.5h0m0 2h0m0-1.5h0m0 1h0m0-3.5h0m0 1h0m.5-1h0m0-.5h0m0 5h0m.5-2h0m0-1.5h0m.5 3h0m0-4.5h0m0 1h0m0 3h0m.5-2h0m0 1h0m0 2h0m0-4.5h0m.5 .5h0m0 1h0m.5 .5h0m0 1h0m0 1h0m0-3.5h0m0 1h0m.5-1h0m0 4h0m0-3.5h0m.5 .5h0m0 3h0m0-4.5h0m0 2h0m0 2h0m.5-.5h0m0-3.5h0m.5 2h0m0 .5h0m.5-.5h0m0 1h0m0-1.5h0m.5-2.5h0m.5 5h0m0-2.5h0m0-.5h0m0 1h0m.5 .5h0m0 1h0m.5-1h0m.5-2h0m0 1h0m0 3h0m0-4.5h0m.5-1h0m0 2h0m.5 1h0m0 .5h0m.5-3h0m0 2h0m.5 1.5h0m0-2.5h0m.5 1.5h0m0 .5h0m0 2h0m0-4.5h0m.5 2h0m0 1h0m0-3.5h0m0 2h0m0-1.5h0m.5 1.5h0m0 1.5h0m.5-3.5h0m.5 1h0m0 3h0m0 1h0m.5-.5h0m.5-3.5h0m0 4h0m0-4.5h0m0 4h0m.5-4h0m0-.5h0m.5 .5h0m0 1h0m0 3h0m0-2.5h0m.5 2.5h0m0-4.5h0m0-.5h0m0 3h0m.5-1h0m.5 3.5h0m.5-4h0m0 2h0m0 2h0m0-4.5h0m1 1h0m0 1.5h0m.5-1h0m0 2.5h0m.5-1h0m.5-.5h0m0-1.5h0m0 3h0m0-4.5h0m.5 3.5h0m0-4h0m.5 4h0m0-2h0m0 1h0m.5-2.5h0m0 .5h0m.5 .5h0m0 1h0m0 2h0m0-1.5h0m.5 0h0m0 1h0m0-1.5h0m0 1h0m0 2h0m.5-.5h0m0-.5h0m0-2.5h0m.5 3h0m0-4.5h0m0 4h0m0-1.5h0m.5-1h0m.5 .5h0m0 2h0m0-4.5h0m.5 1h0m0 .5h0m0 2h0m.5-1h0m0 2h0m0-2.5h0m0 1h0m0 1h0m.5-4h0m0 1.5h0m0 3h0m1-1h0m0-3.5h0m0 .5h0m.5 2h0m0 3h0m0-5h0m.5 5h0m0-1h0m.5-4h0m0-.5h0m.5 4h0m0 1.5h0m.5-3h0m0 3h0m0-5.5h0m.5 5.5h0m.5 0h0m0-2.5h0m0 1h0m0-3.5h0m0 2h0m.5 1.5h0m0 1h0m0-2h0m1 2h0m0-1.5h0m0 1h0m0 1h0m.5-2h0m0 2h0m0-1.5h0m0-3.5h0m0 4.5h0m.5-3.5h0m0 4h0m0-5.5h0m.5 5h0m0-1.5h0m0 .5h0m.5-1.5h0m0 1h0m0-3.5h0m0 4h0m.5-.5h0m.5-3h0m0 1h0m0 2h0m0 1h0m.5-1.5h0m0-1.5h0m0 1h0m0 1h0m0 2h0m.5-2h0m0 2h0m0-3.5h0m0-.5h0m.5 1.5h0m0 .5h0m0-1.5h0m.5-.5h0m0 4h0m0-4.5h0m0 4h0m.5-4.5h0m.5 2h0m0 2h0m.5-1.5h0m0 1h0m0-4h0m.5 5h0m0-2.5h0m.5 2.5h0m0 .5h0m.5 0h0m0-5.5h0m0 1h0m0 2h0m0-1.5h0m0 1h0m.5 2.5h0m0-2.5h0m0 1h0m.5 1.5h0m0-1.5h0m0 2h0m0-1.5h0m1 0h0m0 1h0m.5-3.5h0m0 1h0m0 2h0m0-3.5h0m0 3h0m.5-4h0m0 .5h0m0 2h0m.5-1h0m0 1h0m0-.5h0m.5 1.5h0m0 1h0m0-.5h0m0 1h0m.5 .5h0m0-4.5h0m.5 4h0m0-1.5h0m0 1h0m0 1h0m0-3.5h0m0 1h0m.5-1.5h0m.5 2.5h0m0-3.5h0m0 4.5h0m0-2.5h0m0 1h0m0 2h0m.5-2h0m0 2h0m0-5.5h0m.5 1h0m0 3h0m.5 .5h0m0 1h0m0-5.5h0m0 2.5h0m.5 2h0m0 1h0m.5-1h0m0 1h0m0-2.5h0m0-2.5h0m1 2h0m.5 1h0m0-3.5h0m0 2h0m.5 3.5h0m0-2.5h0m0-.5h0m.5 0h0m.5 1h0m0-1.5h0m.5-1h0m.5 1h0m0 2h0m.5-3h0m1 1.5h0m.5-1.5h0m1 4.5h0m0-4.5h0m0 1h0m-66.5 4.5h0m.5 1h0m1-1h0m0 .5h0m1.5 3h0m0-1.5h0m0 .5h0m.5-1h0m.5 1.5h0m.5-2h0m0-1.5h0m0 1h0m.5-.5h0m0 1h0m0-.5h0m0 1h0m.5 3h0m.5-4.5h0m.5 1h0m.5 0h0m0 1h0m0-.5h0m0 2h0m.5-3.5h0m0 3h0m.5-3h0m0 5h0m.5-5h0m0-.5h0m.5 5.5h0m0-5.5h0m0 4h0m.5 0h0m0-1.5h0m0-2.5h0m.5 4.5h0m0-3.5h0m0 .5h0m.5 4h0m0-4.5h0m0 2h0m.5 1.5h0m0-3.5h0m0 2h0m.5 2h0m0-3.5h0m0 2h0m.5-.5h0m0 1h0m0-2.5h0m0 1h0m0 2h0m0-4.5h0m.5 3h0m0 1h0m0-1.5h0m0 2h0m.5-2h0m0-2h0m0 1h0m.5 3.5h0m0-2.5h0m0-1.5h0m0 2h0m.5 .5h0m0-.5h0m.5 1.5h0m0-4.5h0m0 3h0m0 1h0m.5-1h0m0 1h0m0 1h0m0-.5h0m0-4.5h0m0 1h0m.5 3.5h0m0-1.5h0m.5-1h0m0 1h0m0-1.5h0m0 1h0m0 2h0m.5-1h0m0 1h0m0-2.5h0m0 1h0m0 1h0m.5 0h0m0-3h0m.5 1h0m0 1h0m.5 1h0m0-3.5h0m0 3h0m0 2h0m0-4.5h0m.5 3h0m0-2.5h0m0 1h0m0-2.5h0m.5 2.5h0m0 2h0m0-4.5h0m0 3h0m.5 1.5h0m0-4.5h0m0 .5h0m.5 4h0m0 1h0m0-5.5h0m0 2h0m0 2h0m.5-2h0m0 2h0m0 1.5h0m.5-1h0m0 1h0m.5-4h0m0 3h0m0-3.5h0m0-.5h0m.5 2h0m0-.5h0m.5 3h0m0-4.5h0m0 2h0m0 2h0m0 1h0m0-3.5h0m.5 3h0m0-3.5h0m0 2h0m0-1.5h0m0 1h0m.5-3h0m0 3h0m0-1.5h0m.5-1.5h0m.5 1h0m.5 3.5h0m0-1.5h0m0 1h0m0-2.5h0m0 1h0m.5 1h0m0 1h0m0-4.5h0m.5 3.5h0m0 1h0m0 1h0m.5-2h0m0-1.5h0m.5 .5h0m0-1.5h0m.5 2h0m0 1h0m.5-2.5h0m0 1h0m0 2h0m0-4.5h0m0 1h0m0 1h0m0 2h0m0-3.5h0m.5 0h0m0 3h0m0 1h0m0-1.5h0m.5 2h0m0-3.5h0m0 .5h0m.5 2h0m0-1.5h0m0 1h0m0 1h0m0-3.5h0m0 1h0m0 1h0m.5-1h0m0 1h0m0-2.5h0m0 5h0m.5-.5h0m0-1.5h0m0-3.5h0m0 2h0m0 1h0m0-2.5h0m.5 2.5h0m0-.5h0m0 3h0m.5-5h0m0 5h0m0-4.5h0m0 4h0m1-3.5h0m0-.5h0m0 3h0m.5-2.5h0m0 3h0m0 1h0m0-5.5h0m.5 4h0m0-3.5h0m0 1h0m0 3h0m0 1h0m.5 0h0m0-5.5h0m0 2h0m0 1h0m0 2h0m0-3.5h0m1-1.5h0m0 .5h0m.5 2h0m0 3h0m0-4.5h0m.5 1.5h0m0-2.5h0m0 3h0m.5 1.5h0m0 1h0m0-5.5h0m0 4h0m0 1h0m.5-3.5h0m0 1h0m.5-1h0m0 3h0m.5-3h0m0 2h0m0 1h0m0-4.5h0m0 2h0m0 2h0m.5 1.5h0m.5-2h0m0 1h0m0-.5h0m0 1h0m.5-1h0m.5 1h0m0-2.5h0m0-2.5h0m0 1h0m.5-1h0m0 1h0m.5 1.5h0m0 1h0m.5 0h0m.5 0h0m0-3h0m0 3.5h0m.5-3h0m0 4.5h0m.5-.5h0m0-1.5h0m0-3.5h0m0 3h0m.5 1h0m0-3.5h0m0 4.5h0m0-.5h0m0-3.5h0m0 1h0m.5-.5h0m0 4h0m0-3.5h0m.5-1h0m0 1h0m0-1.5h0m.5 3.5h0m0 1h0m0-2.5h0m0 3h0m.5-.5h0m0-.5h0m0-3.5h0m0-.5h0m.5 5h0m0-2.5h0m.5-2.5h0m0 2h0m0 1h0m0-1.5h0m.5 .5h0m.5 2.5h0m0-3.5h0m0 3h0m.5-2.5h0m0 3h0m0-3.5h0m0-1.5h0m.5 5.5h0m0-1.5h0m0 1h0m.5-.5h0m0 .5h0m.5 .5h0m0-2.5h0m0 2h0m.5 0h0m0-.5h0m.5-2.5h0m0 1h0m0 1h0m.5 1.5h0m0-4.5h0m.5-.5h0m.5 4h0m0 1h0m0-5.5h0m0 2h0m0 3h0m0-3.5h0m.5 4h0m0-3h0m0 2h0m.5-2h0m0-1.5h0m0 2h0m.5 .5h0m0-2.5h0m0 1h0m0 2h0m0-3.5h0m.5 4.5h0m.5-1h0m0-2.5h0m0 4h0m.5-1.5h0m0-2.5h0m.5 .5h0m.5-.5h0m0-1.5h0m0 2h0m.5 1.5h0m0-2.5h0m0-.5h0m1 3.5h0m.5-4h0m0 5h0m0-4.5h0m0 1h0m.5-1h0m0-.5h0m0 1h0m.5 1.5h0m0-1.5h0m0 .5h0m.5 3.5h0m.5-4.5h0m.5 2h0m0-2.5h0m.5 4.5h0m.5-1.5h0m0-1.5h0m.5-1h0m-60 7h0m3-1.5h0m3 2.5h0m0-2.5h0m.5 1h0m0 .5h0m.5 .5h0m.5 2.5h0m.5-3.5h0m0 2h0m.5-2h0m0-.5h0m.5-.5h0m.5 1.5h0m.5 .5h0m0 1h0m.5 2h0m.5-5h0m0 1h0m0 2h0m1.5-.5h0m0-1.5h0m.5 .5h0m0 4h0m0-4.5h0m0 2h0m.5 1h0m0-3.5h0m.5 5h0m0-5h0m.5 3h0m.5-1.5h0m.5 3.5h0m0-2.5h0m0 1h0m0-3.5h0m.5-.5h0m0 4h0m0-1.5h0m.5 1h0m0-.5h0m.5-1h0m0 2h0m0-3.5h0m0 3h0m.5 .5h0m0-1.5h0m0 .5h0m.5-2.5h0m0 4.5h0m.5-1h0m0-1.5h0m0 1h0m0-2.5h0m.5 3.5h0m0-3.5h0m0-.5h0m.5 3h0m0-1.5h0m.5 3.5h0m0-3.5h0m.5 .5h0m0 1.5h0m.5 .5h0m0-1.5h0m.5-3h0m0 2h0m0 1h0m0-2.5h0m.5 1.5h0m0-2h0m.5 4h0m.5-3.5h0m.5-.5h0m0 5h0m.5-3h0m0 1h0m.5 2h0m0-3.5h0m.5 2.5h0m0-.5h0m0 2h0m0-3.5h0m.5 2h0m0-3.5h0m0 4h0m.5-2h0m0-2.5h0m0 2h0m.5 3.5h0m0-5.5h0m0 3h0m0 1h0m0-1.5h0m.5-1.5h0m.5 4.5h0m0-5.5h0m0 3h0m0-2.5h0m.5 .5h0m.5 4.5h0m0-3.5h0m0-1.5h0m0 1h0m0 1h0m0 1h0m.5 .5h0m0-2.5h0m0 4h0m.5-4.5h0m0 4h0m0-.5h0m.5 0h0m0-4.5h0m0 1h0m.5 3h0m0-3.5h0m.5 2.5h0m.5 1h0m0-3h0m0 2h0m.5-.5h0m0 1h0m.5-2h0m0 2h0m0 2h0m0-5.5h0m0 3h0m.5-2.5h0m0 1h0m.5-.5h0m0 2h0m0 1h0m.5-1.5h0m0-2.5h0m0 1h0m0 1h0m0 2h0m.5 .5h0m.5-3h0m0 3h0m0 1h0m0-4.5h0m0 1h0m.5 2.5h0m0-.5h0m.5 0h0m0-.5h0m0 1h0m.5-2.5h0m0-1.5h0m.5 4h0m0 1h0m0-1.5h0m0-2.5h0m.5 0h0m0 1h0m1 0h0m0-2.5h0m.5 3h0m0 2h0m.5 0h0m0-3.5h0m0 1h0m.5 .5h0m0-.5h0m0 1h0m.5-.5h0m.5 2.5h0m0-5h0m.5 2h0m0 .5h0m.5-1h0m0 1h0m.5 .5h0m0 2h0m.5-2.5h0m.5 .5h0m.5-3.5h0m0 3h0m0 1h0m.5-3h0m0 2h0m0 2h0m0-4.5h0m1 1.5h0m.5 1.5h0m0-2.5h0m.5 .5h0m.5-1h0m1 1h0m1-1.5h0m.5 5h0m.5-3.5h0m.5 0h0m.5-1.5h0m.5 0h0m0 .5h0m1.5 .5h0m.5 0h0m3 2.5h0m-45.5 2.5h0m2 0h0m1 0h0m3 1h0m.5-1h0m1.5 .5h0m1.5 1.5h0m0 .5h0m.5-1.5h0m0 1h0m.5-1.5h0m.5 2.5h0m.5 0h0m.5-1.5h0m0 4h0m1-4h0m.5 0h0m.5 0h0m1.5 0h0m.5-1h0m0 2h0m1.5-2h0m.5 1.5h0m.5 .5h0m1 2h0m0-4.5h0m0 1.5h0m1.5 2.5h0m.5 .5h0m1-4.5h0m.5 0h0m0 2h0m0-.5h0m.5-.5h0m.5-1h0m0 1h0m1.5 0h0m3-.5h0m.5 0h0m.5 1.5h0m2.5 0h0m.5-1.5h0m2.5-.5h0m4.5 0h0" stroke="#e02020" stroke-width="1.9" stroke-linecap="round" fill="none"/>
<path d="M302 2093.5h0m1 0h0m.5-2.5h0m1 2h0m1.5 .5h0m.5-1h0m.5 .5h0m.5-.5h0m1 1h0m.5-1.5h0m1 0h0m0 .5h0m.5 .5h0m0-.5h0m1-.5h0m.5 1h0m.5-1h0m0 .5h0m.5-.5h0m.5-.5h0m1 .5h0m0 1h0m0-1.5h0m.5 0h0m0 2h0m.5 0h0m0-.5h0m1-1.5h0m0 1h0m1-2.5h0m0 1.5h0m.5 0h0m0 .5h0m.5-1.5h0m0 1.5h0m.5-1h0m.5 0h0m1-.5h0m0 3h0m.5-3h0m.5 2.5h0m.5 .5h0m.5-3h0m.5 1h0m.5 2h0m0-.5h0m0-1h0m.5 1.5h0m.5-2h0m0 1.5h0m0 .5h0m0-4h0m0 2.5h0m.5 0h0m0-.5h0m0 2h0m.5 0h0m3-1.5h0m-36 7.5h0m0-1.5h0m.5 1h0m0-.5h0m.5-1.5h0m1.5-1h0m0 3.5h0m.5-3.5h0m0 2h0m.5-.5h0m0 1h0m0-.5h0m.5 0h0m0-.5h0m0 1h0m.5-.5h0m.5-1.5h0m0 2h0m0-3h0m0-.5h0m.5 2.5h0m0-1.5h0m0-.5h0m.5 0h0m0 1h0m1 3h0m0-5h0m0 2h0m.5 2h0m0 .5h0m0-3h0m.5 3h0m0-1.5h0m.5-1.5h0m0 2.5h0m.5-2.5h0m0 1.5h0m0 1h0m0-4h0m0 4.5h0m.5 0h0m0-3.5h0m0 3h0m0 1h0m.5-3h0m0 1h0m0 1h0m.5-2.5h0m0 .5h0m0 2h0m0-.5h0m0 1.5h0m0-.5h0m.5 .5h0m0-5h0m0 1.5h0m.5 1h0m0 1h0m0-.5h0m0 1.5h0m0-3h0m.5 1.5h0m0 1h0m0 1h0m0-5h0m0 4.5h0m0-5h0m0 1h0m.5 3h0m0 1h0m0-4h0m0 .5h0m.5 1h0m0 1.5h0m0 1.5h0m0-5.5h0m0 1.5h0m0-.5h0m.5 1h0m0 1h0m0 1h0m.5-.5h0m0 1h0m0-4h0m0 2.5h0m.5-.5h0m0 1h0m0-1.5h0m.5 3.5h0m0-3h0m.5 3h0m0-4.5h0m0 2h0m0-.5h0m.5 0h0m0 1h0m0 1h0m0 1h0m0-2.5h0m.5 2h0m.5-4.5h0m0 .5h0m0 1h0m.5-2h0m0 1.5h0m0-.5h0m0 1h0m.5 3.5h0m0-5h0m0 1.5h0m.5 0h0m0 .5h0m0 1.5h0m0-3.5h0m.5-.5h0m0 1h0m0 2h0m0 1h0m0 1h0m0-.5h0m0 1h0m.5 0h0m0-5h0m0 3.5h0m0 .5h0m.5-2h0m0-1h0m.5 1h0m0 1h0m0-3h0m0-.5h0m.5 4.5h0m0-4h0m0 .5h0m0 1.5h0m.5-.5h0m0 3h0m0 .5h0m0-4.5h0m.5 3.5h0m0-4h0m0 .5h0m0 1h0m.5 2h0m0-3.5h0m0 4.5h0m0-3h0m0-.5h0m.5 2h0m0-3.5h0m0 1.5h0m.5 3h0m0 1h0m0-4h0m0-.5h0m0 1.5h0m0 1.5h0m.5-4h0m.5 .5h0m0 .5h0m0 1h0m0-.5h0m0 2h0m.5-1.5h0m0-.5h0m0 1h0m.5 3h0m0-3h0m0-.5h0m0 1h0m.5-1.5h0m0 .5h0m0 1h0m.5 2.5h0m0-4.5h0m0 1h0m0 .5h0m0 1.5h0m0-.5h0m.5-.5h0m0-.5h0m0-2h0m0-.5h0m.5 .5h0m.5 2.5h0m0 2.5h0m0-5h0m0 1h0m.5 1.5h0m0-.5h0m0 2.5h0m0-3.5h0m.5-.5h0m0 2h0m0 1h0m0-.5h0m0 2h0m0-4h0m.5 1.5h0m0 .5h0m0 1.5h0m.5-2h0m0 1.5h0m0 1h0m0-5h0m.5 3h0m0 1.5h0m0-5h0m0 3h0m0-.5h0m.5 1h0m0 2h0m0-5h0m0-.5h0m.5 3.5h0m0-3.5h0m0 1.5h0m0 .5h0m0 .5h0m0 1.5h0m.5-3.5h0m.5 3h0m0 1h0m0-2.5h0m0 1h0m.5 0h0m0 1h0m0-.5h0m0 1h0m.5-3h0m0 2h0m.5-3h0m0 3h0m0 1.5h0m.5-4.5h0m0 1h0m0 .5h0m0 1.5h0m0 1.5h0m.5-.5h0m0-3h0m0-.5h0m0 1.5h0m.5-1.5h0m0 4h0m.5-2.5h0m0 1h0m0-.5h0m0 1h0m0 .5h0m.5-1.5h0m0-.5h0m0 1h0m0-3h0m.5 1.5h0m0 1.5h0m.5-1h0m0 1h0m0-1.5h0m.5 1h0m0 1h0m0-3.5h0m.5 3.5h0m0 .5h0m0-4h0m0 1h0m.5 2h0m0 1.5h0m0-3h0m0 1h0m.5 .5h0m0 1.5h0m0-2.5h0m.5 .5h0m.5 1h0m0-.5h0m0-1h0m.5 1.5h0m.5 .5h0m0 .5h0m.5-1h0m0 1.5h0m0-3h0m.5 1.5h0m.5 0h0m0 1h0m.5-1h0m0 1.5h0m.5-1.5h0m0 .5h0m.5 0h0m.5 .5h0m.5 .5h0m.5-1h0m0 1h0m-50.5 5h0m0 1h0m.5-1h0m.5-.5h0m0 1h0m.5-2h0m0 2h0m.5-2.5h0m0 2h0m0-.5h0m0-2h0m.5 2h0m0 1h0m.5-1.5h0m0 2h0m0-.5h0m0-3h0m0-.5h0m0 1.5h0m.5 .5h0m0 1h0m0 .5h0m0-5h0m0 2h0m0-.5h0m.5 4h0m0-2.5h0m1-.5h0m0 1.5h0m0-2.5h0m.5 4h0m0-5h0m.5 4h0m0-3h0m0 1h0m1-2.5h0m0 1h0m0 4h0m0-.5h0m.5-3.5h0m0 2h0m0 1h0m0-.5h0m0 1.5h0m.5-3h0m0 1h0m0-.5h0m0 1h0m0 1h0m0 1h0m.5-4.5h0m0 1h0m0 1h0m0 2h0m0-5h0m.5 2.5h0m0 1.5h0m0-.5h0m.5-1.5h0m0 .5h0m0 1h0m0 1.5h0m.5-1h0m0-.5h0m0-3h0m0 1.5h0m0-.5h0m.5 4h0m0-2.5h0m.5-1h0m0 3h0m0-.5h0m0-3h0m.5 4h0m0-5h0m0 1.5h0m.5 2.5h0m0-3h0m.5 3.5h0m0-5h0m0 3h0m0 1h0m.5 1.5h0m0-4.5h0m0 .5h0m0 1h0m0 1h0m.5 1.5h0m0-4h0m0 3h0m.5 1h0m0-3.5h0m0 1h0m.5 0h0m.5-1.5h0m0 1h0m0-.5h0m0 1.5h0m0 2h0m0-5h0m.5 1h0m0 2h0m.5-.5h0m0 1.5h0m0-.5h0m0 1h0m.5-2h0m0 1h0m0 1.5h0m.5-1.5h0m0 .5h0m0-2.5h0m.5 1.5h0m0 .5h0m0 1h0m.5-1.5h0m.5-.5h0m0-.5h0m.5-.5h0m0-.5h0m.5 .5h0m.5 3h0m0-3.5h0m0 2h0m.5-2h0m0 1h0m.5-1.5h0m0-.5h0m0 2.5h0m.5-2.5h0m1 .5h0m0 1.5h0m.5-.5h0m0-1.5h0m.5 .5h0m0-.5h0m0 1h0m.5 0h0m0 1h0m.5-1h0m.5-.5h0m.5 0h0m0-.5h0m0 1.5h0m.5-1h0m0-.5h0m.5 0h0m.5 0h0m0 1h0m.5-1h0m0 1h0m.5 1.5h0m1-2h0m1-.5h0m.5 .5h0m0-.5h0m0 1.5h0m1.5-1h0m0 2.5h0m0-3h0m.5 0h0m1.5 1h0m0 1.5h0m0-.5h0m0-1.5h0m1 2h0m0-2.5h0m.5 3h0m0-1.5h0m.5-1h0m0 2h0m1-1.5h0m0 1h0m.5-.5h0m0 2.5h0m.5-.5h0m0-2h0m0 1.5h0m.5 2.5h0m0-5h0m0-.5h0m0 1.5h0m.5 3h0m0-4.5h0m0 2.5h0m.5 1h0m0-3h0m0 1.5h0m.5-.5h0m0 3h0m.5-3h0m0-.5h0m0 1h0m0 1.5h0m0 .5h0m.5-1.5h0m0 2.5h0m.5-3h0m0 3h0m.5-2.5h0m0 1h0m0-2h0m0-.5h0m.5 0h0m0 3h0m0-4h0m0 5.5h0m.5-4.5h0m0 1.5h0m0 1.5h0m0 .5h0m.5-1.5h0m0 1h0m0 1h0m0-4.5h0m0-.5h0m0 1.5h0m0-.5h0m0 1.5h0m.5 2h0m0-3h0m0-.5h0m.5 3.5h0m0-4h0m0 .5h0m.5-.5h0m.5 5h0m0-5.5h0m0 2h0m0 1h0m.5 2.5h0m0-5h0m0-.5h0m.5 1.5h0m.5 3h0m.5 .5h0m0-.5h0m0-1h0m.5-1.5h0m0 1.5h0m.5 1h0m0-4h0m0 1.5h0m0 3h0m.5 0h0m.5-3.5h0m0 1.5h0m0 .5h0m.5-2.5h0m0 3.5h0m.5-1.5h0m0 1h0m0 1.5h0m0-4.5h0m.5 1h0m.5 1h0m0 .5h0m0 2h0m.5 0h0m0-4h0m0-.5h0m.5 4h0m0-4h0m.5 4h0m1-1h0m.5 1.5h0m2-.5h0m-60 6.5h0m0-4h0m.5 3.5h0m.5 0h0m.5-.5h0m0 1h0m0-4.5h0m0 3h0m.5 1.5h0m0-5h0m0-.5h0m0 1h0m0 1h0m0 .5h0m.5-.5h0m0 1h0m0 2h0m.5-2h0m0 .5h0m.5-2h0m0 1h0m0 1.5h0m.5-2h0m0 2h0m0 1.5h0m0-4h0m.5 1h0m0 1.5h0m0 1h0m.5-5h0m0 1h0m0 1h0m0 1h0m0 1.5h0m0 1h0m.5-2h0m0 1h0m0 1h0m0-4.5h0m0 1h0m.5-.5h0m0 1h0m0 1.5h0m0 1.5h0m0-5h0m.5 4.5h0m0-5h0m0 1.5h0m0 1.5h0m.5-.5h0m0 1h0m0 1.5h0m0-4.5h0m.5 5h0m0-.5h0m0-3h0m0 .5h0m0 1h0m.5 1h0m0 .5h0m0-4h0m0 .5h0m0 1.5h0m0-.5h0m0 1h0m.5-.5h0m0 1h0m0 1h0m0-.5h0m0-3.5h0m.5 4.5h0m0-5.5h0m0 2h0m0 .5h0m.5 0h0m.5-.5h0m0 2.5h0m0 1h0m.5 0h0m0-5h0m.5 3h0m1-2.5h0m0 2h0m.5 1h0m0-.5h0m0-2h0m.5-1.5h0m0 2h0m0 .5h0m.5-2h0m0 4.5h0m0-4h0m0 2h0m.5-2.5h0m1 1h0m1.5-1h0m0 2h0m26.5-2.5h0m1.5 1h0m.5-1h0m1 2h0m0 1.5h0m0-.5h0m0-3h0m.5 2.5h0m0-1.5h0m.5 1h0m0-1.5h0m.5 2h0m0-.5h0m0 1h0m0 .5h0m0-3.5h0m.5 5h0m0-.5h0m0-3.5h0m.5 2.5h0m0-.5h0m0 1h0m0-4h0m.5 5.5h0m0-5h0m0 1h0m0-.5h0m.5 .5h0m.5 2.5h0m0 1h0m0 .5h0m0-4h0m0 1h0m.5-2.5h0m0 3h0m0 1h0m.5 1h0m0 .5h0m0-4h0m0-.5h0m.5 .5h0m0-.5h0m0 2.5h0m0 1.5h0m0-4.5h0m1 2h0m0 1.5h0m0 1h0m0-4.5h0m.5-.5h0m.5 1.5h0m0-.5h0m0 1h0m0 1.5h0m0-.5h0m0 1.5h0m.5-.5h0m0 1h0m0-4.5h0m0 2h0m.5 3h0m0-3h0m0 .5h0m0 1.5h0m0-4.5h0m0 1h0m.5 2h0m0-3h0m.5 2h0m0 .5h0m.5 1.5h0m0 1h0m.5-2h0m0 1h0m0 1h0m0-5h0m.5 3.5h0m.5 0h0m0-2h0m0 1h0m.5 2h0m0 1h0m0-4h0m.5 3.5h0m0-4h0m0 1h0m0 2h0m1-1h0m.5 1h0m1 1.5h0m-154 4h0m.5 0h0m1 .5h0m0 .5h0m.5 0h0m0-.5h0m.5 1h0m.5 0h0m80 .5h0m.5 0h0m1 0h0m.5 0h0m1 0h0m0-1.5h0m1 .5h0m1-.5h0m.5 1h0m0-.5h0m1-.5h0m0 1.5h0m1.5-1.5h0m0-1h0m.5-.5h0m0 1h0m.5-1.5h0m0-.5h0m.5 2h0m0 1h0m0-3.5h0m0 1h0m0 1h0m0-.5h0m0 1.5h0m.5-1h0m0 1h0m0 1h0m.5 0h0m.5-.5h0m0 .5h0m0-3.5h0m0-.5h0m.5 3h0m0 1.5h0m0-5h0m0-.5h0m0 1.5h0m.5 3h0m0-3h0m0 2.5h0m.5 1h0m0-4.5h0m0-.5h0m0 1h0m.5 1h0m0-.5h0m0 1.5h0m0 2.5h0m.5 0h0m0-.5h0m0-3.5h0m0 1.5h0m.5-2.5h0m.5-.5h0m0 3h0m0-.5h0m0-2h0m.5 .5h0m0 1.5h0m.5-.5h0m0-.5h0m0 2h0m0-2.5h0m.5-1h0m.5 2.5h0m0-2.5h0m0 1h0m0 1h0m1-1h0m.5-.5h0m.5 0h0m.5-.5h0m38 0h0m.5 2h0m.5 1h0m.5-1.5h0m.5-1h0m.5-.5h0m.5 1h0m.5-1h0m0 .5h0m0 1h0m0 1h0m0 .5h0m.5-3h0m0 .5h0m.5 0h0m0-.5h0m0 1.5h0m0 .5h0m0 2h0m0-.5h0m0 1.5h0m.5 .5h0m0-4h0m0 3h0m.5-4h0m0 .5h0m0 1.5h0m0-.5h0m.5-.5h0m0 1h0m0 2.5h0m0-5h0m.5 1.5h0m0 2h0m.5 .5h0m.5 1.5h0m0-4h0m0 3h0m0 .5h0m.5-2.5h0m0-1h0m0-.5h0m.5 0h0m0 2h0m0 2.5h0m.5-2h0m.5 0h0m0-.5h0m0 1h0m.5-2h0m0 1h0m0 1.5h0m0-.5h0m0-3h0m.5-1h0m0 4.5h0m0-3h0m0-.5h0m0 1.5h0m0 1h0m.5-.5h0m0-3h0m0 .5h0m0 3h0m.5 1.5h0m0-4h0m0 2.5h0m0-.5h0m.5 1h0m0 1h0m0-4.5h0m0 2.5h0m.5 1.5h0m0 1h0m0-5h0m1 3.5h0m0-2h0m0-.5h0m.5 1.5h0m0 2h0m.5 .5h0m0-4h0m0 2h0m.5-1.5h0m0 2h0m-151.5 2h0m2 .5h0m1 .5h0m2 1h0m1 1h0m.5 0h0m1.5 2h0m.5 0h0m.5 0h0m1 .5h0m51.5-1h0m.5 0h0m0-.5h0m.5-.5h0m0 1.5h0m.5-1.5h0m0 1h0m0 .5h0m.5-1.5h0m0 1h0m.5-1.5h0m.5 .5h0m0 1h0m.5 0h0m.5-1h0m0 1h0m0-.5h0m1 .5h0m.5-1h0m.5-1h0m0 1.5h0m.5-1.5h0m.5 1h0m.5-.5h0m.5-1h0m0 1h0m0 1h0m.5-1h0m0 1h0m.5-1h0m0 .5h0m.5-.5h0m.5-1h0m0 .5h0m.5 .5h0m0-.5h0m.5 1.5h0m0-2h0m.5 1h0m0-.5h0m.5 0h0m.5-.5h0m0 .5h0m.5-.5h0m0-.5h0m.5-.5h0m0 1h0m.5 .5h0m.5 .5h0m.5-1.5h0m1-1h0m0 1h0m.5 .5h0m.5-.5h0m.5 1h0m.5 .5h0m0-1.5h0m0-.5h0m.5 1.5h0m0-2h0m0 1h0m0-.5h0m.5 0h0m0 .5h0m.5 .5h0m0-1.5h0m0 2h0m.5-1.5h0m0-1h0m1.5 2h0m.5-2h0m0 1h0m.5-.5h0m.5 0h0m1 .5h0m.5 0h0m.5 .5h0m0-1h0m.5 1h0m.5-1.5h0m.5 1h0m1.5-.5h0m0 .5h0m.5-1h0m0 1.5h0m4-1h0m.5 3.5h0m.5 1h0m0 .5h0m.5-1.5h0m1.5 1h0m1.5 0h0m1-.5h0m42-4h0m.5 .5h0m0-.5h0m.5-.5h0m0 1.5h0m.5-1.5h0m0 2h0m.5 1.5h0m0 1.5h0m.5-3h0m.5 3h0m0-3.5h0m.5 1.5h0m.5-2.5h0m0 3h0m0-.5h0m0-2h0m.5 1.5h0m0-.5h0m0 1h0m0 1h0m0-4h0m0 5.5h0m.5-1h0m0-.5h0m0-4h0m0 5.5h0m.5-.5h0m0-3.5h0m0 2h0m.5 1.5h0m0-.5h0m0-3.5h0m0 1.5h0m.5 2.5h0m0-4h0m.5 3h0m0 1.5h0m.5-2.5h0m0 2h0m0-4h0m0-.5h0m.5-.5h0m0 1h0m0 1.5h0m.5 2h0m0-.5h0m0 1h0m0-4.5h0m0 2h0m.5-1h0m.5 4h0m0-3h0m.5-1h0m0 1.5h0m0-2.5h0m.5 4.5h0m.5 0h0m2-3h0m-145.5 4h0m1.5 1h0m1 1h0m1 1h0m82.5-2.5h0m0 1h0m.5-1.5h0m0 1h0m0-.5h0m.5 1h0m1 2h0m0-2.5h0m.5 2h0m0 .5h0m0-2h0m0-.5h0m0 1h0m.5-.5h0m0 1h0m0 1h0m0-.5h0m0 2h0m0-4.5h0m.5 3h0m0-3.5h0m0 1.5h0m0-.5h0m0 1.5h0m0-.5h0m.5 1h0m0 1h0m0-.5h0m0 2h0m0-5h0m0 1h0m0-.5h0m0 1.5h0m.5-.5h0m0 .5h0m0 1h0m.5-.5h0m0 1h0m0 1h0m0-.5h0m0 1h0m0-3.5h0m.5 2.5h0m0 1h0m0-4h0m0 1h0m0-.5h0m.5 1.5h0m1 2h0m0-.5h0m0-.5h0m41.5-2h0m0-.5h0m0 2h0m0 .5h0m.5-2h0m.5 1.5h0m.5-2.5h0m0 3h0m0-3.5h0m.5-.5h0m0 1.5h0m0 .5h0m0 .5h0m.5-1h0m0-.5h0m0 4h0m0-.5h0m.5-1.5h0m0 .5h0m.5 0h0m0-4h0m0 .5h0m0 2h0m.5 1.5h0m0 1.5h0m.5-4.5h0m0 4.5h0m0-5h0m0 1h0m.5 2h0m0 2h0m.5-3h0m0 2h0m0-4h0m0 1h0m.5 2.5h0m0 1h0m0-4h0m0 1.5h0m0 1h0m0-.5h0m.5-1.5h0m0 1.5h0m.5-3h0m0 5.5h0m0-3.5h0m0-.5h0m0 1h0m0 1h0m0 .5h0m.5-2h0m0 .5h0m.5 0h0m0 1h0m0-.5h0m0 1h0m0 .5h0m.5-3.5h0m0 2.5h0m.5-3.5h0m.5 5h0m-53.5 1.5h0m0-.5h0m1.5 0h0m.5 0h0m42 2.5h0m0 1h0m.5 1h0m.5-4h0m.5 2.5h0m0 2h0m.5 0h0m0-1.5h0m.5 1h0m0-4.5h0m0 1h0m.5 0h0m0 1h0m0-.5h0m0 2h0m0 1h0m.5 .5h0m0-4h0m0 4.5h0m0-4h0m.5 2h0m0-3.5h0m0 .5h0m.5 2.5h0m0 1.5h0m0-.5h0m0 1.5h0m0-.5h0m0-5h0m.5 5.5h0m0-5h0m.5 1h0m0 1h0m0 1h0m0-1.5h0m.5-2h0m0 5.5h0m0-5h0m0 2h0m.5 0h0m0-2.5h0m0 3h0m.5-2h0m0 .5h0m0 3h0m.5-1.5h0m0-3h0m0 1.5h0m0 1h0m.5-1h0m.5-1.5h0m-8 11h0m0-3h0m0 1h0m.5 .5h0m0-.5h0m0 2.5h0m.5-4h0m.5 4h0m0-3h0m0 1h0m.5-3h0m0 1.5h0m0-.5h0m0 3h0m0 1h0m.5-4.5h0m0-.5h0m.5 1h0m0 1h0m0 1.5h0m.5-2.5h0m0 1h0m0 2.5h0m0-5h0m0 1h0m.5 3h0m.5-2.5h0m0-1h0m.5 0h0m0 2.5h0m0-2h0m.5 .5h0m0 1h0m.5-2.5h0m0 2h0m.5-2h0m-8 9.5h0m1 1h0m.5-1h0m0-1h0m.5-1h0m0 3h0m.5-4h0m0 1.5h0m0 .5h0m.5 1h0m.5-3.5h0m0 1h0m0 1h0m0-.5h0m.5-1h0m0 .5h0m0 .5h0m0 1.5h0m1-3h0m.5 1h0m-28.5 10h0m1.5 .5h0m1 0h0m0-.5h0m.5-.5h0m.5 0h0m.5 1h0m0-.5h0m.5-.5h0m0 .5h0m1-1.5h0m0 1.5h0m.5-2h0m0 1.5h0m1 1h0m0-.5h0m.5-.5h0m.5 0h0m0-.5h0m0 1.5h0m.5-1.5h0m.5 0h0m0 1h0m16-5h0m-28 9h0m2.5 0h0m.5-2.5h0m.5 3.5h0m0 1h0m0-3h0m.5 1h0m0 1h0m0-1.5h0m.5 2.5h0m.5-.5h0m0 1h0m0-5.5h0m0 1h0m0 .5h0m.5 .5h0m0-.5h0m0 2.5h0m0-4h0m.5 1.5h0m0 1h0m0 3h0m.5-1h0m0-4h0m0 .5h0m0 .5h0m0 1.5h0m0 1h0m.5-3h0m0 .5h0m0-1.5h0m.5 5h0m0-3.5h0m0 1.5h0m0 .5h0m.5-1h0m0 1h0m0 .5h0m0-4h0m0 1h0m0-.5h0m0 1.5h0m.5-.5h0m.5 1h0m0 1h0m0-.5h0m0 1.5h0m0 1h0m.5-3h0m0 1h0m0-2.5h0m0 1h0m.5-.5h0m0 2h0m0 1h0m0-.5h0m0 1.5h0m0-5.5h0m.5 5h0m0-5h0m0 1h0m0 1h0m.5 2.5h0m0 .5h0m0-4h0m0 1h0m.5 2.5h0m0 1h0m0-.5h0m0-4h0m0-.5h0m0 3h0m0-.5h0m.5 1.5h0m0 .5h0m0-4h0m0 1.5h0m.5-2.5h0m0 .5h0m0 3h0m.5-3.5h0m0 3h0m.5 1.5h0m0 1h0m0-5h0m0 4.5h0m0-4h0m0 1.5h0m0 1.5h0m.5-3.5h0m0 1h0m0 1h0m0 .5h0m0 1.5h0m.5-2h0m.5 .5h0m.5 1h0m.5 1h0m0-3h0m0-.5h0m0 2.5h0m.5 1h0m.5-3.5h0m2 1h0m-18.5 7h0m2 .5h0m0-3h0m.5 3.5h0m.5-1h0m0 .5h0m.5-.5h0m.5-1.5h0m0 1h0m.5 .5h0m0-1h0m.5-.5h0m0 1h0m.5-2h0m0 .5h0m0 3h0m0-.5h0m.5-.5h0m0-3h0m0 4.5h0m0-2h0m.5 .5h0m0 1h0m.5-4h0m0 1.5h0m0-.5h0m.5 2.5h0m0 1.5h0m0-4.5h0m.5 4h0m.5-3.5h0m0 2h0m0 1h0m0-4.5h0m0 .5h0m0 1.5h0m.5 .5h0m0 1h0m0 .5h0m.5-1h0m0-.5h0m0 1.5h0m0 1.5h0m0-5h0m0 4.5h0m.5-2h0m0 1h0m0-2h0m.5 3.5h0m.5-.5h0m0-5h0m0 .5h0m0 1.5h0m.5 3h0m0-5h0m0 1h0m0-.5h0m.5 3.5h0m0 1.5h0m0-5h0m0 4.5h0m0-5h0m0 1h0m0 .5h0m.5 2h0m0 1h0m0-4h0m0 1h0m.5 2.5h0m0 1h0m0-2h0m0-.5h0m.5-.5h0m0-.5h0m0 1h0m0 1h0m.5 1.5h0m0-3.5h0m0 2h0m.5-3.5h0m0 2h0m0-.5h0m0 1.5h0m0 .5h0m0-3h0m.5 .5h0m0 1h0m.5-1.5h0m0 3h0m.5 .5h0m.5-2h0m0 1h0m0 .5h0m0 1h0m.5-.5h0m0-4h0m0 2h0m.5 .5h0m0 3h0m0-.5h0m.5 0h0m0-4h0m.5 2h0m0 .5h0m.5-2.5h0m.5 2.5h0m1.5 1h0m0 1h0m0-4.5h0m-20.5 5h0m2.5 1.5h0m.5-1.5h0m.5 2h0m0 1h0m.5 0h0m.5 0h0m0 1h0m.5 0h0m.5-.5h0m0-2h0m0-.5h0m.5 2h0m0 1h0m0 .5h0m1-2h0m0 1h0m0 1h0m.5-1.5h0m0 1h0m0 .5h0m.5-1.5h0m0 .5h0m0 .5h0m0 1.5h0m0-.5h0m.5-3.5h0m0-1h0m0-.5h0m.5 1.5h0m0 1.5h0m0 2.5h0m0-5h0m.5 1.5h0m0-2h0m0 1h0m.5 0h0m0 1h0m0 2.5h0m0 .5h0m.5 .5h0m0-3.5h0m0 1h0m.5 .5h0m0 1h0m0-4.5h0m0 1h0m0 2h0m.5 1.5h0m0 1h0m0-1.5h0m.5-3.5h0m0 4.5h0m0-4h0m0 1h0m.5 .5h0m0 1.5h0m0-.5h0m0-3h0m0 1h0m0-.5h0m.5 0h0m0 .5h0m0 2h0m0 1h0m.5 1h0m0-5.5h0m.5 4h0m0-.5h0m.5-2.5h0m0 .5h0m0 3h0m.5-3h0m0 .5h0m.5 0h0m0 1h0m.5 2.5h0m0-1h0m.5-3h0m0 2h0m0 2h0m0-5.5h0m.5 1h0m0 1.5h0m0 2h0m0 1h0m.5 0h0m0-3.5h0m.5 0h0m0 1h0m0 2h0m0-4h0m.5 2h0m0-.5h0m0 1.5h0m0-3.5h0m0 1h0m.5 2h0m0 2h0m0-.5h0m0-4h0m.5 2h0m0 .5h0m0 1h0m0 1h0m0-4.5h0m0 1h0m.5-1.5h0m.5 5h0m.5-5h0m0 .5h0m-17 7.5h0m1.5 .5h0m0-3h0m1 2h0m.5-1.5h0m.5 1h0m.5-.5h0m0 1h0m0-1.5h0m0-.5h0m.5 2.5h0m0-2h0m0-.5h0m.5 1.5h0m0 1h0m0 1.5h0m.5-.5h0m.5-2.5h0m0 2h0m0 1.5h0m.5-2.5h0m.5 1.5h0m0-2.5h0m.5-.5h0m0-.5h0m0 3h0m.5 2h0m0-3.5h0m.5 1.5h0m0-.5h0m0 1h0m0 1.5h0m0-.5h0m0-3h0m.5-1h0m0 .5h0m0 2h0m0-.5h0m0 1.5h0m.5-.5h0m0 1h0m0-2.5h0m0 1h0m.5 2.5h0m0-.5h0m.5 .5h0m0-.5h0m0-3.5h0m0-.5h0m0 2h0m.5 2h0m0-.5h0m0-4.5h0m0 1h0m0 1h0m.5-.5h0m0 1.5h0m0 1.5h0m0-4h0m.5 5h0m0-.5h0m0-2h0m0 .5h0m.5-.5h0m0 1h0m0-3.5h0m.5 4.5h0m0-5h0m0 1h0m0 1.5h0m0 2h0m.5-1.5h0m0 1.5h0m0-4h0m.5 2.5h0m0-.5h0m0 1.5h0m0 1.5h0m0-5h0m.5 2h0m0 1h0m0 1.5h0m.5-3.5h0m0 3h0m0-3.5h0m0 1h0m.5 2h0m0 1.5h0m0-5h0m0 .5h0m.5 3h0m0-.5h0m0 1.5h0m0-.5h0m0 1h0m0-4h0m.5 2.5h0m0 .5h0m0-3h0m.5 2.5h0m.5-.5h0m.5-2.5h0m-12.5 5.5h0m2-.5h0m0 1.5h0m1.5 0h0m.5-1.5h0m1 0h0m.5 0h0m.5 0h0m0 2.5h0m.5-2.5h0m0 1.5h0m.5-1.5h0m0 1.5h0m0 .5h0m.5-1.5h0m0-.5h0m0 1h0m0 3.5h0m.5-3h0m0 1.5h0m0-.5h0m0-2h0m.5 1h0m0 1.5h0m.5-2.5h0m0-.5h0m0 1.5h0m0 1h0m.5 .5h0m0 1h0m0-3.5h0m0 1h0m.5 .5h0m0 1h0m0-.5h0m0 1h0m0-3h0m0-.5h0m0 1.5h0m0-.5h0m.5 2h0m0 .5h0m0-3h0m0-.5h0m0 1.5h0m.5-1h0m0-.5h0m0 1.5h0m0-.5h0m0 1.5h0m.5-1.5h0m0 1h0m0 1h0m.5-3h0m0 2h0" stroke="#4a5a9a" stroke-width="1.9" stroke-linecap="round" fill="none"/>
<path d="M342.5 2150.5h0m.5 0h0m0 3h0m.5-4h0m0 4h0m.5-1h0m0 1h0m.5-3h0m0-.5h0m.5 1.5h0m.5-1h0m0 1h0m.5-1h0m0 1.5h0m0-.5h0m.5 .5h0m0 .5h0m.5-.5h0m-6 3.5h0m2.5 0h0m0-.5h0m.5 2h0m0-2.5h0m0 2h0m.5-1h0m0-1h0m.5-.5h0m0 1.5h0m0 2h0m.5-1.5h0m1 1h0m1.5-1h0m0-1h0m.5 .5h0m0-1.5h0m.5 2.5h0m0 2h0m0-3h0m.5-1h0m-6 9h0m.5 .5h0m.5 1.5h0m3 0h0m0-2h0m.5-1h0m0-.5h0m.5 0h0m0-.5h0m0 1.5h0m0-2.5h0m.5 3.5h0m0 .5h0m.5-2.5h0m1 2h0m.5-2.5h0m.5-.5h0m0-.5h0m.5 .5h0m0 3.5h0m0-2.5h0m.5 0h0m2 2.5h0m-13 6h0m.5-.5h0m1 0h0m.5-1h0m.5-.5h0m0 2h0m0 .5h0m.5-4.5h0m0-.5h0m1 0h0m0 3.5h0m0 2h0m2-4h0m0-1h0m1.5 1.5h0m0 2h0m0-.5h0m0-2.5h0m0 4.5h0m.5-4h0m0 2h0m.5 0h0m.5 1h0m0-2.5h0m0 1h0m1 2h0m1-1.5h0m0 1.5h0m0-2.5h0m1 2h0m0-3.5h0m1 2h0m1-3h0m0 2h0m-18.5 9.5h0m.5-1h0m2 .5h0m0 .5h0m.5-4.5h0m.5 3.5h0m0-.5h0m.5-1h0m0 1h0m0-2.5h0m1 2.5h0m.5 1h0m.5-1.5h0m.5 1h0m.5 1h0m.5-1.5h0m0-.5h0m.5 0h0m0-2.5h0m0-1h0m.5 4.5h0m1 1h0m.5-2h0m0-.5h0m0-2.5h0m0 4h0m.5-3h0m0 2h0m.5-.5h0m0-3h0m.5 4.5h0m1-2h0m.5 2h0m0 .5h0m0-5h0m1 3.5h0m0-1h0m.5-2.5h0m2 1.5h0m-19 9h0m2-1h0m.5 2h0m1.5-1h0m1-1h0m0-1.5h0m.5 0h0m0-1h0m.5 4.5h0m.5-2.5h0m0 2h0m.5-3h0m.5-2h0m1.5 1h0m0 4.5h0m0-1.5h0m0-2.5h0m.5-1.5h0m.5 4.5h0m0-2.5h0m0 2h0m.5-2.5h0m0 2h0m0-.5h0m0-2.5h0m.5-.5h0m0 3.5h0m0-2.5h0m.5 2h0m0 1h0m1 1h0m1-3h0m.5-1.5h0m.5 5h0m0-.5h0m.5-3h0m0 1h0m.5 1h0m.5-4h0m0 3.5h0m.5-2.5h0m-17.5 8h0m.5 1h0m1.5-3.5h0m0 3.5h0m0-.5h0m.5-1h0m0-2.5h0m.5 4.5h0m.5 1h0m0-2.5h0m0 1.5h0m0-.5h0m1 1h0m0-2.5h0m.5 0h0m.5-2.5h0m0 4.5h0m.5 0h0m0-2.5h0m0-.5h0m0 1.5h0m.5-2h0m.5 1.5h0m1 1h0m0-3h0m0 4.5h0m0-2.5h0m1 1h0m0-3.5h0m0 4h0m.5-1h0m.5-2.5h0m.5 4h0m0-1h0m.5-2h0m0-.5h0m.5-1h0m0 5.5h0m.5-4.5h0m1 4.5h0m0-.5h0m3.5-4.5h0m.5-.5h0m-21 10.5h0m.5 1h0m0-2.5h0m1-2h0m0 4h0m0-2.5h0m1-.5h0m.5-2h0m.5 5h0m1 .5h0m0-.5h0m.5-2.5h0m.5-1h0m.5-.5h0m.5 .5h0m1 3h0m.5-4.5h0m.5 .5h0m0 1.5h0m.5 0h0m0 3.5h0m0-.5h0m.5-2h0m0-.5h0m1.5-1.5h0m.5 0h0m0 3.5h0m1-4h0m0-.5h0m.5 4h0m0-.5h0m0-2.5h0m.5 1.5h0m1.5-2.5h0m-16.5 11.5h0m0-1.5h0m1-3.5h0m0 1.5h0m.5 2h0m0-.5h0m0 1.5h0m0-3h0m.5-2h0m0 3.5h0m0 2h0m.5-4.5h0m0 2h0m0-2.5h0m.5 .5h0m.5 3.5h0m.5 0h0m0-3h0m.5 3.5h0m.5-2h0m0-.5h0m0-1h0m0 2h0m.5-.5h0m0-1.5h0m.5-1h0m0 2h0m1 .5h0m0 2h0m.5-2h0m0 2h0m.5 .5h0m.5-1.5h0m1-3h0m1.5 4h0m.5-4h0m0 4h0m.5-4h0m.5 .5h0m0 1h0m1-1h0m0-.5h0m-19.5 8.5h0m2 0h0m.5-3h0m.5 5h0m.5-1h0m.5 0h0m0-2.5h0m.5 2.5h0m0-2.5h0m.5 3h0m0-.5h0m0-1h0m.5 0h0m0 1.5h0m.5-.5h0m1.5-2h0m1.5-1.5h0m.5 0h0m0 .5h0m.5 3h0m.5-2h0m.5-1h0m0 4h0m0-3.5h0m.5-1h0m0 1.5h0m0-2.5h0m.5 0h0m.5 3h0m.5-2.5h0m2 1h0m1 1.5h0m0-2.5h0m-18.5 5.5h0m.5 5.5h0m0-2h0m.5 1.5h0m.5 .5h0m0-1h0m0-2.5h0m0 1.5h0m.5-2h0m0 2h0m0 1.5h0m1.5-1h0m0-1h0m.5 .5h0m.5 2h0m0-1h0m2 0h0m0-4h0m.5 5h0m.5-1.5h0m1.5-2.5h0m0 1h0m1.5-1h0m0-.5h0m.5 1h0m2 1h0m0 1.5h0m-17.5 5.5h0m.5-1.5h0m.5 2h0m0 1h0m.5-3h0m0 2h0m.5-1h0m0-2.5h0m.5 2.5h0m.5 2h0m0-1.5h0m.5 0h0m0-.5h0m.5 2h0m0-.5h0m0-5h0m0 2h0m.5-.5h0m0-1h0m.5 1h0m0 3.5h0m.5-.5h0m0-2.5h0m.5 0h0m0 2h0m0-.5h0m0-2.5h0m.5 2h0m0-2.5h0m0 4.5h0m.5-5h0m.5 4h0m0-3h0m0 2h0m.5-1.5h0m0 2h0m1-3h0m0 4.5h0m1.5-1h0m0-2.5h0m0 4h0m0-5.5h0m1 3.5h0m1-3h0m2-.5h0m-18 11h0m2 0h0m.5-2h0m0-.5h0m.5 3h0m0-3h0m0 1.5h0m.5-1h0m0 2h0m.5-1h0m0-3h0m.5 4.5h0m0-2.5h0m.5-1.5h0m.5 3h0m1-3.5h0m.5 1h0m0 1.5h0m.5 .5h0m0-1.5h0m0-2.5h0m.5 1h0m0-.5h0m.5 0h0m0 1.5h0m0-1h0m.5 3.5h0m1.5-2.5h0m3-1h0m-21 10h0m3-2.5h0m0 2h0m0-.5h0m1 .5h0m.5 1h0m0-5h0m0 2h0m.5-2.5h0m.5 1.5h0m0 3.5h0m1.5 0h0m0-1.5h0m.5 .5h0m.5-2.5h0m0 3h0m.5-3h0m0 2h0m.5-1.5h0m0 3h0m.5-3.5h0m1 2h0m0 2h0m.5-3.5h0m1 1.5h0m1-2h0m0 1.5h0m1-2.5h0m0-.5h0m0 1.5h0m.5-1h0m0-.5h0m.5 1.5h0m-19.5 9.5h0m1-3.5h0m0 3.5h0m2-.5h0m1 1h0m1.5-4.5h0m1.5 .5h0m.5-.5h0m0 4h0m.5 0h0m.5-2.5h0m0-2.5h0m.5 3.5h0m.5-1h0m0 1h0m.5 1.5h0m0-5h0m.5 1.5h0m0-1.5h0m1 .5h0m1 3h0m-17.5 6.5h0m.5 1.5h0m.5-2.5h0m1.5 2h0m.5-4h0m0 4.5h0m.5-5h0m.5 1.5h0m.5 2h0m0-3h0m0 4.5h0m1.5 0h0m.5-.5h0m.5-3.5h0m0 1.5h0m1 0h0m0-.5h0m.5-2.5h0m.5 4h0m.5 0h0m.5-1.5h0m1 1h0m0-3h0m.5 2h0m0 1h0m-19 7.5h0m2.5-1.5h0m.5 0h0m1 1.5h0m1.5 0h0m0-2.5h0m.5-1.5h0m1 .5h0m1 .5h0m.5 3h0m0-3h0m0 1.5h0m.5 .5h0m.5 1.5h0m1-5.5h0m.5 5h0m0-.5h0m.5-.5h0m.5-1.5h0m1.5-.5h0m1-1.5h0m-19.5 10h0m1.5-.5h0m.5-1.5h0m.5 1h0m.5-1.5h0m0 3h0m.5 0h0m0-.5h0m0-2.5h0m1.5-1.5h0m1.5-.5h0m.5 4h0m1-2h0m.5-.5h0m0-.5h0m0-1h0m.5 4.5h0m.5 0h0m1 1h0m0-4.5h0m.5 .5h0m0 1h0m0-2.5h0m1.5 4h0m0-3h0m.5 4h0m2-5h0m-20.5 10h0m2 .5h0m0-.5h0m1.5-1.5h0m1.5 2.5h0m0-5h0m.5 1.5h0m0 1.5h0m.5 1.5h0m.5-2.5h0m.5 0h0m0 2h0m0-.5h0m.5 1h0m.5-3h0m0 4h0m0-2.5h0m0-1h0m1-1.5h0m0 1.5h0m.5 .5h0m0 2h0m.5-1h0m.5-2h0m.5-1h0m.5 5h0m0-3h0m0-1h0m.5 1.5h0m1-2h0m0-1h0m-20.5 11h0m.5-1h0m.5 1.5h0m1 0h0m0-2.5h0m0 2h0m0-.5h0m1.5-.5h0m1.5 0h0m.5-2h0m0 1h0m1 0h0m0 2h0m.5-1h0m.5-1h0m0 .5h0m0-2.5h0m1-.5h0m0 2h0m0-1h0m.5 3.5h0m0-2.5h0m0-2.5h0m1 .5h0m0 3.5h0m.5-2.5h0m0 2h0m0-3.5h0m.5 5h0m.5-5h0m0 1.5h0m0-.5h0m.5 .5h0m0 .5h0m1 1.5h0m0-2h0m3-1.5h0m-20 11.5h0m2-4h0m0-.5h0m0 2h0m1 0h0m0-.5h0m.5 2h0m0 1h0m0-5h0m0 2h0m.5 .5h0m0 1h0m0-2.5h0m1-1h0m0-.5h0m0 1h0m.5 1h0m.5-1h0m0-1h0m.5 5h0m0-1h0m0-.5h0m.5-.5h0m.5 .5h0m0-3.5h0m.5 5h0m0-2h0m1-3h0m0 3h0m.5-3h0m0 1.5h0m0 2h0m1-3.5h0m-19 10h0m1-1h0m.5 1h0m.5-1h0m2 2h0m1-2h0m0-.5h0m0 2h0m.5-2.5h0m.5-2h0m0 3.5h0m.5 1h0m.5-.5h0m1-.5h0m0-.5h0m0-.5h0m.5 1.5h0m4-2h0m3.5-1.5h0m-19.5 10h0m.5-1.5h0m1-2h0m0 1.5h0m1.5-1h0m0 1.5h0m0-1h0m1.5-.5h0m1-1h0m1.5 .5h0" stroke="#6a8a6a" stroke-width="1.9" stroke-linecap="round" fill="none"/>
<path d="M355.5 2156h0m2 1h0m1.5 1.5h0m2 .5h0m1.5 2.5h0m.5 0h0m16.5 3.5h0m7-.5h0m8 .5h0m-29.5 6h0m.5 .5h0m3.5-1.5h0m3 1h0m1 0h0m.5 0h0m1.5-2.5h0m.5 1.5h0m.5 0h0m0-.5h0m1.5 1.5h0m1-1h0m.5-4h0m1 2h0m0-.5h0m.5 .5h0m0 .5h0m.5 0h0m0-1h0m.5 3h0m.5-.5h0m1-2h0m1 1h0m.5 2.5h0m.5-1.5h0m2 1h0m1-1.5h0m2 1.5h0m.5-4h0m0 4h0m1-.5h0m0-1h0m0 2h0m0-2.5h0m0-.5h0m.5 2.5h0m0-1.5h0m.5-1.5h0m0 2h0m0 1h0m.5-3h0m0 3.5h0m0-5h0m0 4.5h0m.5-2.5h0m0 1.5h0m.5 .5h0m0-3h0m0 2h0m0-1h0m.5 .5h0m0-.5h0m0-.5h0m0 2h0m0-.5h0m.5 2h0m0-.5h0m0-2.5h0m0 2h0m0-.5h0m.5-2h0m0 2h0m0-.5h0m0 2h0m0-2.5h0m0-2.5h0m0 4.5h0m.5 .5h0m0-2.5h0m0-1.5h0m.5 2.5h0m0-2.5h0m0 2h0m0 2h0m0-2.5h0m0 1.5h0m.5 0h0m0-.5h0m0-2.5h0m0 2h0m.5 1.5h0m0-3h0m0 2h0m0-2.5h0m.5 2.5h0m0-1h0m0-.5h0m.5 .5h0m0 2h0m0-2.5h0m0 2h0m0-2.5h0m0 2h0m0-2.5h0m0-.5h0m.5 4.5h0m0-.5h0m0-2.5h0m0 2h0m0-3h0m.5 2.5h0m0-.5h0m0-2.5h0m0 4.5h0m0-2.5h0m0-.5h0m0 2h0m0-2.5h0m.5 3h0m0-2.5h0m0-.5h0m0 1.5h0m.5 .5h0m0-2.5h0m0 4h0m0-2.5h0m0-.5h0m.5 1.5h0m0 1.5h0m0-2.5h0m0 2h0m0-2.5h0m.5 2.5h0m0-.5h0m0-2.5h0m0 2h0m0-.5h0m.5 .5h0m0-2.5h0m0 2h0m0 2h0m0-3h0m0 2h0m.5-2h0m0-.5h0m0 2h0m0-2.5h0m0 1.5h0m0-2.5h0m.5 4.5h0m0-1h0m0-.5h0m.5 .5h0m0-.5h0m0 2h0m0-1h0m.5 1h0m0-2.5h0m0 2h0m0-1.5h0m.5-.5h0m0-.5h0m1 .5h0m0 1.5h0m0-.5h0m-50 6h0m1 .5h0m.5-2.5h0m1.5 2h0m.5 1h0m.5 .5h0m2.5 0h0m1-3h0m0-.5h0m.5 .5h0m0 2.5h0m.5 0h0m.5-1.5h0m0-1h0m.5 .5h0m0 2h0m1-1.5h0m1-1h0m0-1h0m.5-1.5h0m1.5 2h0m0 .5h0m.5-1.5h0m0-.5h0m0-.5h0m.5 1.5h0m0 2.5h0m.5-1h0m1.5 1h0m.5-3.5h0m.5 2.5h0m.5 1h0m.5-2.5h0m0 1h0m.5-.5h0m.5 3.5h0m0-3.5h0m.5 2.5h0m.5-1h0m.5-3h0m1 3h0m.5 0h0m.5 0h0m1 1h0m.5-1.5h0m.5 0h0m0-2h0m2.5 1h0m1.5 1.5h0m0-1h0m1.5-1.5h0m.5 2.5h0m.5-1.5h0m0 1.5h0m0 2h0m1-5h0m.5 1.5h0m.5-1h0m.5-.5h0m0-.5h0m.5 1.5h0m.5-.5h0m.5-1h0m0 1.5h0m0-.5h0m0 1.5h0m.5-2h0m.5 1h0m0-.5h0m0-.5h0m1 .5h0m.5 .5h0m0-1h0m0-.5h0m.5 1h0m0 .5h0m.5-1h0m0-.5h0m1 .5h0m.5 .5h0m0-1h0m.5 0h0m0 2h0m.5-2h0m.5 1.5h0m0-1h0m.5 0h0m0-.5h0m0 1h0m.5 0h0m0-1h0m.5 .5h0m.5-.5h0m.5 .5h0m1.5-.5h0m.5 0h0m.5 .5h0m0-.5h0m-63.5 11h0m1.5-1h0m16.5-3h0m1-.5h0m.5 1h0m.5 0h0m0-1h0m0 4.5h0m1-4h0m.5-1h0m0 2h0m0 1h0m.5 0h0m1-2.5h0m.5 3.5h0m1.5-3h0m0 3.5h0m.5-.5h0m1-2.5h0m.5 2.5h0m0 1.5h0m.5-4h0m1-.5h0m1 0h0m3.5 .5h0m2.5 1.5h0m0-1.5h0m1 1h0m1.5 3h0m2-4.5h0m1 0h0m1-.5h0m-43 5.5h0m3 4h0m0-2.5h0m.5 3h0m0-.5h0m1 .5h0m19-4.5h0m5 1h0m6.5-1h0m-31 8h0m.5-.5h0m1 3.5h0m0-3h0m0 2h0m.5-1.5h0m1 3h0" stroke="#f08020" stroke-width="1.9" stroke-linecap="round" fill="none"/>
<path d="M375 2195.5h0m1.5 0h0m-3 5.5h0m.5-2h0m0-.5h0m0 1.5h0m.5 0h0m0-2.5h0m0 4h0m.5-1h0m0-2.5h0m0 2h0m0-2.5h0m.5 1h0m.5 1h0m0-2.5h0m0 4.5h0m0-5h0m0-.5h0m.5 3h0m0-2.5h0m0-.5h0m0 5.5h0m.5-1.5h0m0-2.5h0m-10 9.5h0m.5 .5h0m.5-1h0m.5 .5h0m.5-2.5h0m.5 3h0m0-1h0m0-.5h0m.5 1h0m.5 0h0m0-2.5h0m0 1.5h0m0-.5h0m.5 1.5h0m0-2.5h0m0 2h0m.5-2.5h0m0 1.5h0m0 2h0m0-3h0m.5 2h0m0-2.5h0m0 1.5h0m0-.5h0m.5 2.5h0m0-5h0m0-.5h0m.5 1.5h0m0 2h0m0-2.5h0m0-.5h0m0 2h0m.5 .5h0m0-2.5h0m0 4.5h0m0-.5h0m0-2.5h0m0-.5h0m.5 .5h0m0 2h0m0-2.5h0m0 3h0m.5-2h0m0-2.5h0m0 4.5h0m0-2.5h0m0 2h0m0-.5h0m0-.5h0m.5-1.5h0m0 2h0m0-2.5h0m.5-.5h0m0 1.5h0m.5-2h0m0 2h0m-32.5 9.5h0m.5 0h0m.5-2.5h0m0-1h0m.5 3.5h0m0-2.5h0m0 2h0m.5-3h0m0 2h0m0-.5h0m.5-2h0m.5 3h0m0 .5h0m.5-2.5h0m0 1.5h0m0-.5h0m.5 0h0m0 2h0m0-3h0m.5 2h0m0-.5h0m0-1h0m.5 2.5h0m0-2.5h0m0 1.5h0m0-1h0m.5 1.5h0m0-2.5h0m.5 3h0m.5-2.5h0m0 2h0m0-2.5h0m0 2h0m.5-1.5h0m0 2h0m.5-1.5h0m.5-.5h0m.5 1h0m.5 1.5h0m0-1h0m0-2.5h0m0 2h0m.5-1h0m0-.5h0m.5 .5h0m.5 2.5h0m0-1.5h0m.5 0h0m.5-1h0m0 1.5h0m.5-1h0m0 2h0m0-2.5h0m0-.5h0m0 2h0m.5-.5h0m0 1h0m.5-2.5h0m0 1h0m.5-1.5h0m.5 2h0m0 1.5h0m0-.5h0m.5-3h0m0 2h0m.5 0h0m0-.5h0m0 1.5h0m0-2.5h0m0 2h0m.5 0h0m.5 .5h0m.5 .5h0m0-2.5h0m0-.5h0m0-.5h0m.5 3h0m0-3h0m0 1.5h0m.5-2h0m0 2h0m0-.5h0m0 1.5h0m.5-2h0m.5 2h0m0-2.5h0m0 2h0m.5-.5h0m0 1.5h0m0-2.5h0m0-.5h0m.5 0h0m0 1.5h0m.5-.5h0m0-.5h0m0 2h0m0-2.5h0m0 2h0m.5 0h0m0-3h0m0 2h0m.5 0h0m0-2.5h0m0 4.5h0m0-1h0m0-.5h0m.5-2.5h0m0 1.5h0m0-2.5h0m0 4.5h0m.5-2.5h0m0 3.5h0m0-.5h0m.5-1h0m0-2.5h0m0 2h0m0-2.5h0m.5 3h0m0-1h0m0 2h0m.5-3h0m0 1.5h0m0 2h0m0-2.5h0m.5 0h0m0-1.5h0m0 2h0m.5-.5h0m0-2.5h0m0-.5h0m0 2h0m.5-1.5h0m0 2h0m0 1.5h0m0-2.5h0m0-.5h0m.5 2h0m0-2.5h0m0-.5h0m0 2h0m0 2h0m0-2.5h0m.5 3.5h0m1-3.5h0m0 2h0m.5 .5h0m0-3h0m0-.5h0m.5 1.5h0m0 1.5h0m0-2.5h0m.5 2.5h0m.5-3.5h0m.5 .5h0m.5-.5h0m-26 6h0m.5 0h0m.5 .5h0m.5-.5h0m1.5 0h0m1 1h0m1.5-.5h0m0 .5h0m1 0h0m0 1h0m.5-1.5h0m.5 0h0m0-.5h0m.5 0h0m0 .5h0m.5 1h0m.5-1h0m.5 0h0m0-.5h0m0 1h0m.5-.5h0m0 1.5h0m0-.5h0m.5-1h0m0 1.5h0m1-.5h0m0-.5h0m0-.5h0m.5-.5h0m1 1h0m1-1h0m1 .5h0m0 .5h0m.5 0h0m1 .5h0m1.5-1h0m5.5 5.5h0m1 1.5h0m.5 .5h0m.5 1h0m.5 1h0m.5 0h0m.5 1h0m0-.5h0m0 1.5h0m1 0h0m.5 1.5h0m0-.5h0m0-.5h0m1 .5h0m.5 1.5h0m0-.5h0m0 1.5h0m0-.5h0m.5 .5h0m.5 0h0m.5 1h0m0 1h0m.5-1h0m.5 1.5h0m0 .5h0m.5-.5h0m.5 0h0m1 2.5h0m1-1.5h0m0 2h0m.5-1h0m.5 1.5h0m.5-.5h0m.5 1.5h0m0 .5h0m1.5-1h0m0 1h0m.5 .5h0m.5 0h0m63.5 0h0m1.5 0h0m.5-1h0m.5-.5h0m0 1.5h0m.5-.5h0m0-.5h0m0-1h0m.5 .5h0m0-1.5h0m.5 .5h0m0 1h0m0-2.5h0m.5 2h0m.5 0h0m0-1.5h0m-69 4.5h0m.5 .5h0m1.5 1h0m.5 1.5h0m.5 1h0m.5-2h0m0-.5h0m0 2h0m.5 1h0m0-2.5h0m.5 0h0m0 1h0m0 1.5h0m1.5 .5h0m.5-1h0m.5 1h0m.5 0h0m0-.5h0m.5 .5h0m1.5-.5h0m.5 .5h0m47.5-1.5h0m0 1.5h0m1-.5h0m.5-.5h0m.5 0h0m.5 0h0m.5-2h0m0 1h0m.5 0h0m0 2h0m1-2h0m0-2.5h0m.5 .5h0m1-1h0m0 1.5h0m0-1h0m1-1h0m1.5 .5h0m.5-.5h0m-60 7h0m0-.5h0m1 0h0m.5-.5h0m.5 .5h0m0-.5h0m1 .5h0m0-.5h0m0 1.5h0m.5 0h0m.5-.5h0m0 1.5h0m.5-1.5h0m0 2h0m0-.5h0m.5-2h0m0 1.5h0m.5 1.5h0m.5-2h0m0 2h0m.5 0h0m0-1h0m1.5-1h0m.5 0h0m0 2h0m0-2.5h0m1 3.5h0m0-.5h0m0-1.5h0m.5 2.5h0m0-.5h0m.5-2h0m0 2h0m.5-.5h0m.5 1.5h0m0-1.5h0m.5 0h0m.5 0h0m0 1.5h0m0-.5h0m.5 .5h0m0-.5h0m0-.5h0m.5 1h0m1 0h0m0-1h0m.5 1h0m.5 0h0m0-1h0m1-.5h0m0 1h0m.5-.5h0m.5-.5h0m.5 .5h0m1 1h0m.5-1h0m.5-1.5h0m.5 2.5h0m.5-.5h0m0-1h0m.5 0h0m0 1h0m0-.5h0m.5-.5h0m.5 1h0m0-.5h0m.5 .5h0m.5 .5h0m0-.5h0m0-1h0m1 .5h0m2 1h0m0-1h0m.5 1h0m1 0h0m1-1h0m.5 1h0m.5 0h0m0-.5h0m.5-.5h0m.5 .5h0m1 .5h0m0-.5h0m2-1h0m0 1.5h0m0-.5h0m.5 .5h0m.5-1h0m.5 .5h0m0-.5h0m2.5-.5h0m.5 0h0m0-.5h0m.5 1.5h0m1.5 .5h0m0-.5h0m1 0h0m0-1.5h0m0 2h0m.5 0h0m0-.5h0m0-2.5h0m.5 .5h0m0 2h0m0-2.5h0m0 3h0m.5-3.5h0m0 2h0m.5-2h0m.5 .5h0m.5-1h0m0 3h0m0-2.5h0m.5 1h0m.5 2h0m0-.5h0m1 .5h0m0-.5h0m0-.5h0m0-2.5h0m.5 4h0m0-3.5h0m1 .5h0m.5-2h0m0 2h0m0-.5h0m.5 0h0m0-1h0m0 1.5h0m.5-2h0m0 2h0m0-1h0m0-.5h0m.5 2.5h0m0-2.5h0m0-1h0m.5 2h0m.5-2h0m0 1.5h0m.5-.5h0m0 2h0m0-2.5h0m.5 1h0m.5 0h0m0-.5h0m-41.5 5h0m.5 0h0m2 1h0m0-.5h0m.5-.5h0m1 0h0m1 2.5h0m.5-1.5h0m.5-1h0m1 1h0m0 1h0m.5-.5h0m.5-1h0m0 1.5h0m0-.5h0m.5-.5h0m0-.5h0m1-.5h0m.5 1h0m0-.5h0m.5 .5h0m.5-1h0m0 2h0m.5 0h0m.5 1h0m0-2.5h0m0 1h0m1 .5h0m0-1h0m.5 0h0m.5 0h0m0 1.5h0m.5-1.5h0m0-.5h0m.5 0h0m0 1h0m1-1.5h0m0 1h0m.5 .5h0m0-1h0m.5 .5h0m0 1.5h0m0-2.5h0m.5 .5h0m0 .5h0m.5 0h0m0-1h0m.5 0h0m0 1h0m.5-1h0m.5 .5h0m0-.5h0m.5 2h0m0-.5h0m0-.5h0m1-.5h0m0-.5h0m0 2h0m1.5-1.5h0m1 1h0m0 1h0m1-1h0m.5-.5h0m0-1h0m.5 1.5h0m1.5-1.5h0m0 1h0m1 .5h0m0-.5h0m.5-.5h0m1.5-.5h0m.5 0h0m.5 .5h0" stroke="#a84090" stroke-width="1.9" stroke-linecap="round" fill="none"/>
<path d="M265.5 2213.5h0m.5 0h0m.5 0h0m2 0h0m.5 0h0m0-.5h0m1 0h0m1.5-.5h0m.5-.5h0m0 1.5h0m.5-1h0m0 1h0m2-.5h0m.5-1h0m0 1h0m.5-.5h0m0 1h0m.5-.5h0m0 .5h0m.5 0h0m.5-1.5h0m.5 0h0m0 1h0m1-.5h0m0 1h0m0-.5h0m.5-.5h0m0 1h0m.5-1h0m0 1h0m.5-.5h0m1 .5h0m0-.5h0m1.5 0h0m1 0h0m.5 .5h0m.5 0h0m.5 0h0m0-.5h0m1.5 .5h0m-21.5 .5h0m1.5 0h0m1 .5h0m1-.5h0m.5 0h0m.5 .5h0m.5-.5h0m1 0h0m1 0h0m9.5 .5h0m.5-.5h0m1 0h0m.5 0h0m1.5 0h0m.5 .5h0m.5-.5h0m.5 0h0m.5 0h0m1 0h0m.5 0h0m0 1h0m0-.5h0m.5 0h0m.5-.5h0m.5 1h0m1 0h0m1-.5h0m.5 .5h0m.5 .5h0m0-.5h0m1.5-.5h0m0 1h0m.5-.5h0m0 1h0m.5-1h0m0 1h0m0 .5h0m1-.5h0m0 .5h0m.5 0h0m.5-1h0m0 1h0m1 0h0m1 0h0m.5 0h0m.5 .5h0m.5 .5h0m0-.5h0m1 1h0m1-.5h0" stroke="#e4e030" stroke-width="1.9" stroke-linecap="round" fill="none"/>
<path d="M335.5 2261h0m0 .5h0m1-.5h0m0 .5h0m.5-.5h0m0-2.5h0m0 2h0m.5 1h0m0-1h0m.5-.5h0m.5-1.5h0m0 1.5h0m0 1h0m.5-1h0m.5 .5h0m0 .5h0m.5-1.5h0m.5-.5h0m.5 .5h0m4 1.5h0m-15.5 6.5h0m1-1.5h0m0 1h0m.5 0h0m0 .5h0m.5-1h0m.5 1h0m.5-2.5h0m.5 0h0m0 .5h0m.5-1h0m0 1.5h0m0-1h0m.5 2h0m.5-2h0m0 2h0m.5-2h0m0-.5h0m0 1h0m0 1h0m.5-3.5h0m.5 3.5h0m0-4h0m0 2.5h0m0-.5h0m.5 1.5h0m0 .5h0m0-4.5h0m.5 0h0m0 1h0m0 1h0m.5-1.5h0m0 1h0m1-.5h0m.5 .5h0m4.5 1.5h0m1-.5h0m1 0h0m1-.5h0m0 1h0m0-.5h0m0 1h0m1 .5h0m.5-1.5h0m.5 .5h0m.5 1h0m.5 1h0m.5 .5h0m-24 6h0m0-.5h0m.5-1.5h0m1-1.5h0m.5 2.5h0m0 .5h0m.5-3h0m0 2.5h0m.5 1h0m0-3.5h0m0 2h0m0-.5h0m.5 1.5h0m0 .5h0m0-3.5h0m.5 3h0m0-3h0m0-.5h0m1 2.5h0m0 1h0m0-4.5h0m0 2h0m.5-1h0m0-.5h0m0 4.5h0m.5-5.5h0m0 1h0m0 1.5h0m.5-.5h0m0 1h0m.5-2.5h0m0 1.5h0m.5-1.5h0m.5 0h0m0-.5h0m0 1h0m1-1h0m.5 0h0m13 1h0m1-1h0m1 4.5h0m0-3h0m.5 1.5h0m0-1.5h0m.5-1.5h0m.5 5.5h0m.5-.5h0m0-.5h0m.5-.5h0m0-.5h0m0-1h0m.5 0h0m0 2.5h0m0-.5h0m.5-1h0m.5 1.5h0m1 .5h0m.5-1.5h0m-33 4h0m.5 1.5h0m0 1h0m.5 .5h0m0-.5h0m0 1h0m.5-3.5h0m0 2h0m0-.5h0m.5-2h0m0 1h0m0-.5h0m.5 1h0m0 2.5h0m0-4h0m.5 .5h0m0 1.5h0m0 1h0m0 1h0m.5-2.5h0m0 1h0m0-.5h0m0 1h0m0-4.5h0m0 1h0m.5 3.5h0m0-4.5h0m0 1.5h0m.5 0h0m0-.5h0m0 1.5h0m0 1.5h0m0 1h0m0-.5h0m0 1h0m.5-1.5h0m0 1.5h0m0-5.5h0m0 1.5h0m.5-.5h0m0 4h0m0-5h0m0 5.5h0m.5-2h0m0 2h0m0-5.5h0m0 3h0m.5 1h0m.5-2h0m0 .5h0m1-2.5h0m21.5 0h0m1 1.5h0m1-1.5h0m0 4.5h0m0-2h0m.5 1.5h0m.5-.5h0m.5-1h0m.5 3h0m1 0h0m0-.5h0m1 0h0m-37.5 5h0m0 1h0m.5-1.5h0m0 1h0m0-3.5h0m.5 3h0m0 1.5h0m0-4h0m.5 2.5h0m0-4h0m0 2h0m.5-1h0m0 2.5h0m0 1.5h0m0-.5h0m.5 0h0m0-4h0m0 2h0m0 2.5h0m.5-2h0m0 .5h0m0 1h0m.5 1h0m0-5h0m.5 0h0m0 2h0m0 .5h0m0 1h0m.5-1.5h0m0 1.5h0m0-.5h0m0 2h0m0-5h0m0 1h0m.5 1.5h0m0-.5h0m.5-1.5h0m0 2.5h0m0-3h0m.5 2h0m0 .5h0m0 1h0m0-.5h0m.5-2h0m0-.5h0m0 1h0m0 1h0m0-2.5h0m.5 2h0m0-1h0m.5 0h0m0 1.5h0m.5-2.5h0m27 0h0m.5-.5h0m0 .5h0m.5 4.5h0m0-3.5h0m0 .5h0m0 1h0m.5 2.5h0m0-1h0m0 .5h0m.5-5h0m0 4.5h0m0-.5h0m.5-3h0m0 1h0m0 3.5h0m.5-3h0m0 2.5h0m0-5h0m.5 4h0m0-2.5h0m.5 1h0m1 .5h0m0 2h0m-43 6h0m1.5-1h0m0 .5h0m0-4.5h0m.5 1.5h0m0 1h0m0 2.5h0m.5-1.5h0m0-3h0m0 .5h0m0 1.5h0m0-.5h0m.5 1.5h0m0 1.5h0m.5-3h0m0 1h0m0 1.5h0m0-4h0m.5 2.5h0m0-3h0m0 5.5h0m0-3.5h0m.5 1.5h0m0-.5h0m0 2h0m0-5h0m0 4.5h0m0-4h0m.5 0h0m0-.5h0m.5 5h0m.5 .5h0m0-5h0m0-.5h0m0 1h0m0 2h0m0 .5h0m.5 1.5h0m0-.5h0m0-3.5h0m0 1.5h0m0-.5h0m0 2h0m.5 1.5h0m0-5h0m0 1h0m0 2h0m0-.5h0m.5-1.5h0m0 2h0m0 1h0m0-4h0m.5-.5h0m0 3.5h0m.5-2h0m0-1.5h0m.5 1.5h0m0-1.5h0m0 4.5h0m.5-3h0m0 2h0m0 1.5h0m1 0h0m.5-1h0m0 1h0m0 .5h0m29-5.5h0m0 2h0m0-.5h0m.5-.5h0m0 1h0m0 3h0m.5-4.5h0m0 3.5h0m0-4h0m.5 2.5h0m0-.5h0m0-2h0m0 5.5h0m.5 0h0m0-4h0m0 3.5h0m0-4h0m1 1.5h0m.5 1h0m0-.5h0m-43.5 4h0m0 1h0m.5 1h0m1 .5h0m0 1.5h0m.5-5h0m0 1h0m.5 2h0m0 1.5h0m0-4h0m0-.5h0m0 2.5h0m.5 1.5h0m0 1.5h0m.5-4.5h0m0 1.5h0m0 1h0m0-.5h0m0-3h0m0 5.5h0m.5-3.5h0m0 1h0m0 1h0m0 1h0m0-4.5h0m0 .5h0m.5 1.5h0m0 .5h0m0-2h0m0-.5h0m.5 3h0m0 2h0m0-5h0m0-.5h0m0 2h0m.5 1.5h0m0-2h0m0 .5h0m0 1h0m.5-2.5h0m0 1.5h0m0 1h0m0 1h0m.5 0h0m0 1h0m0-.5h0m0-4h0m0 1h0m0 1.5h0m.5 1h0m.5-2h0m0 2.5h0m.5 1h0m0-3h0m0 1.5h0m0-.5h0m.5-1h0m0 1h0m0-.5h0m0-3h0m.5 5.5h0m0-3h0m.5-2h0m0 2.5h0m0 1h0m.5-1.5h0m.5-1h0m0 1h0m0-.5h0m0 1h0m0-3h0m.5 2h0m0 2h0m0-4h0m0 5.5h0m0-5h0m0 .5h0m0 1.5h0m.5 1h0m0 2h0m0-5h0m.5 3.5h0m0-1h0m.5 0h0m0 1.5h0m0 1h0m1-.5h0m26 .5h0m0-2.5h0m.5 0h0m.5-.5h0m0-.5h0m.5-2h0m0 1.5h0m0 3h0m.5 1h0m0-3h0m0 2h0m.5-1h0m0-.5h0m0 1.5h0m.5-3.5h0m0 .5h0m0 1h0m33 2h0m.5 0h0m1-1.5h0m0 1h0m0 1h0m.5-1.5h0m-78 5h0m2.5-2h0m0 1h0m0 2.5h0m.5-2h0m0-1.5h0m.5 .5h0m0 1h0m0 2.5h0m.5-2.5h0m0 1.5h0m.5 0h0m0-3.5h0m0 1h0m0-.5h0m.5 2h0m0 1.5h0m.5 1h0m0-4.5h0m.5 2.5h0m0 1h0m0 1h0m0-4.5h0m0 1.5h0m0 1.5h0m.5-1h0m0 1h0m0-.5h0m.5-2h0m.5 3h0m0 1h0m0-5h0m0 5.5h0m0-5h0m.5 4h0m0-3.5h0m1 4.5h0m0-2h0m.5-3.5h0m.5 1.5h0m0 2.5h0m.5-3h0m0 4h0m0-5h0m.5 0h0m0 2h0m.5 .5h0m0 1.5h0m0 .5h0m.5-2h0m0 .5h0m0 1.5h0m0-3.5h0m0 4.5h0m.5-2.5h0m0-2h0m0 1.5h0m.5 1h0m0-3h0m.5 3h0m0 1h0m0 .5h0m.5-1h0m0-4h0m0 4.5h0m0-2h0m.5 2.5h0m0-4h0m0 1.5h0m.5 1.5h0m0-4h0m.5 4h0m0-2.5h0m.5-1h0m0 3.5h0m.5-1h0m1.5 2.5h0m21.5-2.5h0m.5-.5h0m.5 1h0m0-1h0m.5-2.5h0m0 .5h0m0 1h0m0 1.5h0m.5-2h0m.5 .5h0m0-1.5h0m1 0h0m33 2h0m0-.5h0m0 1.5h0m.5 1.5h0m-76 1.5h0m.5 0h0m.5 2h0m.5 2.5h0m1-3h0m.5 0h0m.5 .5h0m0-2h0m.5 0h0m.5 1.5h0m0 1h0m0-2.5h0m.5 3h0m0 1h0m0-4h0m0 2.5h0m.5 .5h0m0 2h0m0-5h0m.5 0h0m.5 0h0m.5 0h0m0 .5h0m0 1h0m0 1h0m.5-.5h0m.5 2h0m.5 1.5h0m0-2h0m0-.5h0m0 2h0m0-5h0m.5 1h0m0 .5h0m0 1h0m0 2h0m.5-3h0m0 1.5h0m0 1.5h0m.5-2.5h0m0 1.5h0m0 1.5h0m0-5h0m.5 1h0m0-.5h0m0 3h0m0 .5h0m.5-1.5h0m0-.5h0m0 1h0m0 2h0m0 .5h0m0-5h0m.5 2h0m.5 2h0m0 1h0m.5-3h0m0-2.5h0m0 2h0m1 2h0m0 1.5h0m.5-3h0m0-.5h0m0-.5h0m.5-1h0m0 1.5h0m.5 1h0m0 2.5h0m0-4h0m.5 3.5h0m0-2h0m.5 1.5h0m0 1h0m0-3.5h0m0 2h0m.5-.5h0m0 .5h0m0 1.5h0m.5-.5h0m0-3.5h0m0 3h0m.5 1h0m0-3h0m0 1h0m0-.5h0m.5-.5h0m0 1h0m1-.5h0m.5 1.5h0m0 .5h0m55.5-3h0m-70 4.5h0m1-.5h0m.5 .5h0m.5 .5h0m0 .5h0m1.5-1h0m0 2.5h0m.5-.5h0m.5-.5h0m.5-1h0m0 1h0m0-2h0m.5 4h0m0-4h0m.5 2.5h0m0 2.5h0m.5-4h0m0-.5h0m0 1h0m0 2h0m0 .5h0m.5 0h0m0-3.5h0m0 .5h0m.5-.5h0m0 1h0m0 1h0m0-1.5h0m.5-.5h0m0 3h0m0-.5h0m0 1h0m0-4h0m.5 2.5h0m0 .5h0m.5-.5h0m0 .5h0m0 2h0m0-4h0m.5 1h0m0 .5h0m.5 0h0m0 1h0m0 2h0m0-3.5h0m.5 2.5h0m0-4h0m0 2h0m0-.5h0m0 1.5h0m0-.5h0m.5-2h0m0 1.5h0m.5 1h0m0 .5h0m0 1h0m0-3h0m.5-2h0m0 5.5h0m0-4h0m0 2h0m0-.5h0m.5 1.5h0m0-3h0m.5 4h0m0-4h0m0 1.5h0m0 2h0m.5 .5h0m0-.5h0m0-4h0m0 1.5h0m.5 0h0m.5 3h0m0-4h0m0 1h0m0 1h0m0-.5h0m0 1h0m0 1h0m.5 .5h0m0-.5h0m.5-2.5h0m0 1h0m0-2.5h0m0 .5h0m.5 1h0m0 2.5h0m.5-1h0m0 1h0m0 .5h0m0-4h0m0 1h0m.5 2.5h0m0 .5h0m1 0h0m49.5-.5h0m.5-1.5h0m0 1h0m.5 1h0m0-.5h0m.5 .5h0m-58.5 .5h0m0 .5h0m.5 1h0m1 0h0m.5-1.5h0m.5 .5h0m1-.5h0m.5 .5h0m0-.5h0m.5 0h0m.5 1.5h0m0-.5h0m.5-1h0m0 1h0m0 .5h0m.5-1.5h0m.5 0h0m0 .5h0m.5 0h0m0 1.5h0m0-.5h0m.5-1.5h0m0 1h0m0-.5h0m.5 0h0m.5 1h0m46.5 1h0m.5-1h0m0 .5h0m.5 1h0m0 1.5h0m0 1h0m0-4h0m.5-.5h0m0 2h0m0 .5h0m0 1.5h0m.5 0h0m0-3h0m.5 3h0m.5 .5h0m0-5h0m0 4.5h0m0-3h0m0 1h0m0 1h0m.5-1.5h0m0 1h0m0-3h0m0 1h0m0-.5h0m0 2h0m.5-2h0m.5 4h0m.5-.5h0m.5 0h0m-6.5 7h0m1-1.5h0m0-.5h0m0 1h0m.5-1h0m0-3.5h0m.5 1h0m0 1.5h0m0 1h0m0-2h0m.5-1.5h0m0 1.5h0m0 1.5h0m0-.5h0m0 1h0m.5 .5h0m0 1.5h0m.5-1.5h0m0-.5h0m1-.5h0m.5 1h0m0 1h0m0-3.5h0m.5 1.5h0m.5 .5h0m0-3h0m0 1h0m0 1h0m.5 .5h0m.5-2h0m0 1h0m.5 2.5h0m0 1h0m0-4.5h0m1 2.5h0m-12.5 8h0m1.5-2.5h0m.5 .5h0m0-3h0m.5 1.5h0m.5 0h0m1-1.5h0m0-.5h0m0 2.5h0m0-.5h0m0 2h0m.5-2h0m0 2.5h0m.5-4h0m0 .5h0m0 2.5h0m0 2h0m.5 0h0m0-4h0m.5-.5h0m0 1.5h0m0 .5h0m0 .5h0m.5-3.5h0m0 1h0m0 1h0m0 1.5h0m0 1.5h0m.5-2.5h0m0 2h0m0-4.5h0m.5 1h0m0-1h0m.5 2.5h0m0 1h0m0 2h0m0-5h0m0 1.5h0m.5 0h0m0-1.5h0m0-.5h0m0 1h0m.5 2h0m0-2.5h0m0 .5h0m.5 2h0m0 2.5h0m0-3.5h0m.5 1.5h0m.5-1h0m.5 1h0m0-2.5h0m-52 7h0m.5 1h0m.5-1.5h0m0 2h0m1 .5h0m0-1.5h0m.5 0h0m0 2h0m0-3h0m.5 3h0m0 .5h0m0-4h0m0 2h0m0 .5h0m.5 0h0m0-3.5h0m0 1.5h0m0 1h0m.5-1.5h0m0 1.5h0m0 1h0m.5 2h0m.5-3.5h0m.5 2.5h0m.5-1h0m0 1h0m.5-1h0m0 2h0m0-.5h0m.5-1.5h0m0 1h0m.5-1h0m.5 1h0m.5-1h0m.5 1h0m.5-.5h0m2.5 1h0m.5 0h0m2 .5h0m15.5-.5h0m1 0h0m2 0h0m1-2.5h0m.5 2.5h0m.5-1h0m1 .5h0m1-1h0m.5 1.5h0m1-2h0m.5 1h0m0-.5h0m.5 1.5h0m0-4h0m.5 1.5h0m0 1h0m0 2h0m.5-5h0m0 .5h0m0 4h0m.5-1h0m0 .5h0m0 1h0m.5-3h0m0-.5h0m0-.5h0m.5 4h0m0-2.5h0m0-.5h0m.5 1h0m0 1.5h0m0 .5h0m0-5h0m.5 1.5h0m.5 3.5h0m0-5.5h0m0 2h0m0 .5h0m1-2.5h0m0 1.5h0m0 2.5h0m.5 0h0m0 1h0m0-3h0m.5-1.5h0m0 1h0m0-.5h0m0 4h0m0-.5h0m.5-2h0m0 1.5h0m.5 0h0m0-4h0m0 5.5h0m0-4h0m0 1h0m0 .5h0m.5 1h0m.5 1.5h0m0-5h0m0 2h0m0-2.5h0m.5 4.5h0m0-4h0m0 .5h0m.5 4h0m.5-3h0m0 2h0m0-.5h0m0-1h0m1-2h0m0 1h0m.5 2.5h0m1-1h0m-48 3.5h0m0-.5h0m2 1h0m.5-1h0m0 2h0m.5 0h0m0 .5h0m0-2.5h0m.5 1h0m0 1h0m0 1.5h0m.5-2.5h0m0 2h0m0 1h0m1-3h0m0 2h0m0-2.5h0m.5 4.5h0m0-.5h0m0-4.5h0m0 1h0m1 2.5h0m0 1h0m0-3.5h0m0 3h0m.5 0h0m0-3.5h0m0 1.5h0m0-.5h0m0 1.5h0m.5-1h0m0-2h0m.5 3.5h0m0-1h0m.5 2.5h0m0-3.5h0m0 .5h0m.5-1.5h0m0 .5h0m0 1.5h0m.5-2h0m0 .5h0m0 1.5h0m.5-1.5h0m.5 1h0m.5 3.5h0m.5-1h0m.5-4h0m0 .5h0m.5 1h0m0 2h0m0-.5h0m0-2.5h0m.5 1h0m0 .5h0m0 1h0m.5-.5h0m0-.5h0m0-1.5h0m.5 3h0m0-.5h0m.5-.5h0m0 .5h0m0 2h0m0-5h0m.5 0h0m.5 2h0m0 2.5h0m0-4h0m.5 3.5h0m0 1h0m0-4h0m.5 3h0m0-3.5h0m0 1h0m.5 1h0m0 1.5h0m0-2.5h0m.5 3.5h0m0-1.5h0m.5 1.5h0m0-3h0m0-.5h0m.5 3.5h0m0-1h0m.5-.5h0m.5-2h0m0-.5h0m0 1.5h0m0-.5h0m0 1.5h0m0 1h0m0-4h0m.5 1h0m.5-1.5h0m0 3.5h0m.5-1h0m0-.5h0m0 1.5h0m0 .5h0m.5-.5h0m0 1.5h0m.5-3.5h0m0 3.5h0m0-3h0m.5 3h0m.5-2h0m0-2.5h0m0 1.5h0m0 1.5h0m1 0h0m0 .5h0m0 1h0m.5-.5h0m0-.5h0m0 1h0m0-3h0m0-.5h0m.5 1.5h0m0 1h0m0-4h0m0 2h0m.5 3h0m0-2.5h0m.5 1h0m0 1h0m0 .5h0m0-5h0m0 1h0m.5 2.5h0m0-4h0m0 5.5h0m0-4h0m.5 4h0m0-3.5h0m0 1.5h0m.5-2.5h0m0 2h0m0 .5h0m0 1.5h0m.5-2.5h0m0 1.5h0m0-.5h0m0-2h0m.5 0h0m0 2.5h0m.5-2h0m0 .5h0m0 1.5h0m0 .5h0m0-4h0m0 .5h0m.5 2h0m0 .5h0m0 1.5h0m0-.5h0m0-3h0m.5-1.5h0m0 1.5h0m0 1h0m0-2h0m.5 0h0m.5 .5h0m0 1.5h0m0 .5h0m0 1h0m0 1h0m0 .5h0m.5-3h0m0 1h0m0 1.5h0m0-.5h0m0-3h0m0-.5h0m0 1h0m.5 2.5h0m0 1h0m0-3.5h0m.5-1.5h0m.5 1.5h0m.5 3h0m0-.5h0m.5-4.5h0m0 1h0m.5 4h0m0 .5h0m0-4h0m0 .5h0m.5 3.5h0m0-5h0m0 2h0m0 .5h0m0 1h0m.5 1.5h0m0-3h0m.5 1h0m0-3.5h0m.5 3.5h0m0 .5h0m1-3h0m0 1h0m0 3.5h0m0-5h0m0 1h0m.5-.5h0m0 2h0m0 1h0m0-.5h0m0 1.5h0m0-.5h0m0-4h0m.5 3h0m0 1h0m0-4h0m0-.5h0m0 1.5h0m.5 1h0m0 1.5h0m.5-2h0m0 2h0m.5 .5h0m0-4h0m1 0h0m0 .5h0m.5 .5h0m.5-1.5h0m0 4h0m.5-4h0m0 1h0m.5-1h0m0 .5h0m.5-.5h0m.5 0h0m0 2h0m-37.5 4h0m1 .5h0m1 0h0m1.5 1.5h0m1-.5h0m.5-1h0m0 1h0m0 .5h0m.5-1h0m.5 1h0m0 1h0m.5-3h0m1 1h0m0-1h0m0 1.5h0m.5-1.5h0m0 1.5h0m0-.5h0m0 2h0m0 .5h0m.5-.5h0m1-3h0m0 1h0m0 1.5h0m1.5-2h0m0 1.5h0m0 .5h0m.5-2h0m0 1.5h0m1-1.5h0m0-.5h0m0 2.5h0m0 1h0m.5-1.5h0m0-2h0m.5 .5h0m0 2h0m0-.5h0m0 2h0m.5-4h0m0 .5h0m0 3.5h0m1-4h0m0 .5h0m.5 1h0m.5 .5h0m0 1h0m.5-1.5h0m.5 3.5h0m0-3.5h0m.5 0h0m0 .5h0m0 2h0m.5-1h0m0 .5h0m0-3h0m.5-.5h0m0 1.5h0m0 .5h0m.5-1h0m0 3h0m.5-4h0m0 4.5h0m0-2.5h0m.5-2h0m0 .5h0m1-.5h0m0 1h0m0 1.5h0m.5-1h0m.5-1.5h0m0 2.5h0m1-2.5h0m0 2.5h0m0 .5h0m0 .5h0m0-3h0m.5 .5h0m.5 0h0m.5 0h0m.5 2h0m0-1h0m.5 .5h0m.5-2.5h0m0 1.5h0m0 1h0m.5-1h0m0 .5h0m.5-2h0m0 1.5h0m.5 0h0m0 .5h0m.5-2h0m1 0h0m0 1h0m.5-1h0" stroke="#50a870" stroke-width="1.9" stroke-linecap="round" fill="none"/>
<path d="M248 2045.5h0m1.5 0h0m1.5-.5h0m.5-.5h0m.5 .5h0m.5 .5h0m1.5-1h0m.5 0h0m0 1h0m.5 0h0m0-.5h0m0-.5h0m.5 0h0m.5-.5h0m0 1h0m0-.5h0m.5-1h0m0 .5h0m.5-.5h0m.5 0h0m0 .5h0m.5 .5h0m.5-1h0m.5 .5h0m0-.5h0m-17.5 5.5h0m1-1.5h0m0 1h0m.5 0h0m0-.5h0m.5-.5h0m0 .5h0m0 1.5h0m.5-2.5h0m0 .5h0m.5-.5h0m1-.5h0m0 1h0m.5-.5h0m0 1.5h0m0-2h0m1 2.5h0m0-2h0m0-.5h0m.5 0h0m0 1.5h0m0-.5h0m.5-1.5h0m0 1h0m.5 0h0m.5 .5h0m0-1h0m.5 .5h0m0-1h0m.5 0h0m.5 .5h0m0-.5h0m.5 1h0m1-.5h0m0-.5h0" stroke="#c09020" stroke-width="1.9" stroke-linecap="round" fill="none"/>
<path d="M284.5 2037.5h0m.5 1h0m0-2h0m.5 .5h0m0 .5h0m0 1h0m.5 .5h0m0-1h0m0 1.5h0m1-1h0m0-.5h0m.5 1.5h0m0-.5h0m.5 .5h0m-2 .5h0m1.5 .5h0m.5 .5h0m0-.5h0m0 1h0m0-1.5h0m.5 0h0m0 .5h0m.5 .5h0m0 1h0m1-.5h0m.5 .5h0m1 .5h0m.5 .5h0m0 .5h0" stroke="#b08020" stroke-width="1.9" stroke-linecap="round" fill="none"/>
<path d="M177.5 2052h0m.5 0h0m.5 .5h0m0 .5h0m.5 0h0m.5 1h0m0 .5h0m.5 0h0m0-.5h0m.5 .5h0m0 1.5h0m.5-.5h0m.5 .5h0m0 .5h0m0-1.5h0m1 2.5h0m.5-.5h0m-.5 1h0m.5 .5h0m.5 1.5h0m.5 0h0m0 1.5h0m0-2h0m0 1h0m.5 1.5h0m0-1h0m.5 .5h0m0 1h0m.5 0h0m0 1h0" stroke="#c04858" stroke-width="1.9" stroke-linecap="round" fill="none"/>
<path d="M187 2065h0m0-1h0m.5 3h0m0-2h0m0-.5h0m.5 2.5h0m0 1h0m0-.5h0m0-2h0m.5 3.5h0m0-.5h0m0-.5h0m.5 1h0m.5 0h0m-1 2.5h0m.5-1.5h0m0 1.5h0m0-.5h0m0 1.5h0m0-2h0m.5 2h0m0 3h0m.5-1h0m0-.5h0m0-1.5h0m0 3h0m0-2h0m.5-1h0m-2 8.5h0m0-2h0m0-.5h0m0 3h0m.5-2.5h0m0-.5h0m0 3h0m.5-2h0m0-.5h0m0-1.5h0" stroke="#e070c0" stroke-width="1.9" stroke-linecap="round" fill="none"/>
<path d="M162 2325.5h0m.5 0h0m.5 1.5h0m0-.5h0m0-.5h0" stroke="#b06060" stroke-width="1.9" stroke-linecap="round" fill="none"/>
<line x1="127.2" y1="2021.1" x2="127.2" y2="2366.6" stroke="#222" stroke-width="1.3"/>
<line x1="126.6" y1="2366" x2="472.4" y2="2366" stroke="#222" stroke-width="1.3"/>
<line x1="122.7" y1="2028.9" x2="127.2" y2="2028.9" stroke="#222" stroke-width="1.3"/>
<text x="120.3" y="2033.4" font-size="19" text-anchor="end">15</text>
<line x1="122.7" y1="2089.1" x2="127.2" y2="2089.1" stroke="#222" stroke-width="1.3"/>
<text x="120.3" y="2093.6" font-size="19" text-anchor="end">10</text>
<line x1="122.7" y1="2149" x2="127.2" y2="2149" stroke="#222" stroke-width="1.3"/>
<text x="120.3" y="2153.5" font-size="19" text-anchor="end">5</text>
<line x1="122.7" y1="2209.2" x2="127.2" y2="2209.2" stroke="#222" stroke-width="1.3"/>
<text x="120.3" y="2213.7" font-size="19" text-anchor="end">0</text>
<line x1="122.7" y1="2269.1" x2="127.2" y2="2269.1" stroke="#222" stroke-width="1.3"/>
<text x="120.3" y="2273.6" font-size="19" text-anchor="end">-5</text>
<line x1="122.7" y1="2329" x2="127.2" y2="2329" stroke="#222" stroke-width="1.3"/>
<text x="120.3" y="2333.5" font-size="19" text-anchor="end">-10</text>
<line x1="139" y1="2366" x2="139" y2="2370.5" stroke="#222" stroke-width="1.3"/>
<text x="136.8" y="2388.8" font-size="19.3" text-anchor="middle">-10</text>
<line x1="203.2" y1="2366" x2="203.2" y2="2370.5" stroke="#222" stroke-width="1.3"/>
<text x="201" y="2388.8" font-size="19.3" text-anchor="middle">-5</text>
<line x1="267.4" y1="2366" x2="267.4" y2="2370.5" stroke="#222" stroke-width="1.3"/>
<text x="267.4" y="2388.8" font-size="19.3" text-anchor="middle">0</text>
<line x1="331.9" y1="2366" x2="331.9" y2="2370.5" stroke="#222" stroke-width="1.3"/>
<text x="331.9" y="2388.8" font-size="19.3" text-anchor="middle">5</text>
<line x1="396.2" y1="2366" x2="396.2" y2="2370.5" stroke="#222" stroke-width="1.3"/>
<text x="396.2" y="2388.8" font-size="19.3" text-anchor="middle">10</text>
<line x1="460.4" y1="2366" x2="460.4" y2="2370.5" stroke="#222" stroke-width="1.3"/>
<text x="460.4" y="2388.8" font-size="19.3" text-anchor="middle">15</text>
<text font-size="20.6" text-anchor="middle" transform="translate(86 2180.8) rotate(-90)">UMAP_2</text>
<text x="265.3" y="2412.6" font-size="19.07">UMAP_1</text>
<text x="145.7" y="2035.7" font-size="19.7">Vascular mural cells</text>
<text x="262.5" y="2058.8" font-size="19.7">T cells</text>
<text x="192.1" y="2082.6" font-size="19.7">Mesenchymal</text>
<text x="239.3" y="2117.5" font-size="19.7">Monocytes/Macrophages</text>
<text x="386" y="2177.1" font-size="19.7">DCs</text>
<text x="232.2" y="2203.9" font-size="19.7">Basophils</text>
<text x="135.9" y="2244.1" font-size="19.7">Neutrophils</text>
<text x="289.6" y="2248.7" font-size="19.7">GMPs</text>
<text x="359.1" y="2246.2" font-size="19.7">Erythroid cells</text>
<text x="345.8" y="2305.8" font-size="19.7">B cells</text>
<text x="139.6" y="2353.7" font-size="19.7">Epithelial cells</text>
<line x1="598" y1="2095.4" x2="598" y2="2320.2" stroke="#000" stroke-width="1.9"/>
<line x1="597.1" y1="2319.3" x2="1030.6" y2="2319.3" stroke="#000" stroke-width="1.9"/>
<line x1="591" y1="2308.9" x2="598" y2="2308.9" stroke="#000" stroke-width="1.8"/>
<text x="589.7" y="2316.6" font-size="21.7" text-anchor="end">0.0</text>
<line x1="591" y1="2263.4" x2="598" y2="2263.4" stroke="#000" stroke-width="1.8"/>
<text x="589.7" y="2271.1" font-size="21.7" text-anchor="end">0.5</text>
<line x1="591" y1="2217.9" x2="598" y2="2217.9" stroke="#000" stroke-width="1.8"/>
<text x="589.7" y="2225.6" font-size="21.7" text-anchor="end">1.0</text>
<line x1="591" y1="2172.5" x2="598" y2="2172.5" stroke="#000" stroke-width="1.8"/>
<text x="589.7" y="2180.2" font-size="21.7" text-anchor="end">1.5</text>
<line x1="591" y1="2127" x2="598" y2="2127" stroke="#000" stroke-width="1.8"/>
<text x="589.7" y="2134.7" font-size="21.7" text-anchor="end">2.0</text>
<line x1="620.9" y1="2319.3" x2="620.9" y2="2325.3" stroke="#1a1a1a" stroke-width="1.6"/>
<line x1="659.5" y1="2319.3" x2="659.5" y2="2325.3" stroke="#1a1a1a" stroke-width="1.6"/>
<line x1="698.1" y1="2319.3" x2="698.1" y2="2325.3" stroke="#1a1a1a" stroke-width="1.6"/>
<line x1="736.7" y1="2319.3" x2="736.7" y2="2325.3" stroke="#1a1a1a" stroke-width="1.6"/>
<line x1="775.3" y1="2319.3" x2="775.3" y2="2325.3" stroke="#1a1a1a" stroke-width="1.6"/>
<line x1="813.9" y1="2319.3" x2="813.9" y2="2325.3" stroke="#1a1a1a" stroke-width="1.6"/>
<line x1="852.5" y1="2319.3" x2="852.5" y2="2325.3" stroke="#1a1a1a" stroke-width="1.6"/>
<line x1="891.1" y1="2319.3" x2="891.1" y2="2325.3" stroke="#1a1a1a" stroke-width="1.6"/>
<line x1="929.7" y1="2319.3" x2="929.7" y2="2325.3" stroke="#1a1a1a" stroke-width="1.6"/>
<line x1="968.3" y1="2319.3" x2="968.3" y2="2325.3" stroke="#1a1a1a" stroke-width="1.6"/>
<line x1="1006.9" y1="2319.3" x2="1006.9" y2="2325.3" stroke="#1a1a1a" stroke-width="1.6"/>
<line x1="603.9" y1="2308.9" x2="637.9" y2="2308.9" stroke="#222" stroke-width="1.3"/>
<line x1="616.9" y1="2308.9" x2="624.9" y2="2308.9" stroke="#333" stroke-width="3"/>
<line x1="642.5" y1="2308.9" x2="676.5" y2="2308.9" stroke="#222" stroke-width="1.3"/>
<line x1="655.5" y1="2308.9" x2="663.5" y2="2308.9" stroke="#333" stroke-width="3"/>
<line x1="681.1" y1="2308.9" x2="715.1" y2="2308.9" stroke="#222" stroke-width="1.3"/>
<line x1="694.1" y1="2308.9" x2="702.1" y2="2308.9" stroke="#333" stroke-width="3"/>
<line x1="698.1" y1="2152.3" x2="698.1" y2="2308.9" stroke="#1a1a1a" stroke-width="1.5"/>
<line x1="719.7" y1="2308.9" x2="753.7" y2="2308.9" stroke="#222" stroke-width="1.3"/>
<line x1="732.7" y1="2308.9" x2="740.7" y2="2308.9" stroke="#333" stroke-width="3"/>
<line x1="736.7" y1="2266" x2="736.7" y2="2308.9" stroke="#1a1a1a" stroke-width="1.5"/>
<line x1="758.3" y1="2308.9" x2="792.3" y2="2308.9" stroke="#222" stroke-width="1.3"/>
<line x1="771.3" y1="2308.9" x2="779.3" y2="2308.9" stroke="#333" stroke-width="3"/>
<line x1="796.9" y1="2308.9" x2="830.9" y2="2308.9" stroke="#222" stroke-width="1.3"/>
<line x1="809.9" y1="2308.9" x2="817.9" y2="2308.9" stroke="#333" stroke-width="3"/>
<line x1="835.5" y1="2308.9" x2="869.5" y2="2308.9" stroke="#222" stroke-width="1.3"/>
<line x1="848.5" y1="2308.9" x2="856.5" y2="2308.9" stroke="#333" stroke-width="3"/>
<line x1="874.1" y1="2308.9" x2="908.1" y2="2308.9" stroke="#222" stroke-width="1.3"/>
<line x1="887.1" y1="2308.9" x2="895.1" y2="2308.9" stroke="#333" stroke-width="3"/>
<line x1="912.7" y1="2308.9" x2="946.7" y2="2308.9" stroke="#222" stroke-width="1.3"/>
<line x1="925.7" y1="2308.9" x2="933.7" y2="2308.9" stroke="#333" stroke-width="3"/>
<line x1="929.7" y1="2163.6" x2="929.7" y2="2308.9" stroke="#1a1a1a" stroke-width="1.5"/>
<line x1="989.9" y1="2308.9" x2="1023.9" y2="2308.9" stroke="#222" stroke-width="1.3"/>
<line x1="1002.9" y1="2308.9" x2="1010.9" y2="2308.9" stroke="#333" stroke-width="3"/>
<line x1="1006.9" y1="2165.3" x2="1006.9" y2="2308.9" stroke="#1a1a1a" stroke-width="1.5"/>
<path d="M966.6 2105.7C966.5 2108.1 966.3 2114.1 965.6 2119.7C965 2125.4 964.1 2131.9 962.6 2139.7C961.2 2147.4 958.5 2158 957 2166.3C955.4 2174.6 954.1 2182.3 953.3 2189.6C952.5 2196.8 952 2202.9 952.2 2209.5C952.3 2216.2 953.3 2222.8 954.3 2229.5C955.4 2236.1 957.5 2243.9 958.3 2249.4C959.2 2255 959.6 2258.3 959.5 2262.7C959.4 2267.1 958.7 2271.6 957.7 2276C956.6 2280.4 954.1 2285.4 953 2289.3C951.9 2293.2 951.4 2296.5 951 2299.3C950.6 2302.1 950.6 2304.3 950.5 2305.9C950.4 2307.5 950.5 2308.4 950.5 2308.9L986.1 2308.9C986.1 2308.4 986.2 2307.5 986.1 2305.9C986 2304.3 986 2302.1 985.6 2299.3C985.2 2296.5 984.7 2293.2 983.6 2289.3C982.5 2285.4 980 2280.4 978.9 2276C977.9 2271.6 977.2 2267.1 977.1 2262.7C977 2258.3 977.4 2255 978.3 2249.4C979.1 2243.9 981.2 2236.1 982.3 2229.5C983.3 2222.8 984.3 2216.2 984.4 2209.5C984.6 2202.9 984.1 2196.8 983.3 2189.6C982.5 2182.3 981.2 2174.6 979.6 2166.3C978.1 2158 975.4 2147.4 974 2139.7C972.5 2131.9 971.6 2125.4 971 2119.7C970.3 2114.1 970.1 2108.1 970 2105.7Z" fill="#a52030" stroke="#161616" stroke-width="1.3" stroke-linejoin="round"/>
<text font-size="19.69" text-anchor="middle" font-weight="bold" transform="translate(539.9 2215) rotate(-90)">Expression Level</text>
<text x="759.4" y="2095.4" font-size="23.01" font-weight="bold" font-style="italic">Snhg18</text>
<text font-size="20" text-anchor="end" transform="translate(631.3 2344.5) rotate(-45)">Neutrophils</text>
<text font-size="20" text-anchor="end" transform="translate(672.2 2341) rotate(-45)">Monocytes/Macrophages</text>
<text font-size="20" text-anchor="end" transform="translate(712.9 2340.1) rotate(-45)">B cells</text>
<text font-size="20" text-anchor="end" transform="translate(748.5 2338.6) rotate(-45)">GMPs</text>
<text font-size="20" text-anchor="end" transform="translate(789.2 2340.1) rotate(-45)">Erythroid cells</text>
<text font-size="20" text-anchor="end" transform="translate(824.3 2343.1) rotate(-45)">DCs</text>
<text font-size="20" text-anchor="end" transform="translate(864.3 2343.9) rotate(-45)">Basophils</text>
<text font-size="20" text-anchor="end" transform="translate(898.5 2341.6) rotate(-45)">T cells</text>
<text font-size="20" text-anchor="end" transform="translate(937.7 2338.6) rotate(-45)">Vascular mural cells</text>
<text font-size="20" text-anchor="end" transform="translate(980.1 2340.1) rotate(-45)">Mesenchymal</text>
<text font-size="20" text-anchor="end" transform="translate(1020.8 2340.1) rotate(-45)">Epithelial cells</text>
<line x1="1134.1" y1="2076.6" x2="1134.1" y2="2313.9" stroke="#222" stroke-width="1.4"/>
<line x1="1133.4" y1="2313.2" x2="1313.2" y2="2313.2" stroke="#222" stroke-width="1.4"/>
<line x1="1129.6" y1="2302.4" x2="1134.1" y2="2302.4" stroke="#222" stroke-width="1.3"/>
<text x="1125.4" y="2311" font-size="17.5" text-anchor="end">0.00</text>
<line x1="1129.6" y1="2257.4" x2="1134.1" y2="2257.4" stroke="#222" stroke-width="1.3"/>
<text x="1125.4" y="2266" font-size="17.5" text-anchor="end">0.25</text>
<line x1="1129.6" y1="2212.4" x2="1134.1" y2="2212.4" stroke="#222" stroke-width="1.3"/>
<text x="1125.4" y="2221" font-size="17.5" text-anchor="end">0.50</text>
<line x1="1129.6" y1="2167.5" x2="1134.1" y2="2167.5" stroke="#222" stroke-width="1.3"/>
<text x="1125.4" y="2176.1" font-size="17.5" text-anchor="end">0.75</text>
<line x1="1129.6" y1="2122.5" x2="1134.1" y2="2122.5" stroke="#222" stroke-width="1.3"/>
<text x="1125.4" y="2131.1" font-size="17.5" text-anchor="end">1.00</text>
<line x1="1129.6" y1="2077.5" x2="1134.1" y2="2077.5" stroke="#222" stroke-width="1.3"/>
<text x="1125.4" y="2086.1" font-size="17.5" text-anchor="end">1.25</text>
<line x1="1166.9" y1="2313.2" x2="1166.9" y2="2317.2" stroke="#222" stroke-width="1.3"/>
<line x1="1222.9" y1="2313.2" x2="1222.9" y2="2317.2" stroke="#222" stroke-width="1.3"/>
<line x1="1279" y1="2313.2" x2="1279" y2="2317.2" stroke="#222" stroke-width="1.3"/>
<path d="M1164.3 2105.8C1164.3 2108.6 1164.2 2116.9 1164.2 2122.8C1164.1 2128.7 1164.1 2135.4 1163.8 2141.1C1163.4 2146.8 1163 2151.5 1162.2 2156.8C1161.4 2162 1160.4 2167.2 1159.1 2172.4C1157.8 2177.7 1156 2182.5 1154.4 2188.1C1152.7 2193.8 1150.4 2200.8 1149.1 2206.4C1147.9 2212.1 1147.2 2216.4 1147 2222.1C1146.9 2227.7 1147.6 2234.3 1148.1 2240.4C1148.6 2246.5 1150.1 2253.4 1150.2 2258.7C1150.3 2263.9 1149.7 2267.4 1148.6 2271.7C1147.6 2276.1 1145.1 2280.9 1143.9 2284.8C1142.7 2288.7 1142 2292.6 1141.6 2295.2C1141.1 2297.9 1141.3 2299.3 1141.3 2300.5C1141.3 2301.6 1141.3 2302 1141.3 2302.3L1192.5 2302.3C1192.5 2302 1192.5 2301.6 1192.5 2300.5C1192.5 2299.3 1192.7 2297.9 1192.2 2295.2C1191.8 2292.6 1191.1 2288.7 1189.9 2284.8C1188.7 2280.9 1186.2 2276.1 1185.2 2271.7C1184.1 2267.4 1183.5 2263.9 1183.6 2258.7C1183.7 2253.4 1185.2 2246.5 1185.7 2240.4C1186.2 2234.3 1186.9 2227.7 1186.8 2222.1C1186.6 2216.4 1185.9 2212.1 1184.7 2206.4C1183.4 2200.8 1181.1 2193.8 1179.4 2188.1C1177.8 2182.5 1176 2177.7 1174.7 2172.4C1173.4 2167.2 1172.4 2162 1171.6 2156.8C1170.8 2151.5 1170.4 2146.8 1170 2141.1C1169.7 2135.4 1169.7 2128.7 1169.6 2122.8C1169.6 2116.9 1169.5 2108.6 1169.5 2105.8Z" fill="#a9c7e4" stroke="#161616" stroke-width="1.5" stroke-linejoin="round"/>
<path d="M1218.5 2088.1C1218.2 2089.9 1217.9 2094.8 1217.2 2099.3C1216.4 2103.8 1215.1 2109.7 1213.8 2115C1212.4 2120.2 1211.1 2125 1209.3 2130.6C1207.5 2136.3 1204.7 2143.3 1203 2148.9C1201.3 2154.6 1200 2159.4 1199.1 2164.6C1198.2 2169.8 1197.8 2173.8 1197.7 2180.3C1197.6 2186.8 1198.1 2195.5 1198.3 2203.8C1198.6 2212.1 1198.8 2221.2 1199.4 2229.9C1200 2238.6 1201.1 2248.2 1202 2256.1C1202.9 2263.9 1203.7 2271.3 1204.6 2277C1205.5 2282.6 1206.4 2286.5 1207.2 2290C1208 2293.5 1208.7 2295.8 1209.3 2297.9C1209.9 2299.9 1210.5 2301.6 1210.8 2302.3L1235 2302.3C1235.3 2301.6 1235.9 2299.9 1236.5 2297.9C1237.1 2295.8 1237.8 2293.5 1238.6 2290C1239.4 2286.5 1240.3 2282.6 1241.2 2277C1242.1 2271.3 1242.9 2263.9 1243.8 2256.1C1244.7 2248.2 1245.8 2238.6 1246.4 2229.9C1247 2221.2 1247.2 2212.1 1247.5 2203.8C1247.7 2195.5 1248.2 2186.8 1248.1 2180.3C1248 2173.8 1247.6 2169.8 1246.7 2164.6C1245.8 2159.4 1244.5 2154.6 1242.8 2148.9C1241.1 2143.3 1238.3 2136.3 1236.5 2130.6C1234.7 2125 1233.4 2120.2 1232 2115C1230.7 2109.7 1229.4 2103.8 1228.6 2099.3C1227.9 2094.8 1227.6 2089.9 1227.3 2088.1Z" fill="#233066" stroke="#161616" stroke-width="1.5" stroke-linejoin="round"/>
<path d="M1274 2198.1C1273.6 2199.4 1272.1 2203.3 1271.2 2206.4C1270.2 2209.5 1268.9 2213.8 1268.3 2216.9C1267.7 2219.9 1267.5 2221.7 1267.5 2224.7C1267.5 2227.7 1267.9 2231.2 1268.5 2235.2C1269.2 2239.1 1270.5 2243.9 1271.2 2248.2C1271.8 2252.6 1272.6 2257.4 1272.5 2261.3C1272.4 2265.2 1271.9 2268.2 1270.6 2271.7C1269.3 2275.2 1266.7 2278.9 1264.6 2282.2C1262.5 2285.4 1259.8 2288.7 1258.1 2291.3C1256.4 2293.9 1255 2296.2 1254.2 2297.9C1253.4 2299.5 1253.5 2300.3 1253.4 2301C1253.3 2301.7 1253.4 2302.1 1253.4 2302.3L1304.6 2302.3C1304.6 2302.1 1304.7 2301.7 1304.6 2301C1304.5 2300.3 1304.6 2299.5 1303.8 2297.9C1303 2296.2 1301.6 2293.9 1299.9 2291.3C1298.2 2288.7 1295.5 2285.4 1293.4 2282.2C1291.3 2278.9 1288.7 2275.2 1287.4 2271.7C1286.1 2268.2 1285.6 2265.2 1285.5 2261.3C1285.4 2257.4 1286.2 2252.6 1286.8 2248.2C1287.5 2243.9 1288.8 2239.1 1289.5 2235.2C1290.1 2231.2 1290.5 2227.7 1290.5 2224.7C1290.5 2221.7 1290.3 2219.9 1289.7 2216.9C1289.1 2213.8 1287.8 2209.5 1286.8 2206.4C1285.9 2203.3 1284.4 2199.4 1284 2198.1Z" fill="#fff" stroke="#161616" stroke-width="1.5" stroke-linejoin="round"/>
<text font-size="19.69" text-anchor="middle" font-weight="bold" transform="translate(1084.4 2185.5) rotate(-90)">Expression Level</text>
<text x="1194.2" y="2065.3" font-size="22.98" font-weight="bold" font-style="italic">Snhg18</text>
<text font-size="20" text-anchor="end" transform="translate(1170 2345.2) rotate(-45)">MSC</text>
<text font-size="20" text-anchor="end" transform="translate(1243 2330.1) rotate(-45)">Osteogenic</text>
<text transform="translate(1308 2323) rotate(-45)" font-size="20" text-anchor="end">Aspn<tspan font-size="12" dy="-7">+</tspan><tspan dy="7"> fibroblast</tspan></text>
<rect x="1280.4" y="2099.8" width="17.7" height="17" fill="#a9c7e4" stroke="#666" stroke-width="0.9"/>
<text x="1307" y="2113.1" font-size="19.7">MSC</text>
<rect x="1280.4" y="2118.8" width="17.7" height="17" fill="#233066" stroke="#666" stroke-width="0.9"/>
<text x="1307" y="2132.5" font-size="19.7">Osteogenic</text>
<rect x="1280.4" y="2137.7" width="17.7" height="17" fill="#fff" stroke="#666" stroke-width="0.9"/>
<text x="1307" y="2153.6" font-size="19.7">Aspn<tspan font-size="12" dy="-7">+</tspan><tspan dy="7"> fibroblast</tspan></text>
</g>
<g id="pl">
<text x="1437.2" y="2008.4" font-size="46" font-weight="bold">l</text>
<text x="1510" y="2028.9" font-size="23.21" font-weight="bold">Correlation Heatmap of Cell Groups</text>
<rect x="1525.9" y="2057.8" width="58.6" height="63.1" fill="#c5202a" stroke="#9a9a9a" stroke-width="0.7"/>
<text x="1555.7" y="2094.2" font-size="19.3" text-anchor="middle" fill="#fff">1.00</text>
<rect x="1584.5" y="2057.8" width="58.9" height="63.1" fill="#636bb5" stroke="#9a9a9a" stroke-width="0.7"/>
<text x="1614.5" y="2094.2" font-size="19.3" text-anchor="middle" fill="#fff">0.76</text>
<rect x="1643.4" y="2057.8" width="58.7" height="63.1" fill="#a5a5d6" stroke="#9a9a9a" stroke-width="0.7"/>
<text x="1673.2" y="2094.2" font-size="19.3" text-anchor="middle" fill="#fff">0.81</text>
<rect x="1702.1" y="2057.8" width="58.9" height="63.1" fill="#314fa3" stroke="#9a9a9a" stroke-width="0.7"/>
<text x="1732" y="2094.2" font-size="19.3" text-anchor="middle" fill="#fff">0.70</text>
<rect x="1525.9" y="2120.9" width="58.6" height="63.4" fill="#636bb5" stroke="#9a9a9a" stroke-width="0.7"/>
<text x="1555.7" y="2157.3" font-size="19.3" text-anchor="middle" fill="#fff">0.76</text>
<rect x="1584.5" y="2120.9" width="58.9" height="63.4" fill="#c5202a" stroke="#9a9a9a" stroke-width="0.7"/>
<text x="1614.5" y="2157.3" font-size="19.3" text-anchor="middle" fill="#fff">1.00</text>
<rect x="1643.4" y="2120.9" width="58.7" height="63.4" fill="#3d51a5" stroke="#9a9a9a" stroke-width="0.7"/>
<text x="1673.2" y="2157.3" font-size="19.3" text-anchor="middle" fill="#fff">0.74</text>
<rect x="1702.1" y="2120.9" width="58.9" height="63.4" fill="#646db5" stroke="#9a9a9a" stroke-width="0.7"/>
<text x="1732" y="2157.3" font-size="19.3" text-anchor="middle" fill="#fff">0.77</text>
<rect x="1525.9" y="2184.3" width="58.6" height="63.9" fill="#a5a5d6" stroke="#9a9a9a" stroke-width="0.7"/>
<text x="1555.7" y="2220.7" font-size="19.3" text-anchor="middle" fill="#fff">0.81</text>
<rect x="1584.5" y="2184.3" width="58.9" height="63.9" fill="#3d51a5" stroke="#9a9a9a" stroke-width="0.7"/>
<text x="1614.5" y="2220.7" font-size="19.3" text-anchor="middle" fill="#fff">0.74</text>
<rect x="1643.4" y="2184.3" width="58.7" height="63.9" fill="#c5202a" stroke="#9a9a9a" stroke-width="0.7"/>
<text x="1673.2" y="2220.7" font-size="19.3" text-anchor="middle" fill="#fff">1.00</text>
<rect x="1702.1" y="2184.3" width="58.9" height="63.9" fill="#3d51a5" stroke="#9a9a9a" stroke-width="0.7"/>
<text x="1732" y="2220.7" font-size="19.3" text-anchor="middle" fill="#fff">0.74</text>
<rect x="1525.9" y="2248.2" width="58.6" height="62.8" fill="#314fa3" stroke="#9a9a9a" stroke-width="0.7"/>
<text x="1555.7" y="2284.6" font-size="19.3" text-anchor="middle" fill="#fff">0.70</text>
<rect x="1584.5" y="2248.2" width="58.9" height="62.8" fill="#646db5" stroke="#9a9a9a" stroke-width="0.7"/>
<text x="1614.5" y="2284.6" font-size="19.3" text-anchor="middle" fill="#fff">0.77</text>
<rect x="1643.4" y="2248.2" width="58.7" height="62.8" fill="#3d51a5" stroke="#9a9a9a" stroke-width="0.7"/>
<text x="1673.2" y="2284.6" font-size="19.3" text-anchor="middle" fill="#fff">0.74</text>
<rect x="1702.1" y="2248.2" width="58.9" height="62.8" fill="#c5202a" stroke="#9a9a9a" stroke-width="0.7"/>
<text x="1732" y="2284.6" font-size="19.3" text-anchor="middle" fill="#fff">1.00</text>
<text x="1768.5" y="2096.2" font-size="19.6">MSC_data1</text>
<text x="1768.5" y="2159.5" font-size="19.6">MSC_data2</text>
<text x="1764.3" y="2218.5" font-size="19.6">Osteogenic_data1</text>
<text x="1764.3" y="2282.4" font-size="19.6">Osteogenic_data2</text>
<text font-size="19.6" transform="translate(1553.1 2318.5) rotate(90)">MSC_data1</text>
<text font-size="19.6" transform="translate(1611.5 2318.5) rotate(90)">MSC_data2</text>
<text font-size="19.6" transform="translate(1670.7 2318.5) rotate(90)">Osteogenic_data1</text>
<text font-size="19.6" transform="translate(1729 2318.5) rotate(90)">Osteogenic_data2</text>
<rect x="1888" y="2057.3" width="8.9" height="13.3" fill="#c5202a"/>
<rect x="1888" y="2070.3" width="8.9" height="13.3" fill="#d93a3a"/>
<rect x="1888" y="2083.3" width="8.9" height="13.3" fill="#e26a72"/>
<rect x="1888" y="2096.3" width="8.9" height="13.3" fill="#ec9ea6"/>
<rect x="1888" y="2109.3" width="8.9" height="13.3" fill="#f3d6da"/>
<rect x="1888" y="2122.3" width="8.9" height="13.3" fill="#dcdcf0"/>
<rect x="1888" y="2135.3" width="8.9" height="13.3" fill="#a9a9d8"/>
<rect x="1888" y="2148.3" width="8.9" height="13.3" fill="#6a70b8"/>
<rect x="1888" y="2161.3" width="8.9" height="13.3" fill="#4356a8"/>
<rect x="1888" y="2174.3" width="8.9" height="13.3" fill="#314fa3"/>
<text x="1900.5" y="2064.4" font-size="8.6">1</text>
<text x="1900.5" y="2079.2" font-size="8.6">0.95</text>
<text x="1900.5" y="2101.1" font-size="8.6">0.9</text>
<text x="1900.5" y="2122.8" font-size="8.6">0.85</text>
<text x="1900.5" y="2144.2" font-size="8.6">0.8</text>
<text x="1900.5" y="2165.9" font-size="8.6">0.75</text>
<text x="1900.5" y="2187.6" font-size="8.6">0.7</text>
</g>
</svg>
</body></html>
